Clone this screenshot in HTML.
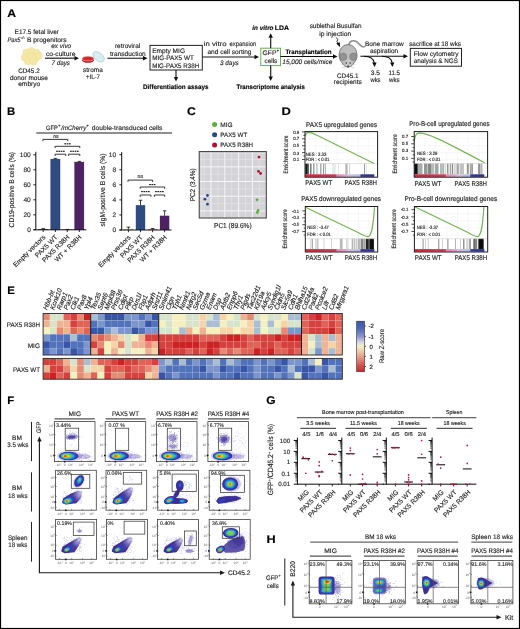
<!DOCTYPE html>
<html><head><meta charset="utf-8"><style>
html,body{margin:0;padding:0;background:#fff;overflow:hidden;}
svg{display:block;will-change:transform;}
text{font-family:"Liberation Sans", sans-serif;text-rendering:geometricPrecision;}
</style></head><body>
<svg width="520" height="629" viewBox="0 0 520 629" fill="#1e1e1e">
<defs>
<filter id="gblur" x="0" y="0" width="100%" height="100%" filterUnits="userSpaceOnUse"><feGaussianBlur stdDeviation="0.28"/></filter>
<filter id="bl45" x="-30%" y="-30%" width="160%" height="160%"><feGaussianBlur stdDeviation="0.45"/></filter>
<filter id="bl30" x="-30%" y="-30%" width="160%" height="160%"><feGaussianBlur stdDeviation="0.3"/></filter>
<filter id="bl70" x="-30%" y="-30%" width="160%" height="160%"><feGaussianBlur stdDeviation="0.7"/></filter>
</defs>
<rect x="0" y="0" width="520" height="629" fill="#fff"/>
<g filter="url(#gblur)">
<text stroke="#000" stroke-width="0.14" x="7.20" y="16.60" font-size="11" font-weight="bold" fill="#000" textLength="8.80" lengthAdjust="spacingAndGlyphs" >A</text>
<text stroke="#1e1e1e" stroke-width="0.14" x="14.60" y="34.30" font-size="6.6" textLength="44.40" lengthAdjust="spacingAndGlyphs" >E17.5 fetal liver</text>
<text stroke="#1e1e1e" stroke-width="0.14" x="7.40" y="41.50" font-size="6.6" font-style="italic" textLength="13.20" lengthAdjust="spacingAndGlyphs" >Pax5</text>
<text stroke="#1e1e1e" stroke-width="0.14" x="20.80" y="38.50" font-size="3.6" textLength="4.20" lengthAdjust="spacingAndGlyphs" >-/-</text>
<text stroke="#1e1e1e" stroke-width="0.14" x="27.00" y="41.50" font-size="6.6" textLength="39.50" lengthAdjust="spacingAndGlyphs" >B progenitors</text>
<circle cx="26.5" cy="52.5" r="3.6" fill="#f6e7a6" stroke="#eddc90" stroke-width="0.5"/>
<circle cx="31.5" cy="51.0" r="3.6" fill="#f6e7a6" stroke="#eddc90" stroke-width="0.5"/>
<circle cx="36.5" cy="52.8" r="3.6" fill="#f6e7a6" stroke="#eddc90" stroke-width="0.5"/>
<circle cx="24.8" cy="57.5" r="3.6" fill="#f6e7a6" stroke="#eddc90" stroke-width="0.5"/>
<circle cx="30.5" cy="56.5" r="3.6" fill="#f6e7a6" stroke="#eddc90" stroke-width="0.5"/>
<circle cx="36.0" cy="57.8" r="3.6" fill="#f6e7a6" stroke="#eddc90" stroke-width="0.5"/>
<circle cx="38.8" cy="55.5" r="3.6" fill="#f6e7a6" stroke="#eddc90" stroke-width="0.5"/>
<circle cx="28.0" cy="61.2" r="3.6" fill="#f6e7a6" stroke="#eddc90" stroke-width="0.5"/>
<circle cx="33.5" cy="61.5" r="3.6" fill="#f6e7a6" stroke="#eddc90" stroke-width="0.5"/>
<text stroke="#1e1e1e" stroke-width="0.14" x="18.20" y="72.50" font-size="6.6" textLength="21.50" lengthAdjust="spacingAndGlyphs" >CD45.2</text>
<text stroke="#1e1e1e" stroke-width="0.14" x="10.00" y="79.90" font-size="6.6" textLength="38.00" lengthAdjust="spacingAndGlyphs" >donor mouse</text>
<text stroke="#1e1e1e" stroke-width="0.14" x="18.20" y="86.10" font-size="6.6" textLength="22.10" lengthAdjust="spacingAndGlyphs" >embryo</text>
<text stroke="#1e1e1e" stroke-width="0.14" x="51.20" y="47.90" font-size="6.6" font-style="italic" textLength="20.00" lengthAdjust="spacingAndGlyphs" >ex vivo</text>
<text stroke="#1e1e1e" stroke-width="0.14" x="46.00" y="55.50" font-size="6.6" textLength="29.40" lengthAdjust="spacingAndGlyphs" >co-culture</text>
<line x1="45.00" y1="58.20" x2="75.00" y2="58.20" stroke="#111" stroke-width="1.1" />
<polygon points="79.00,58.20 74.50,56.00 74.50,60.40" fill="#111"/>
<text stroke="#1e1e1e" stroke-width="0.14" x="51.50" y="65.30" font-size="6.6" font-style="italic" textLength="18.50" lengthAdjust="spacingAndGlyphs" >7 days</text>
<ellipse cx="98.6" cy="56.8" rx="6.6" ry="4.0" transform="rotate(40 98.6 56.8)" fill="#d9edf3" stroke="#9cc3d2" stroke-width="0.6"/>
<ellipse cx="88" cy="59.8" rx="6.1" ry="3.0" fill="#b8161e"/>
<ellipse cx="88" cy="58.6" rx="5.9" ry="2.4" fill="#d42a32" stroke="#f0c4c4" stroke-width="0.6"/>
<text stroke="#1e1e1e" stroke-width="0.14" x="83.00" y="71.70" font-size="6.6" textLength="19.80" lengthAdjust="spacingAndGlyphs" >stroma</text>
<text stroke="#1e1e1e" stroke-width="0.14" x="86.00" y="79.00" font-size="6.6" textLength="14.00" lengthAdjust="spacingAndGlyphs" >+IL-7</text>
<text stroke="#1e1e1e" stroke-width="0.14" x="114.90" y="47.70" font-size="6.6" textLength="25.40" lengthAdjust="spacingAndGlyphs" >retroviral</text>
<text stroke="#1e1e1e" stroke-width="0.14" x="110.00" y="55.50" font-size="6.6" textLength="35.70" lengthAdjust="spacingAndGlyphs" >transduction</text>
<line x1="107.40" y1="58.20" x2="143.50" y2="58.20" stroke="#111" stroke-width="1.1" />
<polygon points="147.50,58.20 143.00,56.00 143.00,60.40" fill="#111"/>
<rect x="150.00" y="45.40" width="52.30" height="24.60" fill="none" stroke="#222" stroke-width="1" />
<text stroke="#1e1e1e" stroke-width="0.14" x="152.20" y="52.50" font-size="6.6" textLength="32.80" lengthAdjust="spacingAndGlyphs" >Empty MIG</text>
<text stroke="#1e1e1e" stroke-width="0.14" x="152.20" y="60.10" font-size="6.6" textLength="41.60" lengthAdjust="spacingAndGlyphs" >MIG-PAX5 WT</text>
<text stroke="#1e1e1e" stroke-width="0.14" x="152.20" y="67.80" font-size="6.6" textLength="47.00" lengthAdjust="spacingAndGlyphs" >MIG-PAX5 R38H</text>
<line x1="176.00" y1="70.00" x2="176.00" y2="77.60" stroke="#111" stroke-width="1.1" />
<polygon points="176.00,81.60 173.80,77.10 178.20,77.10" fill="#111"/>
<text stroke="#000" stroke-width="0.14" x="143.00" y="88.70" font-size="6.4" font-weight="bold" fill="#000" textLength="65.50" lengthAdjust="spacingAndGlyphs" >Differentiation assays</text>
<text stroke="#1e1e1e" stroke-width="0.14" x="203.80" y="46.30" font-size="6.6" textLength="22.70" lengthAdjust="spacingAndGlyphs" >in vitro</text>
<text stroke="#1e1e1e" stroke-width="0.14" x="229.50" y="46.30" font-size="6.6" textLength="26.70" lengthAdjust="spacingAndGlyphs" >expansion</text>
<text stroke="#1e1e1e" stroke-width="0.14" x="207.40" y="54.30" font-size="6.6" textLength="44.10" lengthAdjust="spacingAndGlyphs" >and cell sorting</text>
<line x1="202.30" y1="57.00" x2="255.00" y2="57.00" stroke="#111" stroke-width="1.1" />
<polygon points="259.00,57.00 254.50,54.80 254.50,59.20" fill="#111"/>
<text stroke="#1e1e1e" stroke-width="0.14" x="220.00" y="64.50" font-size="6.6" font-style="italic" textLength="18.80" lengthAdjust="spacingAndGlyphs" >3 days</text>
<rect x="260.80" y="48.20" width="19.70" height="17.40" fill="none" stroke="#6ab04c" stroke-width="1" />
<text stroke="#1e1e1e" stroke-width="0.14" x="262.60" y="55.30" font-size="6.6" textLength="13.90" lengthAdjust="spacingAndGlyphs" >GFP</text>
<text stroke="#1e1e1e" stroke-width="0.14" x="276.70" y="52.00" font-size="3.8" >+</text>
<text stroke="#1e1e1e" stroke-width="0.14" x="264.60" y="62.50" font-size="6.6" textLength="12.60" lengthAdjust="spacingAndGlyphs" >cells</text>
<line x1="270.70" y1="48.20" x2="270.70" y2="37.20" stroke="#111" stroke-width="1.1" />
<polygon points="270.70,33.20 268.50,37.70 272.90,37.70" fill="#111"/>
<line x1="270.70" y1="65.60" x2="270.70" y2="76.90" stroke="#111" stroke-width="1.1" />
<polygon points="270.70,80.90 268.50,76.40 272.90,76.40" fill="#111"/>
<text stroke="#000" stroke-width="0.14" x="252.30" y="30.10" font-size="6.4" font-weight="bold" font-style="italic" fill="#000" textLength="21.20" lengthAdjust="spacingAndGlyphs" >in vitro</text>
<text stroke="#000" stroke-width="0.14" x="274.80" y="30.10" font-size="6.4" font-weight="bold" fill="#000" textLength="14.20" lengthAdjust="spacingAndGlyphs" >LDA</text>
<text stroke="#000" stroke-width="0.14" x="236.50" y="88.70" font-size="6.4" font-weight="bold" fill="#000" textLength="68.50" lengthAdjust="spacingAndGlyphs" >Transcriptome analysis</text>
<text stroke="#000" stroke-width="0.14" x="285.40" y="54.10" font-size="6.6" font-weight="bold" fill="#000" textLength="46.10" lengthAdjust="spacingAndGlyphs" >Transplantation</text>
<line x1="280.50" y1="56.50" x2="333.50" y2="56.50" stroke="#111" stroke-width="1.1" />
<polygon points="337.50,56.50 333.00,54.30 333.00,58.70" fill="#111"/>
<text stroke="#1e1e1e" stroke-width="0.14" x="282.30" y="63.80" font-size="6.6" font-style="italic" textLength="50.00" lengthAdjust="spacingAndGlyphs" >15,000 cells/mice</text>
<text stroke="#1e1e1e" stroke-width="0.14" x="309.70" y="27.90" font-size="6.6" textLength="51.80" lengthAdjust="spacingAndGlyphs" >sublethal Busulfan</text>
<text stroke="#1e1e1e" stroke-width="0.14" x="319.20" y="35.50" font-size="6.6" textLength="32.00" lengthAdjust="spacingAndGlyphs" >ip injection</text>
<path d="M336.3,37.4 L337.9,39.8 L336.8,41.2 L338.2,43.6" fill="none" stroke="#111" stroke-width="0.8"/>
<polygon points="340.2,47.3 336.2,43.6 339.8,42.3" fill="#111"/>
<path d="M348.8,44.8 C349.6,41.2 352.6,40.0 355.6,41.2 C358.6,42.5 360.6,46.6 363.2,46.9 C364.3,47.0 364.9,46.4 365.1,45.9" fill="none" stroke="#6a6a6a" stroke-width="1.4"/>
<path d="M348.8,44.8 C349.6,41.2 352.6,40.0 355.6,41.2 C358.6,42.5 360.6,46.6 363.2,46.9 C364.3,47.0 364.9,46.4 365.1,45.9" fill="none" stroke="#d0d0d0" stroke-width="0.5"/>
<path d="M348.0,44.6 C353.6,44.6 357.0,49.6 357.0,55.2 C357.0,60.2 353.4,63.8 350.8,66.3 Q348.0,68.4 345.2,66.3 C342.6,63.8 339.1,60.2 339.1,55.2 C339.1,49.6 342.4,44.6 348.0,44.6 Z" fill="#bcbcbc" stroke="#555" stroke-width="0.7"/>
<circle cx="343.1" cy="56.8" r="3.7" fill="#929292" stroke="#666" stroke-width="0.4"/>
<circle cx="353.4" cy="56.8" r="3.7" fill="#929292" stroke="#666" stroke-width="0.4"/>
<path d="M345.0,60.5 Q348.2,58.5 351.4,60.5 L350.6,65.8 Q348.2,67.4 345.8,65.8 Z" fill="#c6c6c6"/>
<circle cx="346.3" cy="62.9" r="0.75" fill="#333"/><circle cx="350.1" cy="62.9" r="0.75" fill="#333"/>
<circle cx="348.2" cy="66.4" r="0.9" fill="#333"/>
<path d="M345.2,65.2 L341.2,64.4 M345.4,66.2 L341.8,67.8 M346.0,66.8 L343.6,69.0 M351.2,65.2 L355.2,64.4 M351.0,66.2 L354.6,67.8 M350.4,66.8 L352.8,69.0" stroke="#aaa" stroke-width="0.45"/>
<text stroke="#1e1e1e" stroke-width="0.14" x="337.00" y="77.80" font-size="6.6" textLength="21.50" lengthAdjust="spacingAndGlyphs" >CD45.1</text>
<text stroke="#1e1e1e" stroke-width="0.14" x="333.80" y="84.30" font-size="6.6" textLength="28.00" lengthAdjust="spacingAndGlyphs" >recipients</text>
<text stroke="#1e1e1e" stroke-width="0.14" x="365.00" y="45.90" font-size="6.6" textLength="38.80" lengthAdjust="spacingAndGlyphs" >Bone marrow</text>
<text stroke="#1e1e1e" stroke-width="0.14" x="370.00" y="53.40" font-size="6.6" textLength="28.20" lengthAdjust="spacingAndGlyphs" >aspiration</text>
<line x1="360.30" y1="56.30" x2="404.00" y2="56.30" stroke="#111" stroke-width="1.1" />
<polygon points="408.00,56.30 403.50,54.10 403.50,58.50" fill="#111"/>
<path d="M364,56.3 C370,56.3 373.5,58.5 374.3,63.0" fill="none" stroke="#111" stroke-width="1.1"/>
<polygon points="374.6,67.0 372.2,62.5 376.6,62.6" fill="#111"/>
<path d="M382,56.3 C388,56.3 391.5,58.5 392.2,63.0" fill="none" stroke="#111" stroke-width="1.1"/>
<polygon points="392.4,67.0 390.0,62.5 394.4,62.6" fill="#111"/>
<text stroke="#1e1e1e" stroke-width="0.14" x="370.80" y="74.70" font-size="6.6" textLength="9.20" lengthAdjust="spacingAndGlyphs" >3.5</text>
<text stroke="#1e1e1e" stroke-width="0.14" x="370.50" y="81.70" font-size="6.6" textLength="10.00" lengthAdjust="spacingAndGlyphs" >wks</text>
<text stroke="#1e1e1e" stroke-width="0.14" x="388.50" y="74.70" font-size="6.6" textLength="11.50" lengthAdjust="spacingAndGlyphs" >11.5</text>
<text stroke="#1e1e1e" stroke-width="0.14" x="389.00" y="81.70" font-size="6.6" textLength="10.50" lengthAdjust="spacingAndGlyphs" >wks</text>
<text stroke="#1e1e1e" stroke-width="0.14" x="409.20" y="45.90" font-size="6.6" textLength="51.80" lengthAdjust="spacingAndGlyphs" >sacrifice at 18 wks</text>
<rect x="410.30" y="48.40" width="51.20" height="17.80" fill="none" stroke="#222" stroke-width="1" />
<text stroke="#1e1e1e" stroke-width="0.14" x="413.80" y="55.50" font-size="6.6" textLength="44.70" lengthAdjust="spacingAndGlyphs" >Flow cytometry</text>
<text stroke="#1e1e1e" stroke-width="0.14" x="413.80" y="63.20" font-size="6.6" textLength="44.20" lengthAdjust="spacingAndGlyphs" >analysis &amp; NGS</text>
<text stroke="#000" stroke-width="0.14" x="7.00" y="115.10" font-size="11" font-weight="bold" fill="#000" textLength="8.20" lengthAdjust="spacingAndGlyphs" >B</text>
<text stroke="#1e1e1e" stroke-width="0.14" x="46.00" y="129.80" font-size="6.4" textLength="11.80" lengthAdjust="spacingAndGlyphs" >GFP</text>
<text stroke="#1e1e1e" stroke-width="0.14" x="58.20" y="127.00" font-size="3.8" >+</text>
<text stroke="#1e1e1e" stroke-width="0.14" x="61.20" y="129.80" font-size="6.4" font-style="italic" textLength="25.00" lengthAdjust="spacingAndGlyphs" >/mCherry</text>
<text stroke="#1e1e1e" stroke-width="0.14" x="86.60" y="127.00" font-size="3.8" >+</text>
<text stroke="#1e1e1e" stroke-width="0.14" x="91.80" y="129.80" font-size="6.4" textLength="70.60" lengthAdjust="spacingAndGlyphs" >double-transduced cells</text>
<line x1="36.30" y1="133.00" x2="172.00" y2="133.00" stroke="#6a6a6a" stroke-width="1.4" />
<rect x="38.60" y="229.05" width="9.20" height="0.75" fill="#3a3a3a" />
<line x1="43.20" y1="229.05" x2="43.20" y2="228.60" stroke="#111" stroke-width="0.8" />
<line x1="41.40" y1="228.60" x2="45.00" y2="228.60" stroke="#111" stroke-width="0.8" />
<rect x="50.80" y="159.15" width="9.20" height="70.65" fill="#2d4b82" stroke="#1c2a48" stroke-width="0.4" />
<line x1="55.40" y1="159.15" x2="55.40" y2="158.40" stroke="#111" stroke-width="0.8" />
<line x1="53.60" y1="158.40" x2="57.20" y2="158.40" stroke="#111" stroke-width="0.8" />
<rect x="62.70" y="229.58" width="9.20" height="0.22" fill="#7a1030" />
<line x1="67.30" y1="229.58" x2="67.30" y2="229.43" stroke="#111" stroke-width="0.8" />
<line x1="65.50" y1="229.43" x2="69.10" y2="229.43" stroke="#111" stroke-width="0.8" />
<rect x="74.70" y="162.08" width="9.20" height="67.72" fill="#4e2462" stroke="#35163f" stroke-width="0.4" />
<line x1="79.30" y1="162.08" x2="79.30" y2="161.40" stroke="#111" stroke-width="0.8" />
<line x1="77.50" y1="161.40" x2="81.10" y2="161.40" stroke="#111" stroke-width="0.8" />
<line x1="35.80" y1="151.80" x2="35.80" y2="229.80" stroke="#111" stroke-width="1.0" />
<line x1="33.40" y1="229.80" x2="86.30" y2="229.80" stroke="#111" stroke-width="1.0" />
<line x1="33.40" y1="229.80" x2="35.80" y2="229.80" stroke="#111" stroke-width="0.9" />
<text stroke="#1e1e1e" stroke-width="0.14" x="30.80" y="232.10" font-size="6.6" text-anchor="end" >0</text>
<line x1="33.40" y1="214.80" x2="35.80" y2="214.80" stroke="#111" stroke-width="0.9" />
<text stroke="#1e1e1e" stroke-width="0.14" x="30.80" y="217.10" font-size="6.6" text-anchor="end" >20</text>
<line x1="33.40" y1="199.80" x2="35.80" y2="199.80" stroke="#111" stroke-width="0.9" />
<text stroke="#1e1e1e" stroke-width="0.14" x="30.80" y="202.10" font-size="6.6" text-anchor="end" >40</text>
<line x1="33.40" y1="184.80" x2="35.80" y2="184.80" stroke="#111" stroke-width="0.9" />
<text stroke="#1e1e1e" stroke-width="0.14" x="30.80" y="187.10" font-size="6.6" text-anchor="end" >60</text>
<line x1="33.40" y1="169.80" x2="35.80" y2="169.80" stroke="#111" stroke-width="0.9" />
<text stroke="#1e1e1e" stroke-width="0.14" x="30.80" y="172.10" font-size="6.6" text-anchor="end" >80</text>
<line x1="33.40" y1="154.80" x2="35.80" y2="154.80" stroke="#111" stroke-width="0.9" />
<text stroke="#1e1e1e" stroke-width="0.14" x="30.80" y="157.10" font-size="6.6" text-anchor="end" >100</text>
<line x1="43.20" y1="229.80" x2="43.20" y2="232.00" stroke="#111" stroke-width="0.9" />
<line x1="55.40" y1="229.80" x2="55.40" y2="232.00" stroke="#111" stroke-width="0.9" />
<line x1="67.30" y1="229.80" x2="67.30" y2="232.00" stroke="#111" stroke-width="0.9" />
<line x1="79.30" y1="229.80" x2="79.30" y2="232.00" stroke="#111" stroke-width="0.9" />
<text stroke="#1e1e1e" stroke-width="0.14" font-size="7.2" text-anchor="middle" transform="translate(14.0,189.7) rotate(-90)" textLength="75.4" lengthAdjust="spacingAndGlyphs">CD19-positive B cells (%)</text>
<text stroke="#1e1e1e" stroke-width="0.14" font-size="6.7" text-anchor="end" transform="translate(45.80,237.6) rotate(-45)">Empty vectors</text>
<text stroke="#1e1e1e" stroke-width="0.14" font-size="6.7" text-anchor="end" transform="translate(58.00,237.6) rotate(-45)">PAX5 WT</text>
<text stroke="#1e1e1e" stroke-width="0.14" font-size="6.7" text-anchor="end" transform="translate(69.90,237.6) rotate(-45)">PAX5 R38H</text>
<text stroke="#1e1e1e" stroke-width="0.14" font-size="6.7" text-anchor="end" transform="translate(81.90,237.6) rotate(-45)">WT + R38H</text>
<path d="M42.90,141.20 L42.90,139.40 L67.80,139.40 L67.80,141.20" fill="none" stroke="#222" stroke-width="0.9"/>
<text stroke="#1e1e1e" stroke-width="0.14" x="55.90" y="137.60" font-size="5.2" text-anchor="middle" >ns</text>
<rect x="64.35" y="143.20" width="1.7" height="1.2" fill="#222"/>
<rect x="66.65" y="143.20" width="1.7" height="1.2" fill="#222"/>
<rect x="68.95" y="143.20" width="1.7" height="1.2" fill="#222"/>
<path d="M55.10,148.10 L55.10,146.30 L79.80,146.30 L79.80,148.10" fill="none" stroke="#222" stroke-width="0.9"/>
<rect x="56.10" y="150.70" width="1.7" height="1.2" fill="#222"/>
<rect x="58.40" y="150.70" width="1.7" height="1.2" fill="#222"/>
<rect x="60.70" y="150.70" width="1.7" height="1.2" fill="#222"/>
<rect x="63.00" y="150.70" width="1.7" height="1.2" fill="#222"/>
<rect x="70.10" y="150.70" width="1.7" height="1.2" fill="#222"/>
<rect x="72.40" y="150.70" width="1.7" height="1.2" fill="#222"/>
<rect x="74.70" y="150.70" width="1.7" height="1.2" fill="#222"/>
<rect x="77.00" y="150.70" width="1.7" height="1.2" fill="#222"/>
<path d="M55.10,156.00 L55.10,154.20 L65.80,154.20 L65.80,156.00" fill="none" stroke="#222" stroke-width="0.9"/>
<path d="M68.60,156.00 L68.60,154.20 L79.80,154.20 L79.80,156.00" fill="none" stroke="#222" stroke-width="0.9"/>
<rect x="123.70" y="229.40" width="9.40" height="0.60" fill="#55a035" />
<line x1="128.40" y1="229.40" x2="128.40" y2="227.14" stroke="#111" stroke-width="0.8" />
<line x1="126.60" y1="227.14" x2="130.20" y2="227.14" stroke="#111" stroke-width="0.8" />
<rect x="135.80" y="205.15" width="9.40" height="24.85" fill="#2d4b82" />
<line x1="140.50" y1="205.15" x2="140.50" y2="200.26" stroke="#111" stroke-width="0.8" />
<line x1="138.70" y1="200.26" x2="142.30" y2="200.26" stroke="#111" stroke-width="0.8" />
<rect x="147.90" y="229.40" width="9.40" height="0.60" fill="#b0183a" />
<line x1="152.60" y1="229.40" x2="152.60" y2="228.49" stroke="#111" stroke-width="0.8" />
<line x1="150.80" y1="228.49" x2="154.40" y2="228.49" stroke="#111" stroke-width="0.8" />
<rect x="159.90" y="215.69" width="9.40" height="14.31" fill="#4e2462" />
<line x1="164.60" y1="215.69" x2="164.60" y2="210.80" stroke="#111" stroke-width="0.8" />
<line x1="162.80" y1="210.80" x2="166.40" y2="210.80" stroke="#111" stroke-width="0.8" />
<line x1="121.70" y1="152.10" x2="121.70" y2="230.00" stroke="#111" stroke-width="1.0" />
<line x1="119.40" y1="230.00" x2="171.50" y2="230.00" stroke="#111" stroke-width="1.0" />
<line x1="119.40" y1="230.00" x2="121.70" y2="230.00" stroke="#111" stroke-width="0.9" />
<text stroke="#1e1e1e" stroke-width="0.14" x="116.20" y="232.30" font-size="6.6" text-anchor="end" >0</text>
<line x1="119.40" y1="214.94" x2="121.70" y2="214.94" stroke="#111" stroke-width="0.9" />
<text stroke="#1e1e1e" stroke-width="0.14" x="116.20" y="217.24" font-size="6.6" text-anchor="end" >2</text>
<line x1="119.40" y1="199.88" x2="121.70" y2="199.88" stroke="#111" stroke-width="0.9" />
<text stroke="#1e1e1e" stroke-width="0.14" x="116.20" y="202.18" font-size="6.6" text-anchor="end" >4</text>
<line x1="119.40" y1="184.82" x2="121.70" y2="184.82" stroke="#111" stroke-width="0.9" />
<text stroke="#1e1e1e" stroke-width="0.14" x="116.20" y="187.12" font-size="6.6" text-anchor="end" >6</text>
<line x1="119.40" y1="169.76" x2="121.70" y2="169.76" stroke="#111" stroke-width="0.9" />
<text stroke="#1e1e1e" stroke-width="0.14" x="116.20" y="172.06" font-size="6.6" text-anchor="end" >8</text>
<line x1="119.40" y1="154.70" x2="121.70" y2="154.70" stroke="#111" stroke-width="0.9" />
<text stroke="#1e1e1e" stroke-width="0.14" x="116.20" y="157.00" font-size="6.6" text-anchor="end" >10</text>
<line x1="128.40" y1="230.00" x2="128.40" y2="232.20" stroke="#111" stroke-width="0.9" />
<line x1="140.50" y1="230.00" x2="140.50" y2="232.20" stroke="#111" stroke-width="0.9" />
<line x1="152.60" y1="230.00" x2="152.60" y2="232.20" stroke="#111" stroke-width="0.9" />
<line x1="164.60" y1="230.00" x2="164.60" y2="232.20" stroke="#111" stroke-width="0.9" />
<text stroke="#1e1e1e" stroke-width="0.14" font-size="7.2" text-anchor="middle" transform="translate(105.4,190.0) rotate(-90)" textLength="73" lengthAdjust="spacingAndGlyphs">sIgM-positive B cells (%)</text>
<text stroke="#1e1e1e" stroke-width="0.14" font-size="6.7" text-anchor="end" transform="translate(131.00,237.8) rotate(-45)">Empty vectors</text>
<text stroke="#1e1e1e" stroke-width="0.14" font-size="6.7" text-anchor="end" transform="translate(143.10,237.8) rotate(-45)">PAX5 WT</text>
<text stroke="#1e1e1e" stroke-width="0.14" font-size="6.7" text-anchor="end" transform="translate(155.20,237.8) rotate(-45)">PAX5 R38H</text>
<text stroke="#1e1e1e" stroke-width="0.14" font-size="6.7" text-anchor="end" transform="translate(167.20,237.8) rotate(-45)">WT + R38H</text>
<path d="M128.00,181.90 L128.00,180.10 L152.60,180.10 L152.60,181.90" fill="none" stroke="#222" stroke-width="0.9"/>
<text stroke="#1e1e1e" stroke-width="0.14" x="140.30" y="177.80" font-size="5.2" text-anchor="middle" >ns</text>
<rect x="149.15" y="184.00" width="1.7" height="1.2" fill="#222"/>
<rect x="151.45" y="184.00" width="1.7" height="1.2" fill="#222"/>
<rect x="153.75" y="184.00" width="1.7" height="1.2" fill="#222"/>
<path d="M140.20,188.80 L140.20,187.00 L164.70,187.00 L164.70,188.80" fill="none" stroke="#222" stroke-width="0.9"/>
<rect x="141.10" y="191.00" width="1.7" height="1.2" fill="#222"/>
<rect x="143.40" y="191.00" width="1.7" height="1.2" fill="#222"/>
<rect x="145.70" y="191.00" width="1.7" height="1.2" fill="#222"/>
<rect x="148.00" y="191.00" width="1.7" height="1.2" fill="#222"/>
<rect x="155.10" y="191.00" width="1.7" height="1.2" fill="#222"/>
<rect x="157.40" y="191.00" width="1.7" height="1.2" fill="#222"/>
<rect x="159.70" y="191.00" width="1.7" height="1.2" fill="#222"/>
<rect x="162.00" y="191.00" width="1.7" height="1.2" fill="#222"/>
<path d="M140.20,196.80 L140.20,195.00 L150.90,195.00 L150.90,196.80" fill="none" stroke="#222" stroke-width="0.9"/>
<path d="M154.40,196.80 L154.40,195.00 L164.70,195.00 L164.70,196.80" fill="none" stroke="#222" stroke-width="0.9"/>
<text stroke="#000" stroke-width="0.14" x="187.00" y="115.30" font-size="11" font-weight="bold" fill="#000" textLength="8.80" lengthAdjust="spacingAndGlyphs" >C</text>
<circle cx="214.6" cy="124.5" r="2.5" fill="#5fae3c"/>
<text stroke="#1e1e1e" stroke-width="0.14" x="220.30" y="126.70" font-size="6.3" textLength="12.30" lengthAdjust="spacingAndGlyphs" >MIG</text>
<circle cx="214.6" cy="134.7" r="2.5" fill="#264a8c"/>
<text stroke="#1e1e1e" stroke-width="0.14" x="220.30" y="136.90" font-size="6.3" textLength="26.90" lengthAdjust="spacingAndGlyphs" >PAX5 WT</text>
<circle cx="214.6" cy="145.0" r="2.5" fill="#b21032"/>
<text stroke="#1e1e1e" stroke-width="0.14" x="220.30" y="147.10" font-size="6.3" textLength="32.70" lengthAdjust="spacingAndGlyphs" >PAX5 R38H</text>
<rect x="199.20" y="151.60" width="67.10" height="66.40" fill="#d4d4d8" />
<line x1="204.30" y1="151.60" x2="204.30" y2="218.00" stroke="#e6e6ea" stroke-width="0.6" />
<line x1="211.00" y1="151.60" x2="211.00" y2="218.00" stroke="#f6f6f8" stroke-width="1.0" />
<line x1="217.90" y1="151.60" x2="217.90" y2="218.00" stroke="#e6e6ea" stroke-width="0.6" />
<line x1="224.80" y1="151.60" x2="224.80" y2="218.00" stroke="#f6f6f8" stroke-width="1.0" />
<line x1="231.70" y1="151.60" x2="231.70" y2="218.00" stroke="#e6e6ea" stroke-width="0.6" />
<line x1="238.60" y1="151.60" x2="238.60" y2="218.00" stroke="#f6f6f8" stroke-width="1.0" />
<line x1="245.50" y1="151.60" x2="245.50" y2="218.00" stroke="#e6e6ea" stroke-width="0.6" />
<line x1="252.40" y1="151.60" x2="252.40" y2="218.00" stroke="#f6f6f8" stroke-width="1.0" />
<line x1="259.30" y1="151.60" x2="259.30" y2="218.00" stroke="#e6e6ea" stroke-width="0.6" />
<line x1="199.20" y1="159.50" x2="266.30" y2="159.50" stroke="#e6e6ea" stroke-width="0.6" />
<line x1="199.20" y1="166.80" x2="266.30" y2="166.80" stroke="#f6f6f8" stroke-width="1.0" />
<line x1="199.20" y1="174.20" x2="266.30" y2="174.20" stroke="#e6e6ea" stroke-width="0.6" />
<line x1="199.20" y1="181.50" x2="266.30" y2="181.50" stroke="#f6f6f8" stroke-width="1.0" />
<line x1="199.20" y1="188.90" x2="266.30" y2="188.90" stroke="#e6e6ea" stroke-width="0.6" />
<line x1="199.20" y1="196.20" x2="266.30" y2="196.20" stroke="#f6f6f8" stroke-width="1.0" />
<line x1="199.20" y1="203.60" x2="266.30" y2="203.60" stroke="#e6e6ea" stroke-width="0.6" />
<line x1="199.20" y1="210.90" x2="266.30" y2="210.90" stroke="#f6f6f8" stroke-width="1.0" />
<line x1="201.60" y1="151.60" x2="201.60" y2="218.00" stroke="#e6e6ea" stroke-width="0.6" />
<line x1="199.20" y1="153.50" x2="266.30" y2="153.50" stroke="#e6e6ea" stroke-width="0.6" />
<rect x="199.20" y="151.60" width="67.10" height="66.40" fill="none" stroke="#3a3a3a" stroke-width="1.0" />
<circle cx="259.0" cy="157.1" r="1.4" fill="#b21032"/>
<circle cx="258.5" cy="171.3" r="1.4" fill="#b21032"/>
<circle cx="260.6" cy="173.5" r="1.4" fill="#b21032"/>
<circle cx="207.5" cy="195.5" r="1.4" fill="#264a8c"/>
<circle cx="204.9" cy="199.2" r="1.4" fill="#264a8c"/>
<circle cx="207.5" cy="204.2" r="1.4" fill="#264a8c"/>
<circle cx="257.1" cy="199.8" r="1.4" fill="#5fae3c"/>
<circle cx="258.2" cy="210.4" r="1.4" fill="#5fae3c"/>
<circle cx="257.3" cy="212.5" r="1.4" fill="#5fae3c"/>
<text stroke="#1e1e1e" stroke-width="0.14" x="214.00" y="228.00" font-size="7.2" textLength="37.60" lengthAdjust="spacingAndGlyphs" >PC1 (89.6%)</text>
<text stroke="#1e1e1e" stroke-width="0.14" font-size="7.2" text-anchor="middle" transform="translate(194.6,184.8) rotate(-90)" textLength="32.8" lengthAdjust="spacingAndGlyphs">PC2 (3.4%)</text>
<text stroke="#000" stroke-width="0.14" x="281.60" y="115.30" font-size="11" font-weight="bold" fill="#000" textLength="9.40" lengthAdjust="spacingAndGlyphs" >D</text>
<line x1="315.66" y1="131.60" x2="315.66" y2="163.50" stroke="#eeeeee" stroke-width="0.45" />
<line x1="326.32" y1="131.60" x2="326.32" y2="163.50" stroke="#eeeeee" stroke-width="0.45" />
<line x1="336.98" y1="131.60" x2="336.98" y2="163.50" stroke="#eeeeee" stroke-width="0.45" />
<line x1="347.65" y1="131.60" x2="347.65" y2="163.50" stroke="#eeeeee" stroke-width="0.45" />
<line x1="358.31" y1="131.60" x2="358.31" y2="163.50" stroke="#eeeeee" stroke-width="0.45" />
<line x1="368.97" y1="131.60" x2="368.97" y2="163.50" stroke="#eeeeee" stroke-width="0.45" />
<line x1="305.00" y1="138.69" x2="377.60" y2="138.69" stroke="#eeeeee" stroke-width="0.45" />
<line x1="305.00" y1="145.78" x2="377.60" y2="145.78" stroke="#eeeeee" stroke-width="0.45" />
<line x1="305.00" y1="152.87" x2="377.60" y2="152.87" stroke="#eeeeee" stroke-width="0.45" />
<line x1="305.00" y1="159.96" x2="377.60" y2="159.96" stroke="#eeeeee" stroke-width="0.45" />
<rect x="305.30" y="163.50" width="1.70" height="10.80" fill="rgb(20,20,20)"/>
<rect x="307.00" y="163.50" width="1.80" height="10.80" fill="rgb(70,70,70)"/>
<rect x="310.10" y="163.50" width="1.40" height="10.80" fill="rgb(110,110,110)"/>
<rect x="313.00" y="163.50" width="1.50" height="10.80" fill="rgb(160,160,160)"/>
<rect x="316.00" y="163.50" width="0.80" height="10.80" fill="rgb(190,190,190)"/>
<rect x="317.30" y="163.50" width="0.70" height="10.80" fill="rgb(205,205,205)"/>
<rect x="320.00" y="163.50" width="1.50" height="10.80" fill="rgb(170,170,170)"/>
<rect x="323.00" y="163.50" width="1.20" height="10.80" fill="rgb(155,155,155)"/>
<rect x="325.00" y="163.50" width="1.00" height="10.80" fill="rgb(185,185,185)"/>
<rect x="332.60" y="163.50" width="0.80" height="10.80" fill="rgb(205,205,205)"/>
<rect x="334.50" y="163.50" width="0.80" height="10.80" fill="rgb(205,205,205)"/>
<rect x="338.40" y="163.50" width="0.60" height="10.80" fill="rgb(215,215,215)"/>
<rect x="345.30" y="163.50" width="2.30" height="10.80" fill="rgb(180,180,180)"/>
<rect x="349.20" y="163.50" width="0.80" height="10.80" fill="rgb(200,200,200)"/>
<rect x="364.20" y="163.50" width="0.80" height="10.80" fill="rgb(130,130,130)"/>
<rect x="366.50" y="163.50" width="0.50" height="10.80" fill="rgb(215,215,215)"/>
<defs><linearGradient id="cb305131" x1="0" x2="1" y1="0" y2="0"><stop offset="0" stop-color="#d42838"/><stop offset="0.2" stop-color="#d02a40"/><stop offset="0.23" stop-color="#c83250"/><stop offset="0.44" stop-color="#cc3a58"/><stop offset="0.46" stop-color="#e088b8"/><stop offset="0.6" stop-color="#e4a0c8"/><stop offset="0.62" stop-color="#cac4e8"/><stop offset="0.79" stop-color="#bcb4e0"/><stop offset="0.81" stop-color="#34389a"/><stop offset="1" stop-color="#28308e"/></linearGradient></defs>
<rect x="305.00" y="174.30" width="69.30" height="2.60" fill="url(#cb305131)" />
<line x1="305.00" y1="163.50" x2="377.60" y2="163.50" stroke="#c8c8c8" stroke-width="0.5" />
<path d="M305.3,136.0 C305.9,133.6 306.8,132.5 308.3,132.4 C310.8,132.4 313.5,133.3 317.0,135.2 L374.1,163.5" fill="none" stroke="#72b552" stroke-width="1.15"/>
<rect x="305.00" y="131.60" width="72.60" height="45.60" fill="none" stroke="#1e1e1e" stroke-width="1.0" />
<line x1="302.00" y1="131.90" x2="305.00" y2="131.90" stroke="#222" stroke-width="0.8" />
<line x1="303.40" y1="135.35" x2="305.00" y2="135.35" stroke="#222" stroke-width="0.8" />
<line x1="302.00" y1="138.80" x2="305.00" y2="138.80" stroke="#222" stroke-width="0.8" />
<line x1="303.40" y1="142.25" x2="305.00" y2="142.25" stroke="#222" stroke-width="0.8" />
<line x1="302.00" y1="145.70" x2="305.00" y2="145.70" stroke="#222" stroke-width="0.8" />
<line x1="303.40" y1="149.15" x2="305.00" y2="149.15" stroke="#222" stroke-width="0.8" />
<line x1="302.00" y1="152.60" x2="305.00" y2="152.60" stroke="#222" stroke-width="0.8" />
<line x1="303.40" y1="156.05" x2="305.00" y2="156.05" stroke="#222" stroke-width="0.8" />
<line x1="302.00" y1="159.50" x2="305.00" y2="159.50" stroke="#222" stroke-width="0.8" />
<text stroke="#1e1e1e" stroke-width="0.14" x="293.20" y="133.55" font-size="4.7" textLength="6.10" lengthAdjust="spacingAndGlyphs" >0.9</text>
<text stroke="#1e1e1e" stroke-width="0.14" x="293.20" y="140.45" font-size="4.7" textLength="6.10" lengthAdjust="spacingAndGlyphs" >0.7</text>
<text stroke="#1e1e1e" stroke-width="0.14" x="293.20" y="147.15" font-size="4.7" textLength="6.10" lengthAdjust="spacingAndGlyphs" >0.5</text>
<text stroke="#1e1e1e" stroke-width="0.14" x="293.20" y="154.55" font-size="4.7" textLength="6.10" lengthAdjust="spacingAndGlyphs" >0.3</text>
<text stroke="#1e1e1e" stroke-width="0.14" x="293.20" y="161.45" font-size="4.7" textLength="6.10" lengthAdjust="spacingAndGlyphs" >0.1</text>
<text stroke="#1e1e1e" stroke-width="0.14" x="306.00" y="126.60" font-size="6.8" textLength="71.10" lengthAdjust="spacingAndGlyphs" >PAX5 upregulated genes</text>
<text stroke="#1e1e1e" stroke-width="0.14" x="305.80" y="156.10" font-size="4.8" textLength="20.50" lengthAdjust="spacingAndGlyphs" >NES : 3.33</text>
<text stroke="#1e1e1e" stroke-width="0.14" x="305.80" y="161.20" font-size="4.8" textLength="23.50" lengthAdjust="spacingAndGlyphs" >FDR : &lt; 0.01</text>
<text stroke="#1e1e1e" stroke-width="0.14" x="305.30" y="185.30" font-size="6.8" textLength="26.90" lengthAdjust="spacingAndGlyphs" >PAX5 WT</text>
<text stroke="#1e1e1e" stroke-width="0.14" x="344.60" y="185.30" font-size="6.8" textLength="32.40" lengthAdjust="spacingAndGlyphs" >PAX5 R38H</text>
<text stroke="#1e1e1e" stroke-width="0.14" font-size="6.4" text-anchor="middle" transform="translate(288.30,154.45) rotate(-90)" textLength="38.10" lengthAdjust="spacingAndGlyphs">Enrichment score</text>
<line x1="424.98" y1="131.60" x2="424.98" y2="163.50" stroke="#eeeeee" stroke-width="0.45" />
<line x1="435.77" y1="131.60" x2="435.77" y2="163.50" stroke="#eeeeee" stroke-width="0.45" />
<line x1="446.55" y1="131.60" x2="446.55" y2="163.50" stroke="#eeeeee" stroke-width="0.45" />
<line x1="457.34" y1="131.60" x2="457.34" y2="163.50" stroke="#eeeeee" stroke-width="0.45" />
<line x1="468.12" y1="131.60" x2="468.12" y2="163.50" stroke="#eeeeee" stroke-width="0.45" />
<line x1="478.91" y1="131.60" x2="478.91" y2="163.50" stroke="#eeeeee" stroke-width="0.45" />
<line x1="414.20" y1="138.69" x2="487.60" y2="138.69" stroke="#eeeeee" stroke-width="0.45" />
<line x1="414.20" y1="145.78" x2="487.60" y2="145.78" stroke="#eeeeee" stroke-width="0.45" />
<line x1="414.20" y1="152.87" x2="487.60" y2="152.87" stroke="#eeeeee" stroke-width="0.45" />
<line x1="414.20" y1="159.96" x2="487.60" y2="159.96" stroke="#eeeeee" stroke-width="0.45" />
<rect x="414.30" y="163.50" width="3.50" height="10.80" fill="rgb(15,15,15)"/>
<rect x="417.80" y="163.50" width="4.70" height="10.80" fill="rgb(170,170,170)"/>
<rect x="424.00" y="163.50" width="3.40" height="10.80" fill="rgb(150,150,150)"/>
<rect x="427.80" y="163.50" width="3.80" height="10.80" fill="rgb(135,135,135)"/>
<rect x="432.00" y="163.50" width="2.30" height="10.80" fill="rgb(185,185,185)"/>
<rect x="435.00" y="163.50" width="3.50" height="10.80" fill="rgb(165,165,165)"/>
<rect x="440.00" y="163.50" width="4.30" height="10.80" fill="rgb(185,185,185)"/>
<rect x="445.00" y="163.50" width="1.20" height="10.80" fill="rgb(215,215,215)"/>
<rect x="447.00" y="163.50" width="1.50" height="10.80" fill="rgb(150,150,150)"/>
<rect x="449.70" y="163.50" width="1.30" height="10.80" fill="rgb(165,165,165)"/>
<rect x="451.80" y="163.50" width="1.20" height="10.80" fill="rgb(135,135,135)"/>
<rect x="453.50" y="163.50" width="2.30" height="10.80" fill="rgb(215,215,215)"/>
<rect x="456.50" y="163.50" width="2.30" height="10.80" fill="rgb(165,165,165)"/>
<rect x="459.50" y="163.50" width="4.50" height="10.80" fill="rgb(195,195,195)"/>
<rect x="466.80" y="163.50" width="2.00" height="10.80" fill="rgb(150,150,150)"/>
<rect x="469.80" y="163.50" width="1.20" height="10.80" fill="rgb(165,165,165)"/>
<rect x="471.50" y="163.50" width="1.10" height="10.80" fill="rgb(100,100,100)"/>
<rect x="478.00" y="163.50" width="2.30" height="10.80" fill="rgb(150,150,150)"/>
<rect x="480.30" y="163.50" width="2.30" height="10.80" fill="rgb(185,185,185)"/>
<defs><linearGradient id="cb414131" x1="0" x2="1" y1="0" y2="0"><stop offset="0" stop-color="#d42838"/><stop offset="0.2" stop-color="#d02a40"/><stop offset="0.23" stop-color="#c83250"/><stop offset="0.44" stop-color="#cc3a58"/><stop offset="0.46" stop-color="#e088b8"/><stop offset="0.6" stop-color="#e4a0c8"/><stop offset="0.62" stop-color="#cac4e8"/><stop offset="0.79" stop-color="#bcb4e0"/><stop offset="0.81" stop-color="#34389a"/><stop offset="1" stop-color="#28308e"/></linearGradient></defs>
<rect x="414.20" y="174.30" width="70.10" height="2.60" fill="url(#cb414131)" />
<line x1="414.20" y1="163.50" x2="487.60" y2="163.50" stroke="#c8c8c8" stroke-width="0.5" />
<path d="M414.3,140.5 C415.0,135.0 416.8,132.9 419.4,132.9 C428,133.4 440,139.0 484.6,162.8" fill="none" stroke="#72b552" stroke-width="1.15"/>
<rect x="414.20" y="131.60" width="73.40" height="45.60" fill="none" stroke="#1e1e1e" stroke-width="1.0" />
<line x1="411.20" y1="136.50" x2="414.20" y2="136.50" stroke="#222" stroke-width="0.8" />
<line x1="412.60" y1="140.15" x2="414.20" y2="140.15" stroke="#222" stroke-width="0.8" />
<line x1="411.20" y1="143.80" x2="414.20" y2="143.80" stroke="#222" stroke-width="0.8" />
<line x1="412.60" y1="147.45" x2="414.20" y2="147.45" stroke="#222" stroke-width="0.8" />
<line x1="411.20" y1="151.10" x2="414.20" y2="151.10" stroke="#222" stroke-width="0.8" />
<line x1="412.60" y1="154.75" x2="414.20" y2="154.75" stroke="#222" stroke-width="0.8" />
<line x1="411.20" y1="158.40" x2="414.20" y2="158.40" stroke="#222" stroke-width="0.8" />
<line x1="412.60" y1="162.05" x2="414.20" y2="162.05" stroke="#222" stroke-width="0.8" />
<text stroke="#1e1e1e" stroke-width="0.14" x="402.10" y="138.15" font-size="4.7" textLength="6.20" lengthAdjust="spacingAndGlyphs" >0.7</text>
<text stroke="#1e1e1e" stroke-width="0.14" x="402.10" y="145.45" font-size="4.7" textLength="6.20" lengthAdjust="spacingAndGlyphs" >0.5</text>
<text stroke="#1e1e1e" stroke-width="0.14" x="402.10" y="152.45" font-size="4.7" textLength="6.20" lengthAdjust="spacingAndGlyphs" >0.3</text>
<text stroke="#1e1e1e" stroke-width="0.14" x="402.10" y="159.95" font-size="4.7" textLength="6.20" lengthAdjust="spacingAndGlyphs" >0.1</text>
<text stroke="#1e1e1e" stroke-width="0.14" x="409.20" y="126.30" font-size="6.8" textLength="80.40" lengthAdjust="spacingAndGlyphs" >Pro-B-cell upregulated genes</text>
<text stroke="#1e1e1e" stroke-width="0.14" x="416.90" y="155.20" font-size="4.8" textLength="20.50" lengthAdjust="spacingAndGlyphs" >NES : 3.29</text>
<text stroke="#1e1e1e" stroke-width="0.14" x="416.90" y="161.40" font-size="4.8" textLength="23.50" lengthAdjust="spacingAndGlyphs" >FDR : &lt; 0.01</text>
<text stroke="#1e1e1e" stroke-width="0.14" x="414.50" y="185.60" font-size="6.8" textLength="26.90" lengthAdjust="spacingAndGlyphs" >PAX5 WT</text>
<text stroke="#1e1e1e" stroke-width="0.14" x="454.60" y="185.60" font-size="6.8" textLength="32.40" lengthAdjust="spacingAndGlyphs" >PAX5 R38H</text>
<text stroke="#1e1e1e" stroke-width="0.14" font-size="6.4" text-anchor="middle" transform="translate(397.00,153.90) rotate(-90)" textLength="39.40" lengthAdjust="spacingAndGlyphs">Enrichment score</text>
<line x1="315.93" y1="206.50" x2="315.93" y2="238.70" stroke="#eeeeee" stroke-width="0.45" />
<line x1="326.56" y1="206.50" x2="326.56" y2="238.70" stroke="#eeeeee" stroke-width="0.45" />
<line x1="337.19" y1="206.50" x2="337.19" y2="238.70" stroke="#eeeeee" stroke-width="0.45" />
<line x1="347.82" y1="206.50" x2="347.82" y2="238.70" stroke="#eeeeee" stroke-width="0.45" />
<line x1="358.45" y1="206.50" x2="358.45" y2="238.70" stroke="#eeeeee" stroke-width="0.45" />
<line x1="369.08" y1="206.50" x2="369.08" y2="238.70" stroke="#eeeeee" stroke-width="0.45" />
<line x1="305.30" y1="213.66" x2="377.70" y2="213.66" stroke="#eeeeee" stroke-width="0.45" />
<line x1="305.30" y1="220.81" x2="377.70" y2="220.81" stroke="#eeeeee" stroke-width="0.45" />
<line x1="305.30" y1="227.97" x2="377.70" y2="227.97" stroke="#eeeeee" stroke-width="0.45" />
<line x1="305.30" y1="235.12" x2="377.70" y2="235.12" stroke="#eeeeee" stroke-width="0.45" />
<rect x="310.00" y="238.70" width="0.70" height="10.40" fill="rgb(205,205,205)"/>
<rect x="311.80" y="238.70" width="0.80" height="10.40" fill="rgb(120,120,120)"/>
<rect x="315.30" y="238.70" width="1.20" height="10.40" fill="rgb(200,200,200)"/>
<rect x="317.20" y="238.70" width="1.20" height="10.40" fill="rgb(185,185,185)"/>
<rect x="323.40" y="238.70" width="1.10" height="10.40" fill="rgb(215,215,215)"/>
<rect x="331.00" y="238.70" width="0.80" height="10.40" fill="rgb(200,200,200)"/>
<rect x="339.90" y="238.70" width="2.70" height="10.40" fill="rgb(185,185,185)"/>
<rect x="346.00" y="238.70" width="1.20" height="10.40" fill="rgb(215,215,215)"/>
<rect x="347.60" y="238.70" width="0.80" height="10.40" fill="rgb(200,200,200)"/>
<rect x="351.80" y="238.70" width="0.80" height="10.40" fill="rgb(130,130,130)"/>
<rect x="353.80" y="238.70" width="0.70" height="10.40" fill="rgb(130,130,130)"/>
<rect x="355.50" y="238.70" width="1.50" height="10.40" fill="rgb(205,205,205)"/>
<rect x="357.60" y="238.70" width="2.70" height="10.40" fill="rgb(185,185,185)"/>
<rect x="360.70" y="238.70" width="2.70" height="10.40" fill="rgb(135,135,135)"/>
<rect x="363.40" y="238.70" width="2.40" height="10.40" fill="rgb(165,165,165)"/>
<rect x="366.00" y="238.70" width="2.80" height="10.40" fill="rgb(35,35,35)"/>
<rect x="368.80" y="238.70" width="0.70" height="10.40" fill="rgb(70,70,70)"/>
<rect x="369.50" y="238.70" width="4.40" height="10.40" fill="rgb(15,15,15)"/>
<defs><linearGradient id="cb305206" x1="0" x2="1" y1="0" y2="0"><stop offset="0" stop-color="#d42838"/><stop offset="0.2" stop-color="#d02a40"/><stop offset="0.23" stop-color="#c83250"/><stop offset="0.44" stop-color="#cc3a58"/><stop offset="0.46" stop-color="#e088b8"/><stop offset="0.6" stop-color="#e4a0c8"/><stop offset="0.62" stop-color="#cac4e8"/><stop offset="0.79" stop-color="#bcb4e0"/><stop offset="0.81" stop-color="#34389a"/><stop offset="1" stop-color="#28308e"/></linearGradient></defs>
<rect x="305.30" y="249.10" width="69.10" height="2.60" fill="url(#cb305206)" />
<line x1="305.30" y1="238.70" x2="377.70" y2="238.70" stroke="#c8c8c8" stroke-width="0.5" />
<path d="M305.5,207.3 L358.0,232.6 C362.5,235.2 366.0,237.0 368.3,236.6 C371.3,235.6 373.0,229 374.5,207.2" fill="none" stroke="#72b552" stroke-width="1.15"/>
<rect x="305.30" y="206.50" width="72.40" height="45.50" fill="none" stroke="#1e1e1e" stroke-width="1.0" />
<line x1="302.30" y1="210.90" x2="305.30" y2="210.90" stroke="#222" stroke-width="0.8" />
<line x1="303.70" y1="214.35" x2="305.30" y2="214.35" stroke="#222" stroke-width="0.8" />
<line x1="302.30" y1="217.80" x2="305.30" y2="217.80" stroke="#222" stroke-width="0.8" />
<line x1="303.70" y1="221.25" x2="305.30" y2="221.25" stroke="#222" stroke-width="0.8" />
<line x1="302.30" y1="224.70" x2="305.30" y2="224.70" stroke="#222" stroke-width="0.8" />
<line x1="303.70" y1="228.15" x2="305.30" y2="228.15" stroke="#222" stroke-width="0.8" />
<line x1="302.30" y1="231.60" x2="305.30" y2="231.60" stroke="#222" stroke-width="0.8" />
<line x1="303.70" y1="235.05" x2="305.30" y2="235.05" stroke="#222" stroke-width="0.8" />
<text stroke="#1e1e1e" stroke-width="0.14" x="292.10" y="212.55" font-size="4.7" textLength="6.90" lengthAdjust="spacingAndGlyphs" >-0.1</text>
<text stroke="#1e1e1e" stroke-width="0.14" x="292.10" y="219.45" font-size="4.7" textLength="6.90" lengthAdjust="spacingAndGlyphs" >-0.3</text>
<text stroke="#1e1e1e" stroke-width="0.14" x="292.10" y="226.15" font-size="4.7" textLength="6.90" lengthAdjust="spacingAndGlyphs" >-0.5</text>
<text stroke="#1e1e1e" stroke-width="0.14" x="292.10" y="232.85" font-size="4.7" textLength="6.90" lengthAdjust="spacingAndGlyphs" >-0.7</text>
<text stroke="#1e1e1e" stroke-width="0.14" x="301.20" y="201.30" font-size="6.8" textLength="79.80" lengthAdjust="spacingAndGlyphs" >PAX5 downregulated genes</text>
<text stroke="#1e1e1e" stroke-width="0.14" x="307.30" y="228.50" font-size="4.8" textLength="21.50" lengthAdjust="spacingAndGlyphs" >NES : -3.47</text>
<text stroke="#1e1e1e" stroke-width="0.14" x="307.30" y="235.60" font-size="4.8" textLength="23.50" lengthAdjust="spacingAndGlyphs" >FDR : &lt; 0.01</text>
<text stroke="#1e1e1e" stroke-width="0.14" x="305.60" y="260.30" font-size="6.8" textLength="26.90" lengthAdjust="spacingAndGlyphs" >PAX5 WT</text>
<text stroke="#1e1e1e" stroke-width="0.14" x="344.70" y="260.30" font-size="6.8" textLength="32.40" lengthAdjust="spacingAndGlyphs" >PAX5 R38H</text>
<text stroke="#1e1e1e" stroke-width="0.14" font-size="6.4" text-anchor="middle" transform="translate(286.80,228.90) rotate(-90)" textLength="39.40" lengthAdjust="spacingAndGlyphs">Enrichment score</text>
<line x1="425.17" y1="206.50" x2="425.17" y2="238.70" stroke="#eeeeee" stroke-width="0.45" />
<line x1="435.94" y1="206.50" x2="435.94" y2="238.70" stroke="#eeeeee" stroke-width="0.45" />
<line x1="446.71" y1="206.50" x2="446.71" y2="238.70" stroke="#eeeeee" stroke-width="0.45" />
<line x1="457.48" y1="206.50" x2="457.48" y2="238.70" stroke="#eeeeee" stroke-width="0.45" />
<line x1="468.25" y1="206.50" x2="468.25" y2="238.70" stroke="#eeeeee" stroke-width="0.45" />
<line x1="479.02" y1="206.50" x2="479.02" y2="238.70" stroke="#eeeeee" stroke-width="0.45" />
<line x1="414.40" y1="213.66" x2="487.70" y2="213.66" stroke="#eeeeee" stroke-width="0.45" />
<line x1="414.40" y1="220.81" x2="487.70" y2="220.81" stroke="#eeeeee" stroke-width="0.45" />
<line x1="414.40" y1="227.97" x2="487.70" y2="227.97" stroke="#eeeeee" stroke-width="0.45" />
<line x1="414.40" y1="235.12" x2="487.70" y2="235.12" stroke="#eeeeee" stroke-width="0.45" />
<rect x="422.40" y="238.70" width="1.50" height="10.40" fill="rgb(185,185,185)"/>
<rect x="425.00" y="238.70" width="0.80" height="10.40" fill="rgb(200,200,200)"/>
<rect x="427.80" y="238.70" width="0.70" height="10.40" fill="rgb(185,185,185)"/>
<rect x="438.20" y="238.70" width="1.10" height="10.40" fill="rgb(150,150,150)"/>
<rect x="442.00" y="238.70" width="0.80" height="10.40" fill="rgb(200,200,200)"/>
<rect x="447.40" y="238.70" width="0.80" height="10.40" fill="rgb(135,135,135)"/>
<rect x="448.20" y="238.70" width="0.80" height="10.40" fill="rgb(200,200,200)"/>
<rect x="455.30" y="238.70" width="0.70" height="10.40" fill="rgb(150,150,150)"/>
<rect x="460.30" y="238.70" width="0.70" height="10.40" fill="rgb(185,185,185)"/>
<rect x="463.00" y="238.70" width="1.50" height="10.40" fill="rgb(150,150,150)"/>
<rect x="466.50" y="238.70" width="1.10" height="10.40" fill="rgb(185,185,185)"/>
<rect x="468.80" y="238.70" width="2.20" height="10.40" fill="rgb(165,165,165)"/>
<rect x="473.40" y="238.70" width="1.50" height="10.40" fill="rgb(85,85,85)"/>
<rect x="474.90" y="238.70" width="2.30" height="10.40" fill="rgb(135,135,135)"/>
<rect x="478.40" y="238.70" width="5.20" height="10.40" fill="rgb(10,10,10)"/>
<defs><linearGradient id="cb414206" x1="0" x2="1" y1="0" y2="0"><stop offset="0" stop-color="#d42838"/><stop offset="0.2" stop-color="#d02a40"/><stop offset="0.23" stop-color="#c83250"/><stop offset="0.44" stop-color="#cc3a58"/><stop offset="0.46" stop-color="#e088b8"/><stop offset="0.6" stop-color="#e4a0c8"/><stop offset="0.62" stop-color="#cac4e8"/><stop offset="0.79" stop-color="#bcb4e0"/><stop offset="0.81" stop-color="#34389a"/><stop offset="1" stop-color="#28308e"/></linearGradient></defs>
<rect x="414.40" y="249.10" width="70.00" height="2.60" fill="url(#cb414206)" />
<line x1="414.40" y1="238.70" x2="487.70" y2="238.70" stroke="#c8c8c8" stroke-width="0.5" />
<path d="M414.7,206.8 L468.0,232.6 C472.3,235.2 475.5,237.0 477.8,236.6 C480.8,235.6 482.5,229 483.9,207.0" fill="none" stroke="#72b552" stroke-width="1.15"/>
<rect x="414.40" y="206.50" width="73.30" height="45.50" fill="none" stroke="#1e1e1e" stroke-width="1.0" />
<line x1="411.40" y1="209.60" x2="414.40" y2="209.60" stroke="#222" stroke-width="0.8" />
<line x1="412.80" y1="213.25" x2="414.40" y2="213.25" stroke="#222" stroke-width="0.8" />
<line x1="411.40" y1="216.90" x2="414.40" y2="216.90" stroke="#222" stroke-width="0.8" />
<line x1="412.80" y1="220.55" x2="414.40" y2="220.55" stroke="#222" stroke-width="0.8" />
<line x1="411.40" y1="224.20" x2="414.40" y2="224.20" stroke="#222" stroke-width="0.8" />
<line x1="412.80" y1="227.85" x2="414.40" y2="227.85" stroke="#222" stroke-width="0.8" />
<line x1="411.40" y1="231.50" x2="414.40" y2="231.50" stroke="#222" stroke-width="0.8" />
<line x1="412.80" y1="235.15" x2="414.40" y2="235.15" stroke="#222" stroke-width="0.8" />
<text stroke="#1e1e1e" stroke-width="0.14" x="400.90" y="211.25" font-size="4.7" textLength="7.40" lengthAdjust="spacingAndGlyphs" >-0.1</text>
<text stroke="#1e1e1e" stroke-width="0.14" x="400.90" y="218.55" font-size="4.7" textLength="7.40" lengthAdjust="spacingAndGlyphs" >-0.3</text>
<text stroke="#1e1e1e" stroke-width="0.14" x="400.90" y="225.65" font-size="4.7" textLength="7.40" lengthAdjust="spacingAndGlyphs" >-0.5</text>
<text stroke="#1e1e1e" stroke-width="0.14" x="400.90" y="232.55" font-size="4.7" textLength="7.40" lengthAdjust="spacingAndGlyphs" >-0.7</text>
<text stroke="#1e1e1e" stroke-width="0.14" x="404.40" y="201.30" font-size="6.8" textLength="92.80" lengthAdjust="spacingAndGlyphs" >Pro-B-cell downregulated genes</text>
<text stroke="#1e1e1e" stroke-width="0.14" x="416.70" y="228.50" font-size="4.8" textLength="21.50" lengthAdjust="spacingAndGlyphs" >NES : -3.37</text>
<text stroke="#1e1e1e" stroke-width="0.14" x="416.70" y="235.80" font-size="4.8" textLength="23.50" lengthAdjust="spacingAndGlyphs" >FDR : &lt; 0.01</text>
<text stroke="#1e1e1e" stroke-width="0.14" x="414.70" y="259.90" font-size="6.8" textLength="26.90" lengthAdjust="spacingAndGlyphs" >PAX5 WT</text>
<text stroke="#1e1e1e" stroke-width="0.14" x="454.70" y="259.90" font-size="6.8" textLength="32.40" lengthAdjust="spacingAndGlyphs" >PAX5 R38H</text>
<text stroke="#1e1e1e" stroke-width="0.14" font-size="6.4" text-anchor="middle" transform="translate(396.00,228.90) rotate(-90)" textLength="39.40" lengthAdjust="spacingAndGlyphs">Enrichment score</text>
<text stroke="#000" stroke-width="0.14" x="7.20" y="294.40" font-size="11" font-weight="bold" fill="#000" textLength="7.60" lengthAdjust="spacingAndGlyphs" >E</text>
<rect x="43.10" y="313.50" width="6.85" height="6.95" fill="#e78a74" stroke="#ffffff" stroke-opacity="0.18" stroke-width="0.4"/>
<rect x="49.90" y="313.50" width="6.85" height="6.95" fill="#d7e3ca" stroke="#ffffff" stroke-opacity="0.18" stroke-width="0.4"/>
<rect x="56.70" y="313.50" width="6.85" height="6.95" fill="#d7e3ca" stroke="#ffffff" stroke-opacity="0.18" stroke-width="0.4"/>
<rect x="63.50" y="313.50" width="6.85" height="6.95" fill="#df6357" stroke="#ffffff" stroke-opacity="0.18" stroke-width="0.4"/>
<rect x="70.30" y="313.50" width="6.85" height="6.95" fill="#d6403e" stroke="#ffffff" stroke-opacity="0.18" stroke-width="0.4"/>
<rect x="77.10" y="313.50" width="6.85" height="6.95" fill="#e78a74" stroke="#ffffff" stroke-opacity="0.18" stroke-width="0.4"/>
<rect x="83.90" y="313.50" width="6.85" height="6.95" fill="#cd2024" stroke="#ffffff" stroke-opacity="0.18" stroke-width="0.4"/>
<rect x="90.70" y="313.50" width="6.85" height="6.95" fill="#a9bed2" stroke="#ffffff" stroke-opacity="0.18" stroke-width="0.4"/>
<rect x="97.50" y="313.50" width="6.85" height="6.95" fill="#7b96cc" stroke="#ffffff" stroke-opacity="0.18" stroke-width="0.4"/>
<rect x="104.30" y="313.50" width="6.85" height="6.95" fill="#3854a8" stroke="#ffffff" stroke-opacity="0.18" stroke-width="0.4"/>
<rect x="111.10" y="313.50" width="6.85" height="6.95" fill="#3854a8" stroke="#ffffff" stroke-opacity="0.18" stroke-width="0.4"/>
<rect x="117.90" y="313.50" width="6.85" height="6.95" fill="#3854a8" stroke="#ffffff" stroke-opacity="0.18" stroke-width="0.4"/>
<rect x="124.70" y="313.50" width="6.85" height="6.95" fill="#7b96cc" stroke="#ffffff" stroke-opacity="0.18" stroke-width="0.4"/>
<rect x="131.50" y="313.50" width="6.85" height="6.95" fill="#7b96cc" stroke="#ffffff" stroke-opacity="0.18" stroke-width="0.4"/>
<rect x="138.30" y="313.50" width="6.85" height="6.95" fill="#5372bc" stroke="#ffffff" stroke-opacity="0.18" stroke-width="0.4"/>
<rect x="145.10" y="313.50" width="6.85" height="6.95" fill="#7b96cc" stroke="#ffffff" stroke-opacity="0.18" stroke-width="0.4"/>
<rect x="151.90" y="313.50" width="6.85" height="6.95" fill="#3854a8" stroke="#ffffff" stroke-opacity="0.18" stroke-width="0.4"/>
<rect x="158.70" y="313.50" width="6.85" height="6.95" fill="#d7e3ca" stroke="#ffffff" stroke-opacity="0.18" stroke-width="0.4"/>
<rect x="165.50" y="313.50" width="6.85" height="6.95" fill="#d7e3ca" stroke="#ffffff" stroke-opacity="0.18" stroke-width="0.4"/>
<rect x="172.30" y="313.50" width="6.85" height="6.95" fill="#f6efbe" stroke="#ffffff" stroke-opacity="0.18" stroke-width="0.4"/>
<rect x="179.10" y="313.50" width="6.85" height="6.95" fill="#f6efbe" stroke="#ffffff" stroke-opacity="0.18" stroke-width="0.4"/>
<rect x="185.90" y="313.50" width="6.85" height="6.95" fill="#d7e3ca" stroke="#ffffff" stroke-opacity="0.18" stroke-width="0.4"/>
<rect x="192.70" y="313.50" width="6.85" height="6.95" fill="#d7e3ca" stroke="#ffffff" stroke-opacity="0.18" stroke-width="0.4"/>
<rect x="199.50" y="313.50" width="6.85" height="6.95" fill="#f5d4a8" stroke="#ffffff" stroke-opacity="0.18" stroke-width="0.4"/>
<rect x="206.30" y="313.50" width="6.85" height="6.95" fill="#d7e3ca" stroke="#ffffff" stroke-opacity="0.18" stroke-width="0.4"/>
<rect x="213.10" y="313.50" width="6.85" height="6.95" fill="#a9bed2" stroke="#ffffff" stroke-opacity="0.18" stroke-width="0.4"/>
<rect x="219.90" y="313.50" width="6.85" height="6.95" fill="#f5d4a8" stroke="#ffffff" stroke-opacity="0.18" stroke-width="0.4"/>
<rect x="226.70" y="313.50" width="6.85" height="6.95" fill="#f6efbe" stroke="#ffffff" stroke-opacity="0.18" stroke-width="0.4"/>
<rect x="233.50" y="313.50" width="6.85" height="6.95" fill="#d7e3ca" stroke="#ffffff" stroke-opacity="0.18" stroke-width="0.4"/>
<rect x="240.30" y="313.50" width="6.85" height="6.95" fill="#efb394" stroke="#ffffff" stroke-opacity="0.18" stroke-width="0.4"/>
<rect x="247.10" y="313.50" width="6.85" height="6.95" fill="#e78a74" stroke="#ffffff" stroke-opacity="0.18" stroke-width="0.4"/>
<rect x="253.90" y="313.50" width="6.85" height="6.95" fill="#d7e3ca" stroke="#ffffff" stroke-opacity="0.18" stroke-width="0.4"/>
<rect x="260.70" y="313.50" width="6.85" height="6.95" fill="#f6efbe" stroke="#ffffff" stroke-opacity="0.18" stroke-width="0.4"/>
<rect x="267.50" y="313.50" width="6.85" height="6.95" fill="#d7e3ca" stroke="#ffffff" stroke-opacity="0.18" stroke-width="0.4"/>
<rect x="274.30" y="313.50" width="6.85" height="6.95" fill="#d7e3ca" stroke="#ffffff" stroke-opacity="0.18" stroke-width="0.4"/>
<rect x="281.10" y="313.50" width="6.85" height="6.95" fill="#f6efbe" stroke="#ffffff" stroke-opacity="0.18" stroke-width="0.4"/>
<rect x="287.90" y="313.50" width="6.85" height="6.95" fill="#a9bed2" stroke="#ffffff" stroke-opacity="0.18" stroke-width="0.4"/>
<rect x="294.70" y="313.50" width="6.85" height="6.95" fill="#a9bed2" stroke="#ffffff" stroke-opacity="0.18" stroke-width="0.4"/>
<rect x="301.50" y="313.50" width="6.85" height="6.95" fill="#df6357" stroke="#ffffff" stroke-opacity="0.18" stroke-width="0.4"/>
<rect x="308.30" y="313.50" width="6.85" height="6.95" fill="#d6403e" stroke="#ffffff" stroke-opacity="0.18" stroke-width="0.4"/>
<rect x="315.10" y="313.50" width="6.85" height="6.95" fill="#cd2024" stroke="#ffffff" stroke-opacity="0.18" stroke-width="0.4"/>
<rect x="321.90" y="313.50" width="6.85" height="6.95" fill="#df6357" stroke="#ffffff" stroke-opacity="0.18" stroke-width="0.4"/>
<rect x="328.70" y="313.50" width="6.85" height="6.95" fill="#d6403e" stroke="#ffffff" stroke-opacity="0.18" stroke-width="0.4"/>
<rect x="335.50" y="313.50" width="6.85" height="6.95" fill="#df6357" stroke="#ffffff" stroke-opacity="0.18" stroke-width="0.4"/>
<rect x="43.10" y="320.42" width="6.85" height="6.95" fill="#efb394" stroke="#ffffff" stroke-opacity="0.18" stroke-width="0.4"/>
<rect x="49.90" y="320.42" width="6.85" height="6.95" fill="#d7e3ca" stroke="#ffffff" stroke-opacity="0.18" stroke-width="0.4"/>
<rect x="56.70" y="320.42" width="6.85" height="6.95" fill="#efb394" stroke="#ffffff" stroke-opacity="0.18" stroke-width="0.4"/>
<rect x="63.50" y="320.42" width="6.85" height="6.95" fill="#efb394" stroke="#ffffff" stroke-opacity="0.18" stroke-width="0.4"/>
<rect x="70.30" y="320.42" width="6.85" height="6.95" fill="#d6403e" stroke="#ffffff" stroke-opacity="0.18" stroke-width="0.4"/>
<rect x="77.10" y="320.42" width="6.85" height="6.95" fill="#df6357" stroke="#ffffff" stroke-opacity="0.18" stroke-width="0.4"/>
<rect x="83.90" y="320.42" width="6.85" height="6.95" fill="#df6357" stroke="#ffffff" stroke-opacity="0.18" stroke-width="0.4"/>
<rect x="90.70" y="320.42" width="6.85" height="6.95" fill="#5372bc" stroke="#ffffff" stroke-opacity="0.18" stroke-width="0.4"/>
<rect x="97.50" y="320.42" width="6.85" height="6.95" fill="#7b96cc" stroke="#ffffff" stroke-opacity="0.18" stroke-width="0.4"/>
<rect x="104.30" y="320.42" width="6.85" height="6.95" fill="#5372bc" stroke="#ffffff" stroke-opacity="0.18" stroke-width="0.4"/>
<rect x="111.10" y="320.42" width="6.85" height="6.95" fill="#5372bc" stroke="#ffffff" stroke-opacity="0.18" stroke-width="0.4"/>
<rect x="117.90" y="320.42" width="6.85" height="6.95" fill="#5372bc" stroke="#ffffff" stroke-opacity="0.18" stroke-width="0.4"/>
<rect x="124.70" y="320.42" width="6.85" height="6.95" fill="#5372bc" stroke="#ffffff" stroke-opacity="0.18" stroke-width="0.4"/>
<rect x="131.50" y="320.42" width="6.85" height="6.95" fill="#7b96cc" stroke="#ffffff" stroke-opacity="0.18" stroke-width="0.4"/>
<rect x="138.30" y="320.42" width="6.85" height="6.95" fill="#7b96cc" stroke="#ffffff" stroke-opacity="0.18" stroke-width="0.4"/>
<rect x="145.10" y="320.42" width="6.85" height="6.95" fill="#3854a8" stroke="#ffffff" stroke-opacity="0.18" stroke-width="0.4"/>
<rect x="151.90" y="320.42" width="6.85" height="6.95" fill="#5372bc" stroke="#ffffff" stroke-opacity="0.18" stroke-width="0.4"/>
<rect x="158.70" y="320.42" width="6.85" height="6.95" fill="#f6efbe" stroke="#ffffff" stroke-opacity="0.18" stroke-width="0.4"/>
<rect x="165.50" y="320.42" width="6.85" height="6.95" fill="#d7e3ca" stroke="#ffffff" stroke-opacity="0.18" stroke-width="0.4"/>
<rect x="172.30" y="320.42" width="6.85" height="6.95" fill="#f6efbe" stroke="#ffffff" stroke-opacity="0.18" stroke-width="0.4"/>
<rect x="179.10" y="320.42" width="6.85" height="6.95" fill="#f6efbe" stroke="#ffffff" stroke-opacity="0.18" stroke-width="0.4"/>
<rect x="185.90" y="320.42" width="6.85" height="6.95" fill="#d7e3ca" stroke="#ffffff" stroke-opacity="0.18" stroke-width="0.4"/>
<rect x="192.70" y="320.42" width="6.85" height="6.95" fill="#d7e3ca" stroke="#ffffff" stroke-opacity="0.18" stroke-width="0.4"/>
<rect x="199.50" y="320.42" width="6.85" height="6.95" fill="#f5d4a8" stroke="#ffffff" stroke-opacity="0.18" stroke-width="0.4"/>
<rect x="206.30" y="320.42" width="6.85" height="6.95" fill="#a9bed2" stroke="#ffffff" stroke-opacity="0.18" stroke-width="0.4"/>
<rect x="213.10" y="320.42" width="6.85" height="6.95" fill="#a9bed2" stroke="#ffffff" stroke-opacity="0.18" stroke-width="0.4"/>
<rect x="219.90" y="320.42" width="6.85" height="6.95" fill="#f6efbe" stroke="#ffffff" stroke-opacity="0.18" stroke-width="0.4"/>
<rect x="226.70" y="320.42" width="6.85" height="6.95" fill="#d7e3ca" stroke="#ffffff" stroke-opacity="0.18" stroke-width="0.4"/>
<rect x="233.50" y="320.42" width="6.85" height="6.95" fill="#d7e3ca" stroke="#ffffff" stroke-opacity="0.18" stroke-width="0.4"/>
<rect x="240.30" y="320.42" width="6.85" height="6.95" fill="#f6efbe" stroke="#ffffff" stroke-opacity="0.18" stroke-width="0.4"/>
<rect x="247.10" y="320.42" width="6.85" height="6.95" fill="#f5d4a8" stroke="#ffffff" stroke-opacity="0.18" stroke-width="0.4"/>
<rect x="253.90" y="320.42" width="6.85" height="6.95" fill="#a9bed2" stroke="#ffffff" stroke-opacity="0.18" stroke-width="0.4"/>
<rect x="260.70" y="320.42" width="6.85" height="6.95" fill="#f6efbe" stroke="#ffffff" stroke-opacity="0.18" stroke-width="0.4"/>
<rect x="267.50" y="320.42" width="6.85" height="6.95" fill="#a9bed2" stroke="#ffffff" stroke-opacity="0.18" stroke-width="0.4"/>
<rect x="274.30" y="320.42" width="6.85" height="6.95" fill="#f6efbe" stroke="#ffffff" stroke-opacity="0.18" stroke-width="0.4"/>
<rect x="281.10" y="320.42" width="6.85" height="6.95" fill="#f5d4a8" stroke="#ffffff" stroke-opacity="0.18" stroke-width="0.4"/>
<rect x="287.90" y="320.42" width="6.85" height="6.95" fill="#d7e3ca" stroke="#ffffff" stroke-opacity="0.18" stroke-width="0.4"/>
<rect x="294.70" y="320.42" width="6.85" height="6.95" fill="#d7e3ca" stroke="#ffffff" stroke-opacity="0.18" stroke-width="0.4"/>
<rect x="301.50" y="320.42" width="6.85" height="6.95" fill="#df6357" stroke="#ffffff" stroke-opacity="0.18" stroke-width="0.4"/>
<rect x="308.30" y="320.42" width="6.85" height="6.95" fill="#d6403e" stroke="#ffffff" stroke-opacity="0.18" stroke-width="0.4"/>
<rect x="315.10" y="320.42" width="6.85" height="6.95" fill="#d6403e" stroke="#ffffff" stroke-opacity="0.18" stroke-width="0.4"/>
<rect x="321.90" y="320.42" width="6.85" height="6.95" fill="#df6357" stroke="#ffffff" stroke-opacity="0.18" stroke-width="0.4"/>
<rect x="328.70" y="320.42" width="6.85" height="6.95" fill="#d6403e" stroke="#ffffff" stroke-opacity="0.18" stroke-width="0.4"/>
<rect x="335.50" y="320.42" width="6.85" height="6.95" fill="#df6357" stroke="#ffffff" stroke-opacity="0.18" stroke-width="0.4"/>
<rect x="43.10" y="327.34" width="6.85" height="6.95" fill="#f6efbe" stroke="#ffffff" stroke-opacity="0.18" stroke-width="0.4"/>
<rect x="49.90" y="327.34" width="6.85" height="6.95" fill="#d7e3ca" stroke="#ffffff" stroke-opacity="0.18" stroke-width="0.4"/>
<rect x="56.70" y="327.34" width="6.85" height="6.95" fill="#e78a74" stroke="#ffffff" stroke-opacity="0.18" stroke-width="0.4"/>
<rect x="63.50" y="327.34" width="6.85" height="6.95" fill="#efb394" stroke="#ffffff" stroke-opacity="0.18" stroke-width="0.4"/>
<rect x="70.30" y="327.34" width="6.85" height="6.95" fill="#df6357" stroke="#ffffff" stroke-opacity="0.18" stroke-width="0.4"/>
<rect x="77.10" y="327.34" width="6.85" height="6.95" fill="#e78a74" stroke="#ffffff" stroke-opacity="0.18" stroke-width="0.4"/>
<rect x="83.90" y="327.34" width="6.85" height="6.95" fill="#df6357" stroke="#ffffff" stroke-opacity="0.18" stroke-width="0.4"/>
<rect x="90.70" y="327.34" width="6.85" height="6.95" fill="#3854a8" stroke="#ffffff" stroke-opacity="0.18" stroke-width="0.4"/>
<rect x="97.50" y="327.34" width="6.85" height="6.95" fill="#3854a8" stroke="#ffffff" stroke-opacity="0.18" stroke-width="0.4"/>
<rect x="104.30" y="327.34" width="6.85" height="6.95" fill="#7b96cc" stroke="#ffffff" stroke-opacity="0.18" stroke-width="0.4"/>
<rect x="111.10" y="327.34" width="6.85" height="6.95" fill="#a9bed2" stroke="#ffffff" stroke-opacity="0.18" stroke-width="0.4"/>
<rect x="117.90" y="327.34" width="6.85" height="6.95" fill="#7b96cc" stroke="#ffffff" stroke-opacity="0.18" stroke-width="0.4"/>
<rect x="124.70" y="327.34" width="6.85" height="6.95" fill="#7b96cc" stroke="#ffffff" stroke-opacity="0.18" stroke-width="0.4"/>
<rect x="131.50" y="327.34" width="6.85" height="6.95" fill="#3854a8" stroke="#ffffff" stroke-opacity="0.18" stroke-width="0.4"/>
<rect x="138.30" y="327.34" width="6.85" height="6.95" fill="#5372bc" stroke="#ffffff" stroke-opacity="0.18" stroke-width="0.4"/>
<rect x="145.10" y="327.34" width="6.85" height="6.95" fill="#7b96cc" stroke="#ffffff" stroke-opacity="0.18" stroke-width="0.4"/>
<rect x="151.90" y="327.34" width="6.85" height="6.95" fill="#7b96cc" stroke="#ffffff" stroke-opacity="0.18" stroke-width="0.4"/>
<rect x="158.70" y="327.34" width="6.85" height="6.95" fill="#d7e3ca" stroke="#ffffff" stroke-opacity="0.18" stroke-width="0.4"/>
<rect x="165.50" y="327.34" width="6.85" height="6.95" fill="#d7e3ca" stroke="#ffffff" stroke-opacity="0.18" stroke-width="0.4"/>
<rect x="172.30" y="327.34" width="6.85" height="6.95" fill="#f6efbe" stroke="#ffffff" stroke-opacity="0.18" stroke-width="0.4"/>
<rect x="179.10" y="327.34" width="6.85" height="6.95" fill="#a9bed2" stroke="#ffffff" stroke-opacity="0.18" stroke-width="0.4"/>
<rect x="185.90" y="327.34" width="6.85" height="6.95" fill="#efb394" stroke="#ffffff" stroke-opacity="0.18" stroke-width="0.4"/>
<rect x="192.70" y="327.34" width="6.85" height="6.95" fill="#f6efbe" stroke="#ffffff" stroke-opacity="0.18" stroke-width="0.4"/>
<rect x="199.50" y="327.34" width="6.85" height="6.95" fill="#efb394" stroke="#ffffff" stroke-opacity="0.18" stroke-width="0.4"/>
<rect x="206.30" y="327.34" width="6.85" height="6.95" fill="#f6efbe" stroke="#ffffff" stroke-opacity="0.18" stroke-width="0.4"/>
<rect x="213.10" y="327.34" width="6.85" height="6.95" fill="#f6efbe" stroke="#ffffff" stroke-opacity="0.18" stroke-width="0.4"/>
<rect x="219.90" y="327.34" width="6.85" height="6.95" fill="#f5d4a8" stroke="#ffffff" stroke-opacity="0.18" stroke-width="0.4"/>
<rect x="226.70" y="327.34" width="6.85" height="6.95" fill="#f5d4a8" stroke="#ffffff" stroke-opacity="0.18" stroke-width="0.4"/>
<rect x="233.50" y="327.34" width="6.85" height="6.95" fill="#f6efbe" stroke="#ffffff" stroke-opacity="0.18" stroke-width="0.4"/>
<rect x="240.30" y="327.34" width="6.85" height="6.95" fill="#f5d4a8" stroke="#ffffff" stroke-opacity="0.18" stroke-width="0.4"/>
<rect x="247.10" y="327.34" width="6.85" height="6.95" fill="#f5d4a8" stroke="#ffffff" stroke-opacity="0.18" stroke-width="0.4"/>
<rect x="253.90" y="327.34" width="6.85" height="6.95" fill="#a9bed2" stroke="#ffffff" stroke-opacity="0.18" stroke-width="0.4"/>
<rect x="260.70" y="327.34" width="6.85" height="6.95" fill="#f6efbe" stroke="#ffffff" stroke-opacity="0.18" stroke-width="0.4"/>
<rect x="267.50" y="327.34" width="6.85" height="6.95" fill="#d7e3ca" stroke="#ffffff" stroke-opacity="0.18" stroke-width="0.4"/>
<rect x="274.30" y="327.34" width="6.85" height="6.95" fill="#d7e3ca" stroke="#ffffff" stroke-opacity="0.18" stroke-width="0.4"/>
<rect x="281.10" y="327.34" width="6.85" height="6.95" fill="#e78a74" stroke="#ffffff" stroke-opacity="0.18" stroke-width="0.4"/>
<rect x="287.90" y="327.34" width="6.85" height="6.95" fill="#7b96cc" stroke="#ffffff" stroke-opacity="0.18" stroke-width="0.4"/>
<rect x="294.70" y="327.34" width="6.85" height="6.95" fill="#7b96cc" stroke="#ffffff" stroke-opacity="0.18" stroke-width="0.4"/>
<rect x="301.50" y="327.34" width="6.85" height="6.95" fill="#df6357" stroke="#ffffff" stroke-opacity="0.18" stroke-width="0.4"/>
<rect x="308.30" y="327.34" width="6.85" height="6.95" fill="#d6403e" stroke="#ffffff" stroke-opacity="0.18" stroke-width="0.4"/>
<rect x="315.10" y="327.34" width="6.85" height="6.95" fill="#d6403e" stroke="#ffffff" stroke-opacity="0.18" stroke-width="0.4"/>
<rect x="321.90" y="327.34" width="6.85" height="6.95" fill="#d6403e" stroke="#ffffff" stroke-opacity="0.18" stroke-width="0.4"/>
<rect x="328.70" y="327.34" width="6.85" height="6.95" fill="#cd2024" stroke="#ffffff" stroke-opacity="0.18" stroke-width="0.4"/>
<rect x="335.50" y="327.34" width="6.85" height="6.95" fill="#df6357" stroke="#ffffff" stroke-opacity="0.18" stroke-width="0.4"/>
<rect x="43.10" y="334.26" width="6.85" height="6.95" fill="#7b96cc" stroke="#ffffff" stroke-opacity="0.18" stroke-width="0.4"/>
<rect x="49.90" y="334.26" width="6.85" height="6.95" fill="#5372bc" stroke="#ffffff" stroke-opacity="0.18" stroke-width="0.4"/>
<rect x="56.70" y="334.26" width="6.85" height="6.95" fill="#5372bc" stroke="#ffffff" stroke-opacity="0.18" stroke-width="0.4"/>
<rect x="63.50" y="334.26" width="6.85" height="6.95" fill="#5372bc" stroke="#ffffff" stroke-opacity="0.18" stroke-width="0.4"/>
<rect x="70.30" y="334.26" width="6.85" height="6.95" fill="#a9bed2" stroke="#ffffff" stroke-opacity="0.18" stroke-width="0.4"/>
<rect x="77.10" y="334.26" width="6.85" height="6.95" fill="#5372bc" stroke="#ffffff" stroke-opacity="0.18" stroke-width="0.4"/>
<rect x="83.90" y="334.26" width="6.85" height="6.95" fill="#5372bc" stroke="#ffffff" stroke-opacity="0.18" stroke-width="0.4"/>
<rect x="90.70" y="334.26" width="6.85" height="6.95" fill="#e78a74" stroke="#ffffff" stroke-opacity="0.18" stroke-width="0.4"/>
<rect x="97.50" y="334.26" width="6.85" height="6.95" fill="#df6357" stroke="#ffffff" stroke-opacity="0.18" stroke-width="0.4"/>
<rect x="104.30" y="334.26" width="6.85" height="6.95" fill="#e78a74" stroke="#ffffff" stroke-opacity="0.18" stroke-width="0.4"/>
<rect x="111.10" y="334.26" width="6.85" height="6.95" fill="#efb394" stroke="#ffffff" stroke-opacity="0.18" stroke-width="0.4"/>
<rect x="117.90" y="334.26" width="6.85" height="6.95" fill="#f5d4a8" stroke="#ffffff" stroke-opacity="0.18" stroke-width="0.4"/>
<rect x="124.70" y="334.26" width="6.85" height="6.95" fill="#d7e3ca" stroke="#ffffff" stroke-opacity="0.18" stroke-width="0.4"/>
<rect x="131.50" y="334.26" width="6.85" height="6.95" fill="#f6efbe" stroke="#ffffff" stroke-opacity="0.18" stroke-width="0.4"/>
<rect x="138.30" y="334.26" width="6.85" height="6.95" fill="#efb394" stroke="#ffffff" stroke-opacity="0.18" stroke-width="0.4"/>
<rect x="145.10" y="334.26" width="6.85" height="6.95" fill="#d6403e" stroke="#ffffff" stroke-opacity="0.18" stroke-width="0.4"/>
<rect x="151.90" y="334.26" width="6.85" height="6.95" fill="#d6403e" stroke="#ffffff" stroke-opacity="0.18" stroke-width="0.4"/>
<rect x="158.70" y="334.26" width="6.85" height="6.95" fill="#d6403e" stroke="#ffffff" stroke-opacity="0.18" stroke-width="0.4"/>
<rect x="165.50" y="334.26" width="6.85" height="6.95" fill="#d6403e" stroke="#ffffff" stroke-opacity="0.18" stroke-width="0.4"/>
<rect x="172.30" y="334.26" width="6.85" height="6.95" fill="#d6403e" stroke="#ffffff" stroke-opacity="0.18" stroke-width="0.4"/>
<rect x="179.10" y="334.26" width="6.85" height="6.95" fill="#d6403e" stroke="#ffffff" stroke-opacity="0.18" stroke-width="0.4"/>
<rect x="185.90" y="334.26" width="6.85" height="6.95" fill="#d6403e" stroke="#ffffff" stroke-opacity="0.18" stroke-width="0.4"/>
<rect x="192.70" y="334.26" width="6.85" height="6.95" fill="#d6403e" stroke="#ffffff" stroke-opacity="0.18" stroke-width="0.4"/>
<rect x="199.50" y="334.26" width="6.85" height="6.95" fill="#df6357" stroke="#ffffff" stroke-opacity="0.18" stroke-width="0.4"/>
<rect x="206.30" y="334.26" width="6.85" height="6.95" fill="#df6357" stroke="#ffffff" stroke-opacity="0.18" stroke-width="0.4"/>
<rect x="213.10" y="334.26" width="6.85" height="6.95" fill="#df6357" stroke="#ffffff" stroke-opacity="0.18" stroke-width="0.4"/>
<rect x="219.90" y="334.26" width="6.85" height="6.95" fill="#d6403e" stroke="#ffffff" stroke-opacity="0.18" stroke-width="0.4"/>
<rect x="226.70" y="334.26" width="6.85" height="6.95" fill="#cd2024" stroke="#ffffff" stroke-opacity="0.18" stroke-width="0.4"/>
<rect x="233.50" y="334.26" width="6.85" height="6.95" fill="#cd2024" stroke="#ffffff" stroke-opacity="0.18" stroke-width="0.4"/>
<rect x="240.30" y="334.26" width="6.85" height="6.95" fill="#d6403e" stroke="#ffffff" stroke-opacity="0.18" stroke-width="0.4"/>
<rect x="247.10" y="334.26" width="6.85" height="6.95" fill="#df6357" stroke="#ffffff" stroke-opacity="0.18" stroke-width="0.4"/>
<rect x="253.90" y="334.26" width="6.85" height="6.95" fill="#d6403e" stroke="#ffffff" stroke-opacity="0.18" stroke-width="0.4"/>
<rect x="260.70" y="334.26" width="6.85" height="6.95" fill="#d6403e" stroke="#ffffff" stroke-opacity="0.18" stroke-width="0.4"/>
<rect x="267.50" y="334.26" width="6.85" height="6.95" fill="#d6403e" stroke="#ffffff" stroke-opacity="0.18" stroke-width="0.4"/>
<rect x="274.30" y="334.26" width="6.85" height="6.95" fill="#cd2024" stroke="#ffffff" stroke-opacity="0.18" stroke-width="0.4"/>
<rect x="281.10" y="334.26" width="6.85" height="6.95" fill="#d6403e" stroke="#ffffff" stroke-opacity="0.18" stroke-width="0.4"/>
<rect x="287.90" y="334.26" width="6.85" height="6.95" fill="#cd2024" stroke="#ffffff" stroke-opacity="0.18" stroke-width="0.4"/>
<rect x="294.70" y="334.26" width="6.85" height="6.95" fill="#cd2024" stroke="#ffffff" stroke-opacity="0.18" stroke-width="0.4"/>
<rect x="301.50" y="334.26" width="6.85" height="6.95" fill="#efb394" stroke="#ffffff" stroke-opacity="0.18" stroke-width="0.4"/>
<rect x="308.30" y="334.26" width="6.85" height="6.95" fill="#d7e3ca" stroke="#ffffff" stroke-opacity="0.18" stroke-width="0.4"/>
<rect x="315.10" y="334.26" width="6.85" height="6.95" fill="#a9bed2" stroke="#ffffff" stroke-opacity="0.18" stroke-width="0.4"/>
<rect x="321.90" y="334.26" width="6.85" height="6.95" fill="#efb394" stroke="#ffffff" stroke-opacity="0.18" stroke-width="0.4"/>
<rect x="328.70" y="334.26" width="6.85" height="6.95" fill="#a9bed2" stroke="#ffffff" stroke-opacity="0.18" stroke-width="0.4"/>
<rect x="335.50" y="334.26" width="6.85" height="6.95" fill="#efb394" stroke="#ffffff" stroke-opacity="0.18" stroke-width="0.4"/>
<rect x="43.10" y="341.18" width="6.85" height="6.95" fill="#3854a8" stroke="#ffffff" stroke-opacity="0.18" stroke-width="0.4"/>
<rect x="49.90" y="341.18" width="6.85" height="6.95" fill="#5372bc" stroke="#ffffff" stroke-opacity="0.18" stroke-width="0.4"/>
<rect x="56.70" y="341.18" width="6.85" height="6.95" fill="#5372bc" stroke="#ffffff" stroke-opacity="0.18" stroke-width="0.4"/>
<rect x="63.50" y="341.18" width="6.85" height="6.95" fill="#3854a8" stroke="#ffffff" stroke-opacity="0.18" stroke-width="0.4"/>
<rect x="70.30" y="341.18" width="6.85" height="6.95" fill="#5372bc" stroke="#ffffff" stroke-opacity="0.18" stroke-width="0.4"/>
<rect x="77.10" y="341.18" width="6.85" height="6.95" fill="#5372bc" stroke="#ffffff" stroke-opacity="0.18" stroke-width="0.4"/>
<rect x="83.90" y="341.18" width="6.85" height="6.95" fill="#7b96cc" stroke="#ffffff" stroke-opacity="0.18" stroke-width="0.4"/>
<rect x="90.70" y="341.18" width="6.85" height="6.95" fill="#d6403e" stroke="#ffffff" stroke-opacity="0.18" stroke-width="0.4"/>
<rect x="97.50" y="341.18" width="6.85" height="6.95" fill="#e78a74" stroke="#ffffff" stroke-opacity="0.18" stroke-width="0.4"/>
<rect x="104.30" y="341.18" width="6.85" height="6.95" fill="#f6efbe" stroke="#ffffff" stroke-opacity="0.18" stroke-width="0.4"/>
<rect x="111.10" y="341.18" width="6.85" height="6.95" fill="#f5d4a8" stroke="#ffffff" stroke-opacity="0.18" stroke-width="0.4"/>
<rect x="117.90" y="341.18" width="6.85" height="6.95" fill="#e78a74" stroke="#ffffff" stroke-opacity="0.18" stroke-width="0.4"/>
<rect x="124.70" y="341.18" width="6.85" height="6.95" fill="#d7e3ca" stroke="#ffffff" stroke-opacity="0.18" stroke-width="0.4"/>
<rect x="131.50" y="341.18" width="6.85" height="6.95" fill="#efb394" stroke="#ffffff" stroke-opacity="0.18" stroke-width="0.4"/>
<rect x="138.30" y="341.18" width="6.85" height="6.95" fill="#efb394" stroke="#ffffff" stroke-opacity="0.18" stroke-width="0.4"/>
<rect x="145.10" y="341.18" width="6.85" height="6.95" fill="#e78a74" stroke="#ffffff" stroke-opacity="0.18" stroke-width="0.4"/>
<rect x="151.90" y="341.18" width="6.85" height="6.95" fill="#efb394" stroke="#ffffff" stroke-opacity="0.18" stroke-width="0.4"/>
<rect x="158.70" y="341.18" width="6.85" height="6.95" fill="#d6403e" stroke="#ffffff" stroke-opacity="0.18" stroke-width="0.4"/>
<rect x="165.50" y="341.18" width="6.85" height="6.95" fill="#d6403e" stroke="#ffffff" stroke-opacity="0.18" stroke-width="0.4"/>
<rect x="172.30" y="341.18" width="6.85" height="6.95" fill="#cd2024" stroke="#ffffff" stroke-opacity="0.18" stroke-width="0.4"/>
<rect x="179.10" y="341.18" width="6.85" height="6.95" fill="#cd2024" stroke="#ffffff" stroke-opacity="0.18" stroke-width="0.4"/>
<rect x="185.90" y="341.18" width="6.85" height="6.95" fill="#cd2024" stroke="#ffffff" stroke-opacity="0.18" stroke-width="0.4"/>
<rect x="192.70" y="341.18" width="6.85" height="6.95" fill="#cd2024" stroke="#ffffff" stroke-opacity="0.18" stroke-width="0.4"/>
<rect x="199.50" y="341.18" width="6.85" height="6.95" fill="#d6403e" stroke="#ffffff" stroke-opacity="0.18" stroke-width="0.4"/>
<rect x="206.30" y="341.18" width="6.85" height="6.95" fill="#cd2024" stroke="#ffffff" stroke-opacity="0.18" stroke-width="0.4"/>
<rect x="213.10" y="341.18" width="6.85" height="6.95" fill="#cd2024" stroke="#ffffff" stroke-opacity="0.18" stroke-width="0.4"/>
<rect x="219.90" y="341.18" width="6.85" height="6.95" fill="#d6403e" stroke="#ffffff" stroke-opacity="0.18" stroke-width="0.4"/>
<rect x="226.70" y="341.18" width="6.85" height="6.95" fill="#d6403e" stroke="#ffffff" stroke-opacity="0.18" stroke-width="0.4"/>
<rect x="233.50" y="341.18" width="6.85" height="6.95" fill="#d6403e" stroke="#ffffff" stroke-opacity="0.18" stroke-width="0.4"/>
<rect x="240.30" y="341.18" width="6.85" height="6.95" fill="#d6403e" stroke="#ffffff" stroke-opacity="0.18" stroke-width="0.4"/>
<rect x="247.10" y="341.18" width="6.85" height="6.95" fill="#df6357" stroke="#ffffff" stroke-opacity="0.18" stroke-width="0.4"/>
<rect x="253.90" y="341.18" width="6.85" height="6.95" fill="#df6357" stroke="#ffffff" stroke-opacity="0.18" stroke-width="0.4"/>
<rect x="260.70" y="341.18" width="6.85" height="6.95" fill="#d6403e" stroke="#ffffff" stroke-opacity="0.18" stroke-width="0.4"/>
<rect x="267.50" y="341.18" width="6.85" height="6.95" fill="#d6403e" stroke="#ffffff" stroke-opacity="0.18" stroke-width="0.4"/>
<rect x="274.30" y="341.18" width="6.85" height="6.95" fill="#df6357" stroke="#ffffff" stroke-opacity="0.18" stroke-width="0.4"/>
<rect x="281.10" y="341.18" width="6.85" height="6.95" fill="#d6403e" stroke="#ffffff" stroke-opacity="0.18" stroke-width="0.4"/>
<rect x="287.90" y="341.18" width="6.85" height="6.95" fill="#d6403e" stroke="#ffffff" stroke-opacity="0.18" stroke-width="0.4"/>
<rect x="294.70" y="341.18" width="6.85" height="6.95" fill="#d6403e" stroke="#ffffff" stroke-opacity="0.18" stroke-width="0.4"/>
<rect x="301.50" y="341.18" width="6.85" height="6.95" fill="#efb394" stroke="#ffffff" stroke-opacity="0.18" stroke-width="0.4"/>
<rect x="308.30" y="341.18" width="6.85" height="6.95" fill="#f6efbe" stroke="#ffffff" stroke-opacity="0.18" stroke-width="0.4"/>
<rect x="315.10" y="341.18" width="6.85" height="6.95" fill="#a9bed2" stroke="#ffffff" stroke-opacity="0.18" stroke-width="0.4"/>
<rect x="321.90" y="341.18" width="6.85" height="6.95" fill="#efb394" stroke="#ffffff" stroke-opacity="0.18" stroke-width="0.4"/>
<rect x="328.70" y="341.18" width="6.85" height="6.95" fill="#f5d4a8" stroke="#ffffff" stroke-opacity="0.18" stroke-width="0.4"/>
<rect x="335.50" y="341.18" width="6.85" height="6.95" fill="#efb394" stroke="#ffffff" stroke-opacity="0.18" stroke-width="0.4"/>
<rect x="43.10" y="348.10" width="6.85" height="6.95" fill="#5372bc" stroke="#ffffff" stroke-opacity="0.18" stroke-width="0.4"/>
<rect x="49.90" y="348.10" width="6.85" height="6.95" fill="#7b96cc" stroke="#ffffff" stroke-opacity="0.18" stroke-width="0.4"/>
<rect x="56.70" y="348.10" width="6.85" height="6.95" fill="#5372bc" stroke="#ffffff" stroke-opacity="0.18" stroke-width="0.4"/>
<rect x="63.50" y="348.10" width="6.85" height="6.95" fill="#7b96cc" stroke="#ffffff" stroke-opacity="0.18" stroke-width="0.4"/>
<rect x="70.30" y="348.10" width="6.85" height="6.95" fill="#3854a8" stroke="#ffffff" stroke-opacity="0.18" stroke-width="0.4"/>
<rect x="77.10" y="348.10" width="6.85" height="6.95" fill="#5372bc" stroke="#ffffff" stroke-opacity="0.18" stroke-width="0.4"/>
<rect x="83.90" y="348.10" width="6.85" height="6.95" fill="#7b96cc" stroke="#ffffff" stroke-opacity="0.18" stroke-width="0.4"/>
<rect x="90.70" y="348.10" width="6.85" height="6.95" fill="#efb394" stroke="#ffffff" stroke-opacity="0.18" stroke-width="0.4"/>
<rect x="97.50" y="348.10" width="6.85" height="6.95" fill="#d6403e" stroke="#ffffff" stroke-opacity="0.18" stroke-width="0.4"/>
<rect x="104.30" y="348.10" width="6.85" height="6.95" fill="#f6efbe" stroke="#ffffff" stroke-opacity="0.18" stroke-width="0.4"/>
<rect x="111.10" y="348.10" width="6.85" height="6.95" fill="#efb394" stroke="#ffffff" stroke-opacity="0.18" stroke-width="0.4"/>
<rect x="117.90" y="348.10" width="6.85" height="6.95" fill="#f6efbe" stroke="#ffffff" stroke-opacity="0.18" stroke-width="0.4"/>
<rect x="124.70" y="348.10" width="6.85" height="6.95" fill="#d7e3ca" stroke="#ffffff" stroke-opacity="0.18" stroke-width="0.4"/>
<rect x="131.50" y="348.10" width="6.85" height="6.95" fill="#f6efbe" stroke="#ffffff" stroke-opacity="0.18" stroke-width="0.4"/>
<rect x="138.30" y="348.10" width="6.85" height="6.95" fill="#f6efbe" stroke="#ffffff" stroke-opacity="0.18" stroke-width="0.4"/>
<rect x="145.10" y="348.10" width="6.85" height="6.95" fill="#efb394" stroke="#ffffff" stroke-opacity="0.18" stroke-width="0.4"/>
<rect x="151.90" y="348.10" width="6.85" height="6.95" fill="#f5d4a8" stroke="#ffffff" stroke-opacity="0.18" stroke-width="0.4"/>
<rect x="158.70" y="348.10" width="6.85" height="6.95" fill="#cd2024" stroke="#ffffff" stroke-opacity="0.18" stroke-width="0.4"/>
<rect x="165.50" y="348.10" width="6.85" height="6.95" fill="#d6403e" stroke="#ffffff" stroke-opacity="0.18" stroke-width="0.4"/>
<rect x="172.30" y="348.10" width="6.85" height="6.95" fill="#d6403e" stroke="#ffffff" stroke-opacity="0.18" stroke-width="0.4"/>
<rect x="179.10" y="348.10" width="6.85" height="6.95" fill="#d6403e" stroke="#ffffff" stroke-opacity="0.18" stroke-width="0.4"/>
<rect x="185.90" y="348.10" width="6.85" height="6.95" fill="#df6357" stroke="#ffffff" stroke-opacity="0.18" stroke-width="0.4"/>
<rect x="192.70" y="348.10" width="6.85" height="6.95" fill="#d6403e" stroke="#ffffff" stroke-opacity="0.18" stroke-width="0.4"/>
<rect x="199.50" y="348.10" width="6.85" height="6.95" fill="#df6357" stroke="#ffffff" stroke-opacity="0.18" stroke-width="0.4"/>
<rect x="206.30" y="348.10" width="6.85" height="6.95" fill="#cd2024" stroke="#ffffff" stroke-opacity="0.18" stroke-width="0.4"/>
<rect x="213.10" y="348.10" width="6.85" height="6.95" fill="#d6403e" stroke="#ffffff" stroke-opacity="0.18" stroke-width="0.4"/>
<rect x="219.90" y="348.10" width="6.85" height="6.95" fill="#e78a74" stroke="#ffffff" stroke-opacity="0.18" stroke-width="0.4"/>
<rect x="226.70" y="348.10" width="6.85" height="6.95" fill="#df6357" stroke="#ffffff" stroke-opacity="0.18" stroke-width="0.4"/>
<rect x="233.50" y="348.10" width="6.85" height="6.95" fill="#e78a74" stroke="#ffffff" stroke-opacity="0.18" stroke-width="0.4"/>
<rect x="240.30" y="348.10" width="6.85" height="6.95" fill="#df6357" stroke="#ffffff" stroke-opacity="0.18" stroke-width="0.4"/>
<rect x="247.10" y="348.10" width="6.85" height="6.95" fill="#df6357" stroke="#ffffff" stroke-opacity="0.18" stroke-width="0.4"/>
<rect x="253.90" y="348.10" width="6.85" height="6.95" fill="#cd2024" stroke="#ffffff" stroke-opacity="0.18" stroke-width="0.4"/>
<rect x="260.70" y="348.10" width="6.85" height="6.95" fill="#d6403e" stroke="#ffffff" stroke-opacity="0.18" stroke-width="0.4"/>
<rect x="267.50" y="348.10" width="6.85" height="6.95" fill="#cd2024" stroke="#ffffff" stroke-opacity="0.18" stroke-width="0.4"/>
<rect x="274.30" y="348.10" width="6.85" height="6.95" fill="#df6357" stroke="#ffffff" stroke-opacity="0.18" stroke-width="0.4"/>
<rect x="281.10" y="348.10" width="6.85" height="6.95" fill="#df6357" stroke="#ffffff" stroke-opacity="0.18" stroke-width="0.4"/>
<rect x="287.90" y="348.10" width="6.85" height="6.95" fill="#d6403e" stroke="#ffffff" stroke-opacity="0.18" stroke-width="0.4"/>
<rect x="294.70" y="348.10" width="6.85" height="6.95" fill="#df6357" stroke="#ffffff" stroke-opacity="0.18" stroke-width="0.4"/>
<rect x="301.50" y="348.10" width="6.85" height="6.95" fill="#efb394" stroke="#ffffff" stroke-opacity="0.18" stroke-width="0.4"/>
<rect x="308.30" y="348.10" width="6.85" height="6.95" fill="#d7e3ca" stroke="#ffffff" stroke-opacity="0.18" stroke-width="0.4"/>
<rect x="315.10" y="348.10" width="6.85" height="6.95" fill="#7b96cc" stroke="#ffffff" stroke-opacity="0.18" stroke-width="0.4"/>
<rect x="321.90" y="348.10" width="6.85" height="6.95" fill="#efb394" stroke="#ffffff" stroke-opacity="0.18" stroke-width="0.4"/>
<rect x="328.70" y="348.10" width="6.85" height="6.95" fill="#a9bed2" stroke="#ffffff" stroke-opacity="0.18" stroke-width="0.4"/>
<rect x="335.50" y="348.10" width="6.85" height="6.95" fill="#efb394" stroke="#ffffff" stroke-opacity="0.18" stroke-width="0.4"/>
<rect x="43.10" y="358.40" width="6.85" height="6.95" fill="#d6403e" stroke="#ffffff" stroke-opacity="0.18" stroke-width="0.4"/>
<rect x="49.90" y="358.40" width="6.85" height="6.95" fill="#d6403e" stroke="#ffffff" stroke-opacity="0.18" stroke-width="0.4"/>
<rect x="56.70" y="358.40" width="6.85" height="6.95" fill="#df6357" stroke="#ffffff" stroke-opacity="0.18" stroke-width="0.4"/>
<rect x="63.50" y="358.40" width="6.85" height="6.95" fill="#efb394" stroke="#ffffff" stroke-opacity="0.18" stroke-width="0.4"/>
<rect x="70.30" y="358.40" width="6.85" height="6.95" fill="#d7e3ca" stroke="#ffffff" stroke-opacity="0.18" stroke-width="0.4"/>
<rect x="77.10" y="358.40" width="6.85" height="6.95" fill="#e78a74" stroke="#ffffff" stroke-opacity="0.18" stroke-width="0.4"/>
<rect x="83.90" y="358.40" width="6.85" height="6.95" fill="#a9bed2" stroke="#ffffff" stroke-opacity="0.18" stroke-width="0.4"/>
<rect x="90.70" y="358.40" width="6.85" height="6.95" fill="#efb394" stroke="#ffffff" stroke-opacity="0.18" stroke-width="0.4"/>
<rect x="97.50" y="358.40" width="6.85" height="6.95" fill="#df6357" stroke="#ffffff" stroke-opacity="0.18" stroke-width="0.4"/>
<rect x="104.30" y="358.40" width="6.85" height="6.95" fill="#df6357" stroke="#ffffff" stroke-opacity="0.18" stroke-width="0.4"/>
<rect x="111.10" y="358.40" width="6.85" height="6.95" fill="#d6403e" stroke="#ffffff" stroke-opacity="0.18" stroke-width="0.4"/>
<rect x="117.90" y="358.40" width="6.85" height="6.95" fill="#cd2024" stroke="#ffffff" stroke-opacity="0.18" stroke-width="0.4"/>
<rect x="124.70" y="358.40" width="6.85" height="6.95" fill="#d6403e" stroke="#ffffff" stroke-opacity="0.18" stroke-width="0.4"/>
<rect x="131.50" y="358.40" width="6.85" height="6.95" fill="#d6403e" stroke="#ffffff" stroke-opacity="0.18" stroke-width="0.4"/>
<rect x="138.30" y="358.40" width="6.85" height="6.95" fill="#df6357" stroke="#ffffff" stroke-opacity="0.18" stroke-width="0.4"/>
<rect x="145.10" y="358.40" width="6.85" height="6.95" fill="#df6357" stroke="#ffffff" stroke-opacity="0.18" stroke-width="0.4"/>
<rect x="151.90" y="358.40" width="6.85" height="6.95" fill="#d6403e" stroke="#ffffff" stroke-opacity="0.18" stroke-width="0.4"/>
<rect x="158.70" y="358.40" width="6.85" height="6.95" fill="#7b96cc" stroke="#ffffff" stroke-opacity="0.18" stroke-width="0.4"/>
<rect x="165.50" y="358.40" width="6.85" height="6.95" fill="#a9bed2" stroke="#ffffff" stroke-opacity="0.18" stroke-width="0.4"/>
<rect x="172.30" y="358.40" width="6.85" height="6.95" fill="#5372bc" stroke="#ffffff" stroke-opacity="0.18" stroke-width="0.4"/>
<rect x="179.10" y="358.40" width="6.85" height="6.95" fill="#a9bed2" stroke="#ffffff" stroke-opacity="0.18" stroke-width="0.4"/>
<rect x="185.90" y="358.40" width="6.85" height="6.95" fill="#5372bc" stroke="#ffffff" stroke-opacity="0.18" stroke-width="0.4"/>
<rect x="192.70" y="358.40" width="6.85" height="6.95" fill="#7b96cc" stroke="#ffffff" stroke-opacity="0.18" stroke-width="0.4"/>
<rect x="199.50" y="358.40" width="6.85" height="6.95" fill="#5372bc" stroke="#ffffff" stroke-opacity="0.18" stroke-width="0.4"/>
<rect x="206.30" y="358.40" width="6.85" height="6.95" fill="#7b96cc" stroke="#ffffff" stroke-opacity="0.18" stroke-width="0.4"/>
<rect x="213.10" y="358.40" width="6.85" height="6.95" fill="#a9bed2" stroke="#ffffff" stroke-opacity="0.18" stroke-width="0.4"/>
<rect x="219.90" y="358.40" width="6.85" height="6.95" fill="#5372bc" stroke="#ffffff" stroke-opacity="0.18" stroke-width="0.4"/>
<rect x="226.70" y="358.40" width="6.85" height="6.95" fill="#a9bed2" stroke="#ffffff" stroke-opacity="0.18" stroke-width="0.4"/>
<rect x="233.50" y="358.40" width="6.85" height="6.95" fill="#7b96cc" stroke="#ffffff" stroke-opacity="0.18" stroke-width="0.4"/>
<rect x="240.30" y="358.40" width="6.85" height="6.95" fill="#5372bc" stroke="#ffffff" stroke-opacity="0.18" stroke-width="0.4"/>
<rect x="247.10" y="358.40" width="6.85" height="6.95" fill="#5372bc" stroke="#ffffff" stroke-opacity="0.18" stroke-width="0.4"/>
<rect x="253.90" y="358.40" width="6.85" height="6.95" fill="#7b96cc" stroke="#ffffff" stroke-opacity="0.18" stroke-width="0.4"/>
<rect x="260.70" y="358.40" width="6.85" height="6.95" fill="#5372bc" stroke="#ffffff" stroke-opacity="0.18" stroke-width="0.4"/>
<rect x="267.50" y="358.40" width="6.85" height="6.95" fill="#7b96cc" stroke="#ffffff" stroke-opacity="0.18" stroke-width="0.4"/>
<rect x="274.30" y="358.40" width="6.85" height="6.95" fill="#5372bc" stroke="#ffffff" stroke-opacity="0.18" stroke-width="0.4"/>
<rect x="281.10" y="358.40" width="6.85" height="6.95" fill="#3854a8" stroke="#ffffff" stroke-opacity="0.18" stroke-width="0.4"/>
<rect x="287.90" y="358.40" width="6.85" height="6.95" fill="#7b96cc" stroke="#ffffff" stroke-opacity="0.18" stroke-width="0.4"/>
<rect x="294.70" y="358.40" width="6.85" height="6.95" fill="#7b96cc" stroke="#ffffff" stroke-opacity="0.18" stroke-width="0.4"/>
<rect x="301.50" y="358.40" width="6.85" height="6.95" fill="#5372bc" stroke="#ffffff" stroke-opacity="0.18" stroke-width="0.4"/>
<rect x="308.30" y="358.40" width="6.85" height="6.95" fill="#a9bed2" stroke="#ffffff" stroke-opacity="0.18" stroke-width="0.4"/>
<rect x="315.10" y="358.40" width="6.85" height="6.95" fill="#f6efbe" stroke="#ffffff" stroke-opacity="0.18" stroke-width="0.4"/>
<rect x="321.90" y="358.40" width="6.85" height="6.95" fill="#3854a8" stroke="#ffffff" stroke-opacity="0.18" stroke-width="0.4"/>
<rect x="328.70" y="358.40" width="6.85" height="6.95" fill="#5372bc" stroke="#ffffff" stroke-opacity="0.18" stroke-width="0.4"/>
<rect x="335.50" y="358.40" width="6.85" height="6.95" fill="#5372bc" stroke="#ffffff" stroke-opacity="0.18" stroke-width="0.4"/>
<rect x="43.10" y="365.33" width="6.85" height="6.95" fill="#efb394" stroke="#ffffff" stroke-opacity="0.18" stroke-width="0.4"/>
<rect x="49.90" y="365.33" width="6.85" height="6.95" fill="#d6403e" stroke="#ffffff" stroke-opacity="0.18" stroke-width="0.4"/>
<rect x="56.70" y="365.33" width="6.85" height="6.95" fill="#d6403e" stroke="#ffffff" stroke-opacity="0.18" stroke-width="0.4"/>
<rect x="63.50" y="365.33" width="6.85" height="6.95" fill="#e78a74" stroke="#ffffff" stroke-opacity="0.18" stroke-width="0.4"/>
<rect x="70.30" y="365.33" width="6.85" height="6.95" fill="#f5d4a8" stroke="#ffffff" stroke-opacity="0.18" stroke-width="0.4"/>
<rect x="77.10" y="365.33" width="6.85" height="6.95" fill="#e78a74" stroke="#ffffff" stroke-opacity="0.18" stroke-width="0.4"/>
<rect x="83.90" y="365.33" width="6.85" height="6.95" fill="#d7e3ca" stroke="#ffffff" stroke-opacity="0.18" stroke-width="0.4"/>
<rect x="90.70" y="365.33" width="6.85" height="6.95" fill="#f5d4a8" stroke="#ffffff" stroke-opacity="0.18" stroke-width="0.4"/>
<rect x="97.50" y="365.33" width="6.85" height="6.95" fill="#f5d4a8" stroke="#ffffff" stroke-opacity="0.18" stroke-width="0.4"/>
<rect x="104.30" y="365.33" width="6.85" height="6.95" fill="#d6403e" stroke="#ffffff" stroke-opacity="0.18" stroke-width="0.4"/>
<rect x="111.10" y="365.33" width="6.85" height="6.95" fill="#df6357" stroke="#ffffff" stroke-opacity="0.18" stroke-width="0.4"/>
<rect x="117.90" y="365.33" width="6.85" height="6.95" fill="#df6357" stroke="#ffffff" stroke-opacity="0.18" stroke-width="0.4"/>
<rect x="124.70" y="365.33" width="6.85" height="6.95" fill="#d6403e" stroke="#ffffff" stroke-opacity="0.18" stroke-width="0.4"/>
<rect x="131.50" y="365.33" width="6.85" height="6.95" fill="#df6357" stroke="#ffffff" stroke-opacity="0.18" stroke-width="0.4"/>
<rect x="138.30" y="365.33" width="6.85" height="6.95" fill="#df6357" stroke="#ffffff" stroke-opacity="0.18" stroke-width="0.4"/>
<rect x="145.10" y="365.33" width="6.85" height="6.95" fill="#e78a74" stroke="#ffffff" stroke-opacity="0.18" stroke-width="0.4"/>
<rect x="151.90" y="365.33" width="6.85" height="6.95" fill="#efb394" stroke="#ffffff" stroke-opacity="0.18" stroke-width="0.4"/>
<rect x="158.70" y="365.33" width="6.85" height="6.95" fill="#7b96cc" stroke="#ffffff" stroke-opacity="0.18" stroke-width="0.4"/>
<rect x="165.50" y="365.33" width="6.85" height="6.95" fill="#5372bc" stroke="#ffffff" stroke-opacity="0.18" stroke-width="0.4"/>
<rect x="172.30" y="365.33" width="6.85" height="6.95" fill="#5372bc" stroke="#ffffff" stroke-opacity="0.18" stroke-width="0.4"/>
<rect x="179.10" y="365.33" width="6.85" height="6.95" fill="#5372bc" stroke="#ffffff" stroke-opacity="0.18" stroke-width="0.4"/>
<rect x="185.90" y="365.33" width="6.85" height="6.95" fill="#5372bc" stroke="#ffffff" stroke-opacity="0.18" stroke-width="0.4"/>
<rect x="192.70" y="365.33" width="6.85" height="6.95" fill="#5372bc" stroke="#ffffff" stroke-opacity="0.18" stroke-width="0.4"/>
<rect x="199.50" y="365.33" width="6.85" height="6.95" fill="#3854a8" stroke="#ffffff" stroke-opacity="0.18" stroke-width="0.4"/>
<rect x="206.30" y="365.33" width="6.85" height="6.95" fill="#7b96cc" stroke="#ffffff" stroke-opacity="0.18" stroke-width="0.4"/>
<rect x="213.10" y="365.33" width="6.85" height="6.95" fill="#7b96cc" stroke="#ffffff" stroke-opacity="0.18" stroke-width="0.4"/>
<rect x="219.90" y="365.33" width="6.85" height="6.95" fill="#3854a8" stroke="#ffffff" stroke-opacity="0.18" stroke-width="0.4"/>
<rect x="226.70" y="365.33" width="6.85" height="6.95" fill="#5372bc" stroke="#ffffff" stroke-opacity="0.18" stroke-width="0.4"/>
<rect x="233.50" y="365.33" width="6.85" height="6.95" fill="#5372bc" stroke="#ffffff" stroke-opacity="0.18" stroke-width="0.4"/>
<rect x="240.30" y="365.33" width="6.85" height="6.95" fill="#3854a8" stroke="#ffffff" stroke-opacity="0.18" stroke-width="0.4"/>
<rect x="247.10" y="365.33" width="6.85" height="6.95" fill="#5372bc" stroke="#ffffff" stroke-opacity="0.18" stroke-width="0.4"/>
<rect x="253.90" y="365.33" width="6.85" height="6.95" fill="#7b96cc" stroke="#ffffff" stroke-opacity="0.18" stroke-width="0.4"/>
<rect x="260.70" y="365.33" width="6.85" height="6.95" fill="#5372bc" stroke="#ffffff" stroke-opacity="0.18" stroke-width="0.4"/>
<rect x="267.50" y="365.33" width="6.85" height="6.95" fill="#5372bc" stroke="#ffffff" stroke-opacity="0.18" stroke-width="0.4"/>
<rect x="274.30" y="365.33" width="6.85" height="6.95" fill="#3854a8" stroke="#ffffff" stroke-opacity="0.18" stroke-width="0.4"/>
<rect x="281.10" y="365.33" width="6.85" height="6.95" fill="#5372bc" stroke="#ffffff" stroke-opacity="0.18" stroke-width="0.4"/>
<rect x="287.90" y="365.33" width="6.85" height="6.95" fill="#a9bed2" stroke="#ffffff" stroke-opacity="0.18" stroke-width="0.4"/>
<rect x="294.70" y="365.33" width="6.85" height="6.95" fill="#5372bc" stroke="#ffffff" stroke-opacity="0.18" stroke-width="0.4"/>
<rect x="301.50" y="365.33" width="6.85" height="6.95" fill="#3854a8" stroke="#ffffff" stroke-opacity="0.18" stroke-width="0.4"/>
<rect x="308.30" y="365.33" width="6.85" height="6.95" fill="#3854a8" stroke="#ffffff" stroke-opacity="0.18" stroke-width="0.4"/>
<rect x="315.10" y="365.33" width="6.85" height="6.95" fill="#7b96cc" stroke="#ffffff" stroke-opacity="0.18" stroke-width="0.4"/>
<rect x="321.90" y="365.33" width="6.85" height="6.95" fill="#5372bc" stroke="#ffffff" stroke-opacity="0.18" stroke-width="0.4"/>
<rect x="328.70" y="365.33" width="6.85" height="6.95" fill="#a9bed2" stroke="#ffffff" stroke-opacity="0.18" stroke-width="0.4"/>
<rect x="335.50" y="365.33" width="6.85" height="6.95" fill="#5372bc" stroke="#ffffff" stroke-opacity="0.18" stroke-width="0.4"/>
<rect x="43.10" y="372.26" width="6.85" height="6.95" fill="#d6403e" stroke="#ffffff" stroke-opacity="0.18" stroke-width="0.4"/>
<rect x="49.90" y="372.26" width="6.85" height="6.95" fill="#cd2024" stroke="#ffffff" stroke-opacity="0.18" stroke-width="0.4"/>
<rect x="56.70" y="372.26" width="6.85" height="6.95" fill="#df6357" stroke="#ffffff" stroke-opacity="0.18" stroke-width="0.4"/>
<rect x="63.50" y="372.26" width="6.85" height="6.95" fill="#d6403e" stroke="#ffffff" stroke-opacity="0.18" stroke-width="0.4"/>
<rect x="70.30" y="372.26" width="6.85" height="6.95" fill="#f6efbe" stroke="#ffffff" stroke-opacity="0.18" stroke-width="0.4"/>
<rect x="77.10" y="372.26" width="6.85" height="6.95" fill="#e78a74" stroke="#ffffff" stroke-opacity="0.18" stroke-width="0.4"/>
<rect x="83.90" y="372.26" width="6.85" height="6.95" fill="#efb394" stroke="#ffffff" stroke-opacity="0.18" stroke-width="0.4"/>
<rect x="90.70" y="372.26" width="6.85" height="6.95" fill="#df6357" stroke="#ffffff" stroke-opacity="0.18" stroke-width="0.4"/>
<rect x="97.50" y="372.26" width="6.85" height="6.95" fill="#f6efbe" stroke="#ffffff" stroke-opacity="0.18" stroke-width="0.4"/>
<rect x="104.30" y="372.26" width="6.85" height="6.95" fill="#d6403e" stroke="#ffffff" stroke-opacity="0.18" stroke-width="0.4"/>
<rect x="111.10" y="372.26" width="6.85" height="6.95" fill="#e78a74" stroke="#ffffff" stroke-opacity="0.18" stroke-width="0.4"/>
<rect x="117.90" y="372.26" width="6.85" height="6.95" fill="#e78a74" stroke="#ffffff" stroke-opacity="0.18" stroke-width="0.4"/>
<rect x="124.70" y="372.26" width="6.85" height="6.95" fill="#d6403e" stroke="#ffffff" stroke-opacity="0.18" stroke-width="0.4"/>
<rect x="131.50" y="372.26" width="6.85" height="6.95" fill="#d6403e" stroke="#ffffff" stroke-opacity="0.18" stroke-width="0.4"/>
<rect x="138.30" y="372.26" width="6.85" height="6.95" fill="#d6403e" stroke="#ffffff" stroke-opacity="0.18" stroke-width="0.4"/>
<rect x="145.10" y="372.26" width="6.85" height="6.95" fill="#f5d4a8" stroke="#ffffff" stroke-opacity="0.18" stroke-width="0.4"/>
<rect x="151.90" y="372.26" width="6.85" height="6.95" fill="#efb394" stroke="#ffffff" stroke-opacity="0.18" stroke-width="0.4"/>
<rect x="158.70" y="372.26" width="6.85" height="6.95" fill="#3854a8" stroke="#ffffff" stroke-opacity="0.18" stroke-width="0.4"/>
<rect x="165.50" y="372.26" width="6.85" height="6.95" fill="#5372bc" stroke="#ffffff" stroke-opacity="0.18" stroke-width="0.4"/>
<rect x="172.30" y="372.26" width="6.85" height="6.95" fill="#7b96cc" stroke="#ffffff" stroke-opacity="0.18" stroke-width="0.4"/>
<rect x="179.10" y="372.26" width="6.85" height="6.95" fill="#5372bc" stroke="#ffffff" stroke-opacity="0.18" stroke-width="0.4"/>
<rect x="185.90" y="372.26" width="6.85" height="6.95" fill="#5372bc" stroke="#ffffff" stroke-opacity="0.18" stroke-width="0.4"/>
<rect x="192.70" y="372.26" width="6.85" height="6.95" fill="#5372bc" stroke="#ffffff" stroke-opacity="0.18" stroke-width="0.4"/>
<rect x="199.50" y="372.26" width="6.85" height="6.95" fill="#5372bc" stroke="#ffffff" stroke-opacity="0.18" stroke-width="0.4"/>
<rect x="206.30" y="372.26" width="6.85" height="6.95" fill="#5372bc" stroke="#ffffff" stroke-opacity="0.18" stroke-width="0.4"/>
<rect x="213.10" y="372.26" width="6.85" height="6.95" fill="#7b96cc" stroke="#ffffff" stroke-opacity="0.18" stroke-width="0.4"/>
<rect x="219.90" y="372.26" width="6.85" height="6.95" fill="#5372bc" stroke="#ffffff" stroke-opacity="0.18" stroke-width="0.4"/>
<rect x="226.70" y="372.26" width="6.85" height="6.95" fill="#5372bc" stroke="#ffffff" stroke-opacity="0.18" stroke-width="0.4"/>
<rect x="233.50" y="372.26" width="6.85" height="6.95" fill="#3854a8" stroke="#ffffff" stroke-opacity="0.18" stroke-width="0.4"/>
<rect x="240.30" y="372.26" width="6.85" height="6.95" fill="#5372bc" stroke="#ffffff" stroke-opacity="0.18" stroke-width="0.4"/>
<rect x="247.10" y="372.26" width="6.85" height="6.95" fill="#5372bc" stroke="#ffffff" stroke-opacity="0.18" stroke-width="0.4"/>
<rect x="253.90" y="372.26" width="6.85" height="6.95" fill="#7b96cc" stroke="#ffffff" stroke-opacity="0.18" stroke-width="0.4"/>
<rect x="260.70" y="372.26" width="6.85" height="6.95" fill="#5372bc" stroke="#ffffff" stroke-opacity="0.18" stroke-width="0.4"/>
<rect x="267.50" y="372.26" width="6.85" height="6.95" fill="#5372bc" stroke="#ffffff" stroke-opacity="0.18" stroke-width="0.4"/>
<rect x="274.30" y="372.26" width="6.85" height="6.95" fill="#7b96cc" stroke="#ffffff" stroke-opacity="0.18" stroke-width="0.4"/>
<rect x="281.10" y="372.26" width="6.85" height="6.95" fill="#5372bc" stroke="#ffffff" stroke-opacity="0.18" stroke-width="0.4"/>
<rect x="287.90" y="372.26" width="6.85" height="6.95" fill="#7b96cc" stroke="#ffffff" stroke-opacity="0.18" stroke-width="0.4"/>
<rect x="294.70" y="372.26" width="6.85" height="6.95" fill="#d7e3ca" stroke="#ffffff" stroke-opacity="0.18" stroke-width="0.4"/>
<rect x="301.50" y="372.26" width="6.85" height="6.95" fill="#3854a8" stroke="#ffffff" stroke-opacity="0.18" stroke-width="0.4"/>
<rect x="308.30" y="372.26" width="6.85" height="6.95" fill="#5372bc" stroke="#ffffff" stroke-opacity="0.18" stroke-width="0.4"/>
<rect x="315.10" y="372.26" width="6.85" height="6.95" fill="#5372bc" stroke="#ffffff" stroke-opacity="0.18" stroke-width="0.4"/>
<rect x="321.90" y="372.26" width="6.85" height="6.95" fill="#3854a8" stroke="#ffffff" stroke-opacity="0.18" stroke-width="0.4"/>
<rect x="328.70" y="372.26" width="6.85" height="6.95" fill="#5372bc" stroke="#ffffff" stroke-opacity="0.18" stroke-width="0.4"/>
<rect x="335.50" y="372.26" width="6.85" height="6.95" fill="#5372bc" stroke="#ffffff" stroke-opacity="0.18" stroke-width="0.4"/>
<rect x="43.10" y="313.50" width="299.20" height="41.50" fill="none" stroke="#2a2a2a" stroke-width="0.9" />
<rect x="43.10" y="358.40" width="299.20" height="20.80" fill="none" stroke="#2a2a2a" stroke-width="0.9" />
<line x1="90.70" y1="313.50" x2="90.70" y2="355.00" stroke="#1a1a1a" stroke-width="1.0" />
<line x1="158.70" y1="313.50" x2="158.70" y2="355.00" stroke="#1a1a1a" stroke-width="1.0" />
<line x1="301.50" y1="313.50" x2="301.50" y2="355.00" stroke="#1a1a1a" stroke-width="1.0" />
<text stroke="#1e1e1e" stroke-width="0.14" x="6.70" y="326.90" font-size="6.6" textLength="33.30" lengthAdjust="spacingAndGlyphs" >PAX5 R38H</text>
<text stroke="#1e1e1e" stroke-width="0.14" x="27.70" y="348.30" font-size="6.6" textLength="12.30" lengthAdjust="spacingAndGlyphs" >MIG</text>
<text stroke="#1e1e1e" stroke-width="0.14" x="13.00" y="371.80" font-size="6.6" textLength="27.00" lengthAdjust="spacingAndGlyphs" >PAX5 WT</text>
<text stroke="#1e1e1e" stroke-width="0.14" font-size="6.7" font-style="italic" transform="translate(47.10,310.20) rotate(-68)">Hbb-bt</text>
<text stroke="#1e1e1e" stroke-width="0.14" font-size="6.7" font-style="italic" transform="translate(53.90,310.20) rotate(-68)">Kcnk10</text>
<text stroke="#1e1e1e" stroke-width="0.14" font-size="6.7" font-style="italic" transform="translate(60.70,310.20) rotate(-68)">Rarp1</text>
<text stroke="#1e1e1e" stroke-width="0.14" font-size="6.7" font-style="italic" transform="translate(67.50,310.20) rotate(-68)">Pax2</text>
<text stroke="#1e1e1e" stroke-width="0.14" font-size="6.7" font-style="italic" transform="translate(74.30,310.20) rotate(-68)">Clk1</text>
<text stroke="#1e1e1e" stroke-width="0.14" font-size="6.7" font-style="italic" transform="translate(81.10,310.20) rotate(-68)">Pax8</text>
<text stroke="#1e1e1e" stroke-width="0.14" font-size="6.7" font-style="italic" transform="translate(87.90,310.20) rotate(-68)">Ypl4</text>
<text stroke="#1e1e1e" stroke-width="0.14" font-size="6.7" font-style="italic" transform="translate(94.70,310.20) rotate(-68)">Tex35</text>
<text stroke="#1e1e1e" stroke-width="0.14" font-size="6.7" font-style="italic" transform="translate(101.50,310.20) rotate(-68)">Sept6</text>
<text stroke="#1e1e1e" stroke-width="0.14" font-size="6.7" font-style="italic" transform="translate(108.30,310.20) rotate(-68)">Mrpl38</text>
<text stroke="#1e1e1e" stroke-width="0.14" font-size="6.7" font-style="italic" transform="translate(115.10,310.20) rotate(-68)">Prss36</text>
<text stroke="#1e1e1e" stroke-width="0.14" font-size="6.7" font-style="italic" transform="translate(121.90,310.20) rotate(-68)">Cdipt</text>
<text stroke="#1e1e1e" stroke-width="0.14" font-size="6.7" font-style="italic" transform="translate(128.70,310.20) rotate(-68)">Plkp</text>
<text stroke="#1e1e1e" stroke-width="0.14" font-size="6.7" font-style="italic" transform="translate(135.50,310.20) rotate(-68)">Dus1l</text>
<text stroke="#1e1e1e" stroke-width="0.14" font-size="6.7" font-style="italic" transform="translate(142.30,310.20) rotate(-68)">Fbp1</text>
<text stroke="#1e1e1e" stroke-width="0.14" font-size="6.7" font-style="italic" transform="translate(149.10,310.20) rotate(-68)">Adprh</text>
<text stroke="#1e1e1e" stroke-width="0.14" font-size="6.7" font-style="italic" transform="translate(155.90,310.20) rotate(-68)">Srsf11</text>
<text stroke="#1e1e1e" stroke-width="0.14" font-size="6.7" font-style="italic" transform="translate(162.70,310.20) rotate(-68)">Smim41</text>
<text stroke="#1e1e1e" stroke-width="0.14" font-size="6.7" font-style="italic" transform="translate(169.50,310.20) rotate(-68)">Clgn</text>
<text stroke="#1e1e1e" stroke-width="0.14" font-size="6.7" font-style="italic" transform="translate(176.30,310.20) rotate(-68)">Tph1</text>
<text stroke="#1e1e1e" stroke-width="0.14" font-size="6.7" font-style="italic" transform="translate(183.10,310.20) rotate(-68)">Nmrk1</text>
<text stroke="#1e1e1e" stroke-width="0.14" font-size="6.7" font-style="italic" transform="translate(189.90,310.20) rotate(-68)">Ndrg2</text>
<text stroke="#1e1e1e" stroke-width="0.14" font-size="6.7" font-style="italic" transform="translate(196.70,310.20) rotate(-68)">Sec5d</text>
<text stroke="#1e1e1e" stroke-width="0.14" font-size="6.7" font-style="italic" transform="translate(203.50,310.20) rotate(-68)">Gzma</text>
<text stroke="#1e1e1e" stroke-width="0.14" font-size="6.7" font-style="italic" transform="translate(210.30,310.20) rotate(-68)">Enam</text>
<text stroke="#1e1e1e" stroke-width="0.14" font-size="6.7" font-style="italic" transform="translate(217.10,310.20) rotate(-68)">Dsp</text>
<text stroke="#1e1e1e" stroke-width="0.14" font-size="6.7" font-style="italic" transform="translate(223.90,310.20) rotate(-68)">Abtb2</text>
<text stroke="#1e1e1e" stroke-width="0.14" font-size="6.7" font-style="italic" transform="translate(230.70,310.20) rotate(-68)">Enpp6</text>
<text stroke="#1e1e1e" stroke-width="0.14" font-size="6.7" font-style="italic" transform="translate(237.50,310.20) rotate(-68)">Thy1</text>
<text stroke="#1e1e1e" stroke-width="0.14" font-size="6.7" font-style="italic" transform="translate(244.30,310.20) rotate(-68)">Pigds</text>
<text stroke="#1e1e1e" stroke-width="0.14" font-size="6.7" font-style="italic" transform="translate(251.10,310.20) rotate(-68)">Tac22d1</text>
<text stroke="#1e1e1e" stroke-width="0.14" font-size="6.7" font-style="italic" transform="translate(257.90,310.20) rotate(-68)">Kif19a</text>
<text stroke="#1e1e1e" stroke-width="0.14" font-size="6.7" font-style="italic" transform="translate(264.70,310.20) rotate(-68)">Adcy5</text>
<text stroke="#1e1e1e" stroke-width="0.14" font-size="6.7" font-style="italic" transform="translate(271.50,310.20) rotate(-68)">Syndig1l</text>
<text stroke="#1e1e1e" stroke-width="0.14" font-size="6.7" font-style="italic" transform="translate(278.30,310.20) rotate(-68)">Cldn5</text>
<text stroke="#1e1e1e" stroke-width="0.14" font-size="6.7" font-style="italic" transform="translate(285.10,310.20) rotate(-68)">Slc5a9</text>
<text stroke="#1e1e1e" stroke-width="0.14" font-size="6.7" font-style="italic" transform="translate(291.90,310.20) rotate(-68)">Cdh1</text>
<text stroke="#1e1e1e" stroke-width="0.14" font-size="6.7" font-style="italic" transform="translate(298.70,310.20) rotate(-68)">Bhlha15</text>
<text stroke="#1e1e1e" stroke-width="0.14" font-size="6.7" font-style="italic" transform="translate(305.50,310.20) rotate(-68)">Cd244a</text>
<text stroke="#1e1e1e" stroke-width="0.14" font-size="6.7" font-style="italic" transform="translate(312.30,310.20) rotate(-68)">Padi2</text>
<text stroke="#1e1e1e" stroke-width="0.14" font-size="6.7" font-style="italic" transform="translate(319.10,310.20) rotate(-68)">Pcolce2</text>
<text stroke="#1e1e1e" stroke-width="0.14" font-size="6.7" font-style="italic" transform="translate(325.90,310.20) rotate(-68)">Lifr</text>
<text stroke="#1e1e1e" stroke-width="0.14" font-size="6.7" font-style="italic" transform="translate(332.70,310.20) rotate(-68)">Cd82</text>
<text stroke="#1e1e1e" stroke-width="0.14" font-size="6.7" font-style="italic" transform="translate(339.50,310.20) rotate(-68)">Mrgpra1</text>
<defs><linearGradient id="zleg" x1="0" y1="0" x2="0" y2="1"><stop offset="0" stop-color="#3a56ae"/><stop offset="0.15" stop-color="#4e66b6"/><stop offset="0.3" stop-color="#8c94cc"/><stop offset="0.42" stop-color="#d6d8e6"/><stop offset="0.5" stop-color="#f2f0c4"/><stop offset="0.6" stop-color="#efc9a8"/><stop offset="0.75" stop-color="#e08c80"/><stop offset="0.88" stop-color="#d6504c"/><stop offset="1" stop-color="#cc2a2c"/></linearGradient></defs>
<rect x="356.70" y="321.20" width="7.80" height="50.50" fill="url(#zleg)" stroke="#2a2a2a" stroke-width="0.6" />
<line x1="364.50" y1="326.10" x2="366.00" y2="326.10" stroke="#222" stroke-width="0.7" />
<text stroke="#1e1e1e" stroke-width="0.14" x="368.60" y="328.30" font-size="6.0" >-2</text>
<line x1="364.50" y1="336.30" x2="366.00" y2="336.30" stroke="#222" stroke-width="0.7" />
<text stroke="#1e1e1e" stroke-width="0.14" x="368.60" y="338.50" font-size="6.0" >-1</text>
<line x1="364.50" y1="346.30" x2="366.00" y2="346.30" stroke="#222" stroke-width="0.7" />
<text stroke="#1e1e1e" stroke-width="0.14" x="369.60" y="348.50" font-size="6.0" >0</text>
<line x1="364.50" y1="356.40" x2="366.00" y2="356.40" stroke="#222" stroke-width="0.7" />
<text stroke="#1e1e1e" stroke-width="0.14" x="369.60" y="358.60" font-size="6.0" >1</text>
<line x1="364.50" y1="366.50" x2="366.00" y2="366.50" stroke="#222" stroke-width="0.7" />
<text stroke="#1e1e1e" stroke-width="0.14" x="369.60" y="368.70" font-size="6.0" >2</text>
<text stroke="#1e1e1e" stroke-width="0.14" font-size="6.6" text-anchor="middle" transform="translate(383.8,346.0) rotate(-90)" textLength="34" lengthAdjust="spacingAndGlyphs">Raw Z-score</text>
<text stroke="#000" stroke-width="0.14" x="7.30" y="404.30" font-size="11" font-weight="bold" fill="#000" textLength="7.00" lengthAdjust="spacingAndGlyphs" >F</text>
<text stroke="#1e1e1e" stroke-width="0.14" x="12.10" y="439.50" font-size="6.6" textLength="9.80" lengthAdjust="spacingAndGlyphs" >BM</text>
<text stroke="#1e1e1e" stroke-width="0.14" x="7.20" y="447.30" font-size="6.6" textLength="21.10" lengthAdjust="spacingAndGlyphs" >3.5 wks</text>
<text stroke="#1e1e1e" stroke-width="0.14" x="12.10" y="490.00" font-size="6.6" textLength="9.80" lengthAdjust="spacingAndGlyphs" >BM</text>
<text stroke="#1e1e1e" stroke-width="0.14" x="8.00" y="497.50" font-size="6.6" textLength="19.70" lengthAdjust="spacingAndGlyphs" >18 wks</text>
<text stroke="#1e1e1e" stroke-width="0.14" x="7.90" y="539.70" font-size="6.6" textLength="19.50" lengthAdjust="spacingAndGlyphs" >Spleen</text>
<text stroke="#1e1e1e" stroke-width="0.14" x="8.30" y="547.30" font-size="6.6" textLength="19.10" lengthAdjust="spacingAndGlyphs" >18 wks</text>
<line x1="31.50" y1="421.90" x2="31.50" y2="461.10" stroke="#222" stroke-width="1.0" />
<line x1="31.50" y1="472.40" x2="31.50" y2="511.50" stroke="#222" stroke-width="1.0" />
<line x1="31.50" y1="521.90" x2="31.50" y2="561.70" stroke="#222" stroke-width="1.0" />
<path d="M39.4,440.5 L39.4,572.8 L221.0,572.8" fill="none" stroke="#1a1a1a" stroke-width="1.1"/>
<polygon points="39.4,436.6 37.2,441.6 41.6,441.6" fill="#1a1a1a"/>
<polygon points="225.0,572.8 220.0,570.6 220.0,575.0" fill="#1a1a1a"/>
<text stroke="#1e1e1e" stroke-width="0.14" font-size="6.6" text-anchor="middle" transform="translate(40.8,427.3) rotate(-90)" textLength="11.2" lengthAdjust="spacingAndGlyphs">GFP</text>
<text stroke="#1e1e1e" stroke-width="0.14" x="227.90" y="575.30" font-size="6.6" textLength="22.60" lengthAdjust="spacingAndGlyphs" >CD45.2</text>
<text stroke="#1e1e1e" stroke-width="0.14" x="68.60" y="415.80" font-size="6.6" textLength="12.40" lengthAdjust="spacingAndGlyphs" >MIG</text>
<line x1="54.50" y1="418.80" x2="94.80" y2="418.80" stroke="#555" stroke-width="1.3" />
<text stroke="#1e1e1e" stroke-width="0.14" x="112.10" y="415.80" font-size="6.6" textLength="27.00" lengthAdjust="spacingAndGlyphs" >PAX5 WT</text>
<line x1="105.60" y1="418.80" x2="145.70" y2="418.80" stroke="#555" stroke-width="1.3" />
<text stroke="#1e1e1e" stroke-width="0.14" x="156.30" y="415.80" font-size="6.6" textLength="41.70" lengthAdjust="spacingAndGlyphs" >PAX5 R38H #2</text>
<line x1="156.50" y1="418.80" x2="197.80" y2="418.80" stroke="#555" stroke-width="1.3" />
<text stroke="#1e1e1e" stroke-width="0.14" x="207.70" y="415.80" font-size="6.6" textLength="41.50" lengthAdjust="spacingAndGlyphs" >PAX5 R38H #4</text>
<line x1="207.90" y1="418.80" x2="249.20" y2="418.80" stroke="#555" stroke-width="1.3" />
<rect x="54.50" y="421.60" width="40.50" height="40.00" fill="none" stroke="#404040" stroke-width="0.8" />
<rect x="63.90" y="461.20" width="1.60" height="1.30" fill="#111" />
<rect x="53.30" y="454.70" width="1.30" height="1.60" fill="#111" />
<text x="49.09" y="426.50" font-size="3.3" fill="#6a6a6a">10</text>
<text x="52.76" y="425.20" font-size="2.05" fill="#6a6a6a">5</text>
<line x1="54.50" y1="425.30" x2="55.50" y2="425.30" stroke="#333" stroke-width="0.6" />
<text x="49.09" y="436.00" font-size="3.3" fill="#6a6a6a">10</text>
<text x="52.76" y="434.70" font-size="2.05" fill="#6a6a6a">4</text>
<line x1="54.50" y1="434.80" x2="55.50" y2="434.80" stroke="#333" stroke-width="0.6" />
<text x="49.09" y="445.90" font-size="3.3" fill="#6a6a6a">10</text>
<text x="52.76" y="444.60" font-size="2.05" fill="#6a6a6a">3</text>
<line x1="54.50" y1="444.70" x2="55.50" y2="444.70" stroke="#333" stroke-width="0.6" />
<text x="51.50" y="456.70" font-size="3.3" text-anchor="middle" fill="#6a6a6a">0</text>
<line x1="54.50" y1="455.50" x2="55.50" y2="455.50" stroke="#333" stroke-width="0.6" />
<text x="55.54" y="466.00" font-size="3.3" fill="#6a6a6a">-10</text>
<text x="60.31" y="464.70" font-size="2.05" fill="#6a6a6a">3</text>
<line x1="58.50" y1="460.60" x2="58.50" y2="461.60" stroke="#333" stroke-width="0.6" />
<text x="64.70" y="466.00" font-size="3.3" text-anchor="middle" fill="#6a6a6a">0</text>
<line x1="64.70" y1="460.60" x2="64.70" y2="461.60" stroke="#333" stroke-width="0.6" />
<text x="68.09" y="466.00" font-size="3.3" fill="#6a6a6a">10</text>
<text x="71.76" y="464.70" font-size="2.05" fill="#6a6a6a">3</text>
<line x1="70.50" y1="460.60" x2="70.50" y2="461.60" stroke="#333" stroke-width="0.6" />
<text x="78.89" y="466.00" font-size="3.3" fill="#6a6a6a">10</text>
<text x="82.56" y="464.70" font-size="2.05" fill="#6a6a6a">4</text>
<line x1="81.30" y1="460.60" x2="81.30" y2="461.60" stroke="#333" stroke-width="0.6" />
<text x="88.09" y="466.00" font-size="3.3" fill="#6a6a6a">10</text>
<text x="91.76" y="464.70" font-size="2.05" fill="#6a6a6a">5</text>
<line x1="90.50" y1="460.60" x2="90.50" y2="461.60" stroke="#333" stroke-width="0.6" />
<rect x="105.20" y="421.60" width="40.50" height="40.00" fill="none" stroke="#404040" stroke-width="0.8" />
<rect x="114.60" y="461.20" width="1.60" height="1.30" fill="#111" />
<rect x="104.00" y="454.70" width="1.30" height="1.60" fill="#111" />
<text x="99.79" y="426.50" font-size="3.3" fill="#6a6a6a">10</text>
<text x="103.46" y="425.20" font-size="2.05" fill="#6a6a6a">5</text>
<line x1="105.20" y1="425.30" x2="106.20" y2="425.30" stroke="#333" stroke-width="0.6" />
<text x="99.79" y="436.00" font-size="3.3" fill="#6a6a6a">10</text>
<text x="103.46" y="434.70" font-size="2.05" fill="#6a6a6a">4</text>
<line x1="105.20" y1="434.80" x2="106.20" y2="434.80" stroke="#333" stroke-width="0.6" />
<text x="99.79" y="445.90" font-size="3.3" fill="#6a6a6a">10</text>
<text x="103.46" y="444.60" font-size="2.05" fill="#6a6a6a">3</text>
<line x1="105.20" y1="444.70" x2="106.20" y2="444.70" stroke="#333" stroke-width="0.6" />
<text x="102.20" y="456.70" font-size="3.3" text-anchor="middle" fill="#6a6a6a">0</text>
<line x1="105.20" y1="455.50" x2="106.20" y2="455.50" stroke="#333" stroke-width="0.6" />
<text x="106.24" y="466.00" font-size="3.3" fill="#6a6a6a">-10</text>
<text x="111.01" y="464.70" font-size="2.05" fill="#6a6a6a">3</text>
<line x1="109.20" y1="460.60" x2="109.20" y2="461.60" stroke="#333" stroke-width="0.6" />
<text x="115.40" y="466.00" font-size="3.3" text-anchor="middle" fill="#6a6a6a">0</text>
<line x1="115.40" y1="460.60" x2="115.40" y2="461.60" stroke="#333" stroke-width="0.6" />
<text x="118.79" y="466.00" font-size="3.3" fill="#6a6a6a">10</text>
<text x="122.46" y="464.70" font-size="2.05" fill="#6a6a6a">3</text>
<line x1="121.20" y1="460.60" x2="121.20" y2="461.60" stroke="#333" stroke-width="0.6" />
<text x="129.59" y="466.00" font-size="3.3" fill="#6a6a6a">10</text>
<text x="133.26" y="464.70" font-size="2.05" fill="#6a6a6a">4</text>
<line x1="132.00" y1="460.60" x2="132.00" y2="461.60" stroke="#333" stroke-width="0.6" />
<text x="138.79" y="466.00" font-size="3.3" fill="#6a6a6a">10</text>
<text x="142.46" y="464.70" font-size="2.05" fill="#6a6a6a">5</text>
<line x1="141.20" y1="460.60" x2="141.20" y2="461.60" stroke="#333" stroke-width="0.6" />
<rect x="156.50" y="421.60" width="40.50" height="40.00" fill="none" stroke="#404040" stroke-width="0.8" />
<rect x="165.90" y="461.20" width="1.60" height="1.30" fill="#111" />
<rect x="155.30" y="454.70" width="1.30" height="1.60" fill="#111" />
<text x="151.09" y="426.50" font-size="3.3" fill="#6a6a6a">10</text>
<text x="154.76" y="425.20" font-size="2.05" fill="#6a6a6a">5</text>
<line x1="156.50" y1="425.30" x2="157.50" y2="425.30" stroke="#333" stroke-width="0.6" />
<text x="151.09" y="436.00" font-size="3.3" fill="#6a6a6a">10</text>
<text x="154.76" y="434.70" font-size="2.05" fill="#6a6a6a">4</text>
<line x1="156.50" y1="434.80" x2="157.50" y2="434.80" stroke="#333" stroke-width="0.6" />
<text x="151.09" y="445.90" font-size="3.3" fill="#6a6a6a">10</text>
<text x="154.76" y="444.60" font-size="2.05" fill="#6a6a6a">3</text>
<line x1="156.50" y1="444.70" x2="157.50" y2="444.70" stroke="#333" stroke-width="0.6" />
<text x="153.50" y="456.70" font-size="3.3" text-anchor="middle" fill="#6a6a6a">0</text>
<line x1="156.50" y1="455.50" x2="157.50" y2="455.50" stroke="#333" stroke-width="0.6" />
<text x="157.54" y="466.00" font-size="3.3" fill="#6a6a6a">-10</text>
<text x="162.31" y="464.70" font-size="2.05" fill="#6a6a6a">3</text>
<line x1="160.50" y1="460.60" x2="160.50" y2="461.60" stroke="#333" stroke-width="0.6" />
<text x="166.70" y="466.00" font-size="3.3" text-anchor="middle" fill="#6a6a6a">0</text>
<line x1="166.70" y1="460.60" x2="166.70" y2="461.60" stroke="#333" stroke-width="0.6" />
<text x="170.09" y="466.00" font-size="3.3" fill="#6a6a6a">10</text>
<text x="173.76" y="464.70" font-size="2.05" fill="#6a6a6a">3</text>
<line x1="172.50" y1="460.60" x2="172.50" y2="461.60" stroke="#333" stroke-width="0.6" />
<text x="180.89" y="466.00" font-size="3.3" fill="#6a6a6a">10</text>
<text x="184.56" y="464.70" font-size="2.05" fill="#6a6a6a">4</text>
<line x1="183.30" y1="460.60" x2="183.30" y2="461.60" stroke="#333" stroke-width="0.6" />
<text x="190.09" y="466.00" font-size="3.3" fill="#6a6a6a">10</text>
<text x="193.76" y="464.70" font-size="2.05" fill="#6a6a6a">5</text>
<line x1="192.50" y1="460.60" x2="192.50" y2="461.60" stroke="#333" stroke-width="0.6" />
<rect x="207.90" y="421.60" width="40.50" height="40.00" fill="none" stroke="#404040" stroke-width="0.8" />
<rect x="217.30" y="461.20" width="1.60" height="1.30" fill="#111" />
<rect x="206.70" y="454.70" width="1.30" height="1.60" fill="#111" />
<text x="202.49" y="426.50" font-size="3.3" fill="#6a6a6a">10</text>
<text x="206.16" y="425.20" font-size="2.05" fill="#6a6a6a">5</text>
<line x1="207.90" y1="425.30" x2="208.90" y2="425.30" stroke="#333" stroke-width="0.6" />
<text x="202.49" y="436.00" font-size="3.3" fill="#6a6a6a">10</text>
<text x="206.16" y="434.70" font-size="2.05" fill="#6a6a6a">4</text>
<line x1="207.90" y1="434.80" x2="208.90" y2="434.80" stroke="#333" stroke-width="0.6" />
<text x="202.49" y="445.90" font-size="3.3" fill="#6a6a6a">10</text>
<text x="206.16" y="444.60" font-size="2.05" fill="#6a6a6a">3</text>
<line x1="207.90" y1="444.70" x2="208.90" y2="444.70" stroke="#333" stroke-width="0.6" />
<text x="204.90" y="456.70" font-size="3.3" text-anchor="middle" fill="#6a6a6a">0</text>
<line x1="207.90" y1="455.50" x2="208.90" y2="455.50" stroke="#333" stroke-width="0.6" />
<text x="208.94" y="466.00" font-size="3.3" fill="#6a6a6a">-10</text>
<text x="213.71" y="464.70" font-size="2.05" fill="#6a6a6a">3</text>
<line x1="211.90" y1="460.60" x2="211.90" y2="461.60" stroke="#333" stroke-width="0.6" />
<text x="218.10" y="466.00" font-size="3.3" text-anchor="middle" fill="#6a6a6a">0</text>
<line x1="218.10" y1="460.60" x2="218.10" y2="461.60" stroke="#333" stroke-width="0.6" />
<text x="221.49" y="466.00" font-size="3.3" fill="#6a6a6a">10</text>
<text x="225.16" y="464.70" font-size="2.05" fill="#6a6a6a">3</text>
<line x1="223.90" y1="460.60" x2="223.90" y2="461.60" stroke="#333" stroke-width="0.6" />
<text x="232.29" y="466.00" font-size="3.3" fill="#6a6a6a">10</text>
<text x="235.96" y="464.70" font-size="2.05" fill="#6a6a6a">4</text>
<line x1="234.70" y1="460.60" x2="234.70" y2="461.60" stroke="#333" stroke-width="0.6" />
<text x="241.49" y="466.00" font-size="3.3" fill="#6a6a6a">10</text>
<text x="245.16" y="464.70" font-size="2.05" fill="#6a6a6a">5</text>
<line x1="243.90" y1="460.60" x2="243.90" y2="461.60" stroke="#333" stroke-width="0.6" />
<rect x="55.60" y="470.30" width="40.70" height="39.90" fill="none" stroke="#404040" stroke-width="0.8" />
<rect x="65.00" y="509.80" width="1.60" height="1.30" fill="#111" />
<rect x="54.40" y="501.30" width="1.30" height="1.60" fill="#111" />
<text x="50.19" y="478.80" font-size="3.3" fill="#6a6a6a">10</text>
<text x="53.86" y="477.50" font-size="2.05" fill="#6a6a6a">5</text>
<line x1="55.60" y1="477.60" x2="56.60" y2="477.60" stroke="#333" stroke-width="0.6" />
<text x="50.19" y="487.70" font-size="3.3" fill="#6a6a6a">10</text>
<text x="53.86" y="486.40" font-size="2.05" fill="#6a6a6a">4</text>
<line x1="55.60" y1="486.50" x2="56.60" y2="486.50" stroke="#333" stroke-width="0.6" />
<text x="50.19" y="497.60" font-size="3.3" fill="#6a6a6a">10</text>
<text x="53.86" y="496.30" font-size="2.05" fill="#6a6a6a">3</text>
<line x1="55.60" y1="496.40" x2="56.60" y2="496.40" stroke="#333" stroke-width="0.6" />
<text x="52.60" y="503.30" font-size="3.3" text-anchor="middle" fill="#6a6a6a">0</text>
<line x1="55.60" y1="502.10" x2="56.60" y2="502.10" stroke="#333" stroke-width="0.6" />
<text x="49.64" y="508.50" font-size="3.3" fill="#6a6a6a">-10</text>
<text x="54.41" y="507.20" font-size="2.05" fill="#6a6a6a">3</text>
<line x1="55.60" y1="507.30" x2="56.60" y2="507.30" stroke="#333" stroke-width="0.6" />
<text x="56.64" y="515.20" font-size="3.3" fill="#6a6a6a">-10</text>
<text x="61.41" y="513.90" font-size="2.05" fill="#6a6a6a">3</text>
<line x1="59.60" y1="509.20" x2="59.60" y2="510.20" stroke="#333" stroke-width="0.6" />
<text x="65.80" y="515.20" font-size="3.3" text-anchor="middle" fill="#6a6a6a">0</text>
<line x1="65.80" y1="509.20" x2="65.80" y2="510.20" stroke="#333" stroke-width="0.6" />
<text x="69.19" y="515.20" font-size="3.3" fill="#6a6a6a">10</text>
<text x="72.86" y="513.90" font-size="2.05" fill="#6a6a6a">3</text>
<line x1="71.60" y1="509.20" x2="71.60" y2="510.20" stroke="#333" stroke-width="0.6" />
<text x="79.99" y="515.20" font-size="3.3" fill="#6a6a6a">10</text>
<text x="83.66" y="513.90" font-size="2.05" fill="#6a6a6a">4</text>
<line x1="82.40" y1="509.20" x2="82.40" y2="510.20" stroke="#333" stroke-width="0.6" />
<text x="89.19" y="515.20" font-size="3.3" fill="#6a6a6a">10</text>
<text x="92.86" y="513.90" font-size="2.05" fill="#6a6a6a">5</text>
<line x1="91.60" y1="509.20" x2="91.60" y2="510.20" stroke="#333" stroke-width="0.6" />
<rect x="106.00" y="470.30" width="40.70" height="39.90" fill="none" stroke="#404040" stroke-width="0.8" />
<rect x="115.40" y="509.80" width="1.60" height="1.30" fill="#111" />
<rect x="104.80" y="501.30" width="1.30" height="1.60" fill="#111" />
<text x="100.59" y="478.80" font-size="3.3" fill="#6a6a6a">10</text>
<text x="104.26" y="477.50" font-size="2.05" fill="#6a6a6a">5</text>
<line x1="106.00" y1="477.60" x2="107.00" y2="477.60" stroke="#333" stroke-width="0.6" />
<text x="100.59" y="487.70" font-size="3.3" fill="#6a6a6a">10</text>
<text x="104.26" y="486.40" font-size="2.05" fill="#6a6a6a">4</text>
<line x1="106.00" y1="486.50" x2="107.00" y2="486.50" stroke="#333" stroke-width="0.6" />
<text x="100.59" y="497.60" font-size="3.3" fill="#6a6a6a">10</text>
<text x="104.26" y="496.30" font-size="2.05" fill="#6a6a6a">3</text>
<line x1="106.00" y1="496.40" x2="107.00" y2="496.40" stroke="#333" stroke-width="0.6" />
<text x="103.00" y="503.30" font-size="3.3" text-anchor="middle" fill="#6a6a6a">0</text>
<line x1="106.00" y1="502.10" x2="107.00" y2="502.10" stroke="#333" stroke-width="0.6" />
<text x="100.04" y="508.50" font-size="3.3" fill="#6a6a6a">-10</text>
<text x="104.81" y="507.20" font-size="2.05" fill="#6a6a6a">3</text>
<line x1="106.00" y1="507.30" x2="107.00" y2="507.30" stroke="#333" stroke-width="0.6" />
<text x="107.04" y="515.20" font-size="3.3" fill="#6a6a6a">-10</text>
<text x="111.81" y="513.90" font-size="2.05" fill="#6a6a6a">3</text>
<line x1="110.00" y1="509.20" x2="110.00" y2="510.20" stroke="#333" stroke-width="0.6" />
<text x="116.20" y="515.20" font-size="3.3" text-anchor="middle" fill="#6a6a6a">0</text>
<line x1="116.20" y1="509.20" x2="116.20" y2="510.20" stroke="#333" stroke-width="0.6" />
<text x="119.59" y="515.20" font-size="3.3" fill="#6a6a6a">10</text>
<text x="123.26" y="513.90" font-size="2.05" fill="#6a6a6a">3</text>
<line x1="122.00" y1="509.20" x2="122.00" y2="510.20" stroke="#333" stroke-width="0.6" />
<text x="130.39" y="515.20" font-size="3.3" fill="#6a6a6a">10</text>
<text x="134.06" y="513.90" font-size="2.05" fill="#6a6a6a">4</text>
<line x1="132.80" y1="509.20" x2="132.80" y2="510.20" stroke="#333" stroke-width="0.6" />
<text x="139.59" y="515.20" font-size="3.3" fill="#6a6a6a">10</text>
<text x="143.26" y="513.90" font-size="2.05" fill="#6a6a6a">5</text>
<line x1="142.00" y1="509.20" x2="142.00" y2="510.20" stroke="#333" stroke-width="0.6" />
<rect x="157.70" y="470.30" width="40.70" height="39.90" fill="none" stroke="#404040" stroke-width="0.8" />
<rect x="167.10" y="509.80" width="1.60" height="1.30" fill="#111" />
<rect x="156.50" y="501.30" width="1.30" height="1.60" fill="#111" />
<text x="152.29" y="478.80" font-size="3.3" fill="#6a6a6a">10</text>
<text x="155.96" y="477.50" font-size="2.05" fill="#6a6a6a">5</text>
<line x1="157.70" y1="477.60" x2="158.70" y2="477.60" stroke="#333" stroke-width="0.6" />
<text x="152.29" y="487.70" font-size="3.3" fill="#6a6a6a">10</text>
<text x="155.96" y="486.40" font-size="2.05" fill="#6a6a6a">4</text>
<line x1="157.70" y1="486.50" x2="158.70" y2="486.50" stroke="#333" stroke-width="0.6" />
<text x="152.29" y="497.60" font-size="3.3" fill="#6a6a6a">10</text>
<text x="155.96" y="496.30" font-size="2.05" fill="#6a6a6a">3</text>
<line x1="157.70" y1="496.40" x2="158.70" y2="496.40" stroke="#333" stroke-width="0.6" />
<text x="154.70" y="503.30" font-size="3.3" text-anchor="middle" fill="#6a6a6a">0</text>
<line x1="157.70" y1="502.10" x2="158.70" y2="502.10" stroke="#333" stroke-width="0.6" />
<text x="151.74" y="508.50" font-size="3.3" fill="#6a6a6a">-10</text>
<text x="156.51" y="507.20" font-size="2.05" fill="#6a6a6a">3</text>
<line x1="157.70" y1="507.30" x2="158.70" y2="507.30" stroke="#333" stroke-width="0.6" />
<text x="158.74" y="515.20" font-size="3.3" fill="#6a6a6a">-10</text>
<text x="163.51" y="513.90" font-size="2.05" fill="#6a6a6a">3</text>
<line x1="161.70" y1="509.20" x2="161.70" y2="510.20" stroke="#333" stroke-width="0.6" />
<text x="167.90" y="515.20" font-size="3.3" text-anchor="middle" fill="#6a6a6a">0</text>
<line x1="167.90" y1="509.20" x2="167.90" y2="510.20" stroke="#333" stroke-width="0.6" />
<text x="171.29" y="515.20" font-size="3.3" fill="#6a6a6a">10</text>
<text x="174.96" y="513.90" font-size="2.05" fill="#6a6a6a">3</text>
<line x1="173.70" y1="509.20" x2="173.70" y2="510.20" stroke="#333" stroke-width="0.6" />
<text x="182.09" y="515.20" font-size="3.3" fill="#6a6a6a">10</text>
<text x="185.76" y="513.90" font-size="2.05" fill="#6a6a6a">4</text>
<line x1="184.50" y1="509.20" x2="184.50" y2="510.20" stroke="#333" stroke-width="0.6" />
<text x="191.29" y="515.20" font-size="3.3" fill="#6a6a6a">10</text>
<text x="194.96" y="513.90" font-size="2.05" fill="#6a6a6a">5</text>
<line x1="193.70" y1="509.20" x2="193.70" y2="510.20" stroke="#333" stroke-width="0.6" />
<rect x="209.20" y="470.30" width="40.70" height="39.90" fill="none" stroke="#404040" stroke-width="0.8" />
<rect x="218.60" y="509.80" width="1.60" height="1.30" fill="#111" />
<rect x="208.00" y="501.30" width="1.30" height="1.60" fill="#111" />
<text x="203.79" y="478.80" font-size="3.3" fill="#6a6a6a">10</text>
<text x="207.46" y="477.50" font-size="2.05" fill="#6a6a6a">5</text>
<line x1="209.20" y1="477.60" x2="210.20" y2="477.60" stroke="#333" stroke-width="0.6" />
<text x="203.79" y="487.70" font-size="3.3" fill="#6a6a6a">10</text>
<text x="207.46" y="486.40" font-size="2.05" fill="#6a6a6a">4</text>
<line x1="209.20" y1="486.50" x2="210.20" y2="486.50" stroke="#333" stroke-width="0.6" />
<text x="203.79" y="497.60" font-size="3.3" fill="#6a6a6a">10</text>
<text x="207.46" y="496.30" font-size="2.05" fill="#6a6a6a">3</text>
<line x1="209.20" y1="496.40" x2="210.20" y2="496.40" stroke="#333" stroke-width="0.6" />
<text x="206.20" y="503.30" font-size="3.3" text-anchor="middle" fill="#6a6a6a">0</text>
<line x1="209.20" y1="502.10" x2="210.20" y2="502.10" stroke="#333" stroke-width="0.6" />
<text x="203.24" y="508.50" font-size="3.3" fill="#6a6a6a">-10</text>
<text x="208.01" y="507.20" font-size="2.05" fill="#6a6a6a">3</text>
<line x1="209.20" y1="507.30" x2="210.20" y2="507.30" stroke="#333" stroke-width="0.6" />
<text x="210.24" y="515.20" font-size="3.3" fill="#6a6a6a">-10</text>
<text x="215.01" y="513.90" font-size="2.05" fill="#6a6a6a">3</text>
<line x1="213.20" y1="509.20" x2="213.20" y2="510.20" stroke="#333" stroke-width="0.6" />
<text x="219.40" y="515.20" font-size="3.3" text-anchor="middle" fill="#6a6a6a">0</text>
<line x1="219.40" y1="509.20" x2="219.40" y2="510.20" stroke="#333" stroke-width="0.6" />
<text x="222.79" y="515.20" font-size="3.3" fill="#6a6a6a">10</text>
<text x="226.46" y="513.90" font-size="2.05" fill="#6a6a6a">3</text>
<line x1="225.20" y1="509.20" x2="225.20" y2="510.20" stroke="#333" stroke-width="0.6" />
<text x="233.59" y="515.20" font-size="3.3" fill="#6a6a6a">10</text>
<text x="237.26" y="513.90" font-size="2.05" fill="#6a6a6a">4</text>
<line x1="236.00" y1="509.20" x2="236.00" y2="510.20" stroke="#333" stroke-width="0.6" />
<text x="242.79" y="515.20" font-size="3.3" fill="#6a6a6a">10</text>
<text x="246.46" y="513.90" font-size="2.05" fill="#6a6a6a">5</text>
<line x1="245.20" y1="509.20" x2="245.20" y2="510.20" stroke="#333" stroke-width="0.6" />
<rect x="55.60" y="519.50" width="41.00" height="39.80" fill="none" stroke="#404040" stroke-width="0.8" />
<rect x="65.00" y="558.90" width="1.60" height="1.30" fill="#111" />
<rect x="54.40" y="550.10" width="1.30" height="1.60" fill="#111" />
<text x="50.19" y="527.70" font-size="3.3" fill="#6a6a6a">10</text>
<text x="53.86" y="526.40" font-size="2.05" fill="#6a6a6a">5</text>
<line x1="55.60" y1="526.50" x2="56.60" y2="526.50" stroke="#333" stroke-width="0.6" />
<text x="50.19" y="536.70" font-size="3.3" fill="#6a6a6a">10</text>
<text x="53.86" y="535.40" font-size="2.05" fill="#6a6a6a">4</text>
<line x1="55.60" y1="535.50" x2="56.60" y2="535.50" stroke="#333" stroke-width="0.6" />
<text x="50.19" y="546.40" font-size="3.3" fill="#6a6a6a">10</text>
<text x="53.86" y="545.10" font-size="2.05" fill="#6a6a6a">3</text>
<line x1="55.60" y1="545.20" x2="56.60" y2="545.20" stroke="#333" stroke-width="0.6" />
<text x="52.60" y="552.10" font-size="3.3" text-anchor="middle" fill="#6a6a6a">0</text>
<line x1="55.60" y1="550.90" x2="56.60" y2="550.90" stroke="#333" stroke-width="0.6" />
<text x="49.64" y="557.30" font-size="3.3" fill="#6a6a6a">-10</text>
<text x="54.41" y="556.00" font-size="2.05" fill="#6a6a6a">3</text>
<line x1="55.60" y1="556.10" x2="56.60" y2="556.10" stroke="#333" stroke-width="0.6" />
<text x="56.64" y="564.00" font-size="3.3" fill="#6a6a6a">-10</text>
<text x="61.41" y="562.70" font-size="2.05" fill="#6a6a6a">3</text>
<line x1="59.60" y1="558.30" x2="59.60" y2="559.30" stroke="#333" stroke-width="0.6" />
<text x="65.80" y="564.00" font-size="3.3" text-anchor="middle" fill="#6a6a6a">0</text>
<line x1="65.80" y1="558.30" x2="65.80" y2="559.30" stroke="#333" stroke-width="0.6" />
<text x="69.19" y="564.00" font-size="3.3" fill="#6a6a6a">10</text>
<text x="72.86" y="562.70" font-size="2.05" fill="#6a6a6a">3</text>
<line x1="71.60" y1="558.30" x2="71.60" y2="559.30" stroke="#333" stroke-width="0.6" />
<text x="79.99" y="564.00" font-size="3.3" fill="#6a6a6a">10</text>
<text x="83.66" y="562.70" font-size="2.05" fill="#6a6a6a">4</text>
<line x1="82.40" y1="558.30" x2="82.40" y2="559.30" stroke="#333" stroke-width="0.6" />
<text x="89.19" y="564.00" font-size="3.3" fill="#6a6a6a">10</text>
<text x="92.86" y="562.70" font-size="2.05" fill="#6a6a6a">5</text>
<line x1="91.60" y1="558.30" x2="91.60" y2="559.30" stroke="#333" stroke-width="0.6" />
<rect x="106.50" y="519.50" width="41.00" height="39.80" fill="none" stroke="#404040" stroke-width="0.8" />
<rect x="115.90" y="558.90" width="1.60" height="1.30" fill="#111" />
<rect x="105.30" y="550.10" width="1.30" height="1.60" fill="#111" />
<text x="101.09" y="527.70" font-size="3.3" fill="#6a6a6a">10</text>
<text x="104.76" y="526.40" font-size="2.05" fill="#6a6a6a">5</text>
<line x1="106.50" y1="526.50" x2="107.50" y2="526.50" stroke="#333" stroke-width="0.6" />
<text x="101.09" y="536.70" font-size="3.3" fill="#6a6a6a">10</text>
<text x="104.76" y="535.40" font-size="2.05" fill="#6a6a6a">4</text>
<line x1="106.50" y1="535.50" x2="107.50" y2="535.50" stroke="#333" stroke-width="0.6" />
<text x="101.09" y="546.40" font-size="3.3" fill="#6a6a6a">10</text>
<text x="104.76" y="545.10" font-size="2.05" fill="#6a6a6a">3</text>
<line x1="106.50" y1="545.20" x2="107.50" y2="545.20" stroke="#333" stroke-width="0.6" />
<text x="103.50" y="552.10" font-size="3.3" text-anchor="middle" fill="#6a6a6a">0</text>
<line x1="106.50" y1="550.90" x2="107.50" y2="550.90" stroke="#333" stroke-width="0.6" />
<text x="100.54" y="557.30" font-size="3.3" fill="#6a6a6a">-10</text>
<text x="105.31" y="556.00" font-size="2.05" fill="#6a6a6a">3</text>
<line x1="106.50" y1="556.10" x2="107.50" y2="556.10" stroke="#333" stroke-width="0.6" />
<text x="107.54" y="564.00" font-size="3.3" fill="#6a6a6a">-10</text>
<text x="112.31" y="562.70" font-size="2.05" fill="#6a6a6a">3</text>
<line x1="110.50" y1="558.30" x2="110.50" y2="559.30" stroke="#333" stroke-width="0.6" />
<text x="116.70" y="564.00" font-size="3.3" text-anchor="middle" fill="#6a6a6a">0</text>
<line x1="116.70" y1="558.30" x2="116.70" y2="559.30" stroke="#333" stroke-width="0.6" />
<text x="120.09" y="564.00" font-size="3.3" fill="#6a6a6a">10</text>
<text x="123.76" y="562.70" font-size="2.05" fill="#6a6a6a">3</text>
<line x1="122.50" y1="558.30" x2="122.50" y2="559.30" stroke="#333" stroke-width="0.6" />
<text x="130.89" y="564.00" font-size="3.3" fill="#6a6a6a">10</text>
<text x="134.56" y="562.70" font-size="2.05" fill="#6a6a6a">4</text>
<line x1="133.30" y1="558.30" x2="133.30" y2="559.30" stroke="#333" stroke-width="0.6" />
<text x="140.09" y="564.00" font-size="3.3" fill="#6a6a6a">10</text>
<text x="143.76" y="562.70" font-size="2.05" fill="#6a6a6a">5</text>
<line x1="142.50" y1="558.30" x2="142.50" y2="559.30" stroke="#333" stroke-width="0.6" />
<rect x="157.50" y="519.50" width="41.00" height="39.80" fill="none" stroke="#404040" stroke-width="0.8" />
<rect x="166.90" y="558.90" width="1.60" height="1.30" fill="#111" />
<rect x="156.30" y="550.10" width="1.30" height="1.60" fill="#111" />
<text x="152.09" y="527.70" font-size="3.3" fill="#6a6a6a">10</text>
<text x="155.76" y="526.40" font-size="2.05" fill="#6a6a6a">5</text>
<line x1="157.50" y1="526.50" x2="158.50" y2="526.50" stroke="#333" stroke-width="0.6" />
<text x="152.09" y="536.70" font-size="3.3" fill="#6a6a6a">10</text>
<text x="155.76" y="535.40" font-size="2.05" fill="#6a6a6a">4</text>
<line x1="157.50" y1="535.50" x2="158.50" y2="535.50" stroke="#333" stroke-width="0.6" />
<text x="152.09" y="546.40" font-size="3.3" fill="#6a6a6a">10</text>
<text x="155.76" y="545.10" font-size="2.05" fill="#6a6a6a">3</text>
<line x1="157.50" y1="545.20" x2="158.50" y2="545.20" stroke="#333" stroke-width="0.6" />
<text x="154.50" y="552.10" font-size="3.3" text-anchor="middle" fill="#6a6a6a">0</text>
<line x1="157.50" y1="550.90" x2="158.50" y2="550.90" stroke="#333" stroke-width="0.6" />
<text x="151.54" y="557.30" font-size="3.3" fill="#6a6a6a">-10</text>
<text x="156.31" y="556.00" font-size="2.05" fill="#6a6a6a">3</text>
<line x1="157.50" y1="556.10" x2="158.50" y2="556.10" stroke="#333" stroke-width="0.6" />
<text x="158.54" y="564.00" font-size="3.3" fill="#6a6a6a">-10</text>
<text x="163.31" y="562.70" font-size="2.05" fill="#6a6a6a">3</text>
<line x1="161.50" y1="558.30" x2="161.50" y2="559.30" stroke="#333" stroke-width="0.6" />
<text x="167.70" y="564.00" font-size="3.3" text-anchor="middle" fill="#6a6a6a">0</text>
<line x1="167.70" y1="558.30" x2="167.70" y2="559.30" stroke="#333" stroke-width="0.6" />
<text x="171.09" y="564.00" font-size="3.3" fill="#6a6a6a">10</text>
<text x="174.76" y="562.70" font-size="2.05" fill="#6a6a6a">3</text>
<line x1="173.50" y1="558.30" x2="173.50" y2="559.30" stroke="#333" stroke-width="0.6" />
<text x="181.89" y="564.00" font-size="3.3" fill="#6a6a6a">10</text>
<text x="185.56" y="562.70" font-size="2.05" fill="#6a6a6a">4</text>
<line x1="184.30" y1="558.30" x2="184.30" y2="559.30" stroke="#333" stroke-width="0.6" />
<text x="191.09" y="564.00" font-size="3.3" fill="#6a6a6a">10</text>
<text x="194.76" y="562.70" font-size="2.05" fill="#6a6a6a">5</text>
<line x1="193.50" y1="558.30" x2="193.50" y2="559.30" stroke="#333" stroke-width="0.6" />
<rect x="209.20" y="519.50" width="41.00" height="39.80" fill="none" stroke="#404040" stroke-width="0.8" />
<rect x="218.60" y="558.90" width="1.60" height="1.30" fill="#111" />
<rect x="208.00" y="550.10" width="1.30" height="1.60" fill="#111" />
<text x="203.79" y="527.70" font-size="3.3" fill="#6a6a6a">10</text>
<text x="207.46" y="526.40" font-size="2.05" fill="#6a6a6a">5</text>
<line x1="209.20" y1="526.50" x2="210.20" y2="526.50" stroke="#333" stroke-width="0.6" />
<text x="203.79" y="536.70" font-size="3.3" fill="#6a6a6a">10</text>
<text x="207.46" y="535.40" font-size="2.05" fill="#6a6a6a">4</text>
<line x1="209.20" y1="535.50" x2="210.20" y2="535.50" stroke="#333" stroke-width="0.6" />
<text x="203.79" y="546.40" font-size="3.3" fill="#6a6a6a">10</text>
<text x="207.46" y="545.10" font-size="2.05" fill="#6a6a6a">3</text>
<line x1="209.20" y1="545.20" x2="210.20" y2="545.20" stroke="#333" stroke-width="0.6" />
<text x="206.20" y="552.10" font-size="3.3" text-anchor="middle" fill="#6a6a6a">0</text>
<line x1="209.20" y1="550.90" x2="210.20" y2="550.90" stroke="#333" stroke-width="0.6" />
<text x="203.24" y="557.30" font-size="3.3" fill="#6a6a6a">-10</text>
<text x="208.01" y="556.00" font-size="2.05" fill="#6a6a6a">3</text>
<line x1="209.20" y1="556.10" x2="210.20" y2="556.10" stroke="#333" stroke-width="0.6" />
<text x="210.24" y="564.00" font-size="3.3" fill="#6a6a6a">-10</text>
<text x="215.01" y="562.70" font-size="2.05" fill="#6a6a6a">3</text>
<line x1="213.20" y1="558.30" x2="213.20" y2="559.30" stroke="#333" stroke-width="0.6" />
<text x="219.40" y="564.00" font-size="3.3" text-anchor="middle" fill="#6a6a6a">0</text>
<line x1="219.40" y1="558.30" x2="219.40" y2="559.30" stroke="#333" stroke-width="0.6" />
<text x="222.79" y="564.00" font-size="3.3" fill="#6a6a6a">10</text>
<text x="226.46" y="562.70" font-size="2.05" fill="#6a6a6a">3</text>
<line x1="225.20" y1="558.30" x2="225.20" y2="559.30" stroke="#333" stroke-width="0.6" />
<text x="233.59" y="564.00" font-size="3.3" fill="#6a6a6a">10</text>
<text x="237.26" y="562.70" font-size="2.05" fill="#6a6a6a">4</text>
<line x1="236.00" y1="558.30" x2="236.00" y2="559.30" stroke="#333" stroke-width="0.6" />
<text x="242.79" y="564.00" font-size="3.3" fill="#6a6a6a">10</text>
<text x="246.46" y="562.70" font-size="2.05" fill="#6a6a6a">5</text>
<line x1="245.20" y1="558.30" x2="245.20" y2="559.30" stroke="#333" stroke-width="0.6" />
<g fill="#5448b0" opacity="0.45"><circle cx="87.76" cy="458.42" r="0.33"/><circle cx="85.42" cy="453.09" r="0.33"/><circle cx="83.80" cy="454.17" r="0.33"/><circle cx="86.31" cy="453.92" r="0.33"/><circle cx="89.23" cy="457.67" r="0.33"/><circle cx="95.50" cy="458.02" r="0.33"/><circle cx="88.67" cy="455.85" r="0.33"/><circle cx="81.28" cy="460.00" r="0.33"/><circle cx="85.30" cy="457.82" r="0.33"/><circle cx="86.14" cy="458.38" r="0.33"/><circle cx="75.39" cy="452.47" r="0.33"/><circle cx="87.45" cy="461.84" r="0.33"/><circle cx="74.29" cy="454.89" r="0.33"/><circle cx="85.63" cy="455.32" r="0.33"/><circle cx="82.87" cy="455.59" r="0.33"/><circle cx="89.41" cy="456.58" r="0.33"/><circle cx="85.35" cy="453.69" r="0.33"/><circle cx="87.78" cy="460.45" r="0.33"/><circle cx="87.55" cy="455.67" r="0.33"/><circle cx="77.65" cy="457.50" r="0.33"/><circle cx="86.53" cy="455.84" r="0.33"/><circle cx="72.00" cy="454.58" r="0.33"/><circle cx="78.25" cy="454.29" r="0.33"/><circle cx="85.33" cy="453.92" r="0.33"/><circle cx="82.74" cy="459.35" r="0.33"/><circle cx="79.89" cy="456.14" r="0.33"/><circle cx="87.29" cy="454.84" r="0.33"/><circle cx="75.98" cy="456.88" r="0.33"/><circle cx="88.50" cy="452.24" r="0.33"/><circle cx="82.19" cy="455.13" r="0.33"/><circle cx="90.69" cy="452.55" r="0.33"/><circle cx="82.52" cy="452.84" r="0.33"/><circle cx="78.59" cy="456.28" r="0.33"/><circle cx="81.95" cy="455.88" r="0.33"/><circle cx="79.94" cy="452.59" r="0.33"/><circle cx="88.68" cy="459.67" r="0.33"/><circle cx="83.71" cy="455.42" r="0.33"/><circle cx="90.79" cy="457.43" r="0.33"/><circle cx="85.23" cy="458.36" r="0.33"/><circle cx="79.15" cy="454.30" r="0.33"/><circle cx="84.35" cy="453.65" r="0.33"/><circle cx="84.00" cy="456.80" r="0.33"/><circle cx="86.87" cy="457.45" r="0.33"/><circle cx="76.52" cy="455.94" r="0.33"/><circle cx="85.66" cy="458.62" r="0.33"/><circle cx="89.06" cy="455.63" r="0.33"/><circle cx="82.81" cy="453.53" r="0.33"/><circle cx="81.34" cy="454.39" r="0.33"/><circle cx="76.94" cy="455.54" r="0.33"/><circle cx="89.14" cy="459.84" r="0.33"/><circle cx="85.48" cy="456.01" r="0.33"/><circle cx="85.61" cy="458.08" r="0.33"/><circle cx="86.68" cy="457.17" r="0.33"/><circle cx="82.78" cy="455.63" r="0.33"/><circle cx="95.43" cy="458.66" r="0.33"/><circle cx="79.31" cy="458.08" r="0.33"/><circle cx="79.87" cy="456.83" r="0.33"/><circle cx="81.25" cy="456.91" r="0.33"/><circle cx="81.06" cy="455.70" r="0.33"/><circle cx="86.49" cy="457.69" r="0.33"/><circle cx="74.55" cy="459.15" r="0.33"/><circle cx="72.92" cy="452.93" r="0.33"/><circle cx="81.25" cy="457.50" r="0.33"/><circle cx="83.60" cy="455.11" r="0.33"/><circle cx="89.38" cy="456.47" r="0.33"/><circle cx="83.87" cy="458.23" r="0.33"/><circle cx="80.46" cy="461.37" r="0.33"/><circle cx="90.79" cy="456.36" r="0.33"/><circle cx="84.48" cy="456.81" r="0.33"/><circle cx="88.09" cy="457.39" r="0.33"/><circle cx="80.02" cy="454.09" r="0.33"/><circle cx="90.01" cy="453.25" r="0.33"/><circle cx="79.90" cy="459.13" r="0.33"/><circle cx="76.82" cy="457.72" r="0.33"/><circle cx="89.90" cy="462.02" r="0.33"/><circle cx="91.26" cy="456.94" r="0.33"/><circle cx="79.01" cy="459.66" r="0.33"/><circle cx="90.92" cy="460.14" r="0.33"/><circle cx="92.55" cy="456.57" r="0.33"/><circle cx="82.69" cy="453.99" r="0.33"/><circle cx="86.64" cy="458.42" r="0.33"/><circle cx="81.14" cy="457.00" r="0.33"/><circle cx="89.50" cy="460.09" r="0.33"/><circle cx="80.62" cy="455.96" r="0.33"/><circle cx="79.41" cy="454.29" r="0.33"/><circle cx="88.75" cy="458.70" r="0.33"/><circle cx="82.31" cy="455.96" r="0.33"/><circle cx="81.27" cy="460.67" r="0.33"/><circle cx="81.28" cy="455.76" r="0.33"/><circle cx="80.06" cy="458.01" r="0.33"/></g>
<ellipse cx="83.40" cy="456.50" rx="7.00" ry="2.60" transform="rotate(0 83.40 456.50)" fill="#5a4cb0" opacity="0.3" filter="url(#bl70)"/>
<ellipse cx="69.40" cy="456.00" rx="12.50" ry="5.50" transform="rotate(0 69.40 456.00)" fill="#5a4cb0" opacity="0.25" filter="url(#bl70)"/>
<g filter="url(#bl45)" opacity="1.0"><ellipse cx="68.80" cy="456.00" rx="9.80" ry="4.30" transform="rotate(0 68.80 456.00)" fill="#3b2d95"/><ellipse cx="68.35" cy="456.01" rx="8.82" ry="3.87" transform="rotate(0 68.35 456.01)" fill="#2f42bc"/><ellipse cx="67.90" cy="456.02" rx="7.74" ry="3.40" transform="rotate(0 67.90 456.02)" fill="#2a6ed4"/><ellipse cx="67.45" cy="456.04" rx="6.66" ry="2.92" transform="rotate(0 67.45 456.04)" fill="#28a8d8"/><ellipse cx="67.00" cy="456.05" rx="5.59" ry="2.45" transform="rotate(0 67.00 456.05)" fill="#3cc49c"/><ellipse cx="66.55" cy="456.06" rx="4.51" ry="1.98" transform="rotate(0 66.55 456.06)" fill="#88cc3a"/><ellipse cx="66.10" cy="456.07" rx="3.33" ry="1.46" transform="rotate(0 66.10 456.07)" fill="#e6d322"/><ellipse cx="65.65" cy="456.09" rx="2.25" ry="0.99" transform="rotate(0 65.65 456.09)" fill="#f08a1c"/><ellipse cx="65.20" cy="456.10" rx="1.27" ry="0.56" transform="rotate(0 65.20 456.10)" fill="#e0281c"/></g>
<g fill="#5448b0" opacity="0.45"><circle cx="131.93" cy="455.79" r="0.33"/><circle cx="145.88" cy="455.42" r="0.33"/><circle cx="127.58" cy="457.17" r="0.33"/><circle cx="135.58" cy="458.02" r="0.33"/><circle cx="132.96" cy="459.78" r="0.33"/><circle cx="137.92" cy="462.19" r="0.33"/><circle cx="137.76" cy="457.12" r="0.33"/><circle cx="142.07" cy="458.50" r="0.33"/><circle cx="131.02" cy="458.35" r="0.33"/><circle cx="131.53" cy="459.28" r="0.33"/><circle cx="131.99" cy="457.35" r="0.33"/><circle cx="130.94" cy="457.30" r="0.33"/><circle cx="141.94" cy="459.13" r="0.33"/><circle cx="131.66" cy="453.56" r="0.33"/><circle cx="138.50" cy="455.02" r="0.33"/><circle cx="130.99" cy="458.09" r="0.33"/><circle cx="128.66" cy="458.35" r="0.33"/><circle cx="140.38" cy="456.60" r="0.33"/><circle cx="130.31" cy="456.06" r="0.33"/><circle cx="142.53" cy="456.97" r="0.33"/><circle cx="141.23" cy="456.67" r="0.33"/><circle cx="135.56" cy="456.98" r="0.33"/><circle cx="135.58" cy="457.24" r="0.33"/><circle cx="139.24" cy="459.21" r="0.33"/><circle cx="134.15" cy="454.43" r="0.33"/><circle cx="131.53" cy="454.46" r="0.33"/><circle cx="124.59" cy="456.54" r="0.33"/><circle cx="131.01" cy="460.62" r="0.33"/><circle cx="132.06" cy="453.39" r="0.33"/><circle cx="136.89" cy="456.53" r="0.33"/><circle cx="139.31" cy="456.90" r="0.33"/><circle cx="144.43" cy="455.01" r="0.33"/><circle cx="136.13" cy="455.56" r="0.33"/><circle cx="132.43" cy="452.85" r="0.33"/><circle cx="138.02" cy="452.87" r="0.33"/><circle cx="136.80" cy="457.57" r="0.33"/><circle cx="136.96" cy="453.03" r="0.33"/><circle cx="139.04" cy="455.00" r="0.33"/><circle cx="136.91" cy="455.73" r="0.33"/><circle cx="144.81" cy="455.28" r="0.33"/><circle cx="133.82" cy="457.20" r="0.33"/><circle cx="127.51" cy="455.49" r="0.33"/><circle cx="133.79" cy="457.11" r="0.33"/><circle cx="133.13" cy="460.54" r="0.33"/><circle cx="144.71" cy="459.29" r="0.33"/><circle cx="134.80" cy="457.99" r="0.33"/><circle cx="145.52" cy="460.51" r="0.33"/><circle cx="138.36" cy="455.38" r="0.33"/><circle cx="140.80" cy="458.31" r="0.33"/><circle cx="135.39" cy="456.28" r="0.33"/><circle cx="128.19" cy="453.28" r="0.33"/><circle cx="128.53" cy="457.23" r="0.33"/><circle cx="136.03" cy="454.97" r="0.33"/><circle cx="133.73" cy="459.70" r="0.33"/><circle cx="128.94" cy="455.62" r="0.33"/><circle cx="128.86" cy="460.96" r="0.33"/><circle cx="133.01" cy="459.72" r="0.33"/><circle cx="138.78" cy="455.13" r="0.33"/><circle cx="138.12" cy="457.02" r="0.33"/><circle cx="137.39" cy="457.00" r="0.33"/><circle cx="138.13" cy="457.88" r="0.33"/><circle cx="131.07" cy="458.25" r="0.33"/><circle cx="130.98" cy="453.65" r="0.33"/><circle cx="132.97" cy="454.57" r="0.33"/><circle cx="131.51" cy="454.13" r="0.33"/><circle cx="139.17" cy="458.49" r="0.33"/><circle cx="131.67" cy="459.50" r="0.33"/><circle cx="134.45" cy="454.87" r="0.33"/><circle cx="129.74" cy="457.46" r="0.33"/><circle cx="134.38" cy="457.11" r="0.33"/><circle cx="149.75" cy="458.62" r="0.33"/><circle cx="134.46" cy="454.14" r="0.33"/><circle cx="132.82" cy="454.99" r="0.33"/><circle cx="131.78" cy="451.27" r="0.33"/><circle cx="135.61" cy="454.06" r="0.33"/><circle cx="146.04" cy="455.99" r="0.33"/><circle cx="139.61" cy="457.31" r="0.33"/><circle cx="130.98" cy="457.02" r="0.33"/><circle cx="132.73" cy="455.68" r="0.33"/><circle cx="134.62" cy="452.16" r="0.33"/><circle cx="141.91" cy="457.77" r="0.33"/><circle cx="134.09" cy="459.62" r="0.33"/><circle cx="129.85" cy="450.88" r="0.33"/><circle cx="136.15" cy="454.59" r="0.33"/><circle cx="134.45" cy="455.27" r="0.33"/><circle cx="133.62" cy="454.27" r="0.33"/><circle cx="134.45" cy="458.12" r="0.33"/><circle cx="136.65" cy="460.34" r="0.33"/><circle cx="137.79" cy="457.41" r="0.33"/><circle cx="135.84" cy="457.71" r="0.33"/></g>
<ellipse cx="133.80" cy="456.50" rx="7.00" ry="2.60" transform="rotate(0 133.80 456.50)" fill="#5a4cb0" opacity="0.3" filter="url(#bl70)"/>
<ellipse cx="119.80" cy="456.00" rx="12.50" ry="5.50" transform="rotate(0 119.80 456.00)" fill="#5a4cb0" opacity="0.25" filter="url(#bl70)"/>
<g filter="url(#bl45)" opacity="1.0"><ellipse cx="119.20" cy="455.90" rx="9.80" ry="4.30" transform="rotate(0 119.20 455.90)" fill="#3b2d95"/><ellipse cx="118.75" cy="455.91" rx="8.82" ry="3.87" transform="rotate(0 118.75 455.91)" fill="#2f42bc"/><ellipse cx="118.30" cy="455.92" rx="7.74" ry="3.40" transform="rotate(0 118.30 455.92)" fill="#2a6ed4"/><ellipse cx="117.85" cy="455.94" rx="6.66" ry="2.92" transform="rotate(0 117.85 455.94)" fill="#28a8d8"/><ellipse cx="117.40" cy="455.95" rx="5.59" ry="2.45" transform="rotate(0 117.40 455.95)" fill="#3cc49c"/><ellipse cx="116.95" cy="455.96" rx="4.51" ry="1.98" transform="rotate(0 116.95 455.96)" fill="#88cc3a"/><ellipse cx="116.50" cy="455.97" rx="3.33" ry="1.46" transform="rotate(0 116.50 455.97)" fill="#e6d322"/><ellipse cx="116.05" cy="455.99" rx="2.25" ry="0.99" transform="rotate(0 116.05 455.99)" fill="#f08a1c"/><ellipse cx="115.60" cy="456.00" rx="1.27" ry="0.56" transform="rotate(0 115.60 456.00)" fill="#e0281c"/></g>
<g fill="#5448b0" opacity="0.45"><circle cx="190.63" cy="458.94" r="0.33"/><circle cx="190.32" cy="459.54" r="0.33"/><circle cx="182.66" cy="455.14" r="0.33"/><circle cx="181.72" cy="454.59" r="0.33"/><circle cx="192.42" cy="457.23" r="0.33"/><circle cx="182.08" cy="454.68" r="0.33"/><circle cx="192.42" cy="454.04" r="0.33"/><circle cx="183.93" cy="457.60" r="0.33"/><circle cx="192.82" cy="459.39" r="0.33"/><circle cx="183.97" cy="453.70" r="0.33"/><circle cx="180.99" cy="457.43" r="0.33"/><circle cx="187.58" cy="459.16" r="0.33"/><circle cx="190.76" cy="458.93" r="0.33"/><circle cx="181.41" cy="454.11" r="0.33"/><circle cx="186.55" cy="457.47" r="0.33"/><circle cx="182.70" cy="459.41" r="0.33"/><circle cx="178.22" cy="456.27" r="0.33"/><circle cx="181.92" cy="457.43" r="0.33"/><circle cx="189.03" cy="455.77" r="0.33"/><circle cx="188.26" cy="459.33" r="0.33"/><circle cx="182.89" cy="454.78" r="0.33"/><circle cx="181.47" cy="455.65" r="0.33"/><circle cx="181.38" cy="452.48" r="0.33"/><circle cx="189.74" cy="453.70" r="0.33"/><circle cx="174.57" cy="457.50" r="0.33"/><circle cx="179.87" cy="457.51" r="0.33"/><circle cx="191.64" cy="454.05" r="0.33"/><circle cx="180.13" cy="458.80" r="0.33"/><circle cx="177.53" cy="453.62" r="0.33"/><circle cx="182.08" cy="454.60" r="0.33"/><circle cx="192.54" cy="456.06" r="0.33"/><circle cx="177.04" cy="459.59" r="0.33"/><circle cx="189.38" cy="456.03" r="0.33"/><circle cx="195.37" cy="458.41" r="0.33"/><circle cx="190.15" cy="455.04" r="0.33"/><circle cx="186.27" cy="459.84" r="0.33"/><circle cx="189.72" cy="455.94" r="0.33"/><circle cx="179.52" cy="457.54" r="0.33"/><circle cx="187.44" cy="458.74" r="0.33"/><circle cx="190.06" cy="458.47" r="0.33"/><circle cx="186.76" cy="457.40" r="0.33"/><circle cx="184.31" cy="457.31" r="0.33"/><circle cx="188.60" cy="457.35" r="0.33"/><circle cx="182.70" cy="457.45" r="0.33"/><circle cx="185.80" cy="454.25" r="0.33"/><circle cx="186.64" cy="457.92" r="0.33"/><circle cx="184.09" cy="459.97" r="0.33"/><circle cx="188.18" cy="458.85" r="0.33"/><circle cx="189.78" cy="452.62" r="0.33"/><circle cx="177.15" cy="457.49" r="0.33"/><circle cx="184.26" cy="455.27" r="0.33"/><circle cx="189.05" cy="457.24" r="0.33"/><circle cx="187.74" cy="454.38" r="0.33"/><circle cx="193.34" cy="451.59" r="0.33"/><circle cx="191.42" cy="455.30" r="0.33"/><circle cx="190.52" cy="456.58" r="0.33"/><circle cx="187.90" cy="459.62" r="0.33"/><circle cx="183.14" cy="451.76" r="0.33"/><circle cx="182.98" cy="451.15" r="0.33"/><circle cx="182.83" cy="454.60" r="0.33"/><circle cx="188.58" cy="454.99" r="0.33"/><circle cx="187.94" cy="453.01" r="0.33"/><circle cx="187.68" cy="455.92" r="0.33"/><circle cx="191.11" cy="461.48" r="0.33"/><circle cx="189.94" cy="458.38" r="0.33"/><circle cx="181.90" cy="454.99" r="0.33"/><circle cx="195.55" cy="452.73" r="0.33"/><circle cx="185.04" cy="457.49" r="0.33"/><circle cx="191.22" cy="455.26" r="0.33"/><circle cx="186.52" cy="457.70" r="0.33"/><circle cx="193.10" cy="456.67" r="0.33"/><circle cx="185.27" cy="459.25" r="0.33"/><circle cx="191.62" cy="455.34" r="0.33"/><circle cx="188.28" cy="456.26" r="0.33"/><circle cx="186.92" cy="452.82" r="0.33"/><circle cx="187.71" cy="456.36" r="0.33"/><circle cx="180.13" cy="456.38" r="0.33"/><circle cx="181.90" cy="455.06" r="0.33"/><circle cx="184.95" cy="461.20" r="0.33"/><circle cx="192.10" cy="454.13" r="0.33"/><circle cx="192.64" cy="455.79" r="0.33"/><circle cx="193.26" cy="458.12" r="0.33"/><circle cx="193.09" cy="458.75" r="0.33"/><circle cx="184.48" cy="455.30" r="0.33"/><circle cx="187.58" cy="457.17" r="0.33"/><circle cx="192.63" cy="461.95" r="0.33"/><circle cx="187.93" cy="461.02" r="0.33"/><circle cx="189.52" cy="458.00" r="0.33"/><circle cx="181.86" cy="456.86" r="0.33"/><circle cx="190.11" cy="456.14" r="0.33"/></g>
<ellipse cx="185.50" cy="456.50" rx="7.00" ry="2.60" transform="rotate(0 185.50 456.50)" fill="#5a4cb0" opacity="0.3" filter="url(#bl70)"/>
<ellipse cx="171.50" cy="456.00" rx="12.50" ry="5.50" transform="rotate(0 171.50 456.00)" fill="#5a4cb0" opacity="0.25" filter="url(#bl70)"/>
<g filter="url(#bl45)" opacity="1.0"><ellipse cx="170.90" cy="455.90" rx="9.80" ry="4.30" transform="rotate(0 170.90 455.90)" fill="#3b2d95"/><ellipse cx="170.45" cy="455.91" rx="8.82" ry="3.87" transform="rotate(0 170.45 455.91)" fill="#2f42bc"/><ellipse cx="170.00" cy="455.92" rx="7.74" ry="3.40" transform="rotate(0 170.00 455.92)" fill="#2a6ed4"/><ellipse cx="169.55" cy="455.94" rx="6.66" ry="2.92" transform="rotate(0 169.55 455.94)" fill="#28a8d8"/><ellipse cx="169.10" cy="455.95" rx="5.59" ry="2.45" transform="rotate(0 169.10 455.95)" fill="#3cc49c"/><ellipse cx="168.65" cy="455.96" rx="4.51" ry="1.98" transform="rotate(0 168.65 455.96)" fill="#88cc3a"/><ellipse cx="168.20" cy="455.97" rx="3.33" ry="1.46" transform="rotate(0 168.20 455.97)" fill="#e6d322"/><ellipse cx="167.75" cy="455.99" rx="2.25" ry="0.99" transform="rotate(0 167.75 455.99)" fill="#f08a1c"/><ellipse cx="167.30" cy="456.00" rx="1.27" ry="0.56" transform="rotate(0 167.30 456.00)" fill="#e0281c"/></g>
<g fill="#5448b0" opacity="0.45"><circle cx="243.67" cy="456.18" r="0.33"/><circle cx="236.62" cy="452.98" r="0.33"/><circle cx="238.64" cy="457.37" r="0.33"/><circle cx="236.16" cy="455.83" r="0.33"/><circle cx="230.45" cy="459.61" r="0.33"/><circle cx="239.95" cy="455.70" r="0.33"/><circle cx="241.28" cy="457.27" r="0.33"/><circle cx="238.73" cy="456.07" r="0.33"/><circle cx="238.57" cy="457.54" r="0.33"/><circle cx="242.43" cy="458.43" r="0.33"/><circle cx="240.28" cy="458.56" r="0.33"/><circle cx="237.36" cy="452.99" r="0.33"/><circle cx="230.64" cy="458.47" r="0.33"/><circle cx="229.79" cy="454.69" r="0.33"/><circle cx="238.23" cy="458.61" r="0.33"/><circle cx="227.63" cy="453.93" r="0.33"/><circle cx="234.02" cy="454.81" r="0.33"/><circle cx="238.18" cy="458.29" r="0.33"/><circle cx="241.33" cy="462.80" r="0.33"/><circle cx="246.22" cy="453.45" r="0.33"/><circle cx="230.48" cy="455.88" r="0.33"/><circle cx="236.55" cy="458.91" r="0.33"/><circle cx="241.39" cy="458.32" r="0.33"/><circle cx="238.16" cy="457.51" r="0.33"/><circle cx="240.17" cy="456.02" r="0.33"/><circle cx="241.19" cy="453.35" r="0.33"/><circle cx="243.06" cy="457.86" r="0.33"/><circle cx="252.91" cy="456.33" r="0.33"/><circle cx="230.28" cy="455.04" r="0.33"/><circle cx="237.13" cy="454.73" r="0.33"/><circle cx="231.79" cy="455.58" r="0.33"/><circle cx="230.93" cy="459.01" r="0.33"/><circle cx="230.39" cy="457.76" r="0.33"/><circle cx="243.18" cy="457.44" r="0.33"/><circle cx="245.13" cy="457.37" r="0.33"/><circle cx="242.56" cy="454.52" r="0.33"/><circle cx="231.80" cy="455.27" r="0.33"/><circle cx="238.85" cy="458.66" r="0.33"/><circle cx="231.85" cy="455.00" r="0.33"/><circle cx="234.05" cy="458.21" r="0.33"/><circle cx="235.11" cy="458.94" r="0.33"/><circle cx="236.20" cy="454.75" r="0.33"/><circle cx="234.34" cy="452.57" r="0.33"/><circle cx="224.55" cy="455.10" r="0.33"/><circle cx="234.10" cy="461.10" r="0.33"/><circle cx="240.17" cy="458.40" r="0.33"/><circle cx="238.72" cy="455.98" r="0.33"/><circle cx="230.58" cy="453.56" r="0.33"/><circle cx="245.31" cy="455.35" r="0.33"/><circle cx="235.66" cy="458.13" r="0.33"/><circle cx="236.94" cy="455.90" r="0.33"/><circle cx="248.37" cy="457.30" r="0.33"/><circle cx="236.12" cy="455.56" r="0.33"/><circle cx="234.48" cy="457.29" r="0.33"/><circle cx="241.00" cy="455.18" r="0.33"/><circle cx="236.88" cy="452.92" r="0.33"/><circle cx="236.60" cy="458.02" r="0.33"/><circle cx="233.19" cy="456.21" r="0.33"/><circle cx="234.50" cy="455.41" r="0.33"/><circle cx="239.64" cy="454.29" r="0.33"/><circle cx="243.86" cy="459.37" r="0.33"/><circle cx="244.17" cy="454.46" r="0.33"/><circle cx="228.50" cy="455.22" r="0.33"/><circle cx="238.82" cy="456.38" r="0.33"/><circle cx="237.22" cy="456.53" r="0.33"/><circle cx="236.34" cy="457.92" r="0.33"/><circle cx="230.90" cy="457.30" r="0.33"/><circle cx="240.69" cy="455.19" r="0.33"/><circle cx="256.80" cy="457.10" r="0.33"/><circle cx="239.47" cy="453.77" r="0.33"/><circle cx="239.45" cy="456.97" r="0.33"/><circle cx="243.82" cy="455.41" r="0.33"/><circle cx="243.78" cy="453.53" r="0.33"/><circle cx="238.26" cy="452.52" r="0.33"/><circle cx="238.12" cy="458.15" r="0.33"/><circle cx="230.39" cy="458.02" r="0.33"/><circle cx="240.51" cy="452.94" r="0.33"/><circle cx="233.21" cy="455.30" r="0.33"/><circle cx="240.74" cy="459.56" r="0.33"/><circle cx="234.78" cy="454.33" r="0.33"/><circle cx="236.18" cy="450.44" r="0.33"/><circle cx="240.43" cy="456.14" r="0.33"/><circle cx="236.59" cy="459.45" r="0.33"/><circle cx="236.69" cy="454.83" r="0.33"/><circle cx="243.24" cy="455.47" r="0.33"/><circle cx="238.36" cy="455.78" r="0.33"/><circle cx="238.01" cy="456.96" r="0.33"/><circle cx="239.75" cy="453.92" r="0.33"/><circle cx="244.73" cy="455.62" r="0.33"/><circle cx="236.07" cy="458.34" r="0.33"/></g>
<ellipse cx="237.20" cy="456.50" rx="7.00" ry="2.60" transform="rotate(0 237.20 456.50)" fill="#5a4cb0" opacity="0.3" filter="url(#bl70)"/>
<ellipse cx="223.20" cy="456.00" rx="12.50" ry="5.50" transform="rotate(0 223.20 456.00)" fill="#5a4cb0" opacity="0.25" filter="url(#bl70)"/>
<g filter="url(#bl45)" opacity="1.0"><ellipse cx="222.60" cy="455.90" rx="9.80" ry="4.30" transform="rotate(0 222.60 455.90)" fill="#3b2d95"/><ellipse cx="222.15" cy="455.91" rx="8.82" ry="3.87" transform="rotate(0 222.15 455.91)" fill="#2f42bc"/><ellipse cx="221.70" cy="455.92" rx="7.74" ry="3.40" transform="rotate(0 221.70 455.92)" fill="#2a6ed4"/><ellipse cx="221.25" cy="455.94" rx="6.66" ry="2.92" transform="rotate(0 221.25 455.94)" fill="#28a8d8"/><ellipse cx="220.80" cy="455.95" rx="5.59" ry="2.45" transform="rotate(0 220.80 455.95)" fill="#3cc49c"/><ellipse cx="220.35" cy="455.96" rx="4.51" ry="1.98" transform="rotate(0 220.35 455.96)" fill="#88cc3a"/><ellipse cx="219.90" cy="455.97" rx="3.33" ry="1.46" transform="rotate(0 219.90 455.97)" fill="#e6d322"/><ellipse cx="219.45" cy="455.99" rx="2.25" ry="0.99" transform="rotate(0 219.45 455.99)" fill="#f08a1c"/><ellipse cx="219.00" cy="456.00" rx="1.27" ry="0.56" transform="rotate(0 219.00 456.00)" fill="#e0281c"/></g>
<g fill="#3a2e96" opacity="0.55"><circle cx="68.13" cy="437.43" r="0.38"/><circle cx="74.78" cy="436.18" r="0.38"/><circle cx="67.81" cy="436.81" r="0.38"/><circle cx="73.23" cy="438.44" r="0.38"/><circle cx="68.15" cy="435.09" r="0.38"/><circle cx="73.92" cy="437.56" r="0.38"/><circle cx="76.40" cy="438.28" r="0.38"/><circle cx="71.49" cy="436.52" r="0.38"/><circle cx="79.51" cy="436.50" r="0.38"/><circle cx="69.45" cy="435.31" r="0.38"/><circle cx="72.09" cy="437.10" r="0.38"/><circle cx="70.77" cy="436.81" r="0.38"/><circle cx="72.62" cy="437.87" r="0.38"/><circle cx="75.09" cy="437.19" r="0.38"/><circle cx="66.43" cy="437.88" r="0.38"/><circle cx="67.54" cy="436.66" r="0.38"/><circle cx="67.38" cy="436.90" r="0.38"/><circle cx="69.46" cy="437.20" r="0.38"/><circle cx="81.70" cy="436.83" r="0.38"/><circle cx="74.33" cy="435.05" r="0.38"/><circle cx="70.94" cy="437.83" r="0.38"/><circle cx="71.52" cy="437.42" r="0.38"/><circle cx="72.11" cy="435.49" r="0.38"/><circle cx="73.49" cy="435.76" r="0.38"/><circle cx="77.42" cy="436.19" r="0.38"/><circle cx="73.86" cy="436.90" r="0.38"/><circle cx="74.66" cy="436.06" r="0.38"/><circle cx="74.80" cy="436.73" r="0.38"/><circle cx="75.59" cy="437.77" r="0.38"/><circle cx="72.22" cy="435.81" r="0.38"/><circle cx="74.10" cy="437.56" r="0.38"/><circle cx="76.73" cy="436.37" r="0.38"/><circle cx="73.46" cy="437.61" r="0.38"/><circle cx="72.65" cy="437.19" r="0.38"/><circle cx="72.35" cy="436.06" r="0.38"/><circle cx="68.76" cy="436.34" r="0.38"/><circle cx="73.57" cy="439.02" r="0.38"/><circle cx="74.73" cy="438.37" r="0.38"/><circle cx="74.13" cy="437.88" r="0.38"/><circle cx="72.35" cy="437.98" r="0.38"/><circle cx="77.12" cy="436.44" r="0.38"/><circle cx="69.72" cy="439.64" r="0.38"/><circle cx="72.53" cy="438.26" r="0.38"/><circle cx="74.42" cy="435.31" r="0.38"/><circle cx="79.10" cy="439.39" r="0.38"/><circle cx="72.33" cy="437.95" r="0.38"/><circle cx="72.18" cy="435.66" r="0.38"/><circle cx="71.46" cy="437.42" r="0.38"/><circle cx="75.15" cy="437.89" r="0.38"/><circle cx="71.98" cy="438.80" r="0.38"/><circle cx="69.52" cy="438.01" r="0.38"/><circle cx="75.14" cy="436.49" r="0.38"/><circle cx="66.43" cy="435.63" r="0.38"/><circle cx="72.51" cy="437.64" r="0.38"/><circle cx="76.44" cy="435.49" r="0.38"/><circle cx="71.81" cy="437.81" r="0.38"/><circle cx="71.33" cy="433.58" r="0.38"/><circle cx="74.22" cy="440.14" r="0.38"/><circle cx="74.81" cy="435.62" r="0.38"/><circle cx="70.56" cy="437.21" r="0.38"/><circle cx="79.27" cy="437.76" r="0.38"/><circle cx="72.14" cy="439.08" r="0.38"/><circle cx="71.55" cy="439.51" r="0.38"/><circle cx="69.74" cy="436.24" r="0.38"/><circle cx="73.96" cy="438.89" r="0.38"/><circle cx="73.76" cy="437.32" r="0.38"/><circle cx="66.34" cy="435.90" r="0.38"/><circle cx="69.97" cy="436.15" r="0.38"/><circle cx="73.56" cy="436.43" r="0.38"/><circle cx="74.16" cy="437.02" r="0.38"/><circle cx="70.80" cy="437.07" r="0.38"/><circle cx="73.09" cy="438.10" r="0.38"/><circle cx="70.37" cy="436.57" r="0.38"/><circle cx="67.71" cy="439.15" r="0.38"/><circle cx="76.16" cy="436.65" r="0.38"/><circle cx="70.36" cy="435.17" r="0.38"/><circle cx="72.31" cy="437.19" r="0.38"/><circle cx="78.35" cy="437.24" r="0.38"/><circle cx="69.47" cy="433.48" r="0.38"/><circle cx="76.03" cy="437.17" r="0.38"/><circle cx="66.97" cy="437.15" r="0.38"/><circle cx="66.97" cy="441.77" r="0.38"/><circle cx="75.16" cy="437.70" r="0.38"/><circle cx="71.27" cy="433.90" r="0.38"/><circle cx="71.42" cy="434.72" r="0.38"/><circle cx="73.59" cy="433.91" r="0.38"/><circle cx="69.08" cy="438.61" r="0.38"/><circle cx="76.73" cy="435.25" r="0.38"/><circle cx="67.20" cy="438.13" r="0.38"/><circle cx="74.36" cy="435.52" r="0.38"/><circle cx="69.72" cy="435.93" r="0.38"/><circle cx="68.23" cy="435.95" r="0.38"/><circle cx="75.55" cy="437.87" r="0.38"/><circle cx="77.97" cy="436.78" r="0.38"/><circle cx="71.39" cy="435.52" r="0.38"/><circle cx="71.43" cy="435.06" r="0.38"/><circle cx="66.47" cy="437.88" r="0.38"/><circle cx="76.12" cy="438.07" r="0.38"/><circle cx="75.80" cy="437.25" r="0.38"/><circle cx="69.65" cy="437.02" r="0.38"/><circle cx="70.68" cy="435.34" r="0.38"/><circle cx="66.72" cy="434.82" r="0.38"/><circle cx="71.78" cy="437.11" r="0.38"/><circle cx="70.38" cy="438.90" r="0.38"/><circle cx="72.34" cy="437.72" r="0.38"/><circle cx="75.46" cy="435.75" r="0.38"/><circle cx="65.89" cy="437.95" r="0.38"/><circle cx="69.73" cy="438.74" r="0.38"/><circle cx="72.81" cy="438.31" r="0.38"/><circle cx="74.09" cy="433.99" r="0.38"/><circle cx="73.96" cy="435.96" r="0.38"/><circle cx="69.53" cy="436.29" r="0.38"/><circle cx="74.10" cy="438.14" r="0.38"/><circle cx="74.83" cy="434.58" r="0.38"/><circle cx="70.03" cy="433.57" r="0.38"/><circle cx="71.49" cy="437.74" r="0.38"/><circle cx="69.51" cy="437.24" r="0.38"/><circle cx="72.49" cy="438.31" r="0.38"/><circle cx="69.34" cy="435.74" r="0.38"/><circle cx="69.51" cy="439.35" r="0.38"/><circle cx="75.07" cy="436.73" r="0.38"/><circle cx="72.48" cy="437.06" r="0.38"/><circle cx="72.41" cy="436.61" r="0.38"/><circle cx="70.80" cy="435.14" r="0.38"/><circle cx="69.87" cy="439.21" r="0.38"/><circle cx="73.41" cy="436.99" r="0.38"/><circle cx="71.16" cy="436.99" r="0.38"/><circle cx="72.86" cy="436.00" r="0.38"/><circle cx="72.39" cy="437.24" r="0.38"/><circle cx="69.55" cy="435.80" r="0.38"/><circle cx="68.80" cy="435.41" r="0.38"/><circle cx="74.47" cy="433.60" r="0.38"/><circle cx="71.00" cy="436.04" r="0.38"/><circle cx="69.94" cy="437.04" r="0.38"/><circle cx="75.18" cy="437.01" r="0.38"/><circle cx="71.38" cy="436.04" r="0.38"/><circle cx="71.41" cy="438.18" r="0.38"/><circle cx="70.62" cy="435.29" r="0.38"/><circle cx="68.01" cy="435.35" r="0.38"/><circle cx="67.63" cy="438.44" r="0.38"/><circle cx="72.87" cy="436.57" r="0.38"/><circle cx="76.18" cy="435.98" r="0.38"/><circle cx="74.06" cy="438.02" r="0.38"/><circle cx="67.16" cy="434.72" r="0.38"/><circle cx="69.02" cy="438.17" r="0.38"/><circle cx="75.69" cy="435.18" r="0.38"/><circle cx="74.95" cy="436.36" r="0.38"/><circle cx="70.62" cy="436.13" r="0.38"/><circle cx="70.83" cy="434.35" r="0.38"/><circle cx="68.80" cy="435.17" r="0.38"/></g>
<g fill="#5448b0" opacity="0.4"><circle cx="72.97" cy="432.78" r="0.35"/><circle cx="75.28" cy="433.18" r="0.35"/><circle cx="68.67" cy="435.66" r="0.35"/><circle cx="72.95" cy="435.15" r="0.35"/><circle cx="70.09" cy="434.68" r="0.35"/><circle cx="70.51" cy="432.18" r="0.35"/><circle cx="70.20" cy="435.08" r="0.35"/><circle cx="72.87" cy="437.12" r="0.35"/><circle cx="74.28" cy="432.93" r="0.35"/><circle cx="72.87" cy="432.37" r="0.35"/><circle cx="72.14" cy="432.53" r="0.35"/><circle cx="69.21" cy="433.14" r="0.35"/><circle cx="75.50" cy="431.55" r="0.35"/><circle cx="73.07" cy="434.57" r="0.35"/><circle cx="69.98" cy="434.35" r="0.35"/><circle cx="72.56" cy="438.90" r="0.35"/><circle cx="72.52" cy="433.86" r="0.35"/><circle cx="76.17" cy="434.39" r="0.35"/><circle cx="77.95" cy="432.65" r="0.35"/><circle cx="70.27" cy="430.93" r="0.35"/><circle cx="68.54" cy="434.25" r="0.35"/><circle cx="72.89" cy="433.25" r="0.35"/><circle cx="70.03" cy="431.09" r="0.35"/><circle cx="74.87" cy="436.85" r="0.35"/><circle cx="75.86" cy="438.58" r="0.35"/><circle cx="72.29" cy="431.80" r="0.35"/><circle cx="65.00" cy="431.28" r="0.35"/><circle cx="70.64" cy="435.00" r="0.35"/><circle cx="69.60" cy="429.99" r="0.35"/><circle cx="74.84" cy="436.82" r="0.35"/><circle cx="68.50" cy="435.96" r="0.35"/><circle cx="64.72" cy="434.70" r="0.35"/><circle cx="65.05" cy="431.60" r="0.35"/><circle cx="73.53" cy="433.76" r="0.35"/><circle cx="76.68" cy="432.72" r="0.35"/><circle cx="74.44" cy="436.06" r="0.35"/><circle cx="71.87" cy="434.62" r="0.35"/><circle cx="74.67" cy="434.67" r="0.35"/><circle cx="72.82" cy="433.45" r="0.35"/><circle cx="66.77" cy="431.91" r="0.35"/></g>
<ellipse cx="71.80" cy="437.00" rx="6.20" ry="2.60" transform="rotate(-6 71.80 437.00)" fill="#5a4cb0" opacity="0.4" filter="url(#bl70)"/>
<g filter="url(#bl45)" opacity="0.75"><ellipse cx="71.40" cy="437.20" rx="3.60" ry="1.40" transform="rotate(-8 71.40 437.20)" fill="#3b2d95"/></g>
<g fill="#5448b0" opacity="0.35"><circle cx="67.66" cy="446.70" r="0.33"/><circle cx="71.17" cy="444.56" r="0.33"/><circle cx="74.90" cy="446.20" r="0.33"/><circle cx="71.18" cy="451.41" r="0.33"/><circle cx="70.52" cy="442.21" r="0.33"/><circle cx="67.88" cy="444.42" r="0.33"/><circle cx="73.98" cy="448.56" r="0.33"/><circle cx="75.42" cy="451.56" r="0.33"/><circle cx="77.17" cy="448.00" r="0.33"/><circle cx="76.08" cy="448.07" r="0.33"/><circle cx="70.41" cy="448.61" r="0.33"/><circle cx="72.32" cy="445.51" r="0.33"/><circle cx="78.18" cy="448.48" r="0.33"/><circle cx="70.69" cy="445.93" r="0.33"/><circle cx="79.24" cy="445.41" r="0.33"/><circle cx="74.39" cy="448.04" r="0.33"/><circle cx="73.72" cy="447.95" r="0.33"/><circle cx="70.70" cy="444.76" r="0.33"/><circle cx="71.68" cy="445.08" r="0.33"/><circle cx="74.62" cy="450.86" r="0.33"/><circle cx="69.47" cy="447.83" r="0.33"/><circle cx="69.19" cy="444.06" r="0.33"/><circle cx="71.44" cy="446.50" r="0.33"/><circle cx="70.84" cy="438.23" r="0.33"/><circle cx="76.38" cy="445.34" r="0.33"/></g>
<g fill="#3a2e96" opacity="0.6"><circle cx="172.48" cy="442.35" r="0.38"/><circle cx="170.66" cy="432.46" r="0.38"/><circle cx="173.44" cy="439.80" r="0.38"/><circle cx="173.82" cy="439.51" r="0.38"/><circle cx="172.56" cy="436.22" r="0.38"/><circle cx="170.93" cy="437.39" r="0.38"/><circle cx="171.93" cy="440.86" r="0.38"/><circle cx="174.56" cy="434.30" r="0.38"/><circle cx="174.78" cy="438.02" r="0.38"/><circle cx="175.88" cy="442.64" r="0.38"/><circle cx="174.43" cy="432.74" r="0.38"/><circle cx="174.68" cy="433.40" r="0.38"/><circle cx="177.09" cy="436.13" r="0.38"/><circle cx="172.49" cy="443.64" r="0.38"/><circle cx="168.35" cy="438.22" r="0.38"/><circle cx="170.17" cy="436.55" r="0.38"/><circle cx="170.89" cy="440.20" r="0.38"/><circle cx="172.19" cy="439.18" r="0.38"/><circle cx="174.67" cy="432.94" r="0.38"/><circle cx="176.67" cy="437.39" r="0.38"/><circle cx="168.63" cy="436.13" r="0.38"/><circle cx="175.29" cy="441.18" r="0.38"/><circle cx="171.18" cy="438.45" r="0.38"/><circle cx="173.63" cy="441.29" r="0.38"/><circle cx="172.64" cy="441.13" r="0.38"/><circle cx="170.64" cy="435.95" r="0.38"/><circle cx="174.76" cy="440.35" r="0.38"/><circle cx="172.87" cy="439.99" r="0.38"/><circle cx="173.55" cy="440.49" r="0.38"/><circle cx="176.08" cy="439.73" r="0.38"/><circle cx="175.18" cy="436.94" r="0.38"/><circle cx="171.53" cy="430.96" r="0.38"/><circle cx="174.08" cy="438.24" r="0.38"/><circle cx="174.41" cy="432.43" r="0.38"/><circle cx="171.72" cy="436.44" r="0.38"/><circle cx="168.22" cy="440.92" r="0.38"/><circle cx="176.24" cy="434.25" r="0.38"/><circle cx="174.18" cy="443.43" r="0.38"/><circle cx="169.79" cy="441.17" r="0.38"/><circle cx="177.22" cy="443.86" r="0.38"/><circle cx="169.39" cy="434.89" r="0.38"/><circle cx="173.56" cy="441.84" r="0.38"/><circle cx="169.66" cy="435.85" r="0.38"/><circle cx="170.04" cy="441.54" r="0.38"/><circle cx="171.52" cy="439.91" r="0.38"/><circle cx="174.72" cy="441.71" r="0.38"/><circle cx="174.12" cy="439.19" r="0.38"/><circle cx="176.09" cy="439.61" r="0.38"/><circle cx="169.65" cy="436.50" r="0.38"/><circle cx="175.42" cy="438.58" r="0.38"/><circle cx="172.07" cy="438.90" r="0.38"/><circle cx="181.83" cy="438.00" r="0.38"/><circle cx="174.29" cy="439.56" r="0.38"/><circle cx="172.28" cy="441.82" r="0.38"/><circle cx="175.29" cy="439.38" r="0.38"/><circle cx="169.40" cy="442.03" r="0.38"/><circle cx="175.05" cy="437.90" r="0.38"/><circle cx="165.82" cy="437.97" r="0.38"/><circle cx="169.77" cy="437.44" r="0.38"/><circle cx="171.64" cy="435.60" r="0.38"/><circle cx="175.71" cy="438.50" r="0.38"/><circle cx="176.30" cy="435.18" r="0.38"/><circle cx="172.49" cy="442.35" r="0.38"/><circle cx="173.87" cy="435.92" r="0.38"/><circle cx="170.63" cy="436.32" r="0.38"/><circle cx="172.78" cy="440.27" r="0.38"/><circle cx="173.39" cy="440.47" r="0.38"/><circle cx="175.24" cy="438.52" r="0.38"/><circle cx="176.45" cy="440.42" r="0.38"/><circle cx="172.51" cy="437.64" r="0.38"/><circle cx="172.95" cy="435.87" r="0.38"/><circle cx="169.42" cy="438.26" r="0.38"/><circle cx="171.63" cy="439.95" r="0.38"/><circle cx="171.40" cy="438.45" r="0.38"/><circle cx="173.53" cy="436.69" r="0.38"/><circle cx="173.51" cy="435.92" r="0.38"/><circle cx="171.85" cy="440.61" r="0.38"/><circle cx="174.03" cy="438.13" r="0.38"/><circle cx="170.90" cy="440.28" r="0.38"/><circle cx="178.32" cy="431.43" r="0.38"/><circle cx="175.80" cy="438.80" r="0.38"/><circle cx="175.93" cy="441.73" r="0.38"/><circle cx="170.28" cy="443.49" r="0.38"/><circle cx="171.41" cy="437.36" r="0.38"/><circle cx="174.66" cy="437.87" r="0.38"/><circle cx="173.70" cy="436.54" r="0.38"/><circle cx="170.22" cy="438.18" r="0.38"/><circle cx="170.07" cy="442.26" r="0.38"/><circle cx="173.63" cy="442.45" r="0.38"/><circle cx="169.65" cy="431.72" r="0.38"/><circle cx="166.90" cy="436.96" r="0.38"/><circle cx="169.54" cy="439.23" r="0.38"/><circle cx="169.09" cy="433.85" r="0.38"/><circle cx="173.73" cy="436.91" r="0.38"/><circle cx="174.79" cy="440.61" r="0.38"/><circle cx="173.93" cy="434.38" r="0.38"/><circle cx="170.67" cy="445.10" r="0.38"/><circle cx="172.37" cy="439.02" r="0.38"/><circle cx="173.31" cy="438.04" r="0.38"/><circle cx="172.52" cy="436.39" r="0.38"/><circle cx="171.60" cy="431.92" r="0.38"/><circle cx="177.43" cy="437.79" r="0.38"/><circle cx="169.47" cy="439.72" r="0.38"/><circle cx="174.76" cy="433.68" r="0.38"/><circle cx="171.59" cy="442.72" r="0.38"/><circle cx="174.43" cy="439.44" r="0.38"/><circle cx="175.63" cy="437.72" r="0.38"/><circle cx="172.19" cy="443.03" r="0.38"/><circle cx="172.49" cy="437.88" r="0.38"/><circle cx="174.68" cy="438.22" r="0.38"/><circle cx="169.69" cy="443.94" r="0.38"/><circle cx="172.79" cy="443.64" r="0.38"/><circle cx="174.33" cy="435.32" r="0.38"/><circle cx="177.10" cy="437.58" r="0.38"/><circle cx="170.69" cy="438.03" r="0.38"/><circle cx="167.26" cy="439.37" r="0.38"/><circle cx="171.04" cy="437.35" r="0.38"/><circle cx="170.60" cy="440.20" r="0.38"/><circle cx="173.93" cy="441.45" r="0.38"/><circle cx="177.41" cy="438.99" r="0.38"/><circle cx="173.22" cy="439.06" r="0.38"/><circle cx="170.81" cy="436.44" r="0.38"/><circle cx="174.99" cy="435.48" r="0.38"/><circle cx="167.81" cy="437.04" r="0.38"/><circle cx="173.66" cy="442.64" r="0.38"/><circle cx="171.07" cy="435.24" r="0.38"/><circle cx="173.23" cy="437.64" r="0.38"/><circle cx="173.64" cy="436.53" r="0.38"/><circle cx="173.50" cy="436.33" r="0.38"/><circle cx="175.59" cy="438.97" r="0.38"/><circle cx="174.49" cy="436.76" r="0.38"/><circle cx="169.15" cy="438.15" r="0.38"/><circle cx="172.83" cy="441.49" r="0.38"/><circle cx="175.54" cy="438.00" r="0.38"/><circle cx="172.85" cy="435.07" r="0.38"/><circle cx="172.86" cy="438.75" r="0.38"/><circle cx="171.86" cy="434.78" r="0.38"/><circle cx="176.36" cy="435.27" r="0.38"/><circle cx="177.35" cy="441.72" r="0.38"/><circle cx="177.06" cy="435.50" r="0.38"/><circle cx="174.62" cy="433.84" r="0.38"/><circle cx="172.00" cy="433.42" r="0.38"/><circle cx="171.01" cy="436.55" r="0.38"/><circle cx="175.50" cy="441.39" r="0.38"/><circle cx="171.97" cy="437.22" r="0.38"/><circle cx="170.45" cy="434.60" r="0.38"/><circle cx="168.22" cy="437.42" r="0.38"/><circle cx="174.52" cy="435.74" r="0.38"/><circle cx="173.91" cy="434.56" r="0.38"/><circle cx="170.28" cy="436.45" r="0.38"/><circle cx="175.27" cy="436.47" r="0.38"/><circle cx="174.96" cy="437.00" r="0.38"/><circle cx="170.01" cy="431.95" r="0.38"/><circle cx="171.68" cy="435.14" r="0.38"/><circle cx="175.32" cy="439.41" r="0.38"/><circle cx="168.61" cy="440.62" r="0.38"/><circle cx="174.33" cy="429.23" r="0.38"/><circle cx="170.17" cy="438.80" r="0.38"/><circle cx="168.72" cy="435.84" r="0.38"/><circle cx="174.29" cy="438.81" r="0.38"/><circle cx="174.10" cy="439.91" r="0.38"/><circle cx="170.59" cy="445.30" r="0.38"/><circle cx="174.29" cy="444.54" r="0.38"/><circle cx="172.21" cy="439.75" r="0.38"/><circle cx="173.81" cy="437.59" r="0.38"/><circle cx="173.74" cy="438.83" r="0.38"/><circle cx="175.05" cy="439.01" r="0.38"/><circle cx="173.06" cy="439.52" r="0.38"/><circle cx="176.71" cy="438.26" r="0.38"/><circle cx="174.50" cy="438.46" r="0.38"/></g>
<g fill="#3a2e96" opacity="0.6"><circle cx="176.31" cy="447.95" r="0.38"/><circle cx="169.06" cy="443.00" r="0.38"/><circle cx="172.62" cy="447.60" r="0.38"/><circle cx="172.49" cy="443.82" r="0.38"/><circle cx="171.51" cy="448.74" r="0.38"/><circle cx="169.03" cy="448.08" r="0.38"/><circle cx="174.36" cy="447.12" r="0.38"/><circle cx="175.05" cy="445.37" r="0.38"/><circle cx="172.57" cy="449.36" r="0.38"/><circle cx="171.82" cy="445.59" r="0.38"/><circle cx="168.98" cy="445.50" r="0.38"/><circle cx="174.97" cy="448.42" r="0.38"/><circle cx="174.72" cy="447.38" r="0.38"/><circle cx="174.54" cy="446.87" r="0.38"/><circle cx="175.72" cy="446.06" r="0.38"/><circle cx="175.90" cy="446.19" r="0.38"/><circle cx="168.46" cy="444.14" r="0.38"/><circle cx="172.37" cy="445.54" r="0.38"/><circle cx="169.54" cy="445.02" r="0.38"/><circle cx="173.42" cy="446.99" r="0.38"/><circle cx="175.27" cy="444.85" r="0.38"/><circle cx="173.96" cy="448.05" r="0.38"/><circle cx="173.89" cy="449.28" r="0.38"/><circle cx="171.60" cy="446.30" r="0.38"/><circle cx="173.40" cy="445.63" r="0.38"/><circle cx="172.77" cy="446.70" r="0.38"/><circle cx="172.82" cy="445.47" r="0.38"/><circle cx="171.68" cy="446.18" r="0.38"/><circle cx="168.67" cy="446.62" r="0.38"/><circle cx="169.89" cy="445.89" r="0.38"/><circle cx="169.91" cy="446.47" r="0.38"/><circle cx="171.87" cy="445.87" r="0.38"/><circle cx="170.87" cy="446.50" r="0.38"/><circle cx="177.29" cy="443.29" r="0.38"/><circle cx="174.32" cy="446.68" r="0.38"/><circle cx="171.85" cy="444.18" r="0.38"/><circle cx="177.24" cy="446.62" r="0.38"/><circle cx="175.66" cy="445.68" r="0.38"/><circle cx="170.81" cy="448.11" r="0.38"/><circle cx="174.93" cy="445.80" r="0.38"/><circle cx="172.32" cy="447.34" r="0.38"/><circle cx="170.72" cy="444.92" r="0.38"/><circle cx="172.79" cy="447.98" r="0.38"/><circle cx="175.27" cy="446.62" r="0.38"/><circle cx="176.60" cy="446.06" r="0.38"/><circle cx="171.56" cy="450.20" r="0.38"/><circle cx="171.56" cy="447.31" r="0.38"/><circle cx="174.44" cy="446.51" r="0.38"/><circle cx="173.54" cy="447.47" r="0.38"/><circle cx="174.43" cy="445.35" r="0.38"/><circle cx="172.93" cy="448.61" r="0.38"/><circle cx="174.92" cy="445.60" r="0.38"/><circle cx="173.10" cy="444.67" r="0.38"/><circle cx="169.41" cy="445.44" r="0.38"/><circle cx="177.31" cy="445.29" r="0.38"/><circle cx="167.53" cy="446.13" r="0.38"/><circle cx="171.06" cy="447.55" r="0.38"/><circle cx="176.31" cy="445.77" r="0.38"/><circle cx="173.26" cy="444.84" r="0.38"/><circle cx="176.22" cy="445.11" r="0.38"/><circle cx="173.01" cy="450.26" r="0.38"/><circle cx="170.40" cy="446.60" r="0.38"/><circle cx="172.80" cy="447.09" r="0.38"/><circle cx="174.21" cy="448.79" r="0.38"/><circle cx="174.27" cy="447.32" r="0.38"/><circle cx="169.58" cy="446.99" r="0.38"/><circle cx="169.31" cy="448.33" r="0.38"/><circle cx="172.79" cy="447.93" r="0.38"/><circle cx="171.59" cy="446.71" r="0.38"/><circle cx="173.17" cy="447.24" r="0.38"/><circle cx="172.66" cy="445.35" r="0.38"/><circle cx="171.92" cy="445.25" r="0.38"/><circle cx="170.43" cy="444.32" r="0.38"/><circle cx="168.96" cy="449.45" r="0.38"/><circle cx="170.92" cy="444.49" r="0.38"/><circle cx="175.64" cy="446.80" r="0.38"/><circle cx="172.58" cy="448.21" r="0.38"/><circle cx="178.01" cy="444.92" r="0.38"/><circle cx="176.81" cy="447.27" r="0.38"/><circle cx="176.11" cy="445.45" r="0.38"/><circle cx="177.51" cy="448.25" r="0.38"/><circle cx="165.87" cy="448.43" r="0.38"/><circle cx="176.61" cy="444.03" r="0.38"/><circle cx="173.86" cy="446.03" r="0.38"/><circle cx="173.55" cy="444.90" r="0.38"/><circle cx="174.71" cy="447.55" r="0.38"/><circle cx="172.67" cy="446.21" r="0.38"/><circle cx="168.24" cy="447.23" r="0.38"/><circle cx="169.47" cy="446.36" r="0.38"/><circle cx="170.76" cy="450.64" r="0.38"/></g>
<ellipse cx="172.50" cy="437.80" rx="4.00" ry="3.80" transform="rotate(0 172.50 437.80)" fill="#5a4cb0" opacity="0.3" filter="url(#bl70)"/>
<ellipse cx="172.80" cy="446.50" rx="3.60" ry="2.00" transform="rotate(0 172.80 446.50)" fill="#5a4cb0" opacity="0.25" filter="url(#bl70)"/>
<g fill="#5448b0" opacity="0.3"><circle cx="186.75" cy="445.83" r="0.33"/><circle cx="185.74" cy="443.08" r="0.33"/><circle cx="186.92" cy="445.92" r="0.33"/><circle cx="191.50" cy="440.81" r="0.33"/><circle cx="198.95" cy="429.80" r="0.33"/><circle cx="186.29" cy="450.53" r="0.33"/><circle cx="184.95" cy="442.08" r="0.33"/><circle cx="185.70" cy="449.59" r="0.33"/><circle cx="192.39" cy="438.06" r="0.33"/><circle cx="187.05" cy="442.60" r="0.33"/><circle cx="191.33" cy="443.28" r="0.33"/><circle cx="186.64" cy="451.48" r="0.33"/><circle cx="184.22" cy="446.98" r="0.33"/><circle cx="181.66" cy="444.13" r="0.33"/><circle cx="175.55" cy="441.11" r="0.33"/><circle cx="182.89" cy="441.96" r="0.33"/><circle cx="196.69" cy="433.65" r="0.33"/><circle cx="173.98" cy="446.74" r="0.33"/><circle cx="188.73" cy="446.32" r="0.33"/><circle cx="191.54" cy="456.41" r="0.33"/><circle cx="183.09" cy="438.58" r="0.33"/><circle cx="184.67" cy="451.69" r="0.33"/><circle cx="187.74" cy="444.51" r="0.33"/><circle cx="187.16" cy="447.04" r="0.33"/><circle cx="176.60" cy="447.87" r="0.33"/><circle cx="181.23" cy="444.28" r="0.33"/><circle cx="182.86" cy="445.96" r="0.33"/><circle cx="190.43" cy="444.50" r="0.33"/><circle cx="186.40" cy="450.30" r="0.33"/><circle cx="187.99" cy="442.10" r="0.33"/><circle cx="189.74" cy="443.45" r="0.33"/><circle cx="184.17" cy="446.70" r="0.33"/><circle cx="193.45" cy="441.10" r="0.33"/><circle cx="183.56" cy="446.40" r="0.33"/><circle cx="181.15" cy="446.23" r="0.33"/><circle cx="192.15" cy="436.32" r="0.33"/><circle cx="185.77" cy="441.89" r="0.33"/><circle cx="196.24" cy="448.72" r="0.33"/><circle cx="188.76" cy="445.00" r="0.33"/><circle cx="180.27" cy="446.00" r="0.33"/></g>
<g fill="#3a2e96" opacity="0.6"><circle cx="221.79" cy="441.37" r="0.4"/><circle cx="221.17" cy="440.51" r="0.4"/><circle cx="220.30" cy="441.15" r="0.4"/><circle cx="223.76" cy="442.79" r="0.4"/><circle cx="226.54" cy="439.24" r="0.4"/><circle cx="223.15" cy="440.34" r="0.4"/><circle cx="223.89" cy="436.86" r="0.4"/><circle cx="225.83" cy="432.79" r="0.4"/><circle cx="223.86" cy="444.60" r="0.4"/><circle cx="225.58" cy="435.49" r="0.4"/><circle cx="227.27" cy="439.59" r="0.4"/><circle cx="222.24" cy="437.54" r="0.4"/><circle cx="224.41" cy="441.31" r="0.4"/><circle cx="223.73" cy="443.67" r="0.4"/><circle cx="222.19" cy="441.33" r="0.4"/><circle cx="219.45" cy="434.15" r="0.4"/><circle cx="223.76" cy="439.85" r="0.4"/><circle cx="229.60" cy="438.30" r="0.4"/><circle cx="224.92" cy="436.04" r="0.4"/><circle cx="224.17" cy="440.60" r="0.4"/><circle cx="222.89" cy="441.82" r="0.4"/><circle cx="228.26" cy="440.72" r="0.4"/><circle cx="223.93" cy="438.68" r="0.4"/><circle cx="225.91" cy="436.57" r="0.4"/><circle cx="226.97" cy="437.66" r="0.4"/><circle cx="224.94" cy="436.36" r="0.4"/><circle cx="221.32" cy="437.11" r="0.4"/><circle cx="225.66" cy="439.31" r="0.4"/><circle cx="224.34" cy="441.74" r="0.4"/><circle cx="221.46" cy="441.47" r="0.4"/><circle cx="222.37" cy="436.89" r="0.4"/><circle cx="222.48" cy="441.92" r="0.4"/><circle cx="229.01" cy="437.77" r="0.4"/><circle cx="220.90" cy="435.13" r="0.4"/><circle cx="224.19" cy="440.29" r="0.4"/><circle cx="225.27" cy="439.83" r="0.4"/><circle cx="228.20" cy="439.31" r="0.4"/><circle cx="225.29" cy="438.48" r="0.4"/><circle cx="221.24" cy="433.40" r="0.4"/><circle cx="224.17" cy="437.61" r="0.4"/><circle cx="222.51" cy="437.57" r="0.4"/><circle cx="224.20" cy="439.45" r="0.4"/><circle cx="217.36" cy="438.17" r="0.4"/><circle cx="225.34" cy="439.99" r="0.4"/><circle cx="223.36" cy="439.57" r="0.4"/><circle cx="219.26" cy="440.03" r="0.4"/><circle cx="223.18" cy="439.28" r="0.4"/><circle cx="225.96" cy="439.43" r="0.4"/><circle cx="220.60" cy="433.97" r="0.4"/><circle cx="222.60" cy="439.08" r="0.4"/><circle cx="224.66" cy="441.73" r="0.4"/><circle cx="225.16" cy="439.91" r="0.4"/><circle cx="218.74" cy="441.11" r="0.4"/><circle cx="224.49" cy="444.47" r="0.4"/><circle cx="226.27" cy="437.16" r="0.4"/><circle cx="224.30" cy="440.74" r="0.4"/><circle cx="221.22" cy="434.88" r="0.4"/><circle cx="225.31" cy="437.73" r="0.4"/><circle cx="223.43" cy="439.34" r="0.4"/><circle cx="223.16" cy="441.15" r="0.4"/><circle cx="224.85" cy="439.83" r="0.4"/><circle cx="226.56" cy="439.01" r="0.4"/><circle cx="220.29" cy="439.12" r="0.4"/><circle cx="220.06" cy="439.70" r="0.4"/><circle cx="220.52" cy="439.05" r="0.4"/><circle cx="227.73" cy="440.86" r="0.4"/><circle cx="221.65" cy="435.46" r="0.4"/><circle cx="222.71" cy="441.77" r="0.4"/><circle cx="225.68" cy="435.16" r="0.4"/><circle cx="226.56" cy="439.86" r="0.4"/><circle cx="226.24" cy="442.71" r="0.4"/><circle cx="221.56" cy="440.59" r="0.4"/><circle cx="224.56" cy="441.92" r="0.4"/><circle cx="223.16" cy="435.50" r="0.4"/><circle cx="224.53" cy="441.67" r="0.4"/><circle cx="223.27" cy="438.49" r="0.4"/><circle cx="224.53" cy="438.78" r="0.4"/><circle cx="222.80" cy="438.06" r="0.4"/><circle cx="228.43" cy="438.02" r="0.4"/><circle cx="224.61" cy="442.13" r="0.4"/><circle cx="227.32" cy="434.89" r="0.4"/><circle cx="221.77" cy="435.93" r="0.4"/><circle cx="223.68" cy="433.33" r="0.4"/><circle cx="219.87" cy="438.79" r="0.4"/><circle cx="225.07" cy="436.13" r="0.4"/><circle cx="224.77" cy="442.46" r="0.4"/><circle cx="221.23" cy="442.44" r="0.4"/><circle cx="223.92" cy="433.44" r="0.4"/><circle cx="224.50" cy="439.45" r="0.4"/><circle cx="228.41" cy="437.34" r="0.4"/><circle cx="229.50" cy="439.02" r="0.4"/><circle cx="225.67" cy="438.66" r="0.4"/><circle cx="225.62" cy="442.40" r="0.4"/><circle cx="224.07" cy="437.80" r="0.4"/><circle cx="226.05" cy="438.50" r="0.4"/><circle cx="224.92" cy="441.77" r="0.4"/><circle cx="224.54" cy="440.13" r="0.4"/><circle cx="224.68" cy="439.42" r="0.4"/><circle cx="226.65" cy="442.28" r="0.4"/><circle cx="224.97" cy="434.70" r="0.4"/><circle cx="219.64" cy="441.25" r="0.4"/><circle cx="228.50" cy="442.54" r="0.4"/><circle cx="222.70" cy="439.81" r="0.4"/><circle cx="222.54" cy="440.24" r="0.4"/><circle cx="223.87" cy="436.58" r="0.4"/><circle cx="225.95" cy="439.28" r="0.4"/><circle cx="230.47" cy="442.19" r="0.4"/><circle cx="219.55" cy="441.51" r="0.4"/><circle cx="221.43" cy="437.61" r="0.4"/><circle cx="223.57" cy="435.82" r="0.4"/><circle cx="233.25" cy="441.35" r="0.4"/><circle cx="221.46" cy="442.17" r="0.4"/><circle cx="217.34" cy="442.42" r="0.4"/><circle cx="224.51" cy="439.87" r="0.4"/><circle cx="226.93" cy="439.79" r="0.4"/><circle cx="225.89" cy="436.79" r="0.4"/><circle cx="225.51" cy="438.50" r="0.4"/><circle cx="225.78" cy="438.77" r="0.4"/><circle cx="225.47" cy="437.96" r="0.4"/><circle cx="220.40" cy="437.32" r="0.4"/><circle cx="227.04" cy="438.62" r="0.4"/><circle cx="224.53" cy="438.39" r="0.4"/><circle cx="226.92" cy="437.24" r="0.4"/><circle cx="216.31" cy="437.51" r="0.4"/><circle cx="222.38" cy="442.40" r="0.4"/><circle cx="221.82" cy="437.96" r="0.4"/><circle cx="225.92" cy="441.29" r="0.4"/><circle cx="223.15" cy="442.59" r="0.4"/><circle cx="222.96" cy="439.69" r="0.4"/><circle cx="221.48" cy="433.62" r="0.4"/><circle cx="222.13" cy="437.63" r="0.4"/><circle cx="221.53" cy="445.28" r="0.4"/><circle cx="219.47" cy="440.53" r="0.4"/><circle cx="228.91" cy="441.25" r="0.4"/><circle cx="225.83" cy="437.85" r="0.4"/><circle cx="222.48" cy="442.63" r="0.4"/><circle cx="229.04" cy="437.77" r="0.4"/><circle cx="225.47" cy="439.28" r="0.4"/><circle cx="226.33" cy="437.40" r="0.4"/><circle cx="227.14" cy="438.27" r="0.4"/><circle cx="225.07" cy="437.53" r="0.4"/><circle cx="227.32" cy="438.45" r="0.4"/><circle cx="225.99" cy="439.14" r="0.4"/><circle cx="226.72" cy="440.44" r="0.4"/><circle cx="231.70" cy="437.27" r="0.4"/><circle cx="226.76" cy="437.93" r="0.4"/><circle cx="224.60" cy="434.85" r="0.4"/><circle cx="227.88" cy="433.13" r="0.4"/><circle cx="226.54" cy="435.26" r="0.4"/><circle cx="223.25" cy="440.55" r="0.4"/><circle cx="221.84" cy="440.16" r="0.4"/><circle cx="224.03" cy="437.58" r="0.4"/><circle cx="225.42" cy="443.13" r="0.4"/><circle cx="225.22" cy="439.37" r="0.4"/><circle cx="224.60" cy="439.10" r="0.4"/><circle cx="228.01" cy="441.57" r="0.4"/><circle cx="223.83" cy="440.33" r="0.4"/><circle cx="221.18" cy="439.13" r="0.4"/><circle cx="225.11" cy="439.12" r="0.4"/><circle cx="223.92" cy="441.81" r="0.4"/><circle cx="226.31" cy="440.93" r="0.4"/><circle cx="217.15" cy="439.70" r="0.4"/><circle cx="222.02" cy="437.70" r="0.4"/><circle cx="224.33" cy="440.73" r="0.4"/><circle cx="218.35" cy="443.30" r="0.4"/><circle cx="225.67" cy="438.81" r="0.4"/><circle cx="220.87" cy="435.61" r="0.4"/><circle cx="228.51" cy="437.12" r="0.4"/><circle cx="223.12" cy="438.26" r="0.4"/><circle cx="223.37" cy="445.24" r="0.4"/><circle cx="229.28" cy="436.22" r="0.4"/><circle cx="221.28" cy="442.98" r="0.4"/><circle cx="224.71" cy="436.56" r="0.4"/><circle cx="222.30" cy="441.58" r="0.4"/><circle cx="223.43" cy="438.98" r="0.4"/><circle cx="235.23" cy="440.42" r="0.4"/><circle cx="221.43" cy="440.58" r="0.4"/><circle cx="220.89" cy="437.40" r="0.4"/><circle cx="222.81" cy="436.07" r="0.4"/><circle cx="224.89" cy="439.19" r="0.4"/><circle cx="223.77" cy="441.55" r="0.4"/><circle cx="227.50" cy="438.83" r="0.4"/><circle cx="227.88" cy="442.72" r="0.4"/><circle cx="222.76" cy="441.60" r="0.4"/><circle cx="220.78" cy="436.04" r="0.4"/><circle cx="224.12" cy="441.79" r="0.4"/><circle cx="231.00" cy="439.48" r="0.4"/><circle cx="227.95" cy="435.72" r="0.4"/><circle cx="225.18" cy="442.61" r="0.4"/><circle cx="222.44" cy="439.72" r="0.4"/><circle cx="225.40" cy="444.23" r="0.4"/><circle cx="220.85" cy="436.90" r="0.4"/><circle cx="226.62" cy="441.71" r="0.4"/><circle cx="225.58" cy="438.02" r="0.4"/><circle cx="224.66" cy="445.13" r="0.4"/><circle cx="223.50" cy="441.96" r="0.4"/><circle cx="228.25" cy="437.00" r="0.4"/><circle cx="222.96" cy="441.26" r="0.4"/><circle cx="224.02" cy="439.85" r="0.4"/><circle cx="222.33" cy="438.88" r="0.4"/><circle cx="223.75" cy="443.97" r="0.4"/><circle cx="224.89" cy="439.83" r="0.4"/><circle cx="228.02" cy="440.27" r="0.4"/><circle cx="224.07" cy="441.16" r="0.4"/><circle cx="219.17" cy="438.55" r="0.4"/><circle cx="225.03" cy="438.93" r="0.4"/><circle cx="223.70" cy="439.47" r="0.4"/><circle cx="221.32" cy="442.17" r="0.4"/><circle cx="222.33" cy="441.44" r="0.4"/><circle cx="221.10" cy="445.95" r="0.4"/><circle cx="226.31" cy="434.03" r="0.4"/><circle cx="219.19" cy="435.50" r="0.4"/><circle cx="223.18" cy="438.20" r="0.4"/><circle cx="228.97" cy="443.81" r="0.4"/><circle cx="219.36" cy="437.72" r="0.4"/><circle cx="218.07" cy="437.09" r="0.4"/><circle cx="224.55" cy="440.56" r="0.4"/><circle cx="224.97" cy="443.24" r="0.4"/><circle cx="220.98" cy="437.27" r="0.4"/><circle cx="224.90" cy="441.72" r="0.4"/><circle cx="223.68" cy="440.24" r="0.4"/><circle cx="229.16" cy="437.78" r="0.4"/><circle cx="224.77" cy="436.67" r="0.4"/><circle cx="226.87" cy="435.07" r="0.4"/><circle cx="224.77" cy="445.55" r="0.4"/><circle cx="224.36" cy="438.27" r="0.4"/><circle cx="225.01" cy="439.78" r="0.4"/><circle cx="223.16" cy="437.77" r="0.4"/><circle cx="224.47" cy="439.64" r="0.4"/><circle cx="221.63" cy="439.96" r="0.4"/></g>
<ellipse cx="224.20" cy="439.10" rx="5.20" ry="4.30" transform="rotate(0 224.20 439.10)" fill="#5a4cb0" opacity="0.4" filter="url(#bl70)"/>
<g filter="url(#bl45)" opacity="0.6"><ellipse cx="224.00" cy="439.30" rx="3.00" ry="2.50" transform="rotate(0 224.00 439.30)" fill="#3b2d95"/></g>
<g fill="#5448b0" opacity="0.4"><circle cx="229.92" cy="440.00" r="0.33"/><circle cx="241.61" cy="440.37" r="0.33"/><circle cx="238.71" cy="429.58" r="0.33"/><circle cx="236.85" cy="438.72" r="0.33"/><circle cx="242.37" cy="443.33" r="0.33"/><circle cx="237.92" cy="435.90" r="0.33"/><circle cx="234.07" cy="441.93" r="0.33"/><circle cx="244.17" cy="426.15" r="0.33"/><circle cx="224.81" cy="458.68" r="0.33"/><circle cx="245.61" cy="447.58" r="0.33"/><circle cx="239.82" cy="438.77" r="0.33"/><circle cx="236.41" cy="432.16" r="0.33"/><circle cx="240.97" cy="440.47" r="0.33"/><circle cx="228.98" cy="437.89" r="0.33"/><circle cx="235.51" cy="436.73" r="0.33"/><circle cx="247.29" cy="451.33" r="0.33"/><circle cx="223.13" cy="446.34" r="0.33"/><circle cx="243.18" cy="453.37" r="0.33"/><circle cx="241.92" cy="425.43" r="0.33"/><circle cx="242.31" cy="442.86" r="0.33"/><circle cx="245.12" cy="446.26" r="0.33"/><circle cx="231.04" cy="458.04" r="0.33"/><circle cx="232.52" cy="451.77" r="0.33"/><circle cx="240.24" cy="437.63" r="0.33"/><circle cx="227.41" cy="434.98" r="0.33"/><circle cx="233.81" cy="440.73" r="0.33"/><circle cx="237.15" cy="455.98" r="0.33"/><circle cx="240.16" cy="452.19" r="0.33"/><circle cx="232.63" cy="438.53" r="0.33"/><circle cx="242.53" cy="450.52" r="0.33"/><circle cx="241.41" cy="438.49" r="0.33"/><circle cx="233.14" cy="457.24" r="0.33"/><circle cx="234.84" cy="438.98" r="0.33"/><circle cx="245.51" cy="442.82" r="0.33"/><circle cx="235.08" cy="449.33" r="0.33"/><circle cx="237.10" cy="453.22" r="0.33"/><circle cx="237.49" cy="435.17" r="0.33"/><circle cx="249.79" cy="452.69" r="0.33"/><circle cx="238.78" cy="441.12" r="0.33"/><circle cx="231.70" cy="437.22" r="0.33"/><circle cx="232.01" cy="449.43" r="0.33"/><circle cx="243.82" cy="439.33" r="0.33"/><circle cx="235.69" cy="445.32" r="0.33"/><circle cx="237.98" cy="446.57" r="0.33"/><circle cx="240.39" cy="445.53" r="0.33"/><circle cx="241.05" cy="433.69" r="0.33"/><circle cx="241.42" cy="425.07" r="0.33"/><circle cx="238.53" cy="439.64" r="0.33"/><circle cx="239.77" cy="440.42" r="0.33"/><circle cx="239.13" cy="426.84" r="0.33"/><circle cx="235.49" cy="435.20" r="0.33"/><circle cx="239.69" cy="443.53" r="0.33"/><circle cx="235.81" cy="437.50" r="0.33"/><circle cx="234.54" cy="440.73" r="0.33"/><circle cx="239.95" cy="447.73" r="0.33"/><circle cx="237.18" cy="432.87" r="0.33"/><circle cx="233.94" cy="447.76" r="0.33"/><circle cx="232.89" cy="438.79" r="0.33"/><circle cx="226.92" cy="449.08" r="0.33"/><circle cx="238.04" cy="436.23" r="0.33"/><circle cx="236.79" cy="446.71" r="0.33"/><circle cx="237.29" cy="443.45" r="0.33"/><circle cx="237.80" cy="431.64" r="0.33"/><circle cx="229.58" cy="449.90" r="0.33"/><circle cx="235.19" cy="451.26" r="0.33"/><circle cx="243.18" cy="437.65" r="0.33"/><circle cx="234.73" cy="437.01" r="0.33"/><circle cx="245.54" cy="441.84" r="0.33"/><circle cx="236.61" cy="449.08" r="0.33"/><circle cx="233.43" cy="436.74" r="0.33"/><circle cx="235.09" cy="441.24" r="0.33"/><circle cx="231.76" cy="436.28" r="0.33"/><circle cx="238.46" cy="433.30" r="0.33"/><circle cx="232.98" cy="445.18" r="0.33"/><circle cx="233.02" cy="439.95" r="0.33"/><circle cx="241.51" cy="442.48" r="0.33"/><circle cx="246.40" cy="440.85" r="0.33"/><circle cx="230.64" cy="444.72" r="0.33"/><circle cx="238.86" cy="448.12" r="0.33"/><circle cx="231.07" cy="440.63" r="0.33"/><circle cx="243.01" cy="443.56" r="0.33"/><circle cx="243.15" cy="435.87" r="0.33"/><circle cx="240.05" cy="441.84" r="0.33"/><circle cx="245.20" cy="433.72" r="0.33"/><circle cx="243.51" cy="443.62" r="0.33"/><circle cx="238.19" cy="436.34" r="0.33"/><circle cx="232.81" cy="429.42" r="0.33"/><circle cx="239.30" cy="433.86" r="0.33"/><circle cx="243.23" cy="445.57" r="0.33"/><circle cx="240.12" cy="451.21" r="0.33"/></g>
<g fill="#5448b0" opacity="0.25"><circle cx="128.70" cy="454.68" r="0.33"/><circle cx="122.98" cy="450.86" r="0.33"/><circle cx="118.01" cy="448.38" r="0.33"/><circle cx="118.41" cy="448.70" r="0.33"/><circle cx="124.58" cy="451.81" r="0.33"/><circle cx="123.10" cy="443.86" r="0.33"/><circle cx="120.20" cy="440.17" r="0.33"/><circle cx="134.59" cy="439.04" r="0.33"/><circle cx="125.43" cy="451.66" r="0.33"/><circle cx="124.25" cy="441.48" r="0.33"/><circle cx="127.69" cy="455.18" r="0.33"/><circle cx="132.98" cy="441.21" r="0.33"/><circle cx="126.07" cy="452.12" r="0.33"/><circle cx="141.34" cy="448.57" r="0.33"/><circle cx="126.79" cy="455.92" r="0.33"/><circle cx="117.18" cy="446.42" r="0.33"/><circle cx="113.95" cy="446.44" r="0.33"/><circle cx="120.87" cy="445.50" r="0.33"/><circle cx="130.13" cy="451.76" r="0.33"/><circle cx="127.97" cy="446.70" r="0.33"/></g>
<g fill="#4a3ea6" opacity="0.45"><circle cx="75.37" cy="498.87" r="0.36"/><circle cx="73.46" cy="494.04" r="0.36"/><circle cx="78.07" cy="494.27" r="0.36"/><circle cx="80.47" cy="499.07" r="0.36"/><circle cx="82.12" cy="497.24" r="0.36"/><circle cx="70.87" cy="499.03" r="0.36"/><circle cx="79.55" cy="493.33" r="0.36"/><circle cx="75.88" cy="499.98" r="0.36"/><circle cx="80.53" cy="492.60" r="0.36"/><circle cx="72.45" cy="495.91" r="0.36"/><circle cx="75.42" cy="503.74" r="0.36"/><circle cx="65.75" cy="498.31" r="0.36"/><circle cx="68.72" cy="503.97" r="0.36"/><circle cx="64.22" cy="500.46" r="0.36"/><circle cx="77.55" cy="504.92" r="0.36"/><circle cx="79.22" cy="497.81" r="0.36"/><circle cx="64.30" cy="500.17" r="0.36"/><circle cx="67.22" cy="495.01" r="0.36"/><circle cx="80.03" cy="502.45" r="0.36"/><circle cx="73.57" cy="500.45" r="0.36"/><circle cx="78.54" cy="499.29" r="0.36"/><circle cx="73.08" cy="494.39" r="0.36"/><circle cx="62.04" cy="497.06" r="0.36"/><circle cx="71.03" cy="502.97" r="0.36"/><circle cx="64.56" cy="498.28" r="0.36"/><circle cx="72.44" cy="495.18" r="0.36"/><circle cx="69.76" cy="499.99" r="0.36"/><circle cx="78.78" cy="501.18" r="0.36"/><circle cx="66.14" cy="501.65" r="0.36"/><circle cx="70.95" cy="494.47" r="0.36"/><circle cx="80.05" cy="491.55" r="0.36"/><circle cx="67.49" cy="499.75" r="0.36"/><circle cx="80.24" cy="498.42" r="0.36"/><circle cx="64.28" cy="500.34" r="0.36"/><circle cx="74.19" cy="496.56" r="0.36"/><circle cx="63.77" cy="498.11" r="0.36"/><circle cx="70.69" cy="494.79" r="0.36"/><circle cx="62.85" cy="497.22" r="0.36"/><circle cx="73.86" cy="498.99" r="0.36"/><circle cx="66.47" cy="503.64" r="0.36"/><circle cx="81.46" cy="491.88" r="0.36"/><circle cx="72.64" cy="494.29" r="0.36"/><circle cx="64.68" cy="502.59" r="0.36"/><circle cx="76.73" cy="494.07" r="0.36"/><circle cx="66.16" cy="501.00" r="0.36"/><circle cx="79.58" cy="497.51" r="0.36"/><circle cx="71.14" cy="496.84" r="0.36"/><circle cx="81.92" cy="500.16" r="0.36"/><circle cx="77.50" cy="494.13" r="0.36"/><circle cx="71.15" cy="502.84" r="0.36"/><circle cx="73.35" cy="492.57" r="0.36"/><circle cx="80.05" cy="500.86" r="0.36"/><circle cx="64.31" cy="500.83" r="0.36"/><circle cx="77.63" cy="497.99" r="0.36"/><circle cx="67.56" cy="496.86" r="0.36"/><circle cx="63.81" cy="496.97" r="0.36"/><circle cx="62.90" cy="496.02" r="0.36"/><circle cx="79.39" cy="498.73" r="0.36"/><circle cx="64.37" cy="501.87" r="0.36"/><circle cx="74.57" cy="492.10" r="0.36"/><circle cx="77.99" cy="501.97" r="0.36"/><circle cx="74.02" cy="502.44" r="0.36"/><circle cx="77.22" cy="492.25" r="0.36"/><circle cx="76.34" cy="492.54" r="0.36"/><circle cx="82.23" cy="496.48" r="0.36"/><circle cx="64.93" cy="497.31" r="0.36"/><circle cx="64.15" cy="491.96" r="0.36"/><circle cx="67.94" cy="491.84" r="0.36"/><circle cx="63.89" cy="494.73" r="0.36"/><circle cx="74.41" cy="494.65" r="0.36"/><circle cx="74.94" cy="497.28" r="0.36"/><circle cx="77.91" cy="500.31" r="0.36"/><circle cx="72.47" cy="496.84" r="0.36"/><circle cx="76.56" cy="501.43" r="0.36"/><circle cx="71.32" cy="497.81" r="0.36"/><circle cx="78.88" cy="501.15" r="0.36"/><circle cx="81.83" cy="491.82" r="0.36"/><circle cx="75.35" cy="492.19" r="0.36"/><circle cx="65.41" cy="493.67" r="0.36"/><circle cx="68.79" cy="499.79" r="0.36"/><circle cx="77.64" cy="497.74" r="0.36"/><circle cx="75.61" cy="499.02" r="0.36"/><circle cx="74.40" cy="499.83" r="0.36"/><circle cx="71.87" cy="499.32" r="0.36"/><circle cx="70.40" cy="493.15" r="0.36"/><circle cx="65.55" cy="502.02" r="0.36"/><circle cx="65.01" cy="491.58" r="0.36"/><circle cx="71.66" cy="493.43" r="0.36"/><circle cx="73.21" cy="493.44" r="0.36"/><circle cx="72.41" cy="501.28" r="0.36"/><circle cx="67.81" cy="504.06" r="0.36"/><circle cx="79.36" cy="500.57" r="0.36"/><circle cx="81.09" cy="499.73" r="0.36"/><circle cx="74.17" cy="500.55" r="0.36"/><circle cx="64.98" cy="493.54" r="0.36"/><circle cx="64.27" cy="499.73" r="0.36"/><circle cx="70.18" cy="499.03" r="0.36"/><circle cx="66.31" cy="498.17" r="0.36"/><circle cx="71.65" cy="493.70" r="0.36"/><circle cx="74.97" cy="493.06" r="0.36"/><circle cx="68.44" cy="493.53" r="0.36"/><circle cx="69.43" cy="501.95" r="0.36"/><circle cx="76.32" cy="502.83" r="0.36"/><circle cx="70.59" cy="504.37" r="0.36"/><circle cx="66.67" cy="500.09" r="0.36"/><circle cx="81.12" cy="501.38" r="0.36"/><circle cx="80.07" cy="500.01" r="0.36"/><circle cx="70.66" cy="492.76" r="0.36"/><circle cx="64.65" cy="499.92" r="0.36"/><circle cx="75.21" cy="497.31" r="0.36"/><circle cx="77.04" cy="501.59" r="0.36"/><circle cx="76.88" cy="502.52" r="0.36"/><circle cx="74.62" cy="503.20" r="0.36"/><circle cx="66.06" cy="495.65" r="0.36"/><circle cx="74.94" cy="496.52" r="0.36"/><circle cx="78.18" cy="491.88" r="0.36"/><circle cx="71.42" cy="499.82" r="0.36"/><circle cx="67.11" cy="495.72" r="0.36"/><circle cx="79.83" cy="503.13" r="0.36"/><circle cx="76.23" cy="502.06" r="0.36"/><circle cx="72.77" cy="503.73" r="0.36"/><circle cx="76.47" cy="491.91" r="0.36"/><circle cx="65.06" cy="502.94" r="0.36"/><circle cx="72.89" cy="496.71" r="0.36"/><circle cx="79.46" cy="494.80" r="0.36"/><circle cx="68.07" cy="495.34" r="0.36"/><circle cx="64.00" cy="492.72" r="0.36"/><circle cx="77.17" cy="499.71" r="0.36"/><circle cx="72.99" cy="500.18" r="0.36"/><circle cx="69.08" cy="499.42" r="0.36"/><circle cx="76.69" cy="493.35" r="0.36"/><circle cx="66.86" cy="500.98" r="0.36"/><circle cx="79.89" cy="493.24" r="0.36"/><circle cx="81.51" cy="502.06" r="0.36"/><circle cx="75.38" cy="493.35" r="0.36"/><circle cx="68.54" cy="490.78" r="0.36"/><circle cx="77.45" cy="496.20" r="0.36"/><circle cx="69.67" cy="495.52" r="0.36"/><circle cx="66.39" cy="494.92" r="0.36"/><circle cx="65.85" cy="497.14" r="0.36"/><circle cx="79.94" cy="496.11" r="0.36"/><circle cx="79.14" cy="497.09" r="0.36"/><circle cx="73.05" cy="498.19" r="0.36"/><circle cx="66.94" cy="498.02" r="0.36"/><circle cx="68.42" cy="498.82" r="0.36"/><circle cx="76.79" cy="493.42" r="0.36"/><circle cx="69.48" cy="497.80" r="0.36"/><circle cx="79.81" cy="499.55" r="0.36"/><circle cx="63.63" cy="500.41" r="0.36"/><circle cx="78.50" cy="494.23" r="0.36"/><circle cx="69.91" cy="502.74" r="0.36"/><circle cx="74.91" cy="495.47" r="0.36"/><circle cx="76.62" cy="502.25" r="0.36"/><circle cx="69.02" cy="495.66" r="0.36"/><circle cx="79.80" cy="492.68" r="0.36"/><circle cx="72.23" cy="502.01" r="0.36"/><circle cx="80.36" cy="503.37" r="0.36"/><circle cx="66.72" cy="492.83" r="0.36"/><circle cx="77.65" cy="497.90" r="0.36"/><circle cx="69.32" cy="502.93" r="0.36"/><circle cx="71.57" cy="496.70" r="0.36"/><circle cx="65.11" cy="499.80" r="0.36"/><circle cx="68.30" cy="497.91" r="0.36"/><circle cx="74.84" cy="490.79" r="0.36"/><circle cx="75.03" cy="493.34" r="0.36"/><circle cx="73.61" cy="501.01" r="0.36"/><circle cx="76.31" cy="495.72" r="0.36"/><circle cx="75.02" cy="503.37" r="0.36"/><circle cx="70.41" cy="497.42" r="0.36"/><circle cx="72.50" cy="494.04" r="0.36"/></g>
<defs><linearGradient id="wg1" gradientUnits="userSpaceOnUse" x1="67.00" y1="501.10" x2="82.00" y2="492.00"><stop offset="0" stop-color="#3b2d95" stop-opacity="1"/><stop offset="0.45" stop-color="#3b2d95" stop-opacity="0.9"/><stop offset="0.75" stop-color="#4a3ca8" stop-opacity="0.5"/><stop offset="1" stop-color="#6a5cc0" stop-opacity="0.15"/></linearGradient></defs>
<path d="M62.80,502.40 L64.00,498.60 L71.00,494.50 L78.50,491.00 L82.00,492.00 L80.50,497.50 L76.00,502.50 L66.00,503.80 Z" fill="url(#wg1)" stroke="url(#wg1)" stroke-width="1.6" stroke-linejoin="round" filter="url(#bl70)"/>
<path d="M65.24,501.65 L65.74,500.05 L68.68,498.33 L71.83,496.86 L73.30,497.28 L72.67,499.59 L70.78,501.69 L66.58,502.23 Z" fill="#2f42bc" stroke="#2f42bc" stroke-width="1.0" stroke-linejoin="round" opacity="0.75" filter="url(#bl70)"/>
<g filter="url(#bl45)" opacity="1.0"><ellipse cx="67.77" cy="500.87" rx="4.90" ry="3.09" transform="rotate(-15.621896162622877 67.77 500.87)" fill="#2a6ed4"/><ellipse cx="67.64" cy="500.91" rx="3.95" ry="2.49" transform="rotate(-15.621896162622877 67.64 500.91)" fill="#28a8d8"/><ellipse cx="67.51" cy="500.94" rx="3.11" ry="1.96" transform="rotate(-15.621896162622877 67.51 500.94)" fill="#3cc49c"/><ellipse cx="67.38" cy="500.98" rx="2.39" ry="1.51" transform="rotate(-15.621896162622877 67.38 500.98)" fill="#88cc3a"/><ellipse cx="67.26" cy="501.02" rx="1.79" ry="1.13" transform="rotate(-15.621896162622877 67.26 501.02)" fill="#e6d322"/><ellipse cx="67.13" cy="501.06" rx="1.26" ry="0.79" transform="rotate(-15.621896162622877 67.13 501.06)" fill="#f08a1c"/><ellipse cx="67.00" cy="501.10" rx="0.78" ry="0.49" transform="rotate(-15.621896162622877 67.00 501.10)" fill="#e0281c"/></g>
<g fill="#5448b0" opacity="0.5"><circle cx="80.02" cy="478.80" r="0.33"/><circle cx="89.59" cy="468.68" r="0.33"/><circle cx="80.67" cy="481.05" r="0.33"/><circle cx="75.78" cy="481.68" r="0.33"/><circle cx="79.30" cy="478.14" r="0.33"/><circle cx="80.65" cy="477.49" r="0.33"/><circle cx="70.80" cy="485.51" r="0.33"/><circle cx="71.56" cy="480.72" r="0.33"/><circle cx="78.04" cy="480.78" r="0.33"/><circle cx="79.31" cy="475.83" r="0.33"/><circle cx="79.86" cy="482.93" r="0.33"/><circle cx="78.37" cy="476.30" r="0.33"/><circle cx="81.51" cy="473.99" r="0.33"/><circle cx="81.47" cy="475.84" r="0.33"/><circle cx="74.66" cy="480.37" r="0.33"/><circle cx="84.81" cy="485.79" r="0.33"/><circle cx="81.24" cy="486.23" r="0.33"/><circle cx="81.59" cy="475.17" r="0.33"/><circle cx="85.60" cy="479.19" r="0.33"/><circle cx="76.82" cy="481.21" r="0.33"/><circle cx="82.95" cy="477.32" r="0.33"/><circle cx="85.88" cy="473.57" r="0.33"/><circle cx="75.77" cy="485.36" r="0.33"/><circle cx="77.75" cy="486.93" r="0.33"/><circle cx="79.86" cy="477.53" r="0.33"/><circle cx="78.92" cy="486.04" r="0.33"/><circle cx="81.14" cy="484.67" r="0.33"/><circle cx="75.65" cy="484.30" r="0.33"/><circle cx="74.86" cy="481.23" r="0.33"/><circle cx="90.72" cy="473.50" r="0.33"/><circle cx="79.37" cy="484.86" r="0.33"/><circle cx="77.38" cy="490.23" r="0.33"/><circle cx="81.08" cy="476.17" r="0.33"/><circle cx="78.70" cy="482.80" r="0.33"/><circle cx="79.33" cy="478.57" r="0.33"/><circle cx="76.05" cy="483.81" r="0.33"/><circle cx="79.89" cy="484.06" r="0.33"/><circle cx="79.88" cy="481.08" r="0.33"/><circle cx="73.54" cy="486.73" r="0.33"/><circle cx="76.64" cy="481.57" r="0.33"/><circle cx="77.95" cy="480.89" r="0.33"/><circle cx="77.35" cy="488.58" r="0.33"/><circle cx="80.22" cy="476.49" r="0.33"/><circle cx="78.36" cy="476.87" r="0.33"/><circle cx="75.13" cy="485.49" r="0.33"/><circle cx="83.03" cy="474.77" r="0.33"/><circle cx="75.57" cy="487.32" r="0.33"/><circle cx="75.70" cy="481.88" r="0.33"/><circle cx="75.57" cy="476.43" r="0.33"/><circle cx="70.50" cy="485.26" r="0.33"/><circle cx="82.35" cy="476.92" r="0.33"/><circle cx="75.76" cy="482.06" r="0.33"/><circle cx="84.20" cy="480.64" r="0.33"/><circle cx="77.91" cy="484.22" r="0.33"/><circle cx="87.18" cy="472.87" r="0.33"/><circle cx="79.21" cy="482.80" r="0.33"/><circle cx="81.26" cy="481.70" r="0.33"/><circle cx="78.93" cy="478.64" r="0.33"/><circle cx="79.90" cy="482.04" r="0.33"/><circle cx="77.58" cy="483.69" r="0.33"/><circle cx="79.98" cy="486.68" r="0.33"/><circle cx="81.25" cy="473.29" r="0.33"/><circle cx="82.01" cy="477.91" r="0.33"/><circle cx="78.87" cy="480.08" r="0.33"/><circle cx="82.60" cy="481.67" r="0.33"/><circle cx="78.58" cy="487.47" r="0.33"/><circle cx="75.73" cy="479.93" r="0.33"/><circle cx="80.79" cy="482.23" r="0.33"/><circle cx="79.80" cy="481.77" r="0.33"/><circle cx="76.99" cy="481.22" r="0.33"/><circle cx="79.59" cy="475.33" r="0.33"/><circle cx="82.85" cy="477.65" r="0.33"/><circle cx="77.96" cy="481.55" r="0.33"/><circle cx="78.42" cy="481.94" r="0.33"/><circle cx="78.80" cy="480.81" r="0.33"/><circle cx="68.65" cy="484.55" r="0.33"/><circle cx="78.60" cy="478.44" r="0.33"/><circle cx="77.33" cy="482.77" r="0.33"/><circle cx="80.28" cy="487.91" r="0.33"/><circle cx="78.84" cy="480.58" r="0.33"/><circle cx="78.72" cy="486.53" r="0.33"/><circle cx="85.05" cy="480.77" r="0.33"/><circle cx="79.62" cy="475.99" r="0.33"/><circle cx="79.39" cy="488.18" r="0.33"/><circle cx="77.21" cy="483.28" r="0.33"/><circle cx="80.16" cy="482.37" r="0.33"/><circle cx="78.14" cy="476.93" r="0.33"/><circle cx="73.16" cy="480.24" r="0.33"/><circle cx="80.39" cy="478.45" r="0.33"/><circle cx="77.43" cy="489.18" r="0.33"/><circle cx="76.76" cy="479.04" r="0.33"/><circle cx="76.71" cy="481.41" r="0.33"/><circle cx="80.11" cy="480.85" r="0.33"/><circle cx="78.86" cy="483.83" r="0.33"/><circle cx="71.50" cy="490.18" r="0.33"/><circle cx="83.46" cy="480.10" r="0.33"/><circle cx="78.81" cy="475.97" r="0.33"/><circle cx="73.94" cy="486.71" r="0.33"/><circle cx="86.05" cy="472.68" r="0.33"/><circle cx="73.08" cy="480.72" r="0.33"/><circle cx="78.54" cy="479.54" r="0.33"/><circle cx="81.10" cy="479.33" r="0.33"/><circle cx="72.74" cy="489.58" r="0.33"/><circle cx="79.87" cy="476.84" r="0.33"/><circle cx="73.15" cy="483.38" r="0.33"/><circle cx="81.28" cy="489.81" r="0.33"/><circle cx="81.47" cy="474.46" r="0.33"/><circle cx="80.21" cy="473.81" r="0.33"/><circle cx="75.92" cy="481.63" r="0.33"/><circle cx="80.41" cy="482.78" r="0.33"/></g>
<ellipse cx="79.00" cy="481.00" rx="7.00" ry="4.60" transform="rotate(-55 79.00 481.00)" fill="#5a4cb0" opacity="0.4" filter="url(#bl70)"/>
<g filter="url(#bl45)" opacity="1.0"><ellipse cx="79.10" cy="481.00" rx="6.40" ry="4.10" transform="rotate(-58 79.10 481.00)" fill="#3b2d95"/><ellipse cx="79.22" cy="480.72" rx="4.74" ry="3.03" transform="rotate(-58 79.22 480.72)" fill="#2f42bc"/><ellipse cx="79.34" cy="480.44" rx="3.65" ry="2.34" transform="rotate(-58 79.34 480.44)" fill="#2a6ed4"/><ellipse cx="79.46" cy="480.16" rx="2.82" ry="1.80" transform="rotate(-58 79.46 480.16)" fill="#28a8d8"/><ellipse cx="79.58" cy="479.88" rx="2.05" ry="1.31" transform="rotate(-58 79.58 479.88)" fill="#3cc49c"/><ellipse cx="79.70" cy="479.60" rx="1.22" ry="0.78" transform="rotate(-58 79.70 479.60)" fill="#88cc3a"/></g>
<g fill="#4a3ea6" opacity="0.45"><circle cx="130.00" cy="488.29" r="0.36"/><circle cx="117.28" cy="495.83" r="0.36"/><circle cx="125.66" cy="494.24" r="0.36"/><circle cx="127.97" cy="495.94" r="0.36"/><circle cx="126.95" cy="492.87" r="0.36"/><circle cx="121.72" cy="498.61" r="0.36"/><circle cx="117.08" cy="492.17" r="0.36"/><circle cx="112.40" cy="491.17" r="0.36"/><circle cx="119.20" cy="491.22" r="0.36"/><circle cx="129.09" cy="498.38" r="0.36"/><circle cx="126.33" cy="505.27" r="0.36"/><circle cx="112.72" cy="498.21" r="0.36"/><circle cx="123.90" cy="502.69" r="0.36"/><circle cx="116.46" cy="488.88" r="0.36"/><circle cx="116.95" cy="489.08" r="0.36"/><circle cx="119.17" cy="493.74" r="0.36"/><circle cx="128.94" cy="501.14" r="0.36"/><circle cx="125.61" cy="492.37" r="0.36"/><circle cx="125.23" cy="501.86" r="0.36"/><circle cx="130.14" cy="491.43" r="0.36"/><circle cx="116.86" cy="496.84" r="0.36"/><circle cx="121.99" cy="501.87" r="0.36"/><circle cx="116.35" cy="495.02" r="0.36"/><circle cx="125.73" cy="495.87" r="0.36"/><circle cx="115.77" cy="500.90" r="0.36"/><circle cx="124.83" cy="493.09" r="0.36"/><circle cx="118.41" cy="494.71" r="0.36"/><circle cx="118.93" cy="492.40" r="0.36"/><circle cx="122.70" cy="489.42" r="0.36"/><circle cx="130.65" cy="491.12" r="0.36"/><circle cx="113.99" cy="501.59" r="0.36"/><circle cx="113.88" cy="500.45" r="0.36"/><circle cx="132.65" cy="500.57" r="0.36"/><circle cx="114.72" cy="498.70" r="0.36"/><circle cx="125.12" cy="498.84" r="0.36"/><circle cx="116.36" cy="488.48" r="0.36"/><circle cx="126.18" cy="495.36" r="0.36"/><circle cx="127.18" cy="504.52" r="0.36"/><circle cx="116.13" cy="491.83" r="0.36"/><circle cx="126.89" cy="499.71" r="0.36"/><circle cx="120.11" cy="493.27" r="0.36"/><circle cx="118.93" cy="498.64" r="0.36"/><circle cx="131.60" cy="495.51" r="0.36"/><circle cx="132.31" cy="498.43" r="0.36"/><circle cx="121.81" cy="488.64" r="0.36"/><circle cx="127.18" cy="499.00" r="0.36"/><circle cx="124.39" cy="495.75" r="0.36"/><circle cx="115.66" cy="499.25" r="0.36"/><circle cx="122.19" cy="492.98" r="0.36"/><circle cx="123.23" cy="495.59" r="0.36"/><circle cx="129.34" cy="496.45" r="0.36"/><circle cx="128.77" cy="488.07" r="0.36"/><circle cx="115.31" cy="487.29" r="0.36"/><circle cx="120.58" cy="490.55" r="0.36"/><circle cx="117.15" cy="499.10" r="0.36"/><circle cx="117.29" cy="488.03" r="0.36"/><circle cx="128.07" cy="499.32" r="0.36"/><circle cx="115.24" cy="501.54" r="0.36"/><circle cx="122.24" cy="501.85" r="0.36"/><circle cx="130.29" cy="489.21" r="0.36"/><circle cx="123.99" cy="502.71" r="0.36"/><circle cx="121.66" cy="494.97" r="0.36"/><circle cx="119.25" cy="495.86" r="0.36"/><circle cx="115.39" cy="496.31" r="0.36"/><circle cx="128.45" cy="490.08" r="0.36"/><circle cx="116.45" cy="496.75" r="0.36"/><circle cx="129.32" cy="500.55" r="0.36"/><circle cx="122.81" cy="488.02" r="0.36"/><circle cx="129.53" cy="493.59" r="0.36"/><circle cx="120.10" cy="499.50" r="0.36"/><circle cx="133.00" cy="486.54" r="0.36"/><circle cx="125.93" cy="498.24" r="0.36"/><circle cx="131.16" cy="491.02" r="0.36"/><circle cx="124.08" cy="495.96" r="0.36"/><circle cx="124.82" cy="494.55" r="0.36"/><circle cx="118.29" cy="488.91" r="0.36"/><circle cx="126.33" cy="501.80" r="0.36"/><circle cx="133.27" cy="493.93" r="0.36"/><circle cx="129.36" cy="490.48" r="0.36"/><circle cx="132.46" cy="488.27" r="0.36"/><circle cx="124.19" cy="496.82" r="0.36"/><circle cx="129.35" cy="489.59" r="0.36"/><circle cx="131.55" cy="494.17" r="0.36"/><circle cx="127.88" cy="493.55" r="0.36"/><circle cx="130.82" cy="500.83" r="0.36"/><circle cx="128.25" cy="500.13" r="0.36"/><circle cx="124.37" cy="498.34" r="0.36"/><circle cx="130.85" cy="498.47" r="0.36"/><circle cx="114.02" cy="502.76" r="0.36"/><circle cx="122.78" cy="489.61" r="0.36"/><circle cx="118.37" cy="493.82" r="0.36"/><circle cx="116.96" cy="501.79" r="0.36"/><circle cx="117.56" cy="489.48" r="0.36"/><circle cx="123.93" cy="490.88" r="0.36"/><circle cx="113.28" cy="495.23" r="0.36"/><circle cx="130.43" cy="491.37" r="0.36"/><circle cx="115.22" cy="491.87" r="0.36"/><circle cx="123.20" cy="495.50" r="0.36"/><circle cx="112.06" cy="494.37" r="0.36"/><circle cx="121.10" cy="497.30" r="0.36"/><circle cx="127.45" cy="499.57" r="0.36"/><circle cx="128.69" cy="500.42" r="0.36"/><circle cx="119.57" cy="501.05" r="0.36"/><circle cx="129.06" cy="493.30" r="0.36"/><circle cx="115.30" cy="496.88" r="0.36"/><circle cx="124.38" cy="489.33" r="0.36"/><circle cx="131.28" cy="487.44" r="0.36"/><circle cx="127.95" cy="503.30" r="0.36"/><circle cx="130.01" cy="489.11" r="0.36"/><circle cx="117.07" cy="499.46" r="0.36"/><circle cx="115.44" cy="493.90" r="0.36"/><circle cx="128.03" cy="488.97" r="0.36"/><circle cx="122.59" cy="489.09" r="0.36"/><circle cx="121.56" cy="497.82" r="0.36"/><circle cx="129.50" cy="487.31" r="0.36"/><circle cx="118.88" cy="490.57" r="0.36"/><circle cx="118.12" cy="497.74" r="0.36"/><circle cx="126.28" cy="492.68" r="0.36"/><circle cx="118.88" cy="493.01" r="0.36"/><circle cx="126.40" cy="494.02" r="0.36"/><circle cx="125.72" cy="492.74" r="0.36"/><circle cx="117.92" cy="488.79" r="0.36"/><circle cx="114.89" cy="492.20" r="0.36"/><circle cx="128.73" cy="493.14" r="0.36"/><circle cx="120.92" cy="497.39" r="0.36"/><circle cx="120.81" cy="492.38" r="0.36"/><circle cx="113.39" cy="498.70" r="0.36"/><circle cx="128.01" cy="500.43" r="0.36"/><circle cx="112.93" cy="497.39" r="0.36"/><circle cx="119.01" cy="491.32" r="0.36"/><circle cx="128.71" cy="500.36" r="0.36"/><circle cx="129.60" cy="500.11" r="0.36"/><circle cx="117.48" cy="497.00" r="0.36"/><circle cx="126.90" cy="490.60" r="0.36"/><circle cx="133.43" cy="491.24" r="0.36"/><circle cx="116.42" cy="494.21" r="0.36"/><circle cx="125.01" cy="495.74" r="0.36"/><circle cx="125.47" cy="496.28" r="0.36"/><circle cx="114.97" cy="491.20" r="0.36"/><circle cx="122.41" cy="491.86" r="0.36"/><circle cx="123.14" cy="500.01" r="0.36"/><circle cx="127.23" cy="493.19" r="0.36"/><circle cx="114.32" cy="489.71" r="0.36"/><circle cx="130.18" cy="498.61" r="0.36"/><circle cx="117.44" cy="500.95" r="0.36"/><circle cx="118.25" cy="488.40" r="0.36"/><circle cx="118.07" cy="491.04" r="0.36"/><circle cx="131.73" cy="490.24" r="0.36"/><circle cx="118.24" cy="492.07" r="0.36"/><circle cx="129.37" cy="492.88" r="0.36"/><circle cx="131.29" cy="494.48" r="0.36"/><circle cx="129.38" cy="502.38" r="0.36"/><circle cx="115.52" cy="489.71" r="0.36"/><circle cx="127.84" cy="493.82" r="0.36"/><circle cx="119.85" cy="503.01" r="0.36"/><circle cx="113.88" cy="494.72" r="0.36"/><circle cx="114.54" cy="500.72" r="0.36"/><circle cx="124.79" cy="494.66" r="0.36"/><circle cx="126.30" cy="489.36" r="0.36"/><circle cx="133.42" cy="500.31" r="0.36"/><circle cx="119.94" cy="491.54" r="0.36"/><circle cx="128.35" cy="489.29" r="0.36"/><circle cx="133.79" cy="500.60" r="0.36"/><circle cx="126.05" cy="498.38" r="0.36"/><circle cx="129.14" cy="490.14" r="0.36"/><circle cx="121.09" cy="494.90" r="0.36"/><circle cx="113.71" cy="493.45" r="0.36"/><circle cx="118.06" cy="497.19" r="0.36"/><circle cx="117.76" cy="492.26" r="0.36"/><circle cx="116.19" cy="499.40" r="0.36"/></g>
<defs><linearGradient id="wg2" gradientUnits="userSpaceOnUse" x1="117.60" y1="501.00" x2="133.00" y2="488.50"><stop offset="0" stop-color="#3b2d95" stop-opacity="1"/><stop offset="0.45" stop-color="#3b2d95" stop-opacity="0.9"/><stop offset="0.75" stop-color="#4a3ca8" stop-opacity="0.5"/><stop offset="1" stop-color="#6a5cc0" stop-opacity="0.15"/></linearGradient></defs>
<path d="M113.30,502.40 L114.50,498.60 L121.50,493.50 L130.50,487.50 L133.00,488.50 L130.50,495.50 L126.00,502.50 L116.50,503.80 Z" fill="url(#wg2)" stroke="url(#wg2)" stroke-width="1.6" stroke-linejoin="round" filter="url(#bl70)"/>
<path d="M115.79,501.59 L116.30,499.99 L119.24,497.85 L123.02,495.33 L124.07,495.75 L123.02,498.69 L121.13,501.63 L117.14,502.18 Z" fill="#2f42bc" stroke="#2f42bc" stroke-width="1.0" stroke-linejoin="round" opacity="0.75" filter="url(#bl70)"/>
<g filter="url(#bl45)" opacity="1.0"><ellipse cx="118.30" cy="500.72" rx="4.53" ry="2.85" transform="rotate(-19.532917270225525 118.30 500.72)" fill="#2a6ed4"/><ellipse cx="118.18" cy="500.76" rx="3.64" ry="2.30" transform="rotate(-19.532917270225525 118.18 500.76)" fill="#28a8d8"/><ellipse cx="118.07" cy="500.81" rx="2.87" ry="1.81" transform="rotate(-19.532917270225525 118.07 500.81)" fill="#3cc49c"/><ellipse cx="117.95" cy="500.86" rx="2.21" ry="1.39" transform="rotate(-19.532917270225525 117.95 500.86)" fill="#88cc3a"/><ellipse cx="117.83" cy="500.91" rx="1.66" ry="1.04" transform="rotate(-19.532917270225525 117.83 500.91)" fill="#e6d322"/><ellipse cx="117.72" cy="500.95" rx="1.16" ry="0.73" transform="rotate(-19.532917270225525 117.72 500.95)" fill="#f08a1c"/><ellipse cx="117.60" cy="501.00" rx="0.72" ry="0.45" transform="rotate(-19.532917270225525 117.60 501.00)" fill="#e0281c"/></g>
<g fill="#5448b0" opacity="0.5"><circle cx="129.10" cy="475.21" r="0.33"/><circle cx="132.93" cy="482.88" r="0.33"/><circle cx="131.03" cy="480.10" r="0.33"/><circle cx="132.82" cy="479.38" r="0.33"/><circle cx="131.82" cy="479.91" r="0.33"/><circle cx="129.46" cy="475.48" r="0.33"/><circle cx="126.26" cy="479.08" r="0.33"/><circle cx="130.99" cy="477.94" r="0.33"/><circle cx="124.99" cy="477.60" r="0.33"/><circle cx="129.85" cy="476.38" r="0.33"/><circle cx="128.34" cy="481.49" r="0.33"/><circle cx="132.91" cy="479.29" r="0.33"/><circle cx="130.65" cy="477.27" r="0.33"/><circle cx="129.21" cy="479.13" r="0.33"/><circle cx="128.15" cy="477.63" r="0.33"/><circle cx="133.57" cy="475.89" r="0.33"/><circle cx="128.29" cy="480.91" r="0.33"/><circle cx="130.82" cy="478.29" r="0.33"/></g>
<g fill="#5448b0" opacity="0.45"><circle cx="170.18" cy="500.39" r="0.33"/><circle cx="182.31" cy="491.69" r="0.33"/><circle cx="185.91" cy="489.89" r="0.33"/><circle cx="194.31" cy="496.60" r="0.33"/><circle cx="179.82" cy="497.42" r="0.33"/><circle cx="172.90" cy="496.45" r="0.33"/><circle cx="186.49" cy="498.29" r="0.33"/><circle cx="183.55" cy="489.83" r="0.33"/><circle cx="182.32" cy="488.61" r="0.33"/><circle cx="181.72" cy="491.75" r="0.33"/><circle cx="175.74" cy="497.49" r="0.33"/><circle cx="192.81" cy="500.54" r="0.33"/><circle cx="178.21" cy="492.63" r="0.33"/><circle cx="174.61" cy="491.94" r="0.33"/><circle cx="181.32" cy="496.20" r="0.33"/><circle cx="177.78" cy="494.37" r="0.33"/><circle cx="173.34" cy="492.14" r="0.33"/><circle cx="188.54" cy="499.84" r="0.33"/><circle cx="183.57" cy="494.62" r="0.33"/><circle cx="181.74" cy="491.42" r="0.33"/><circle cx="173.17" cy="496.35" r="0.33"/><circle cx="173.56" cy="495.84" r="0.33"/><circle cx="173.11" cy="493.86" r="0.33"/><circle cx="190.33" cy="496.61" r="0.33"/><circle cx="179.62" cy="495.22" r="0.33"/><circle cx="170.77" cy="498.00" r="0.33"/><circle cx="175.42" cy="490.80" r="0.33"/><circle cx="175.81" cy="494.39" r="0.33"/><circle cx="175.89" cy="491.49" r="0.33"/><circle cx="182.91" cy="494.83" r="0.33"/><circle cx="187.61" cy="497.34" r="0.33"/><circle cx="187.44" cy="489.47" r="0.33"/><circle cx="180.65" cy="496.21" r="0.33"/><circle cx="185.53" cy="492.82" r="0.33"/><circle cx="183.88" cy="498.52" r="0.33"/><circle cx="174.50" cy="490.61" r="0.33"/><circle cx="175.13" cy="495.01" r="0.33"/><circle cx="173.37" cy="494.15" r="0.33"/><circle cx="177.26" cy="490.04" r="0.33"/><circle cx="169.25" cy="503.25" r="0.33"/><circle cx="187.73" cy="498.30" r="0.33"/><circle cx="170.58" cy="497.60" r="0.33"/><circle cx="177.99" cy="489.01" r="0.33"/><circle cx="176.66" cy="492.16" r="0.33"/><circle cx="189.89" cy="494.67" r="0.33"/><circle cx="179.84" cy="495.94" r="0.33"/><circle cx="183.02" cy="489.04" r="0.33"/><circle cx="187.11" cy="494.98" r="0.33"/><circle cx="186.21" cy="500.86" r="0.33"/><circle cx="178.13" cy="503.40" r="0.33"/><circle cx="178.16" cy="492.95" r="0.33"/><circle cx="166.86" cy="499.65" r="0.33"/><circle cx="178.94" cy="491.79" r="0.33"/><circle cx="176.76" cy="496.36" r="0.33"/><circle cx="186.71" cy="496.97" r="0.33"/><circle cx="178.58" cy="491.37" r="0.33"/><circle cx="168.70" cy="491.46" r="0.33"/><circle cx="182.87" cy="492.47" r="0.33"/><circle cx="191.80" cy="498.00" r="0.33"/><circle cx="178.33" cy="496.14" r="0.33"/><circle cx="181.42" cy="491.01" r="0.33"/><circle cx="178.17" cy="487.99" r="0.33"/><circle cx="178.23" cy="498.29" r="0.33"/><circle cx="177.33" cy="501.03" r="0.33"/><circle cx="178.98" cy="497.13" r="0.33"/><circle cx="183.02" cy="491.49" r="0.33"/><circle cx="173.34" cy="495.87" r="0.33"/><circle cx="184.93" cy="494.04" r="0.33"/><circle cx="179.32" cy="482.73" r="0.33"/><circle cx="176.28" cy="497.82" r="0.33"/><circle cx="186.50" cy="495.62" r="0.33"/><circle cx="175.49" cy="497.65" r="0.33"/><circle cx="178.43" cy="497.31" r="0.33"/><circle cx="188.89" cy="490.41" r="0.33"/><circle cx="178.54" cy="495.17" r="0.33"/><circle cx="182.56" cy="494.58" r="0.33"/><circle cx="185.41" cy="497.87" r="0.33"/><circle cx="176.86" cy="493.72" r="0.33"/><circle cx="186.45" cy="489.87" r="0.33"/><circle cx="176.79" cy="485.77" r="0.33"/><circle cx="174.94" cy="501.95" r="0.33"/><circle cx="192.98" cy="492.69" r="0.33"/><circle cx="191.22" cy="496.22" r="0.33"/><circle cx="182.84" cy="493.81" r="0.33"/><circle cx="187.32" cy="488.50" r="0.33"/><circle cx="189.22" cy="495.26" r="0.33"/><circle cx="180.59" cy="487.36" r="0.33"/><circle cx="194.83" cy="497.76" r="0.33"/><circle cx="182.26" cy="494.75" r="0.33"/><circle cx="186.50" cy="492.51" r="0.33"/><circle cx="182.61" cy="497.61" r="0.33"/><circle cx="176.62" cy="491.78" r="0.33"/><circle cx="187.74" cy="490.93" r="0.33"/><circle cx="175.67" cy="496.50" r="0.33"/><circle cx="193.08" cy="501.75" r="0.33"/><circle cx="175.04" cy="502.78" r="0.33"/><circle cx="172.78" cy="492.77" r="0.33"/><circle cx="183.19" cy="498.22" r="0.33"/><circle cx="185.33" cy="496.53" r="0.33"/><circle cx="169.65" cy="488.04" r="0.33"/><circle cx="180.69" cy="496.49" r="0.33"/><circle cx="180.75" cy="491.93" r="0.33"/><circle cx="182.33" cy="498.29" r="0.33"/><circle cx="163.06" cy="499.53" r="0.33"/><circle cx="191.14" cy="497.23" r="0.33"/><circle cx="176.82" cy="494.51" r="0.33"/><circle cx="180.97" cy="502.73" r="0.33"/><circle cx="182.79" cy="497.76" r="0.33"/><circle cx="186.72" cy="495.12" r="0.33"/><circle cx="176.98" cy="487.79" r="0.33"/></g>
<g fill="#5448b0" opacity="0.5"><circle cx="188.94" cy="483.96" r="0.33"/><circle cx="188.25" cy="483.02" r="0.33"/><circle cx="187.31" cy="482.68" r="0.33"/><circle cx="184.80" cy="482.84" r="0.33"/><circle cx="191.43" cy="485.11" r="0.33"/><circle cx="189.17" cy="487.45" r="0.33"/><circle cx="189.16" cy="481.86" r="0.33"/><circle cx="187.52" cy="482.92" r="0.33"/><circle cx="185.90" cy="485.10" r="0.33"/><circle cx="186.11" cy="485.08" r="0.33"/><circle cx="189.30" cy="484.09" r="0.33"/><circle cx="185.07" cy="483.09" r="0.33"/><circle cx="182.74" cy="487.27" r="0.33"/><circle cx="184.77" cy="481.70" r="0.33"/><circle cx="188.15" cy="486.33" r="0.33"/><circle cx="191.61" cy="486.51" r="0.33"/><circle cx="186.62" cy="484.41" r="0.33"/><circle cx="184.54" cy="485.66" r="0.33"/><circle cx="184.03" cy="485.39" r="0.33"/><circle cx="189.87" cy="484.56" r="0.33"/><circle cx="184.84" cy="481.68" r="0.33"/><circle cx="188.83" cy="482.72" r="0.33"/><circle cx="183.56" cy="483.96" r="0.33"/><circle cx="185.11" cy="481.46" r="0.33"/><circle cx="185.83" cy="484.25" r="0.33"/><circle cx="185.12" cy="483.18" r="0.33"/><circle cx="186.54" cy="482.41" r="0.33"/><circle cx="183.79" cy="483.18" r="0.33"/><circle cx="186.75" cy="487.28" r="0.33"/><circle cx="189.62" cy="486.55" r="0.33"/><circle cx="188.86" cy="488.17" r="0.33"/><circle cx="188.49" cy="487.08" r="0.33"/><circle cx="182.33" cy="487.79" r="0.33"/><circle cx="186.73" cy="487.88" r="0.33"/><circle cx="184.35" cy="482.88" r="0.33"/><circle cx="190.54" cy="483.66" r="0.33"/><circle cx="189.33" cy="485.26" r="0.33"/><circle cx="189.35" cy="488.65" r="0.33"/><circle cx="190.20" cy="484.27" r="0.33"/><circle cx="185.71" cy="484.15" r="0.33"/></g>
<g filter="url(#bl45)" opacity="1.0"><ellipse cx="176.00" cy="501.00" rx="11.50" ry="2.90" transform="rotate(0 176.00 501.00)" fill="#3b2d95"/></g>
<g filter="url(#bl45)" opacity="1.0"><ellipse cx="176.60" cy="494.00" rx="2.20" ry="4.60" transform="rotate(28 176.60 494.00)" fill="#3b2d95"/></g>
<g filter="url(#bl45)" opacity="1.0"><ellipse cx="179.80" cy="485.60" rx="3.90" ry="5.40" transform="rotate(0 179.80 485.60)" fill="#3b2d95"/></g>
<g filter="url(#bl45)" opacity="1.0"><ellipse cx="180.10" cy="484.90" rx="2.00" ry="2.60" transform="rotate(0 180.10 484.90)" fill="#2f42bc"/><ellipse cx="180.10" cy="484.90" rx="0.90" ry="1.17" transform="rotate(0 180.10 484.90)" fill="#2a6ed4"/></g>
<g filter="url(#bl45)" opacity="1.0"><ellipse cx="169.60" cy="500.10" rx="6.00" ry="3.60" transform="rotate(-25 169.60 500.10)" fill="#3b2d95"/><ellipse cx="169.53" cy="500.18" rx="4.92" ry="2.95" transform="rotate(-25 169.53 500.18)" fill="#2f42bc"/><ellipse cx="169.45" cy="500.25" rx="3.96" ry="2.38" transform="rotate(-25 169.45 500.25)" fill="#2a6ed4"/><ellipse cx="169.38" cy="500.33" rx="3.12" ry="1.87" transform="rotate(-25 169.38 500.33)" fill="#28a8d8"/><ellipse cx="169.30" cy="500.40" rx="2.40" ry="1.44" transform="rotate(-25 169.30 500.40)" fill="#3cc49c"/><ellipse cx="169.22" cy="500.48" rx="1.80" ry="1.08" transform="rotate(-25 169.22 500.48)" fill="#88cc3a"/><ellipse cx="169.15" cy="500.55" rx="1.32" ry="0.79" transform="rotate(-25 169.15 500.55)" fill="#e6d322"/><ellipse cx="169.07" cy="500.62" rx="0.90" ry="0.54" transform="rotate(-25 169.07 500.62)" fill="#f08a1c"/><ellipse cx="169.00" cy="500.70" rx="0.60" ry="0.36" transform="rotate(-25 169.00 500.70)" fill="#e0281c"/></g>
<g filter="url(#bl45)" opacity="1.0"><ellipse cx="182.80" cy="501.00" rx="5.00" ry="2.50" transform="rotate(0 182.80 501.00)" fill="#3b2d95"/><ellipse cx="182.55" cy="501.00" rx="3.75" ry="1.88" transform="rotate(0 182.55 501.00)" fill="#2f42bc"/><ellipse cx="182.30" cy="501.00" rx="2.75" ry="1.38" transform="rotate(0 182.30 501.00)" fill="#2a6ed4"/><ellipse cx="182.05" cy="501.00" rx="1.90" ry="0.95" transform="rotate(0 182.05 501.00)" fill="#28a8d8"/><ellipse cx="181.80" cy="501.00" rx="1.10" ry="0.55" transform="rotate(0 181.80 501.00)" fill="#3cc49c"/></g>
<g fill="#5448b0" opacity="0.5"><circle cx="222.20" cy="497.68" r="0.33"/><circle cx="233.36" cy="498.49" r="0.33"/><circle cx="241.08" cy="499.46" r="0.33"/><circle cx="225.92" cy="501.79" r="0.33"/><circle cx="230.57" cy="497.98" r="0.33"/><circle cx="235.60" cy="497.18" r="0.33"/><circle cx="243.26" cy="499.65" r="0.33"/><circle cx="226.43" cy="499.46" r="0.33"/><circle cx="234.87" cy="495.42" r="0.33"/><circle cx="227.93" cy="496.40" r="0.33"/><circle cx="230.08" cy="499.33" r="0.33"/><circle cx="238.75" cy="497.62" r="0.33"/><circle cx="229.25" cy="502.52" r="0.33"/><circle cx="224.11" cy="502.93" r="0.33"/><circle cx="226.25" cy="497.29" r="0.33"/><circle cx="234.80" cy="499.97" r="0.33"/><circle cx="225.78" cy="503.45" r="0.33"/><circle cx="239.66" cy="496.39" r="0.33"/><circle cx="224.81" cy="499.83" r="0.33"/><circle cx="227.33" cy="498.05" r="0.33"/><circle cx="233.27" cy="498.88" r="0.33"/><circle cx="230.17" cy="499.26" r="0.33"/><circle cx="229.91" cy="497.36" r="0.33"/><circle cx="222.43" cy="499.39" r="0.33"/><circle cx="226.66" cy="502.06" r="0.33"/><circle cx="231.34" cy="497.27" r="0.33"/><circle cx="221.65" cy="503.50" r="0.33"/><circle cx="232.12" cy="500.94" r="0.33"/><circle cx="220.64" cy="500.40" r="0.33"/><circle cx="235.14" cy="501.95" r="0.33"/><circle cx="225.98" cy="499.99" r="0.33"/><circle cx="227.84" cy="500.31" r="0.33"/><circle cx="227.23" cy="500.66" r="0.33"/><circle cx="229.15" cy="502.31" r="0.33"/><circle cx="226.59" cy="498.10" r="0.33"/><circle cx="220.98" cy="501.23" r="0.33"/><circle cx="215.70" cy="498.88" r="0.33"/><circle cx="232.00" cy="502.82" r="0.33"/><circle cx="214.93" cy="499.90" r="0.33"/><circle cx="228.73" cy="499.36" r="0.33"/><circle cx="240.78" cy="499.25" r="0.33"/><circle cx="226.67" cy="502.77" r="0.33"/><circle cx="236.53" cy="500.08" r="0.33"/><circle cx="222.66" cy="501.71" r="0.33"/><circle cx="243.75" cy="497.53" r="0.33"/><circle cx="234.94" cy="495.63" r="0.33"/><circle cx="225.24" cy="498.93" r="0.33"/><circle cx="234.27" cy="502.72" r="0.33"/><circle cx="226.00" cy="501.84" r="0.33"/><circle cx="233.45" cy="497.48" r="0.33"/><circle cx="233.40" cy="498.82" r="0.33"/><circle cx="232.24" cy="497.55" r="0.33"/><circle cx="234.28" cy="500.64" r="0.33"/><circle cx="230.33" cy="498.39" r="0.33"/><circle cx="217.37" cy="498.68" r="0.33"/><circle cx="236.98" cy="498.87" r="0.33"/><circle cx="226.35" cy="502.18" r="0.33"/><circle cx="232.34" cy="496.95" r="0.33"/><circle cx="227.64" cy="501.10" r="0.33"/><circle cx="230.45" cy="498.14" r="0.33"/><circle cx="223.09" cy="493.18" r="0.33"/><circle cx="223.05" cy="495.87" r="0.33"/><circle cx="236.01" cy="500.67" r="0.33"/><circle cx="226.73" cy="499.25" r="0.33"/><circle cx="223.69" cy="501.02" r="0.33"/><circle cx="234.14" cy="500.38" r="0.33"/><circle cx="242.68" cy="500.17" r="0.33"/><circle cx="233.72" cy="501.25" r="0.33"/><circle cx="228.59" cy="499.12" r="0.33"/><circle cx="243.27" cy="495.70" r="0.33"/><circle cx="221.46" cy="499.26" r="0.33"/><circle cx="234.23" cy="496.33" r="0.33"/><circle cx="232.51" cy="504.05" r="0.33"/><circle cx="231.97" cy="501.80" r="0.33"/><circle cx="217.53" cy="500.03" r="0.33"/><circle cx="222.79" cy="502.73" r="0.33"/><circle cx="232.21" cy="502.36" r="0.33"/><circle cx="232.63" cy="500.74" r="0.33"/><circle cx="217.87" cy="500.59" r="0.33"/><circle cx="243.50" cy="494.36" r="0.33"/><circle cx="226.50" cy="500.00" r="0.33"/><circle cx="221.20" cy="498.95" r="0.33"/><circle cx="228.67" cy="498.85" r="0.33"/><circle cx="229.88" cy="498.25" r="0.33"/><circle cx="237.83" cy="492.83" r="0.33"/><circle cx="221.65" cy="499.87" r="0.33"/><circle cx="226.84" cy="498.80" r="0.33"/><circle cx="221.13" cy="496.98" r="0.33"/><circle cx="238.70" cy="496.76" r="0.33"/><circle cx="224.68" cy="494.50" r="0.33"/><circle cx="224.55" cy="501.48" r="0.33"/><circle cx="231.50" cy="499.11" r="0.33"/><circle cx="222.96" cy="503.37" r="0.33"/><circle cx="240.40" cy="496.49" r="0.33"/><circle cx="234.21" cy="502.44" r="0.33"/><circle cx="230.89" cy="501.91" r="0.33"/><circle cx="213.41" cy="497.50" r="0.33"/><circle cx="230.37" cy="501.34" r="0.33"/><circle cx="227.16" cy="501.49" r="0.33"/><circle cx="232.86" cy="500.90" r="0.33"/><circle cx="228.68" cy="501.27" r="0.33"/><circle cx="230.54" cy="498.36" r="0.33"/><circle cx="227.07" cy="499.93" r="0.33"/><circle cx="241.83" cy="499.20" r="0.33"/><circle cx="231.71" cy="494.12" r="0.33"/><circle cx="238.56" cy="500.63" r="0.33"/><circle cx="225.90" cy="503.68" r="0.33"/><circle cx="222.12" cy="499.51" r="0.33"/><circle cx="224.92" cy="498.90" r="0.33"/><circle cx="215.88" cy="500.41" r="0.33"/><circle cx="221.45" cy="497.62" r="0.33"/><circle cx="232.45" cy="498.77" r="0.33"/><circle cx="230.88" cy="493.67" r="0.33"/><circle cx="222.85" cy="499.87" r="0.33"/><circle cx="226.72" cy="499.00" r="0.33"/><circle cx="229.03" cy="495.84" r="0.33"/><circle cx="237.51" cy="498.72" r="0.33"/><circle cx="217.79" cy="501.22" r="0.33"/><circle cx="226.45" cy="500.28" r="0.33"/><circle cx="234.61" cy="498.96" r="0.33"/><circle cx="232.69" cy="499.77" r="0.33"/><circle cx="217.56" cy="498.13" r="0.33"/><circle cx="233.31" cy="501.44" r="0.33"/><circle cx="219.09" cy="501.16" r="0.33"/><circle cx="235.39" cy="498.05" r="0.33"/><circle cx="221.90" cy="499.16" r="0.33"/><circle cx="233.79" cy="500.85" r="0.33"/><circle cx="240.03" cy="497.24" r="0.33"/><circle cx="231.19" cy="501.10" r="0.33"/><circle cx="231.80" cy="501.24" r="0.33"/><circle cx="225.41" cy="500.30" r="0.33"/><circle cx="211.18" cy="504.70" r="0.33"/><circle cx="221.56" cy="502.53" r="0.33"/><circle cx="235.72" cy="498.23" r="0.33"/><circle cx="225.26" cy="502.02" r="0.33"/><circle cx="230.51" cy="500.00" r="0.33"/><circle cx="236.11" cy="501.11" r="0.33"/><circle cx="230.77" cy="495.50" r="0.33"/><circle cx="232.74" cy="500.38" r="0.33"/><circle cx="238.10" cy="496.32" r="0.33"/><circle cx="220.51" cy="503.05" r="0.33"/><circle cx="228.79" cy="500.51" r="0.33"/><circle cx="240.19" cy="495.49" r="0.33"/><circle cx="221.79" cy="500.60" r="0.33"/><circle cx="236.42" cy="497.02" r="0.33"/><circle cx="229.98" cy="499.30" r="0.33"/><circle cx="225.65" cy="498.60" r="0.33"/><circle cx="224.83" cy="495.22" r="0.33"/><circle cx="239.31" cy="498.49" r="0.33"/><circle cx="231.86" cy="496.76" r="0.33"/></g>
<path d="M216.5,501.0 L219.0,497.6 L226.0,496.6 L236.0,496.3 L241.0,498.3 L236.5,500.3 L226.0,502.4 L218.5,503.4 Z" fill="#3b2d95" stroke="#3b2d95" stroke-width="0.8" stroke-linejoin="round" filter="url(#bl45)"/>
<g filter="url(#bl45)" opacity="0.9"><ellipse cx="221.50" cy="500.40" rx="4.00" ry="1.60" transform="rotate(-10 221.50 500.40)" fill="#2f42bc"/></g>
<g fill="#5448b0" opacity="0.45"><circle cx="234.81" cy="485.90" r="0.33"/><circle cx="228.41" cy="482.02" r="0.33"/><circle cx="237.26" cy="488.54" r="0.33"/><circle cx="227.79" cy="485.89" r="0.33"/><circle cx="221.54" cy="490.65" r="0.33"/><circle cx="235.07" cy="486.60" r="0.33"/><circle cx="237.11" cy="484.71" r="0.33"/><circle cx="248.75" cy="492.94" r="0.33"/><circle cx="223.70" cy="499.18" r="0.33"/><circle cx="242.41" cy="492.65" r="0.33"/><circle cx="221.29" cy="483.66" r="0.33"/><circle cx="229.09" cy="480.28" r="0.33"/><circle cx="233.16" cy="492.25" r="0.33"/><circle cx="232.77" cy="484.66" r="0.33"/><circle cx="233.31" cy="476.28" r="0.33"/><circle cx="231.46" cy="490.65" r="0.33"/><circle cx="236.78" cy="481.61" r="0.33"/><circle cx="237.18" cy="488.01" r="0.33"/><circle cx="235.32" cy="488.58" r="0.33"/><circle cx="243.64" cy="485.90" r="0.33"/><circle cx="234.35" cy="479.01" r="0.33"/><circle cx="228.12" cy="486.95" r="0.33"/><circle cx="245.75" cy="480.78" r="0.33"/><circle cx="229.73" cy="481.09" r="0.33"/><circle cx="237.60" cy="492.30" r="0.33"/><circle cx="235.95" cy="491.81" r="0.33"/><circle cx="230.45" cy="484.66" r="0.33"/><circle cx="237.00" cy="495.51" r="0.33"/><circle cx="227.39" cy="491.40" r="0.33"/><circle cx="232.52" cy="478.47" r="0.33"/><circle cx="218.11" cy="484.06" r="0.33"/><circle cx="230.78" cy="477.40" r="0.33"/><circle cx="224.66" cy="482.34" r="0.33"/><circle cx="222.65" cy="487.65" r="0.33"/><circle cx="232.56" cy="495.01" r="0.33"/><circle cx="230.60" cy="487.84" r="0.33"/><circle cx="233.19" cy="483.78" r="0.33"/><circle cx="224.59" cy="487.84" r="0.33"/><circle cx="219.76" cy="487.82" r="0.33"/><circle cx="228.17" cy="478.22" r="0.33"/><circle cx="252.23" cy="484.36" r="0.33"/><circle cx="227.61" cy="487.89" r="0.33"/><circle cx="232.88" cy="487.57" r="0.33"/><circle cx="234.97" cy="485.75" r="0.33"/><circle cx="229.25" cy="479.93" r="0.33"/><circle cx="221.84" cy="483.46" r="0.33"/><circle cx="242.63" cy="488.07" r="0.33"/><circle cx="236.34" cy="493.34" r="0.33"/><circle cx="237.84" cy="480.10" r="0.33"/><circle cx="228.48" cy="489.92" r="0.33"/><circle cx="247.72" cy="475.04" r="0.33"/><circle cx="230.50" cy="478.56" r="0.33"/><circle cx="223.24" cy="488.99" r="0.33"/><circle cx="226.06" cy="492.51" r="0.33"/><circle cx="226.99" cy="490.03" r="0.33"/><circle cx="223.52" cy="483.16" r="0.33"/><circle cx="240.01" cy="474.30" r="0.33"/><circle cx="233.94" cy="476.24" r="0.33"/><circle cx="226.44" cy="487.32" r="0.33"/><circle cx="218.79" cy="486.60" r="0.33"/><circle cx="231.73" cy="481.61" r="0.33"/><circle cx="232.10" cy="485.96" r="0.33"/><circle cx="227.62" cy="493.72" r="0.33"/><circle cx="230.97" cy="483.17" r="0.33"/><circle cx="232.01" cy="476.38" r="0.33"/><circle cx="230.27" cy="484.21" r="0.33"/><circle cx="234.67" cy="484.22" r="0.33"/><circle cx="237.11" cy="480.04" r="0.33"/><circle cx="243.99" cy="487.57" r="0.33"/><circle cx="225.63" cy="484.52" r="0.33"/><circle cx="228.27" cy="486.33" r="0.33"/><circle cx="244.04" cy="486.10" r="0.33"/><circle cx="236.83" cy="480.58" r="0.33"/><circle cx="219.46" cy="478.92" r="0.33"/><circle cx="257.00" cy="487.04" r="0.33"/><circle cx="237.05" cy="487.53" r="0.33"/><circle cx="236.33" cy="485.42" r="0.33"/><circle cx="234.89" cy="487.57" r="0.33"/><circle cx="222.50" cy="486.35" r="0.33"/><circle cx="220.53" cy="484.21" r="0.33"/><circle cx="236.67" cy="482.69" r="0.33"/><circle cx="226.12" cy="489.64" r="0.33"/><circle cx="232.56" cy="485.48" r="0.33"/><circle cx="236.06" cy="478.26" r="0.33"/><circle cx="224.99" cy="489.71" r="0.33"/><circle cx="230.88" cy="489.23" r="0.33"/><circle cx="236.38" cy="488.69" r="0.33"/><circle cx="228.32" cy="490.32" r="0.33"/><circle cx="240.68" cy="477.18" r="0.33"/><circle cx="227.03" cy="477.83" r="0.33"/><circle cx="234.74" cy="481.49" r="0.33"/><circle cx="235.95" cy="483.02" r="0.33"/><circle cx="237.96" cy="479.60" r="0.33"/><circle cx="226.50" cy="469.50" r="0.33"/><circle cx="237.98" cy="485.05" r="0.33"/><circle cx="236.28" cy="487.35" r="0.33"/><circle cx="231.91" cy="492.08" r="0.33"/><circle cx="234.82" cy="480.37" r="0.33"/><circle cx="229.06" cy="485.49" r="0.33"/><circle cx="235.62" cy="485.62" r="0.33"/><circle cx="244.38" cy="488.09" r="0.33"/><circle cx="229.12" cy="492.04" r="0.33"/><circle cx="232.53" cy="479.94" r="0.33"/><circle cx="222.54" cy="486.14" r="0.33"/><circle cx="222.65" cy="486.20" r="0.33"/><circle cx="244.30" cy="489.06" r="0.33"/><circle cx="250.15" cy="483.31" r="0.33"/><circle cx="234.68" cy="476.92" r="0.33"/><circle cx="232.69" cy="486.55" r="0.33"/><circle cx="227.70" cy="485.37" r="0.33"/><circle cx="219.79" cy="475.56" r="0.33"/><circle cx="230.72" cy="491.24" r="0.33"/><circle cx="234.92" cy="498.14" r="0.33"/><circle cx="226.48" cy="477.97" r="0.33"/><circle cx="226.89" cy="483.67" r="0.33"/><circle cx="239.51" cy="481.70" r="0.33"/><circle cx="243.66" cy="481.58" r="0.33"/><circle cx="236.80" cy="480.93" r="0.33"/><circle cx="226.10" cy="478.15" r="0.33"/><circle cx="244.45" cy="488.57" r="0.33"/><circle cx="229.93" cy="489.50" r="0.33"/><circle cx="238.86" cy="484.35" r="0.33"/><circle cx="236.54" cy="486.64" r="0.33"/><circle cx="234.11" cy="480.87" r="0.33"/><circle cx="231.20" cy="479.36" r="0.33"/><circle cx="222.98" cy="476.74" r="0.33"/><circle cx="232.04" cy="487.06" r="0.33"/><circle cx="237.70" cy="482.01" r="0.33"/><circle cx="232.96" cy="479.86" r="0.33"/><circle cx="247.66" cy="481.41" r="0.33"/><circle cx="234.11" cy="494.41" r="0.33"/><circle cx="237.10" cy="493.80" r="0.33"/><circle cx="238.17" cy="485.17" r="0.33"/><circle cx="245.81" cy="484.60" r="0.33"/><circle cx="229.72" cy="490.88" r="0.33"/><circle cx="233.13" cy="479.82" r="0.33"/><circle cx="228.54" cy="476.44" r="0.33"/><circle cx="227.01" cy="481.87" r="0.33"/><circle cx="226.46" cy="489.48" r="0.33"/><circle cx="233.43" cy="481.38" r="0.33"/><circle cx="231.12" cy="481.87" r="0.33"/><circle cx="231.84" cy="485.85" r="0.33"/><circle cx="239.96" cy="488.96" r="0.33"/><circle cx="245.84" cy="481.72" r="0.33"/><circle cx="213.73" cy="480.27" r="0.33"/><circle cx="237.96" cy="484.03" r="0.33"/><circle cx="240.94" cy="484.67" r="0.33"/><circle cx="237.40" cy="481.50" r="0.33"/><circle cx="226.27" cy="482.90" r="0.33"/><circle cx="230.12" cy="486.13" r="0.33"/><circle cx="223.44" cy="477.59" r="0.33"/><circle cx="239.73" cy="475.71" r="0.33"/><circle cx="228.81" cy="477.69" r="0.33"/><circle cx="238.68" cy="477.54" r="0.33"/><circle cx="229.32" cy="477.37" r="0.33"/><circle cx="241.02" cy="480.70" r="0.33"/><circle cx="238.13" cy="478.84" r="0.33"/><circle cx="235.56" cy="490.16" r="0.33"/><circle cx="234.23" cy="482.50" r="0.33"/><circle cx="241.70" cy="482.43" r="0.33"/><circle cx="225.66" cy="485.97" r="0.33"/><circle cx="219.20" cy="480.60" r="0.33"/><circle cx="228.70" cy="483.30" r="0.33"/><circle cx="229.59" cy="485.82" r="0.33"/><circle cx="227.54" cy="474.20" r="0.33"/><circle cx="218.74" cy="494.38" r="0.33"/><circle cx="242.31" cy="477.97" r="0.33"/><circle cx="231.26" cy="481.46" r="0.33"/><circle cx="235.08" cy="485.00" r="0.33"/><circle cx="238.05" cy="490.75" r="0.33"/><circle cx="244.83" cy="472.07" r="0.33"/><circle cx="221.59" cy="483.90" r="0.33"/><circle cx="232.16" cy="489.50" r="0.33"/><circle cx="225.79" cy="471.37" r="0.33"/><circle cx="229.29" cy="475.98" r="0.33"/><circle cx="231.98" cy="480.85" r="0.33"/><circle cx="231.66" cy="487.05" r="0.33"/><circle cx="237.63" cy="483.91" r="0.33"/><circle cx="232.66" cy="484.72" r="0.33"/><circle cx="231.77" cy="488.92" r="0.33"/><circle cx="231.22" cy="488.44" r="0.33"/><circle cx="234.36" cy="485.49" r="0.33"/><circle cx="238.04" cy="488.73" r="0.33"/><circle cx="225.61" cy="475.74" r="0.33"/><circle cx="230.95" cy="483.51" r="0.33"/><circle cx="241.22" cy="484.96" r="0.33"/><circle cx="221.68" cy="495.31" r="0.33"/><circle cx="220.80" cy="475.31" r="0.33"/><circle cx="233.07" cy="486.77" r="0.33"/><circle cx="241.80" cy="498.33" r="0.33"/><circle cx="223.61" cy="481.21" r="0.33"/><circle cx="230.25" cy="481.53" r="0.33"/><circle cx="223.23" cy="485.48" r="0.33"/><circle cx="235.49" cy="485.75" r="0.33"/><circle cx="238.05" cy="486.00" r="0.33"/><circle cx="234.09" cy="484.27" r="0.33"/><circle cx="236.17" cy="474.74" r="0.33"/><circle cx="243.65" cy="489.82" r="0.33"/><circle cx="238.45" cy="487.71" r="0.33"/><circle cx="228.95" cy="486.13" r="0.33"/></g>
<ellipse cx="231.50" cy="484.00" rx="9.50" ry="7.50" transform="rotate(0 231.50 484.00)" fill="#5a4cb0" opacity="0.3" filter="url(#bl70)"/>
<g filter="url(#bl45)" opacity="1.0"><ellipse cx="230.10" cy="484.00" rx="8.00" ry="6.60" transform="rotate(0 230.10 484.00)" fill="#3b2d95"/><ellipse cx="230.10" cy="484.00" rx="6.80" ry="5.61" transform="rotate(0 230.10 484.00)" fill="#2f42bc"/><ellipse cx="230.10" cy="484.00" rx="5.60" ry="4.62" transform="rotate(0 230.10 484.00)" fill="#2a6ed4"/><ellipse cx="230.10" cy="484.00" rx="4.48" ry="3.70" transform="rotate(0 230.10 484.00)" fill="#28a8d8"/><ellipse cx="230.10" cy="484.00" rx="3.52" ry="2.90" transform="rotate(0 230.10 484.00)" fill="#3cc49c"/><ellipse cx="230.10" cy="484.00" rx="2.64" ry="2.18" transform="rotate(0 230.10 484.00)" fill="#88cc3a"/><ellipse cx="230.10" cy="484.00" rx="1.84" ry="1.52" transform="rotate(0 230.10 484.00)" fill="#e6d322"/><ellipse cx="230.10" cy="484.00" rx="1.20" ry="0.99" transform="rotate(0 230.10 484.00)" fill="#f08a1c"/><ellipse cx="230.10" cy="484.00" rx="0.64" ry="0.53" transform="rotate(0 230.10 484.00)" fill="#e0281c"/></g>
<g fill="#4a3ea6" opacity="0.45"><circle cx="62.78" cy="548.05" r="0.36"/><circle cx="84.41" cy="544.29" r="0.36"/><circle cx="63.31" cy="548.82" r="0.36"/><circle cx="74.23" cy="538.78" r="0.36"/><circle cx="71.66" cy="545.98" r="0.36"/><circle cx="68.58" cy="549.41" r="0.36"/><circle cx="66.73" cy="549.94" r="0.36"/><circle cx="63.65" cy="547.02" r="0.36"/><circle cx="64.40" cy="551.17" r="0.36"/><circle cx="66.44" cy="539.92" r="0.36"/><circle cx="72.10" cy="544.49" r="0.36"/><circle cx="75.45" cy="546.73" r="0.36"/><circle cx="77.22" cy="546.25" r="0.36"/><circle cx="80.00" cy="546.81" r="0.36"/><circle cx="62.61" cy="546.79" r="0.36"/><circle cx="64.58" cy="544.22" r="0.36"/><circle cx="68.46" cy="551.38" r="0.36"/><circle cx="80.30" cy="551.28" r="0.36"/><circle cx="69.06" cy="553.24" r="0.36"/><circle cx="73.31" cy="551.99" r="0.36"/><circle cx="70.98" cy="548.65" r="0.36"/><circle cx="64.03" cy="540.04" r="0.36"/><circle cx="71.59" cy="536.63" r="0.36"/><circle cx="75.66" cy="546.53" r="0.36"/><circle cx="76.35" cy="547.29" r="0.36"/><circle cx="75.19" cy="540.54" r="0.36"/><circle cx="70.87" cy="540.12" r="0.36"/><circle cx="67.26" cy="537.86" r="0.36"/><circle cx="64.37" cy="537.53" r="0.36"/><circle cx="64.68" cy="544.53" r="0.36"/><circle cx="72.29" cy="541.20" r="0.36"/><circle cx="76.12" cy="540.04" r="0.36"/><circle cx="67.19" cy="545.57" r="0.36"/><circle cx="60.88" cy="549.79" r="0.36"/><circle cx="63.44" cy="547.15" r="0.36"/><circle cx="62.90" cy="547.64" r="0.36"/><circle cx="79.08" cy="537.72" r="0.36"/><circle cx="70.62" cy="543.04" r="0.36"/><circle cx="80.97" cy="543.87" r="0.36"/><circle cx="65.84" cy="543.85" r="0.36"/><circle cx="73.34" cy="549.41" r="0.36"/><circle cx="65.57" cy="544.14" r="0.36"/><circle cx="63.19" cy="545.74" r="0.36"/><circle cx="79.36" cy="548.08" r="0.36"/><circle cx="68.93" cy="547.40" r="0.36"/><circle cx="75.43" cy="542.38" r="0.36"/><circle cx="78.59" cy="545.85" r="0.36"/><circle cx="66.86" cy="543.49" r="0.36"/><circle cx="59.97" cy="548.59" r="0.36"/><circle cx="72.49" cy="538.24" r="0.36"/><circle cx="61.12" cy="542.72" r="0.36"/><circle cx="63.66" cy="538.22" r="0.36"/><circle cx="66.61" cy="540.19" r="0.36"/><circle cx="66.90" cy="545.37" r="0.36"/><circle cx="64.73" cy="551.54" r="0.36"/><circle cx="79.33" cy="549.57" r="0.36"/><circle cx="70.73" cy="548.65" r="0.36"/><circle cx="76.27" cy="545.46" r="0.36"/><circle cx="77.21" cy="542.54" r="0.36"/><circle cx="79.53" cy="537.01" r="0.36"/><circle cx="65.15" cy="551.95" r="0.36"/><circle cx="63.83" cy="544.65" r="0.36"/><circle cx="71.67" cy="544.91" r="0.36"/><circle cx="76.73" cy="540.96" r="0.36"/><circle cx="70.37" cy="550.37" r="0.36"/><circle cx="81.71" cy="550.40" r="0.36"/><circle cx="77.40" cy="550.38" r="0.36"/><circle cx="80.80" cy="543.83" r="0.36"/><circle cx="63.61" cy="550.98" r="0.36"/><circle cx="79.58" cy="538.65" r="0.36"/><circle cx="79.83" cy="546.94" r="0.36"/><circle cx="66.96" cy="552.25" r="0.36"/><circle cx="76.62" cy="546.52" r="0.36"/><circle cx="64.65" cy="538.56" r="0.36"/><circle cx="81.69" cy="548.20" r="0.36"/><circle cx="75.95" cy="540.09" r="0.36"/><circle cx="70.98" cy="548.68" r="0.36"/><circle cx="80.92" cy="546.58" r="0.36"/><circle cx="70.38" cy="543.16" r="0.36"/><circle cx="65.33" cy="550.56" r="0.36"/><circle cx="76.58" cy="539.20" r="0.36"/><circle cx="72.68" cy="551.75" r="0.36"/><circle cx="71.17" cy="550.19" r="0.36"/><circle cx="73.10" cy="543.68" r="0.36"/><circle cx="79.09" cy="546.21" r="0.36"/><circle cx="67.07" cy="548.88" r="0.36"/><circle cx="67.42" cy="540.92" r="0.36"/><circle cx="79.61" cy="542.10" r="0.36"/><circle cx="73.27" cy="539.79" r="0.36"/><circle cx="67.18" cy="552.00" r="0.36"/><circle cx="63.50" cy="548.07" r="0.36"/><circle cx="75.41" cy="545.42" r="0.36"/><circle cx="64.68" cy="543.08" r="0.36"/><circle cx="64.46" cy="548.70" r="0.36"/><circle cx="76.65" cy="538.32" r="0.36"/><circle cx="70.68" cy="548.59" r="0.36"/><circle cx="74.52" cy="552.94" r="0.36"/><circle cx="81.29" cy="538.96" r="0.36"/><circle cx="78.86" cy="544.83" r="0.36"/><circle cx="76.74" cy="549.57" r="0.36"/><circle cx="81.02" cy="542.98" r="0.36"/><circle cx="74.63" cy="545.62" r="0.36"/><circle cx="80.49" cy="547.03" r="0.36"/><circle cx="71.01" cy="539.86" r="0.36"/><circle cx="69.82" cy="550.13" r="0.36"/><circle cx="76.04" cy="546.93" r="0.36"/><circle cx="70.70" cy="544.97" r="0.36"/><circle cx="68.11" cy="540.54" r="0.36"/><circle cx="82.02" cy="537.74" r="0.36"/><circle cx="80.05" cy="543.79" r="0.36"/><circle cx="66.33" cy="549.62" r="0.36"/><circle cx="72.36" cy="541.14" r="0.36"/><circle cx="78.13" cy="553.50" r="0.36"/><circle cx="68.96" cy="546.61" r="0.36"/><circle cx="65.52" cy="551.35" r="0.36"/><circle cx="71.84" cy="541.57" r="0.36"/><circle cx="69.53" cy="538.77" r="0.36"/><circle cx="80.60" cy="546.53" r="0.36"/><circle cx="78.05" cy="542.79" r="0.36"/><circle cx="75.99" cy="545.46" r="0.36"/><circle cx="79.44" cy="542.18" r="0.36"/><circle cx="79.84" cy="543.27" r="0.36"/><circle cx="72.49" cy="544.97" r="0.36"/><circle cx="67.11" cy="542.60" r="0.36"/><circle cx="78.17" cy="545.61" r="0.36"/><circle cx="71.91" cy="552.17" r="0.36"/><circle cx="74.79" cy="539.96" r="0.36"/><circle cx="79.63" cy="550.87" r="0.36"/><circle cx="76.84" cy="549.65" r="0.36"/><circle cx="68.52" cy="542.28" r="0.36"/><circle cx="66.30" cy="548.44" r="0.36"/><circle cx="68.46" cy="543.09" r="0.36"/><circle cx="66.60" cy="537.17" r="0.36"/><circle cx="64.71" cy="544.51" r="0.36"/><circle cx="73.27" cy="545.71" r="0.36"/><circle cx="71.72" cy="539.90" r="0.36"/><circle cx="73.82" cy="539.64" r="0.36"/><circle cx="81.99" cy="543.48" r="0.36"/><circle cx="80.15" cy="540.49" r="0.36"/><circle cx="80.45" cy="548.25" r="0.36"/><circle cx="76.69" cy="544.43" r="0.36"/><circle cx="73.00" cy="545.31" r="0.36"/><circle cx="79.58" cy="549.48" r="0.36"/><circle cx="69.79" cy="542.45" r="0.36"/><circle cx="65.76" cy="548.83" r="0.36"/><circle cx="77.73" cy="546.39" r="0.36"/><circle cx="80.32" cy="547.87" r="0.36"/><circle cx="80.03" cy="535.67" r="0.36"/><circle cx="62.25" cy="547.37" r="0.36"/><circle cx="77.33" cy="539.87" r="0.36"/><circle cx="72.91" cy="548.66" r="0.36"/><circle cx="66.70" cy="539.76" r="0.36"/><circle cx="68.33" cy="537.49" r="0.36"/><circle cx="69.62" cy="549.48" r="0.36"/><circle cx="71.81" cy="537.77" r="0.36"/><circle cx="65.49" cy="541.71" r="0.36"/><circle cx="80.60" cy="539.27" r="0.36"/><circle cx="76.45" cy="551.87" r="0.36"/><circle cx="73.85" cy="540.57" r="0.36"/><circle cx="77.40" cy="544.34" r="0.36"/><circle cx="68.55" cy="549.88" r="0.36"/><circle cx="64.74" cy="549.04" r="0.36"/><circle cx="69.65" cy="542.80" r="0.36"/><circle cx="76.35" cy="542.56" r="0.36"/><circle cx="64.21" cy="538.17" r="0.36"/><circle cx="68.18" cy="540.48" r="0.36"/><circle cx="70.02" cy="537.88" r="0.36"/><circle cx="73.46" cy="547.64" r="0.36"/><circle cx="82.32" cy="545.94" r="0.36"/><circle cx="66.06" cy="550.78" r="0.36"/></g>
<defs><linearGradient id="wg3" gradientUnits="userSpaceOnUse" x1="66.30" y1="549.80" x2="81.50" y2="539.00"><stop offset="0" stop-color="#3b2d95" stop-opacity="1"/><stop offset="0.45" stop-color="#3b2d95" stop-opacity="0.9"/><stop offset="0.75" stop-color="#4a3ca8" stop-opacity="0.5"/><stop offset="1" stop-color="#6a5cc0" stop-opacity="0.15"/></linearGradient></defs>
<path d="M62.00,551.00 L63.30,547.30 L69.50,543.50 L79.50,537.50 L81.50,539.00 L78.00,545.50 L74.00,551.50 L65.00,552.50 Z" fill="url(#wg3)" stroke="url(#wg3)" stroke-width="1.6" stroke-linejoin="round" filter="url(#bl70)"/>
<path d="M64.49,550.30 L65.04,548.75 L67.64,547.15 L71.84,544.63 L72.68,545.26 L71.21,547.99 L69.53,550.51 L65.75,550.93 Z" fill="#2f42bc" stroke="#2f42bc" stroke-width="1.0" stroke-linejoin="round" opacity="0.75" filter="url(#bl70)"/>
<g filter="url(#bl45)" opacity="1.0"><ellipse cx="67.00" cy="549.55" rx="3.21" ry="2.02" transform="rotate(-17.69739792249347 67.00 549.55)" fill="#2a6ed4"/><ellipse cx="66.86" cy="549.60" rx="2.58" ry="1.63" transform="rotate(-17.69739792249347 66.86 549.60)" fill="#28a8d8"/><ellipse cx="66.72" cy="549.65" rx="2.03" ry="1.28" transform="rotate(-17.69739792249347 66.72 549.65)" fill="#3cc49c"/><ellipse cx="66.58" cy="549.70" rx="1.56" ry="0.99" transform="rotate(-17.69739792249347 66.58 549.70)" fill="#88cc3a"/><ellipse cx="66.44" cy="549.75" rx="1.17" ry="0.74" transform="rotate(-17.69739792249347 66.44 549.75)" fill="#e6d322"/><ellipse cx="66.30" cy="549.80" rx="0.82" ry="0.52" transform="rotate(-17.69739792249347 66.30 549.80)" fill="#f08a1c"/></g>
<g fill="#4a3ea6" opacity="0.45"><circle cx="120.73" cy="547.97" r="0.36"/><circle cx="115.25" cy="548.02" r="0.36"/><circle cx="120.98" cy="552.56" r="0.36"/><circle cx="114.90" cy="543.99" r="0.36"/><circle cx="126.07" cy="544.94" r="0.36"/><circle cx="130.84" cy="552.64" r="0.36"/><circle cx="116.86" cy="548.70" r="0.36"/><circle cx="112.92" cy="543.07" r="0.36"/><circle cx="133.50" cy="552.06" r="0.36"/><circle cx="124.81" cy="545.07" r="0.36"/><circle cx="125.40" cy="548.35" r="0.36"/><circle cx="130.61" cy="540.55" r="0.36"/><circle cx="126.10" cy="540.49" r="0.36"/><circle cx="119.96" cy="547.16" r="0.36"/><circle cx="117.05" cy="541.85" r="0.36"/><circle cx="114.40" cy="545.72" r="0.36"/><circle cx="127.75" cy="552.39" r="0.36"/><circle cx="117.52" cy="539.11" r="0.36"/><circle cx="117.07" cy="539.24" r="0.36"/><circle cx="127.07" cy="544.35" r="0.36"/><circle cx="121.26" cy="548.22" r="0.36"/><circle cx="126.94" cy="550.39" r="0.36"/><circle cx="115.59" cy="544.34" r="0.36"/><circle cx="126.83" cy="547.13" r="0.36"/><circle cx="113.87" cy="546.06" r="0.36"/><circle cx="120.25" cy="542.32" r="0.36"/><circle cx="118.32" cy="549.08" r="0.36"/><circle cx="122.70" cy="544.43" r="0.36"/><circle cx="112.94" cy="545.56" r="0.36"/><circle cx="119.47" cy="550.84" r="0.36"/><circle cx="126.54" cy="539.43" r="0.36"/><circle cx="114.88" cy="546.79" r="0.36"/><circle cx="126.54" cy="544.38" r="0.36"/><circle cx="122.05" cy="541.43" r="0.36"/><circle cx="113.20" cy="550.99" r="0.36"/><circle cx="110.27" cy="541.03" r="0.36"/><circle cx="117.78" cy="538.37" r="0.36"/><circle cx="112.00" cy="549.87" r="0.36"/><circle cx="130.39" cy="548.92" r="0.36"/><circle cx="127.71" cy="536.96" r="0.36"/><circle cx="120.15" cy="549.89" r="0.36"/><circle cx="122.24" cy="541.73" r="0.36"/><circle cx="129.06" cy="543.03" r="0.36"/><circle cx="124.61" cy="550.13" r="0.36"/><circle cx="118.62" cy="552.28" r="0.36"/><circle cx="126.21" cy="542.97" r="0.36"/><circle cx="117.34" cy="549.79" r="0.36"/><circle cx="122.69" cy="539.22" r="0.36"/><circle cx="119.25" cy="547.76" r="0.36"/><circle cx="129.52" cy="545.01" r="0.36"/><circle cx="128.26" cy="550.28" r="0.36"/><circle cx="122.41" cy="548.50" r="0.36"/><circle cx="117.32" cy="537.79" r="0.36"/><circle cx="123.61" cy="549.26" r="0.36"/><circle cx="122.43" cy="538.41" r="0.36"/><circle cx="127.51" cy="542.21" r="0.36"/><circle cx="129.23" cy="537.93" r="0.36"/><circle cx="131.59" cy="550.11" r="0.36"/><circle cx="116.68" cy="536.72" r="0.36"/><circle cx="113.96" cy="543.73" r="0.36"/><circle cx="113.30" cy="543.21" r="0.36"/><circle cx="116.47" cy="550.91" r="0.36"/><circle cx="115.78" cy="549.08" r="0.36"/><circle cx="127.28" cy="551.35" r="0.36"/><circle cx="131.89" cy="547.03" r="0.36"/><circle cx="129.88" cy="547.28" r="0.36"/><circle cx="118.99" cy="539.44" r="0.36"/><circle cx="121.12" cy="548.85" r="0.36"/><circle cx="112.50" cy="545.72" r="0.36"/><circle cx="112.90" cy="545.42" r="0.36"/><circle cx="124.26" cy="549.02" r="0.36"/><circle cx="132.17" cy="541.23" r="0.36"/><circle cx="123.60" cy="540.77" r="0.36"/><circle cx="126.88" cy="541.77" r="0.36"/><circle cx="113.74" cy="551.61" r="0.36"/><circle cx="130.82" cy="542.70" r="0.36"/><circle cx="118.60" cy="551.13" r="0.36"/><circle cx="117.09" cy="537.06" r="0.36"/><circle cx="117.70" cy="547.01" r="0.36"/><circle cx="124.80" cy="540.24" r="0.36"/><circle cx="115.67" cy="542.11" r="0.36"/><circle cx="129.43" cy="552.62" r="0.36"/><circle cx="123.52" cy="551.81" r="0.36"/><circle cx="123.61" cy="548.37" r="0.36"/><circle cx="124.70" cy="541.20" r="0.36"/><circle cx="124.23" cy="549.60" r="0.36"/><circle cx="118.05" cy="540.91" r="0.36"/><circle cx="120.50" cy="543.25" r="0.36"/><circle cx="117.54" cy="544.06" r="0.36"/><circle cx="118.39" cy="551.34" r="0.36"/><circle cx="118.17" cy="549.79" r="0.36"/><circle cx="124.47" cy="544.99" r="0.36"/><circle cx="128.89" cy="549.55" r="0.36"/><circle cx="112.37" cy="542.92" r="0.36"/><circle cx="116.50" cy="552.20" r="0.36"/><circle cx="122.62" cy="540.75" r="0.36"/><circle cx="117.01" cy="553.04" r="0.36"/><circle cx="127.70" cy="537.68" r="0.36"/><circle cx="125.38" cy="543.27" r="0.36"/><circle cx="129.15" cy="548.93" r="0.36"/><circle cx="123.15" cy="552.50" r="0.36"/><circle cx="124.36" cy="540.14" r="0.36"/><circle cx="119.47" cy="540.08" r="0.36"/><circle cx="127.75" cy="543.13" r="0.36"/><circle cx="117.95" cy="541.61" r="0.36"/><circle cx="119.53" cy="547.63" r="0.36"/><circle cx="126.17" cy="541.01" r="0.36"/><circle cx="130.65" cy="538.65" r="0.36"/><circle cx="113.31" cy="538.81" r="0.36"/><circle cx="131.60" cy="550.29" r="0.36"/><circle cx="123.44" cy="537.74" r="0.36"/><circle cx="128.84" cy="554.15" r="0.36"/><circle cx="111.96" cy="545.33" r="0.36"/><circle cx="127.24" cy="548.44" r="0.36"/><circle cx="131.04" cy="545.49" r="0.36"/><circle cx="119.79" cy="545.60" r="0.36"/><circle cx="125.37" cy="538.96" r="0.36"/><circle cx="120.81" cy="552.16" r="0.36"/><circle cx="123.88" cy="541.39" r="0.36"/><circle cx="114.31" cy="538.10" r="0.36"/><circle cx="118.61" cy="539.50" r="0.36"/><circle cx="115.47" cy="542.81" r="0.36"/><circle cx="132.90" cy="541.06" r="0.36"/><circle cx="131.31" cy="541.88" r="0.36"/><circle cx="124.51" cy="547.76" r="0.36"/><circle cx="119.99" cy="545.51" r="0.36"/><circle cx="121.99" cy="550.47" r="0.36"/><circle cx="115.90" cy="547.53" r="0.36"/><circle cx="118.64" cy="546.22" r="0.36"/><circle cx="130.02" cy="544.69" r="0.36"/><circle cx="120.70" cy="553.67" r="0.36"/><circle cx="113.72" cy="547.05" r="0.36"/><circle cx="120.99" cy="538.02" r="0.36"/><circle cx="127.23" cy="548.94" r="0.36"/><circle cx="125.23" cy="552.14" r="0.36"/><circle cx="125.10" cy="547.78" r="0.36"/><circle cx="131.20" cy="538.06" r="0.36"/><circle cx="120.90" cy="546.36" r="0.36"/><circle cx="130.48" cy="538.72" r="0.36"/><circle cx="119.09" cy="553.88" r="0.36"/><circle cx="131.37" cy="542.98" r="0.36"/><circle cx="118.20" cy="541.58" r="0.36"/><circle cx="127.93" cy="543.63" r="0.36"/><circle cx="120.23" cy="549.66" r="0.36"/><circle cx="115.96" cy="544.25" r="0.36"/><circle cx="121.36" cy="543.88" r="0.36"/><circle cx="116.05" cy="540.82" r="0.36"/><circle cx="129.75" cy="543.49" r="0.36"/><circle cx="130.81" cy="541.32" r="0.36"/><circle cx="116.33" cy="541.26" r="0.36"/><circle cx="113.48" cy="549.38" r="0.36"/><circle cx="114.40" cy="535.74" r="0.36"/><circle cx="113.01" cy="551.01" r="0.36"/><circle cx="128.83" cy="545.61" r="0.36"/><circle cx="121.42" cy="544.80" r="0.36"/><circle cx="126.27" cy="542.34" r="0.36"/><circle cx="117.59" cy="547.63" r="0.36"/><circle cx="125.31" cy="544.02" r="0.36"/><circle cx="128.70" cy="538.30" r="0.36"/><circle cx="119.32" cy="550.07" r="0.36"/><circle cx="118.84" cy="540.98" r="0.36"/><circle cx="130.47" cy="545.96" r="0.36"/><circle cx="114.09" cy="540.79" r="0.36"/><circle cx="117.53" cy="550.69" r="0.36"/><circle cx="115.68" cy="541.33" r="0.36"/><circle cx="132.14" cy="547.62" r="0.36"/><circle cx="113.72" cy="538.12" r="0.36"/><circle cx="122.40" cy="553.14" r="0.36"/><circle cx="126.94" cy="545.14" r="0.36"/><circle cx="121.79" cy="540.69" r="0.36"/></g>
<defs><linearGradient id="wg4" gradientUnits="userSpaceOnUse" x1="116.90" y1="549.80" x2="132.50" y2="538.50"><stop offset="0" stop-color="#3b2d95" stop-opacity="1"/><stop offset="0.45" stop-color="#3b2d95" stop-opacity="0.9"/><stop offset="0.75" stop-color="#4a3ca8" stop-opacity="0.5"/><stop offset="1" stop-color="#6a5cc0" stop-opacity="0.15"/></linearGradient></defs>
<path d="M112.60,551.00 L113.90,547.30 L120.00,543.50 L130.50,537.00 L132.50,538.50 L129.00,545.50 L125.00,551.50 L115.50,552.50 Z" fill="url(#wg4)" stroke="url(#wg4)" stroke-width="1.6" stroke-linejoin="round" filter="url(#bl70)"/>
<path d="M115.09,550.30 L115.64,548.75 L118.20,547.15 L122.61,544.42 L123.45,545.05 L121.98,547.99 L120.30,550.51 L116.31,550.93 Z" fill="#2f42bc" stroke="#2f42bc" stroke-width="1.0" stroke-linejoin="round" opacity="0.75" filter="url(#bl70)"/>
<g filter="url(#bl45)" opacity="1.0"><ellipse cx="117.59" cy="549.55" rx="3.21" ry="2.02" transform="rotate(-17.95901521358557 117.59 549.55)" fill="#2a6ed4"/><ellipse cx="117.46" cy="549.60" rx="2.58" ry="1.63" transform="rotate(-17.95901521358557 117.46 549.60)" fill="#28a8d8"/><ellipse cx="117.32" cy="549.65" rx="2.03" ry="1.28" transform="rotate(-17.95901521358557 117.32 549.65)" fill="#3cc49c"/><ellipse cx="117.18" cy="549.70" rx="1.56" ry="0.99" transform="rotate(-17.95901521358557 117.18 549.70)" fill="#88cc3a"/><ellipse cx="117.04" cy="549.75" rx="1.17" ry="0.74" transform="rotate(-17.95901521358557 117.04 549.75)" fill="#e6d322"/><ellipse cx="116.90" cy="549.80" rx="0.82" ry="0.52" transform="rotate(-17.95901521358557 116.90 549.80)" fill="#f08a1c"/></g>
<g fill="#4a3ea6" opacity="0.45"><circle cx="168.37" cy="551.09" r="0.36"/><circle cx="182.01" cy="544.88" r="0.36"/><circle cx="180.04" cy="539.93" r="0.36"/><circle cx="182.57" cy="541.17" r="0.36"/><circle cx="167.55" cy="538.38" r="0.36"/><circle cx="171.00" cy="553.06" r="0.36"/><circle cx="174.45" cy="548.79" r="0.36"/><circle cx="171.45" cy="552.48" r="0.36"/><circle cx="172.93" cy="548.38" r="0.36"/><circle cx="170.04" cy="543.83" r="0.36"/><circle cx="174.70" cy="551.93" r="0.36"/><circle cx="174.27" cy="546.34" r="0.36"/><circle cx="178.72" cy="544.26" r="0.36"/><circle cx="171.36" cy="538.44" r="0.36"/><circle cx="181.11" cy="542.12" r="0.36"/><circle cx="169.98" cy="540.72" r="0.36"/><circle cx="167.25" cy="548.73" r="0.36"/><circle cx="180.27" cy="538.37" r="0.36"/><circle cx="177.89" cy="546.82" r="0.36"/><circle cx="182.27" cy="553.30" r="0.36"/><circle cx="164.38" cy="551.29" r="0.36"/><circle cx="182.78" cy="544.94" r="0.36"/><circle cx="174.95" cy="552.38" r="0.36"/><circle cx="181.91" cy="543.02" r="0.36"/><circle cx="182.57" cy="547.16" r="0.36"/><circle cx="167.26" cy="537.05" r="0.36"/><circle cx="176.76" cy="546.12" r="0.36"/><circle cx="166.32" cy="545.58" r="0.36"/><circle cx="180.21" cy="542.98" r="0.36"/><circle cx="166.67" cy="544.62" r="0.36"/><circle cx="169.81" cy="552.37" r="0.36"/><circle cx="181.12" cy="545.37" r="0.36"/><circle cx="175.76" cy="538.98" r="0.36"/><circle cx="174.05" cy="537.54" r="0.36"/><circle cx="181.16" cy="547.92" r="0.36"/><circle cx="175.41" cy="548.01" r="0.36"/><circle cx="174.28" cy="537.99" r="0.36"/><circle cx="179.35" cy="540.87" r="0.36"/><circle cx="176.62" cy="538.53" r="0.36"/><circle cx="167.92" cy="546.94" r="0.36"/><circle cx="172.38" cy="549.39" r="0.36"/><circle cx="166.25" cy="540.29" r="0.36"/><circle cx="173.95" cy="543.55" r="0.36"/><circle cx="179.19" cy="543.02" r="0.36"/><circle cx="166.43" cy="545.22" r="0.36"/><circle cx="166.96" cy="540.72" r="0.36"/><circle cx="168.17" cy="540.75" r="0.36"/><circle cx="173.37" cy="548.33" r="0.36"/><circle cx="170.87" cy="539.99" r="0.36"/><circle cx="180.38" cy="548.78" r="0.36"/><circle cx="183.68" cy="548.51" r="0.36"/><circle cx="173.30" cy="549.13" r="0.36"/><circle cx="169.67" cy="550.51" r="0.36"/><circle cx="169.25" cy="538.91" r="0.36"/><circle cx="166.17" cy="541.12" r="0.36"/><circle cx="167.29" cy="540.66" r="0.36"/><circle cx="181.97" cy="549.88" r="0.36"/><circle cx="165.89" cy="545.54" r="0.36"/><circle cx="177.74" cy="547.35" r="0.36"/><circle cx="175.74" cy="551.27" r="0.36"/><circle cx="165.66" cy="551.92" r="0.36"/><circle cx="166.18" cy="547.02" r="0.36"/><circle cx="180.19" cy="543.77" r="0.36"/><circle cx="174.19" cy="546.62" r="0.36"/><circle cx="179.26" cy="537.59" r="0.36"/><circle cx="169.61" cy="543.91" r="0.36"/><circle cx="172.68" cy="546.22" r="0.36"/><circle cx="174.27" cy="550.11" r="0.36"/><circle cx="168.79" cy="549.11" r="0.36"/><circle cx="176.40" cy="550.21" r="0.36"/><circle cx="181.25" cy="551.84" r="0.36"/><circle cx="177.60" cy="547.06" r="0.36"/><circle cx="182.88" cy="546.71" r="0.36"/><circle cx="170.77" cy="544.58" r="0.36"/><circle cx="179.31" cy="537.36" r="0.36"/><circle cx="179.48" cy="544.61" r="0.36"/><circle cx="167.69" cy="549.01" r="0.36"/><circle cx="169.48" cy="550.44" r="0.36"/><circle cx="168.26" cy="549.93" r="0.36"/><circle cx="178.37" cy="550.72" r="0.36"/><circle cx="168.32" cy="548.61" r="0.36"/><circle cx="174.85" cy="543.44" r="0.36"/><circle cx="168.11" cy="544.62" r="0.36"/><circle cx="163.71" cy="544.72" r="0.36"/><circle cx="172.41" cy="541.34" r="0.36"/><circle cx="179.14" cy="550.73" r="0.36"/><circle cx="179.49" cy="547.51" r="0.36"/><circle cx="166.94" cy="549.28" r="0.36"/><circle cx="175.58" cy="542.53" r="0.36"/><circle cx="175.63" cy="540.86" r="0.36"/><circle cx="164.53" cy="552.03" r="0.36"/><circle cx="174.46" cy="542.11" r="0.36"/><circle cx="168.42" cy="546.24" r="0.36"/><circle cx="174.94" cy="543.80" r="0.36"/><circle cx="171.02" cy="542.32" r="0.36"/><circle cx="173.34" cy="541.99" r="0.36"/><circle cx="169.10" cy="548.53" r="0.36"/><circle cx="168.27" cy="546.19" r="0.36"/><circle cx="166.86" cy="544.33" r="0.36"/><circle cx="175.69" cy="549.37" r="0.36"/><circle cx="178.62" cy="541.36" r="0.36"/><circle cx="166.95" cy="539.27" r="0.36"/><circle cx="164.57" cy="543.47" r="0.36"/><circle cx="180.95" cy="553.57" r="0.36"/><circle cx="178.64" cy="541.19" r="0.36"/><circle cx="165.61" cy="547.24" r="0.36"/><circle cx="165.65" cy="543.54" r="0.36"/><circle cx="179.68" cy="551.26" r="0.36"/><circle cx="164.38" cy="547.06" r="0.36"/><circle cx="175.83" cy="539.44" r="0.36"/><circle cx="166.63" cy="539.98" r="0.36"/><circle cx="171.34" cy="552.36" r="0.36"/><circle cx="164.89" cy="549.80" r="0.36"/><circle cx="175.23" cy="541.71" r="0.36"/><circle cx="168.28" cy="548.45" r="0.36"/><circle cx="173.24" cy="549.63" r="0.36"/><circle cx="176.72" cy="541.31" r="0.36"/><circle cx="164.68" cy="537.07" r="0.36"/><circle cx="176.91" cy="544.90" r="0.36"/><circle cx="176.03" cy="547.35" r="0.36"/><circle cx="171.14" cy="538.35" r="0.36"/><circle cx="179.63" cy="546.85" r="0.36"/><circle cx="175.81" cy="537.97" r="0.36"/><circle cx="169.27" cy="543.50" r="0.36"/><circle cx="178.16" cy="542.20" r="0.36"/><circle cx="174.96" cy="549.98" r="0.36"/><circle cx="173.09" cy="544.20" r="0.36"/><circle cx="172.14" cy="544.46" r="0.36"/><circle cx="173.39" cy="541.47" r="0.36"/><circle cx="176.50" cy="537.70" r="0.36"/><circle cx="183.63" cy="550.11" r="0.36"/><circle cx="168.97" cy="551.24" r="0.36"/><circle cx="176.19" cy="547.86" r="0.36"/><circle cx="170.87" cy="552.56" r="0.36"/><circle cx="170.42" cy="548.23" r="0.36"/><circle cx="171.02" cy="552.54" r="0.36"/><circle cx="164.47" cy="550.93" r="0.36"/><circle cx="183.38" cy="547.08" r="0.36"/><circle cx="170.67" cy="541.99" r="0.36"/><circle cx="182.10" cy="548.12" r="0.36"/><circle cx="168.46" cy="545.08" r="0.36"/><circle cx="182.57" cy="548.05" r="0.36"/><circle cx="163.75" cy="540.38" r="0.36"/><circle cx="176.90" cy="540.00" r="0.36"/><circle cx="178.29" cy="542.88" r="0.36"/><circle cx="173.69" cy="544.90" r="0.36"/><circle cx="166.17" cy="539.43" r="0.36"/><circle cx="167.86" cy="551.35" r="0.36"/><circle cx="176.01" cy="541.28" r="0.36"/><circle cx="175.70" cy="543.03" r="0.36"/><circle cx="171.66" cy="540.21" r="0.36"/><circle cx="181.82" cy="552.92" r="0.36"/><circle cx="180.20" cy="543.62" r="0.36"/><circle cx="170.23" cy="546.06" r="0.36"/><circle cx="172.19" cy="543.32" r="0.36"/><circle cx="165.48" cy="541.98" r="0.36"/><circle cx="178.27" cy="536.79" r="0.36"/><circle cx="173.78" cy="539.57" r="0.36"/><circle cx="181.65" cy="543.29" r="0.36"/><circle cx="166.63" cy="546.88" r="0.36"/><circle cx="171.64" cy="547.03" r="0.36"/><circle cx="181.41" cy="540.06" r="0.36"/><circle cx="179.69" cy="553.17" r="0.36"/><circle cx="179.68" cy="547.56" r="0.36"/><circle cx="177.14" cy="543.58" r="0.36"/><circle cx="179.96" cy="543.72" r="0.36"/><circle cx="171.40" cy="539.25" r="0.36"/><circle cx="169.99" cy="546.39" r="0.36"/><circle cx="174.27" cy="539.24" r="0.36"/><circle cx="175.34" cy="544.59" r="0.36"/></g>
<defs><linearGradient id="wg5" gradientUnits="userSpaceOnUse" x1="168.60" y1="549.80" x2="183.00" y2="539.50"><stop offset="0" stop-color="#3b2d95" stop-opacity="1"/><stop offset="0.45" stop-color="#3b2d95" stop-opacity="0.9"/><stop offset="0.75" stop-color="#4a3ca8" stop-opacity="0.5"/><stop offset="1" stop-color="#6a5cc0" stop-opacity="0.15"/></linearGradient></defs>
<path d="M164.30,551.00 L165.60,547.30 L171.50,543.50 L181.00,538.00 L183.00,539.50 L180.00,546.00 L176.00,551.50 L167.20,552.50 Z" fill="url(#wg5)" stroke="url(#wg5)" stroke-width="1.6" stroke-linejoin="round" filter="url(#bl70)"/>
<path d="M166.79,550.30 L167.34,548.75 L169.82,547.15 L173.81,544.84 L174.65,545.47 L173.39,548.20 L171.71,550.51 L168.01,550.93 Z" fill="#2f42bc" stroke="#2f42bc" stroke-width="1.0" stroke-linejoin="round" opacity="0.75" filter="url(#bl70)"/>
<g filter="url(#bl45)" opacity="1.0"><ellipse cx="169.30" cy="549.55" rx="3.21" ry="2.02" transform="rotate(-17.787649063839805 169.30 549.55)" fill="#2a6ed4"/><ellipse cx="169.16" cy="549.60" rx="2.58" ry="1.63" transform="rotate(-17.787649063839805 169.16 549.60)" fill="#28a8d8"/><ellipse cx="169.02" cy="549.65" rx="2.03" ry="1.28" transform="rotate(-17.787649063839805 169.02 549.65)" fill="#3cc49c"/><ellipse cx="168.88" cy="549.70" rx="1.56" ry="0.99" transform="rotate(-17.787649063839805 168.88 549.70)" fill="#88cc3a"/><ellipse cx="168.74" cy="549.75" rx="1.17" ry="0.74" transform="rotate(-17.787649063839805 168.74 549.75)" fill="#e6d322"/><ellipse cx="168.60" cy="549.80" rx="0.82" ry="0.52" transform="rotate(-17.787649063839805 168.60 549.80)" fill="#f08a1c"/></g>
<g fill="#5448b0" opacity="0.6"><circle cx="77.06" cy="530.35" r="0.33"/><circle cx="79.55" cy="528.40" r="0.33"/><circle cx="78.67" cy="534.29" r="0.33"/><circle cx="77.18" cy="530.12" r="0.33"/><circle cx="79.71" cy="528.01" r="0.33"/><circle cx="79.37" cy="532.23" r="0.33"/><circle cx="79.17" cy="529.31" r="0.33"/><circle cx="79.60" cy="529.76" r="0.33"/><circle cx="79.83" cy="530.95" r="0.33"/><circle cx="79.33" cy="529.76" r="0.33"/><circle cx="81.97" cy="531.31" r="0.33"/><circle cx="80.71" cy="531.30" r="0.33"/><circle cx="79.18" cy="531.68" r="0.33"/><circle cx="79.92" cy="531.44" r="0.33"/><circle cx="79.98" cy="530.55" r="0.33"/><circle cx="79.94" cy="531.44" r="0.33"/><circle cx="81.29" cy="530.12" r="0.33"/><circle cx="81.49" cy="527.87" r="0.33"/><circle cx="78.00" cy="531.04" r="0.33"/><circle cx="78.64" cy="531.66" r="0.33"/><circle cx="76.15" cy="529.10" r="0.33"/><circle cx="76.91" cy="530.95" r="0.33"/><circle cx="81.91" cy="529.43" r="0.33"/><circle cx="78.64" cy="529.56" r="0.33"/></g>
<ellipse cx="79.60" cy="531.00" rx="2.20" ry="1.60" transform="rotate(0 79.60 531.00)" fill="#5a4cb0" opacity="0.5" filter="url(#bl70)"/>
<g fill="#5448b0" opacity="0.55"><circle cx="185.21" cy="550.31" r="0.33"/><circle cx="194.93" cy="538.54" r="0.33"/><circle cx="193.68" cy="531.65" r="0.33"/><circle cx="192.94" cy="540.67" r="0.33"/><circle cx="188.66" cy="547.05" r="0.33"/><circle cx="187.85" cy="541.75" r="0.33"/><circle cx="188.71" cy="537.90" r="0.33"/><circle cx="195.70" cy="529.75" r="0.33"/><circle cx="186.98" cy="546.02" r="0.33"/><circle cx="192.58" cy="537.58" r="0.33"/><circle cx="191.00" cy="543.96" r="0.33"/><circle cx="192.11" cy="534.78" r="0.33"/><circle cx="189.92" cy="546.52" r="0.33"/><circle cx="186.70" cy="547.65" r="0.33"/><circle cx="190.28" cy="545.39" r="0.33"/><circle cx="184.49" cy="547.28" r="0.33"/><circle cx="190.97" cy="547.47" r="0.33"/><circle cx="188.49" cy="541.68" r="0.33"/><circle cx="189.71" cy="545.04" r="0.33"/><circle cx="198.41" cy="534.47" r="0.33"/><circle cx="193.31" cy="538.38" r="0.33"/><circle cx="189.30" cy="545.20" r="0.33"/><circle cx="190.43" cy="536.83" r="0.33"/><circle cx="191.27" cy="540.05" r="0.33"/><circle cx="189.83" cy="542.95" r="0.33"/><circle cx="190.45" cy="541.45" r="0.33"/><circle cx="189.49" cy="544.23" r="0.33"/><circle cx="193.07" cy="538.51" r="0.33"/><circle cx="190.12" cy="536.86" r="0.33"/><circle cx="190.26" cy="545.20" r="0.33"/><circle cx="190.89" cy="538.16" r="0.33"/><circle cx="190.44" cy="537.40" r="0.33"/><circle cx="190.91" cy="536.05" r="0.33"/><circle cx="190.56" cy="542.07" r="0.33"/><circle cx="192.47" cy="534.92" r="0.33"/><circle cx="192.45" cy="545.70" r="0.33"/><circle cx="189.33" cy="543.41" r="0.33"/><circle cx="191.95" cy="540.45" r="0.33"/><circle cx="187.96" cy="535.67" r="0.33"/><circle cx="188.58" cy="544.70" r="0.33"/><circle cx="191.97" cy="543.81" r="0.33"/><circle cx="188.90" cy="543.87" r="0.33"/><circle cx="187.95" cy="547.85" r="0.33"/><circle cx="191.52" cy="539.96" r="0.33"/><circle cx="189.54" cy="540.41" r="0.33"/><circle cx="193.05" cy="530.52" r="0.33"/><circle cx="191.09" cy="545.19" r="0.33"/><circle cx="188.67" cy="544.31" r="0.33"/><circle cx="189.46" cy="537.71" r="0.33"/><circle cx="190.44" cy="536.61" r="0.33"/><circle cx="188.84" cy="539.66" r="0.33"/><circle cx="189.35" cy="540.88" r="0.33"/><circle cx="189.53" cy="541.50" r="0.33"/><circle cx="190.03" cy="536.54" r="0.33"/><circle cx="186.05" cy="543.68" r="0.33"/><circle cx="190.50" cy="544.75" r="0.33"/><circle cx="189.65" cy="535.58" r="0.33"/><circle cx="191.70" cy="535.97" r="0.33"/><circle cx="193.58" cy="537.69" r="0.33"/><circle cx="191.89" cy="543.25" r="0.33"/><circle cx="186.75" cy="537.83" r="0.33"/><circle cx="191.83" cy="533.46" r="0.33"/><circle cx="190.96" cy="533.54" r="0.33"/><circle cx="188.15" cy="541.14" r="0.33"/><circle cx="190.20" cy="539.74" r="0.33"/><circle cx="188.76" cy="539.21" r="0.33"/><circle cx="187.83" cy="541.92" r="0.33"/><circle cx="190.44" cy="536.21" r="0.33"/><circle cx="189.75" cy="538.26" r="0.33"/><circle cx="193.30" cy="539.71" r="0.33"/></g>
<ellipse cx="190.60" cy="540.00" rx="1.80" ry="5.00" transform="rotate(15 190.60 540.00)" fill="#5a4cb0" opacity="0.45" filter="url(#bl70)"/>
<g fill="#5448b0" opacity="0.55"><circle cx="188.86" cy="550.36" r="0.33"/><circle cx="184.54" cy="548.93" r="0.33"/><circle cx="191.63" cy="549.34" r="0.33"/><circle cx="187.22" cy="549.87" r="0.33"/><circle cx="187.85" cy="550.87" r="0.33"/><circle cx="187.56" cy="549.02" r="0.33"/><circle cx="188.82" cy="552.53" r="0.33"/><circle cx="189.17" cy="549.27" r="0.33"/><circle cx="198.53" cy="549.93" r="0.33"/><circle cx="190.31" cy="550.41" r="0.33"/><circle cx="192.07" cy="551.60" r="0.33"/><circle cx="185.98" cy="552.92" r="0.33"/><circle cx="191.59" cy="549.18" r="0.33"/><circle cx="186.57" cy="549.40" r="0.33"/><circle cx="193.68" cy="551.42" r="0.33"/><circle cx="190.33" cy="552.62" r="0.33"/><circle cx="194.60" cy="551.13" r="0.33"/><circle cx="190.62" cy="550.68" r="0.33"/><circle cx="188.83" cy="550.83" r="0.33"/><circle cx="188.27" cy="551.76" r="0.33"/><circle cx="193.12" cy="549.02" r="0.33"/><circle cx="191.45" cy="550.32" r="0.33"/><circle cx="188.45" cy="548.57" r="0.33"/><circle cx="181.72" cy="550.76" r="0.33"/><circle cx="187.48" cy="550.08" r="0.33"/><circle cx="188.68" cy="549.21" r="0.33"/><circle cx="190.62" cy="553.16" r="0.33"/><circle cx="193.15" cy="551.52" r="0.33"/><circle cx="189.27" cy="550.96" r="0.33"/><circle cx="188.61" cy="550.45" r="0.33"/><circle cx="187.62" cy="549.82" r="0.33"/><circle cx="202.65" cy="552.13" r="0.33"/><circle cx="191.38" cy="551.37" r="0.33"/><circle cx="186.88" cy="550.96" r="0.33"/><circle cx="185.60" cy="550.66" r="0.33"/><circle cx="185.61" cy="550.07" r="0.33"/><circle cx="188.84" cy="552.06" r="0.33"/><circle cx="188.23" cy="549.41" r="0.33"/><circle cx="181.78" cy="550.54" r="0.33"/><circle cx="192.32" cy="551.07" r="0.33"/><circle cx="188.43" cy="550.79" r="0.33"/><circle cx="189.59" cy="549.38" r="0.33"/><circle cx="188.57" cy="551.96" r="0.33"/><circle cx="190.56" cy="550.90" r="0.33"/><circle cx="191.87" cy="548.75" r="0.33"/><circle cx="193.85" cy="549.51" r="0.33"/><circle cx="186.97" cy="552.66" r="0.33"/><circle cx="190.39" cy="550.78" r="0.33"/><circle cx="192.58" cy="549.06" r="0.33"/><circle cx="192.49" cy="554.94" r="0.33"/><circle cx="189.40" cy="551.15" r="0.33"/><circle cx="189.04" cy="552.91" r="0.33"/><circle cx="194.11" cy="551.37" r="0.33"/><circle cx="186.54" cy="551.49" r="0.33"/><circle cx="189.67" cy="548.78" r="0.33"/><circle cx="196.40" cy="550.30" r="0.33"/><circle cx="194.69" cy="548.14" r="0.33"/><circle cx="191.87" cy="549.50" r="0.33"/><circle cx="192.96" cy="551.73" r="0.33"/><circle cx="182.75" cy="548.12" r="0.33"/></g>
<ellipse cx="189.50" cy="551.00" rx="4.00" ry="1.80" transform="rotate(0 189.50 551.00)" fill="#5a4cb0" opacity="0.5" filter="url(#bl70)"/>
<g fill="#3a2e96" opacity="0.5"><circle cx="229.94" cy="542.69" r="0.38"/><circle cx="233.89" cy="542.74" r="0.38"/><circle cx="231.45" cy="541.28" r="0.38"/><circle cx="231.87" cy="543.81" r="0.38"/><circle cx="234.37" cy="547.76" r="0.38"/><circle cx="234.51" cy="551.63" r="0.38"/><circle cx="223.93" cy="552.64" r="0.38"/><circle cx="231.27" cy="544.32" r="0.38"/><circle cx="228.77" cy="543.45" r="0.38"/><circle cx="240.82" cy="545.56" r="0.38"/><circle cx="239.76" cy="541.62" r="0.38"/><circle cx="227.16" cy="546.73" r="0.38"/><circle cx="240.58" cy="538.97" r="0.38"/><circle cx="240.74" cy="541.59" r="0.38"/><circle cx="238.72" cy="550.47" r="0.38"/><circle cx="236.00" cy="542.05" r="0.38"/><circle cx="233.68" cy="540.47" r="0.38"/><circle cx="239.40" cy="546.67" r="0.38"/><circle cx="232.48" cy="547.54" r="0.38"/><circle cx="236.95" cy="548.39" r="0.38"/><circle cx="232.69" cy="542.45" r="0.38"/><circle cx="233.74" cy="547.48" r="0.38"/><circle cx="232.83" cy="541.36" r="0.38"/><circle cx="234.38" cy="543.10" r="0.38"/><circle cx="236.23" cy="538.97" r="0.38"/><circle cx="241.16" cy="536.72" r="0.38"/><circle cx="235.18" cy="542.82" r="0.38"/><circle cx="232.20" cy="539.28" r="0.38"/><circle cx="237.74" cy="538.01" r="0.38"/><circle cx="233.07" cy="554.33" r="0.38"/><circle cx="238.31" cy="541.97" r="0.38"/><circle cx="240.06" cy="545.53" r="0.38"/><circle cx="232.33" cy="542.96" r="0.38"/><circle cx="228.44" cy="544.45" r="0.38"/><circle cx="234.61" cy="541.45" r="0.38"/><circle cx="240.76" cy="545.53" r="0.38"/><circle cx="232.10" cy="538.77" r="0.38"/><circle cx="233.08" cy="541.05" r="0.38"/><circle cx="242.83" cy="541.10" r="0.38"/><circle cx="233.90" cy="543.66" r="0.38"/><circle cx="243.12" cy="543.45" r="0.38"/><circle cx="232.04" cy="542.63" r="0.38"/><circle cx="236.98" cy="548.25" r="0.38"/><circle cx="239.24" cy="542.12" r="0.38"/><circle cx="235.75" cy="545.09" r="0.38"/><circle cx="222.97" cy="549.04" r="0.38"/><circle cx="243.08" cy="543.08" r="0.38"/><circle cx="230.85" cy="543.60" r="0.38"/><circle cx="226.87" cy="541.67" r="0.38"/><circle cx="237.00" cy="548.17" r="0.38"/><circle cx="229.68" cy="543.06" r="0.38"/><circle cx="239.01" cy="546.54" r="0.38"/><circle cx="230.56" cy="539.87" r="0.38"/><circle cx="234.90" cy="547.83" r="0.38"/><circle cx="241.35" cy="547.06" r="0.38"/><circle cx="233.99" cy="540.78" r="0.38"/><circle cx="233.12" cy="543.73" r="0.38"/><circle cx="240.55" cy="547.03" r="0.38"/><circle cx="233.39" cy="548.98" r="0.38"/><circle cx="241.23" cy="542.50" r="0.38"/><circle cx="231.88" cy="546.42" r="0.38"/><circle cx="231.47" cy="543.39" r="0.38"/><circle cx="234.48" cy="546.26" r="0.38"/><circle cx="236.92" cy="537.94" r="0.38"/><circle cx="237.37" cy="539.88" r="0.38"/><circle cx="232.85" cy="537.63" r="0.38"/><circle cx="246.74" cy="540.55" r="0.38"/><circle cx="230.67" cy="546.30" r="0.38"/><circle cx="233.65" cy="547.80" r="0.38"/><circle cx="233.02" cy="539.60" r="0.38"/><circle cx="231.73" cy="548.68" r="0.38"/><circle cx="229.82" cy="540.63" r="0.38"/><circle cx="238.54" cy="548.76" r="0.38"/><circle cx="238.99" cy="540.70" r="0.38"/><circle cx="237.21" cy="534.92" r="0.38"/><circle cx="224.11" cy="553.97" r="0.38"/><circle cx="236.62" cy="546.82" r="0.38"/><circle cx="233.65" cy="546.22" r="0.38"/><circle cx="239.89" cy="543.40" r="0.38"/><circle cx="228.89" cy="548.13" r="0.38"/><circle cx="237.38" cy="537.94" r="0.38"/><circle cx="234.64" cy="544.14" r="0.38"/><circle cx="240.74" cy="540.87" r="0.38"/><circle cx="241.33" cy="558.11" r="0.38"/><circle cx="235.11" cy="541.38" r="0.38"/><circle cx="244.73" cy="540.97" r="0.38"/><circle cx="241.98" cy="538.37" r="0.38"/><circle cx="246.28" cy="542.05" r="0.38"/><circle cx="226.83" cy="538.67" r="0.38"/><circle cx="228.08" cy="541.48" r="0.38"/><circle cx="237.49" cy="539.28" r="0.38"/><circle cx="237.55" cy="545.37" r="0.38"/><circle cx="231.91" cy="552.50" r="0.38"/><circle cx="235.64" cy="539.03" r="0.38"/><circle cx="236.71" cy="545.59" r="0.38"/><circle cx="236.71" cy="552.85" r="0.38"/><circle cx="242.39" cy="542.33" r="0.38"/><circle cx="239.94" cy="539.40" r="0.38"/><circle cx="234.13" cy="543.13" r="0.38"/><circle cx="228.80" cy="549.72" r="0.38"/><circle cx="238.84" cy="545.07" r="0.38"/><circle cx="226.19" cy="549.52" r="0.38"/><circle cx="227.69" cy="544.67" r="0.38"/><circle cx="230.99" cy="545.61" r="0.38"/><circle cx="241.68" cy="537.87" r="0.38"/><circle cx="251.37" cy="539.87" r="0.38"/><circle cx="234.40" cy="542.19" r="0.38"/><circle cx="230.06" cy="532.70" r="0.38"/><circle cx="232.31" cy="550.40" r="0.38"/><circle cx="239.20" cy="544.53" r="0.38"/><circle cx="237.27" cy="545.85" r="0.38"/><circle cx="235.84" cy="547.28" r="0.38"/><circle cx="227.03" cy="544.29" r="0.38"/><circle cx="249.82" cy="534.64" r="0.38"/><circle cx="244.75" cy="539.52" r="0.38"/><circle cx="236.27" cy="548.31" r="0.38"/><circle cx="237.38" cy="541.82" r="0.38"/><circle cx="237.98" cy="540.70" r="0.38"/><circle cx="238.52" cy="540.92" r="0.38"/><circle cx="233.77" cy="544.61" r="0.38"/><circle cx="234.40" cy="535.70" r="0.38"/><circle cx="237.35" cy="551.31" r="0.38"/><circle cx="234.35" cy="536.02" r="0.38"/><circle cx="247.29" cy="544.36" r="0.38"/><circle cx="234.62" cy="546.68" r="0.38"/><circle cx="247.10" cy="541.19" r="0.38"/><circle cx="234.24" cy="546.61" r="0.38"/><circle cx="236.04" cy="541.31" r="0.38"/><circle cx="239.67" cy="547.95" r="0.38"/><circle cx="245.79" cy="546.61" r="0.38"/><circle cx="241.13" cy="542.19" r="0.38"/><circle cx="241.46" cy="541.31" r="0.38"/><circle cx="235.22" cy="542.57" r="0.38"/><circle cx="236.78" cy="534.87" r="0.38"/><circle cx="236.33" cy="538.60" r="0.38"/><circle cx="235.67" cy="540.48" r="0.38"/><circle cx="235.75" cy="538.77" r="0.38"/><circle cx="237.32" cy="542.61" r="0.38"/><circle cx="242.22" cy="538.10" r="0.38"/><circle cx="241.92" cy="546.01" r="0.38"/><circle cx="234.88" cy="544.91" r="0.38"/><circle cx="223.38" cy="548.06" r="0.38"/><circle cx="242.91" cy="541.38" r="0.38"/><circle cx="252.32" cy="535.69" r="0.38"/><circle cx="220.99" cy="542.22" r="0.38"/><circle cx="235.23" cy="553.15" r="0.38"/><circle cx="226.56" cy="550.60" r="0.38"/><circle cx="230.26" cy="541.29" r="0.38"/><circle cx="237.27" cy="540.91" r="0.38"/><circle cx="231.09" cy="549.59" r="0.38"/><circle cx="232.53" cy="537.34" r="0.38"/><circle cx="237.84" cy="548.58" r="0.38"/><circle cx="229.56" cy="534.45" r="0.38"/><circle cx="229.06" cy="547.04" r="0.38"/><circle cx="239.63" cy="542.55" r="0.38"/><circle cx="233.96" cy="539.15" r="0.38"/><circle cx="245.98" cy="541.38" r="0.38"/><circle cx="238.10" cy="544.59" r="0.38"/><circle cx="241.97" cy="536.78" r="0.38"/><circle cx="234.58" cy="545.33" r="0.38"/><circle cx="234.42" cy="548.01" r="0.38"/><circle cx="234.12" cy="551.63" r="0.38"/><circle cx="231.66" cy="540.76" r="0.38"/><circle cx="242.75" cy="539.73" r="0.38"/><circle cx="230.42" cy="537.78" r="0.38"/><circle cx="239.07" cy="553.61" r="0.38"/><circle cx="240.98" cy="543.58" r="0.38"/><circle cx="235.91" cy="548.01" r="0.38"/><circle cx="239.30" cy="547.48" r="0.38"/><circle cx="245.89" cy="528.60" r="0.38"/><circle cx="244.27" cy="537.43" r="0.38"/><circle cx="231.82" cy="553.54" r="0.38"/><circle cx="223.92" cy="541.28" r="0.38"/><circle cx="237.38" cy="542.17" r="0.38"/><circle cx="237.27" cy="545.63" r="0.38"/><circle cx="235.42" cy="541.81" r="0.38"/><circle cx="239.28" cy="544.40" r="0.38"/><circle cx="236.66" cy="540.93" r="0.38"/><circle cx="233.65" cy="547.40" r="0.38"/><circle cx="233.32" cy="537.46" r="0.38"/><circle cx="237.11" cy="536.47" r="0.38"/><circle cx="235.06" cy="539.23" r="0.38"/><circle cx="235.86" cy="542.66" r="0.38"/><circle cx="248.29" cy="537.51" r="0.38"/><circle cx="234.33" cy="542.90" r="0.38"/><circle cx="231.15" cy="541.25" r="0.38"/><circle cx="239.82" cy="543.91" r="0.38"/><circle cx="234.20" cy="539.70" r="0.38"/><circle cx="232.43" cy="542.56" r="0.38"/><circle cx="229.42" cy="535.45" r="0.38"/><circle cx="227.90" cy="552.07" r="0.38"/><circle cx="235.95" cy="538.03" r="0.38"/><circle cx="235.12" cy="539.23" r="0.38"/><circle cx="229.01" cy="546.69" r="0.38"/><circle cx="235.19" cy="540.97" r="0.38"/><circle cx="227.74" cy="540.96" r="0.38"/><circle cx="233.45" cy="548.50" r="0.38"/><circle cx="240.37" cy="549.17" r="0.38"/><circle cx="242.65" cy="541.45" r="0.38"/><circle cx="233.32" cy="547.51" r="0.38"/><circle cx="234.11" cy="544.54" r="0.38"/><circle cx="230.40" cy="541.81" r="0.38"/><circle cx="233.92" cy="541.98" r="0.38"/><circle cx="236.69" cy="534.91" r="0.38"/><circle cx="237.64" cy="536.74" r="0.38"/><circle cx="232.61" cy="549.13" r="0.38"/><circle cx="225.83" cy="543.64" r="0.38"/><circle cx="239.82" cy="538.13" r="0.38"/><circle cx="237.75" cy="548.57" r="0.38"/><circle cx="233.84" cy="543.38" r="0.38"/><circle cx="235.08" cy="540.95" r="0.38"/><circle cx="235.23" cy="549.70" r="0.38"/><circle cx="235.29" cy="546.69" r="0.38"/><circle cx="230.88" cy="549.35" r="0.38"/><circle cx="228.43" cy="543.80" r="0.38"/><circle cx="229.61" cy="547.85" r="0.38"/><circle cx="245.69" cy="551.66" r="0.38"/><circle cx="228.20" cy="548.12" r="0.38"/><circle cx="235.72" cy="546.90" r="0.38"/><circle cx="234.83" cy="542.11" r="0.38"/></g>
<g fill="#5448b0" opacity="0.4"><circle cx="244.14" cy="546.15" r="0.33"/><circle cx="242.34" cy="536.12" r="0.33"/><circle cx="244.47" cy="536.56" r="0.33"/><circle cx="244.97" cy="545.16" r="0.33"/><circle cx="240.42" cy="548.02" r="0.33"/><circle cx="250.19" cy="534.68" r="0.33"/><circle cx="241.90" cy="533.41" r="0.33"/><circle cx="246.12" cy="535.82" r="0.33"/><circle cx="244.42" cy="543.20" r="0.33"/><circle cx="243.45" cy="539.16" r="0.33"/><circle cx="241.16" cy="535.56" r="0.33"/><circle cx="243.17" cy="543.39" r="0.33"/><circle cx="242.84" cy="546.27" r="0.33"/><circle cx="249.02" cy="553.39" r="0.33"/><circle cx="240.03" cy="544.29" r="0.33"/><circle cx="242.19" cy="532.82" r="0.33"/><circle cx="238.25" cy="533.80" r="0.33"/><circle cx="241.64" cy="527.81" r="0.33"/><circle cx="244.00" cy="531.58" r="0.33"/><circle cx="242.62" cy="539.99" r="0.33"/><circle cx="241.44" cy="533.65" r="0.33"/><circle cx="243.09" cy="542.95" r="0.33"/><circle cx="240.29" cy="534.18" r="0.33"/><circle cx="246.63" cy="540.37" r="0.33"/><circle cx="243.75" cy="544.95" r="0.33"/><circle cx="243.50" cy="538.69" r="0.33"/><circle cx="243.02" cy="534.29" r="0.33"/><circle cx="243.66" cy="542.09" r="0.33"/><circle cx="245.26" cy="536.74" r="0.33"/><circle cx="239.60" cy="533.18" r="0.33"/><circle cx="243.05" cy="537.75" r="0.33"/><circle cx="242.50" cy="548.17" r="0.33"/><circle cx="241.43" cy="543.03" r="0.33"/><circle cx="243.93" cy="532.87" r="0.33"/><circle cx="244.16" cy="533.64" r="0.33"/><circle cx="244.25" cy="535.88" r="0.33"/><circle cx="240.52" cy="544.26" r="0.33"/><circle cx="245.45" cy="531.84" r="0.33"/><circle cx="240.95" cy="543.08" r="0.33"/><circle cx="242.81" cy="529.40" r="0.33"/><circle cx="238.42" cy="532.86" r="0.33"/><circle cx="243.69" cy="546.41" r="0.33"/><circle cx="240.74" cy="541.60" r="0.33"/><circle cx="243.76" cy="536.74" r="0.33"/><circle cx="244.52" cy="543.97" r="0.33"/><circle cx="239.80" cy="538.56" r="0.33"/><circle cx="239.60" cy="543.93" r="0.33"/><circle cx="240.02" cy="538.66" r="0.33"/><circle cx="241.50" cy="533.44" r="0.33"/><circle cx="246.80" cy="540.27" r="0.33"/><circle cx="236.87" cy="547.04" r="0.33"/><circle cx="241.66" cy="538.73" r="0.33"/><circle cx="240.94" cy="545.79" r="0.33"/><circle cx="244.28" cy="536.35" r="0.33"/><circle cx="238.78" cy="546.87" r="0.33"/><circle cx="239.46" cy="543.87" r="0.33"/><circle cx="246.53" cy="545.00" r="0.33"/><circle cx="245.60" cy="547.81" r="0.33"/><circle cx="247.00" cy="532.01" r="0.33"/><circle cx="245.13" cy="542.14" r="0.33"/><circle cx="240.44" cy="531.10" r="0.33"/><circle cx="244.14" cy="539.53" r="0.33"/><circle cx="241.42" cy="544.23" r="0.33"/><circle cx="237.00" cy="540.56" r="0.33"/><circle cx="243.58" cy="547.62" r="0.33"/><circle cx="241.87" cy="543.21" r="0.33"/><circle cx="238.96" cy="535.89" r="0.33"/><circle cx="244.27" cy="541.41" r="0.33"/><circle cx="247.97" cy="533.79" r="0.33"/><circle cx="240.37" cy="541.47" r="0.33"/><circle cx="241.94" cy="536.94" r="0.33"/><circle cx="238.42" cy="531.89" r="0.33"/><circle cx="235.41" cy="543.98" r="0.33"/><circle cx="246.35" cy="544.24" r="0.33"/><circle cx="250.14" cy="532.06" r="0.33"/><circle cx="239.92" cy="550.00" r="0.33"/><circle cx="244.37" cy="538.16" r="0.33"/><circle cx="239.54" cy="542.50" r="0.33"/><circle cx="243.45" cy="536.88" r="0.33"/><circle cx="241.61" cy="537.04" r="0.33"/></g>
<ellipse cx="236.00" cy="541.00" rx="9.00" ry="7.00" transform="rotate(-30 236.00 541.00)" fill="#5a4cb0" opacity="0.3" filter="url(#bl70)"/>
<path d="M222.5,547.0 L229.0,541.5 L237.0,537.5 L243.0,536.8 L245.0,542.5 L243.8,550.0 L236.0,552.0 L225.0,552.2 Z" fill="#3b2d95" opacity="0.8" stroke="#3b2d95" stroke-width="1" stroke-linejoin="round" filter="url(#bl70)"/>
<path d="M231.0,540.0 L238.0,537.5 L242.5,537.5 L243.5,542.5 L238.5,546.5 Z" fill="#3b2d95" opacity="0.6" filter="url(#bl70)"/>
<g filter="url(#bl45)" opacity="1.0"><ellipse cx="230.60" cy="532.90" rx="7.80" ry="5.00" transform="rotate(-3 230.60 532.90)" fill="#3b2d95"/><ellipse cx="230.60" cy="532.90" rx="6.55" ry="4.20" transform="rotate(-3 230.60 532.90)" fill="#2f42bc"/><ellipse cx="230.60" cy="532.90" rx="5.54" ry="3.55" transform="rotate(-3 230.60 532.90)" fill="#2a6ed4"/><ellipse cx="230.60" cy="532.90" rx="4.68" ry="3.00" transform="rotate(-3 230.60 532.90)" fill="#28a8d8"/><ellipse cx="230.60" cy="532.90" rx="3.90" ry="2.50" transform="rotate(-3 230.60 532.90)" fill="#3cc49c"/><ellipse cx="230.60" cy="532.90" rx="3.12" ry="2.00" transform="rotate(-3 230.60 532.90)" fill="#88cc3a"/></g>
<g filter="url(#bl45)" opacity="1.0"><ellipse cx="220.40" cy="549.40" rx="4.60" ry="3.40" transform="rotate(-28 220.40 549.40)" fill="#3b2d95"/><ellipse cx="220.33" cy="549.46" rx="3.91" ry="2.89" transform="rotate(-28 220.33 549.46)" fill="#2f42bc"/><ellipse cx="220.25" cy="549.52" rx="3.22" ry="2.38" transform="rotate(-28 220.25 549.52)" fill="#2a6ed4"/><ellipse cx="220.18" cy="549.59" rx="2.53" ry="1.87" transform="rotate(-28 220.18 549.59)" fill="#28a8d8"/><ellipse cx="220.10" cy="549.65" rx="2.07" ry="1.53" transform="rotate(-28 220.10 549.65)" fill="#3cc49c"/><ellipse cx="220.03" cy="549.71" rx="1.66" ry="1.22" transform="rotate(-28 220.03 549.71)" fill="#88cc3a"/><ellipse cx="219.95" cy="549.77" rx="1.29" ry="0.95" transform="rotate(-28 219.95 549.77)" fill="#e6d322"/><ellipse cx="219.88" cy="549.84" rx="0.92" ry="0.68" transform="rotate(-28 219.88 549.84)" fill="#f08a1c"/><ellipse cx="219.80" cy="549.90" rx="0.60" ry="0.44" transform="rotate(-28 219.80 549.90)" fill="#e0281c"/></g>
<rect x="65.20" y="428.20" width="13.50" height="22.10" fill="none" stroke="#3a3a3a" stroke-width="0.75" />
<rect x="115.40" y="428.20" width="13.30" height="22.10" fill="none" stroke="#3a3a3a" stroke-width="0.75" />
<rect x="167.30" y="428.20" width="13.10" height="22.10" fill="none" stroke="#3a3a3a" stroke-width="0.75" />
<rect x="218.40" y="428.20" width="13.30" height="22.10" fill="none" stroke="#3a3a3a" stroke-width="0.75" />
<rect x="71.30" y="474.50" width="18.50" height="13.80" fill="none" stroke="#3a3a3a" stroke-width="0.75" />
<rect x="123.30" y="472.40" width="18.40" height="11.70" fill="none" stroke="#3a3a3a" stroke-width="0.75" />
<rect x="172.10" y="474.10" width="24.20" height="17.30" fill="none" stroke="#3a3a3a" stroke-width="0.75" />
<rect x="220.40" y="475.30" width="24.20" height="17.30" fill="none" stroke="#3a3a3a" stroke-width="0.75" />
<rect x="73.30" y="522.10" width="20.70" height="13.50" fill="none" stroke="#3a3a3a" stroke-width="0.75" />
<rect x="124.10" y="521.20" width="20.70" height="12.90" fill="none" stroke="#3a3a3a" stroke-width="0.75" />
<rect x="184.40" y="531.00" width="11.90" height="14.70" fill="none" stroke="#3a3a3a" stroke-width="0.75" />
<rect x="222.30" y="526.80" width="17.10" height="11.50" fill="none" stroke="#3a3a3a" stroke-width="0.75" />
<text stroke="#2a2a2a" stroke-width="0.14" x="56.00" y="427.00" font-size="5.4" fill="#2a2a2a" textLength="15.00" lengthAdjust="spacingAndGlyphs" >3.44%</text>
<text stroke="#2a2a2a" stroke-width="0.14" x="108.60" y="427.00" font-size="5.4" fill="#2a2a2a" textLength="16.20" lengthAdjust="spacingAndGlyphs" >0.07 %</text>
<text stroke="#2a2a2a" stroke-width="0.14" x="157.90" y="427.00" font-size="5.4" fill="#2a2a2a" textLength="14.10" lengthAdjust="spacingAndGlyphs" >6.76%</text>
<text stroke="#2a2a2a" stroke-width="0.14" x="209.80" y="427.00" font-size="5.4" fill="#2a2a2a" textLength="14.20" lengthAdjust="spacingAndGlyphs" >6.77%</text>
<text stroke="#2a2a2a" stroke-width="0.14" x="57.10" y="474.70" font-size="5.4" fill="#2a2a2a" textLength="14.40" lengthAdjust="spacingAndGlyphs" >26.6%</text>
<text stroke="#2a2a2a" stroke-width="0.14" x="107.10" y="474.70" font-size="5.4" fill="#2a2a2a" textLength="14.90" lengthAdjust="spacingAndGlyphs" >0.06%</text>
<text stroke="#2a2a2a" stroke-width="0.14" x="159.40" y="474.70" font-size="5.4" fill="#2a2a2a" textLength="11.60" lengthAdjust="spacingAndGlyphs" >5.6%</text>
<text stroke="#2a2a2a" stroke-width="0.14" x="211.10" y="474.70" font-size="5.4" fill="#2a2a2a" textLength="14.40" lengthAdjust="spacingAndGlyphs" >94.9%</text>
<text stroke="#2a2a2a" stroke-width="0.14" x="57.10" y="524.50" font-size="5.4" fill="#2a2a2a" textLength="14.90" lengthAdjust="spacingAndGlyphs" >0.19%</text>
<text stroke="#2a2a2a" stroke-width="0.14" x="107.50" y="524.50" font-size="5.4" fill="#2a2a2a" textLength="6.00" lengthAdjust="spacingAndGlyphs" >0%</text>
<text stroke="#2a2a2a" stroke-width="0.14" x="160.00" y="524.50" font-size="5.4" fill="#2a2a2a" textLength="15.00" lengthAdjust="spacingAndGlyphs" >0.40%</text>
<text stroke="#2a2a2a" stroke-width="0.14" x="212.10" y="524.50" font-size="5.4" fill="#2a2a2a" textLength="14.40" lengthAdjust="spacingAndGlyphs" >36.8%</text>
<text stroke="#000" stroke-width="0.14" x="266.30" y="404.20" font-size="11" font-weight="bold" fill="#000" textLength="9.30" lengthAdjust="spacingAndGlyphs" >G</text>
<text stroke="#1e1e1e" stroke-width="0.14" x="322.00" y="414.40" font-size="5.6" textLength="81.90" lengthAdjust="spacingAndGlyphs" >Bone marrow post-transplantation</text>
<line x1="296.90" y1="417.60" x2="430.60" y2="417.60" stroke="#666" stroke-width="1.3" />
<text stroke="#1e1e1e" stroke-width="0.14" x="446.10" y="414.40" font-size="5.6" textLength="16.20" lengthAdjust="spacingAndGlyphs" >Spleen</text>
<line x1="432.10" y1="417.60" x2="476.30" y2="417.60" stroke="#666" stroke-width="1.3" />
<text stroke="#1e1e1e" stroke-width="0.14" x="306.20" y="425.00" font-size="5.6" textLength="23.80" lengthAdjust="spacingAndGlyphs" >3.5 weeks</text>
<line x1="300.30" y1="428.30" x2="336.00" y2="428.30" stroke="#555" stroke-width="1.2" />
<text stroke="#1e1e1e" stroke-width="0.14" x="349.90" y="425.00" font-size="5.6" textLength="27.00" lengthAdjust="spacingAndGlyphs" >11.5 weeks</text>
<line x1="345.40" y1="428.30" x2="381.20" y2="428.30" stroke="#555" stroke-width="1.2" />
<text stroke="#1e1e1e" stroke-width="0.14" x="397.80" y="425.00" font-size="5.6" textLength="21.90" lengthAdjust="spacingAndGlyphs" >18 weeks</text>
<line x1="390.80" y1="428.30" x2="426.90" y2="428.30" stroke="#555" stroke-width="1.2" />
<text stroke="#1e1e1e" stroke-width="0.14" x="443.60" y="425.00" font-size="5.6" textLength="22.20" lengthAdjust="spacingAndGlyphs" >18 weeks</text>
<line x1="436.60" y1="428.30" x2="472.50" y2="428.30" stroke="#555" stroke-width="1.2" />
<text stroke="#1e1e1e" stroke-width="0.14" x="302.30" y="435.80" font-size="5.6" textLength="8.20" lengthAdjust="spacingAndGlyphs" >4/5</text>
<text stroke="#1e1e1e" stroke-width="0.14" x="315.70" y="435.80" font-size="5.6" textLength="8.20" lengthAdjust="spacingAndGlyphs" >1/6</text>
<text stroke="#1e1e1e" stroke-width="0.14" x="328.90" y="435.80" font-size="5.6" textLength="8.20" lengthAdjust="spacingAndGlyphs" >4/4</text>
<text stroke="#1e1e1e" stroke-width="0.14" x="347.20" y="435.80" font-size="5.6" textLength="8.20" lengthAdjust="spacingAndGlyphs" >4/5</text>
<text stroke="#1e1e1e" stroke-width="0.14" x="359.90" y="435.80" font-size="5.6" textLength="8.20" lengthAdjust="spacingAndGlyphs" >0/6</text>
<text stroke="#1e1e1e" stroke-width="0.14" x="373.20" y="435.80" font-size="5.6" textLength="8.20" lengthAdjust="spacingAndGlyphs" >2/4</text>
<text stroke="#1e1e1e" stroke-width="0.14" x="391.40" y="435.80" font-size="5.6" textLength="8.20" lengthAdjust="spacingAndGlyphs" >4/5</text>
<text stroke="#1e1e1e" stroke-width="0.14" x="404.60" y="435.80" font-size="5.6" textLength="8.20" lengthAdjust="spacingAndGlyphs" >0/6</text>
<text stroke="#1e1e1e" stroke-width="0.14" x="417.80" y="435.80" font-size="5.6" textLength="8.20" lengthAdjust="spacingAndGlyphs" >2/4</text>
<text stroke="#1e1e1e" stroke-width="0.14" x="290.20" y="442.60" font-size="6.2" text-anchor="end" >100</text>
<text stroke="#1e1e1e" stroke-width="0.14" x="290.20" y="453.60" font-size="6.2" text-anchor="end" >10</text>
<text stroke="#1e1e1e" stroke-width="0.14" x="290.20" y="464.40" font-size="6.2" text-anchor="end" >1</text>
<text stroke="#1e1e1e" stroke-width="0.14" x="290.20" y="475.50" font-size="6.2" text-anchor="end" >0.1</text>
<text stroke="#1e1e1e" stroke-width="0.14" x="290.20" y="486.30" font-size="6.2" text-anchor="end" >0.01</text>
<line x1="297.40" y1="437.60" x2="297.40" y2="484.20" stroke="#111" stroke-width="1.0" />
<line x1="296.90" y1="484.20" x2="339.00" y2="484.20" stroke="#111" stroke-width="1.0" />
<line x1="293.80" y1="484.20" x2="297.40" y2="484.20" stroke="#111" stroke-width="1.0" />
<line x1="295.40" y1="480.91" x2="297.40" y2="480.91" stroke="#111" stroke-width="0.6" />
<line x1="295.40" y1="478.99" x2="297.40" y2="478.99" stroke="#111" stroke-width="0.6" />
<line x1="295.40" y1="477.62" x2="297.40" y2="477.62" stroke="#111" stroke-width="0.6" />
<line x1="295.40" y1="476.56" x2="297.40" y2="476.56" stroke="#111" stroke-width="0.6" />
<line x1="295.40" y1="475.69" x2="297.40" y2="475.69" stroke="#111" stroke-width="0.6" />
<line x1="295.40" y1="474.96" x2="297.40" y2="474.96" stroke="#111" stroke-width="0.6" />
<line x1="295.40" y1="474.33" x2="297.40" y2="474.33" stroke="#111" stroke-width="0.6" />
<line x1="295.40" y1="473.77" x2="297.40" y2="473.77" stroke="#111" stroke-width="0.6" />
<line x1="293.80" y1="473.27" x2="297.40" y2="473.27" stroke="#111" stroke-width="1.0" />
<line x1="295.40" y1="469.98" x2="297.40" y2="469.98" stroke="#111" stroke-width="0.6" />
<line x1="295.40" y1="468.06" x2="297.40" y2="468.06" stroke="#111" stroke-width="0.6" />
<line x1="295.40" y1="466.69" x2="297.40" y2="466.69" stroke="#111" stroke-width="0.6" />
<line x1="295.40" y1="465.63" x2="297.40" y2="465.63" stroke="#111" stroke-width="0.6" />
<line x1="295.40" y1="464.76" x2="297.40" y2="464.76" stroke="#111" stroke-width="0.6" />
<line x1="295.40" y1="464.03" x2="297.40" y2="464.03" stroke="#111" stroke-width="0.6" />
<line x1="295.40" y1="463.40" x2="297.40" y2="463.40" stroke="#111" stroke-width="0.6" />
<line x1="295.40" y1="462.84" x2="297.40" y2="462.84" stroke="#111" stroke-width="0.6" />
<line x1="293.80" y1="462.34" x2="297.40" y2="462.34" stroke="#111" stroke-width="1.0" />
<line x1="295.40" y1="459.05" x2="297.40" y2="459.05" stroke="#111" stroke-width="0.6" />
<line x1="295.40" y1="457.13" x2="297.40" y2="457.13" stroke="#111" stroke-width="0.6" />
<line x1="295.40" y1="455.76" x2="297.40" y2="455.76" stroke="#111" stroke-width="0.6" />
<line x1="295.40" y1="454.70" x2="297.40" y2="454.70" stroke="#111" stroke-width="0.6" />
<line x1="295.40" y1="453.83" x2="297.40" y2="453.83" stroke="#111" stroke-width="0.6" />
<line x1="295.40" y1="453.10" x2="297.40" y2="453.10" stroke="#111" stroke-width="0.6" />
<line x1="295.40" y1="452.47" x2="297.40" y2="452.47" stroke="#111" stroke-width="0.6" />
<line x1="295.40" y1="451.91" x2="297.40" y2="451.91" stroke="#111" stroke-width="0.6" />
<line x1="293.80" y1="451.41" x2="297.40" y2="451.41" stroke="#111" stroke-width="1.0" />
<line x1="295.40" y1="448.12" x2="297.40" y2="448.12" stroke="#111" stroke-width="0.6" />
<line x1="295.40" y1="446.20" x2="297.40" y2="446.20" stroke="#111" stroke-width="0.6" />
<line x1="295.40" y1="444.83" x2="297.40" y2="444.83" stroke="#111" stroke-width="0.6" />
<line x1="295.40" y1="443.77" x2="297.40" y2="443.77" stroke="#111" stroke-width="0.6" />
<line x1="295.40" y1="442.90" x2="297.40" y2="442.90" stroke="#111" stroke-width="0.6" />
<line x1="295.40" y1="442.17" x2="297.40" y2="442.17" stroke="#111" stroke-width="0.6" />
<line x1="295.40" y1="441.54" x2="297.40" y2="441.54" stroke="#111" stroke-width="0.6" />
<line x1="295.40" y1="440.98" x2="297.40" y2="440.98" stroke="#111" stroke-width="0.6" />
<line x1="293.80" y1="440.48" x2="297.40" y2="440.48" stroke="#111" stroke-width="1.0" />
<line x1="341.80" y1="437.60" x2="341.80" y2="484.20" stroke="#111" stroke-width="1.0" />
<line x1="341.30" y1="484.20" x2="384.00" y2="484.20" stroke="#111" stroke-width="1.0" />
<line x1="338.20" y1="484.20" x2="341.80" y2="484.20" stroke="#111" stroke-width="1.0" />
<line x1="339.80" y1="480.91" x2="341.80" y2="480.91" stroke="#111" stroke-width="0.6" />
<line x1="339.80" y1="478.99" x2="341.80" y2="478.99" stroke="#111" stroke-width="0.6" />
<line x1="339.80" y1="477.62" x2="341.80" y2="477.62" stroke="#111" stroke-width="0.6" />
<line x1="339.80" y1="476.56" x2="341.80" y2="476.56" stroke="#111" stroke-width="0.6" />
<line x1="339.80" y1="475.69" x2="341.80" y2="475.69" stroke="#111" stroke-width="0.6" />
<line x1="339.80" y1="474.96" x2="341.80" y2="474.96" stroke="#111" stroke-width="0.6" />
<line x1="339.80" y1="474.33" x2="341.80" y2="474.33" stroke="#111" stroke-width="0.6" />
<line x1="339.80" y1="473.77" x2="341.80" y2="473.77" stroke="#111" stroke-width="0.6" />
<line x1="338.20" y1="473.27" x2="341.80" y2="473.27" stroke="#111" stroke-width="1.0" />
<line x1="339.80" y1="469.98" x2="341.80" y2="469.98" stroke="#111" stroke-width="0.6" />
<line x1="339.80" y1="468.06" x2="341.80" y2="468.06" stroke="#111" stroke-width="0.6" />
<line x1="339.80" y1="466.69" x2="341.80" y2="466.69" stroke="#111" stroke-width="0.6" />
<line x1="339.80" y1="465.63" x2="341.80" y2="465.63" stroke="#111" stroke-width="0.6" />
<line x1="339.80" y1="464.76" x2="341.80" y2="464.76" stroke="#111" stroke-width="0.6" />
<line x1="339.80" y1="464.03" x2="341.80" y2="464.03" stroke="#111" stroke-width="0.6" />
<line x1="339.80" y1="463.40" x2="341.80" y2="463.40" stroke="#111" stroke-width="0.6" />
<line x1="339.80" y1="462.84" x2="341.80" y2="462.84" stroke="#111" stroke-width="0.6" />
<line x1="338.20" y1="462.34" x2="341.80" y2="462.34" stroke="#111" stroke-width="1.0" />
<line x1="339.80" y1="459.05" x2="341.80" y2="459.05" stroke="#111" stroke-width="0.6" />
<line x1="339.80" y1="457.13" x2="341.80" y2="457.13" stroke="#111" stroke-width="0.6" />
<line x1="339.80" y1="455.76" x2="341.80" y2="455.76" stroke="#111" stroke-width="0.6" />
<line x1="339.80" y1="454.70" x2="341.80" y2="454.70" stroke="#111" stroke-width="0.6" />
<line x1="339.80" y1="453.83" x2="341.80" y2="453.83" stroke="#111" stroke-width="0.6" />
<line x1="339.80" y1="453.10" x2="341.80" y2="453.10" stroke="#111" stroke-width="0.6" />
<line x1="339.80" y1="452.47" x2="341.80" y2="452.47" stroke="#111" stroke-width="0.6" />
<line x1="339.80" y1="451.91" x2="341.80" y2="451.91" stroke="#111" stroke-width="0.6" />
<line x1="338.20" y1="451.41" x2="341.80" y2="451.41" stroke="#111" stroke-width="1.0" />
<line x1="339.80" y1="448.12" x2="341.80" y2="448.12" stroke="#111" stroke-width="0.6" />
<line x1="339.80" y1="446.20" x2="341.80" y2="446.20" stroke="#111" stroke-width="0.6" />
<line x1="339.80" y1="444.83" x2="341.80" y2="444.83" stroke="#111" stroke-width="0.6" />
<line x1="339.80" y1="443.77" x2="341.80" y2="443.77" stroke="#111" stroke-width="0.6" />
<line x1="339.80" y1="442.90" x2="341.80" y2="442.90" stroke="#111" stroke-width="0.6" />
<line x1="339.80" y1="442.17" x2="341.80" y2="442.17" stroke="#111" stroke-width="0.6" />
<line x1="339.80" y1="441.54" x2="341.80" y2="441.54" stroke="#111" stroke-width="0.6" />
<line x1="339.80" y1="440.98" x2="341.80" y2="440.98" stroke="#111" stroke-width="0.6" />
<line x1="338.20" y1="440.48" x2="341.80" y2="440.48" stroke="#111" stroke-width="1.0" />
<line x1="386.30" y1="437.60" x2="386.30" y2="484.20" stroke="#111" stroke-width="1.0" />
<line x1="385.80" y1="484.20" x2="430.00" y2="484.20" stroke="#111" stroke-width="1.0" />
<line x1="382.70" y1="484.20" x2="386.30" y2="484.20" stroke="#111" stroke-width="1.0" />
<line x1="384.30" y1="480.91" x2="386.30" y2="480.91" stroke="#111" stroke-width="0.6" />
<line x1="384.30" y1="478.99" x2="386.30" y2="478.99" stroke="#111" stroke-width="0.6" />
<line x1="384.30" y1="477.62" x2="386.30" y2="477.62" stroke="#111" stroke-width="0.6" />
<line x1="384.30" y1="476.56" x2="386.30" y2="476.56" stroke="#111" stroke-width="0.6" />
<line x1="384.30" y1="475.69" x2="386.30" y2="475.69" stroke="#111" stroke-width="0.6" />
<line x1="384.30" y1="474.96" x2="386.30" y2="474.96" stroke="#111" stroke-width="0.6" />
<line x1="384.30" y1="474.33" x2="386.30" y2="474.33" stroke="#111" stroke-width="0.6" />
<line x1="384.30" y1="473.77" x2="386.30" y2="473.77" stroke="#111" stroke-width="0.6" />
<line x1="382.70" y1="473.27" x2="386.30" y2="473.27" stroke="#111" stroke-width="1.0" />
<line x1="384.30" y1="469.98" x2="386.30" y2="469.98" stroke="#111" stroke-width="0.6" />
<line x1="384.30" y1="468.06" x2="386.30" y2="468.06" stroke="#111" stroke-width="0.6" />
<line x1="384.30" y1="466.69" x2="386.30" y2="466.69" stroke="#111" stroke-width="0.6" />
<line x1="384.30" y1="465.63" x2="386.30" y2="465.63" stroke="#111" stroke-width="0.6" />
<line x1="384.30" y1="464.76" x2="386.30" y2="464.76" stroke="#111" stroke-width="0.6" />
<line x1="384.30" y1="464.03" x2="386.30" y2="464.03" stroke="#111" stroke-width="0.6" />
<line x1="384.30" y1="463.40" x2="386.30" y2="463.40" stroke="#111" stroke-width="0.6" />
<line x1="384.30" y1="462.84" x2="386.30" y2="462.84" stroke="#111" stroke-width="0.6" />
<line x1="382.70" y1="462.34" x2="386.30" y2="462.34" stroke="#111" stroke-width="1.0" />
<line x1="384.30" y1="459.05" x2="386.30" y2="459.05" stroke="#111" stroke-width="0.6" />
<line x1="384.30" y1="457.13" x2="386.30" y2="457.13" stroke="#111" stroke-width="0.6" />
<line x1="384.30" y1="455.76" x2="386.30" y2="455.76" stroke="#111" stroke-width="0.6" />
<line x1="384.30" y1="454.70" x2="386.30" y2="454.70" stroke="#111" stroke-width="0.6" />
<line x1="384.30" y1="453.83" x2="386.30" y2="453.83" stroke="#111" stroke-width="0.6" />
<line x1="384.30" y1="453.10" x2="386.30" y2="453.10" stroke="#111" stroke-width="0.6" />
<line x1="384.30" y1="452.47" x2="386.30" y2="452.47" stroke="#111" stroke-width="0.6" />
<line x1="384.30" y1="451.91" x2="386.30" y2="451.91" stroke="#111" stroke-width="0.6" />
<line x1="382.70" y1="451.41" x2="386.30" y2="451.41" stroke="#111" stroke-width="1.0" />
<line x1="384.30" y1="448.12" x2="386.30" y2="448.12" stroke="#111" stroke-width="0.6" />
<line x1="384.30" y1="446.20" x2="386.30" y2="446.20" stroke="#111" stroke-width="0.6" />
<line x1="384.30" y1="444.83" x2="386.30" y2="444.83" stroke="#111" stroke-width="0.6" />
<line x1="384.30" y1="443.77" x2="386.30" y2="443.77" stroke="#111" stroke-width="0.6" />
<line x1="384.30" y1="442.90" x2="386.30" y2="442.90" stroke="#111" stroke-width="0.6" />
<line x1="384.30" y1="442.17" x2="386.30" y2="442.17" stroke="#111" stroke-width="0.6" />
<line x1="384.30" y1="441.54" x2="386.30" y2="441.54" stroke="#111" stroke-width="0.6" />
<line x1="384.30" y1="440.98" x2="386.30" y2="440.98" stroke="#111" stroke-width="0.6" />
<line x1="382.70" y1="440.48" x2="386.30" y2="440.48" stroke="#111" stroke-width="1.0" />
<line x1="432.10" y1="437.60" x2="432.10" y2="484.20" stroke="#111" stroke-width="1.0" />
<line x1="431.60" y1="484.20" x2="476.30" y2="484.20" stroke="#111" stroke-width="1.0" />
<line x1="428.50" y1="484.20" x2="432.10" y2="484.20" stroke="#111" stroke-width="1.0" />
<line x1="430.10" y1="480.91" x2="432.10" y2="480.91" stroke="#111" stroke-width="0.6" />
<line x1="430.10" y1="478.99" x2="432.10" y2="478.99" stroke="#111" stroke-width="0.6" />
<line x1="430.10" y1="477.62" x2="432.10" y2="477.62" stroke="#111" stroke-width="0.6" />
<line x1="430.10" y1="476.56" x2="432.10" y2="476.56" stroke="#111" stroke-width="0.6" />
<line x1="430.10" y1="475.69" x2="432.10" y2="475.69" stroke="#111" stroke-width="0.6" />
<line x1="430.10" y1="474.96" x2="432.10" y2="474.96" stroke="#111" stroke-width="0.6" />
<line x1="430.10" y1="474.33" x2="432.10" y2="474.33" stroke="#111" stroke-width="0.6" />
<line x1="430.10" y1="473.77" x2="432.10" y2="473.77" stroke="#111" stroke-width="0.6" />
<line x1="428.50" y1="473.27" x2="432.10" y2="473.27" stroke="#111" stroke-width="1.0" />
<line x1="430.10" y1="469.98" x2="432.10" y2="469.98" stroke="#111" stroke-width="0.6" />
<line x1="430.10" y1="468.06" x2="432.10" y2="468.06" stroke="#111" stroke-width="0.6" />
<line x1="430.10" y1="466.69" x2="432.10" y2="466.69" stroke="#111" stroke-width="0.6" />
<line x1="430.10" y1="465.63" x2="432.10" y2="465.63" stroke="#111" stroke-width="0.6" />
<line x1="430.10" y1="464.76" x2="432.10" y2="464.76" stroke="#111" stroke-width="0.6" />
<line x1="430.10" y1="464.03" x2="432.10" y2="464.03" stroke="#111" stroke-width="0.6" />
<line x1="430.10" y1="463.40" x2="432.10" y2="463.40" stroke="#111" stroke-width="0.6" />
<line x1="430.10" y1="462.84" x2="432.10" y2="462.84" stroke="#111" stroke-width="0.6" />
<line x1="428.50" y1="462.34" x2="432.10" y2="462.34" stroke="#111" stroke-width="1.0" />
<line x1="430.10" y1="459.05" x2="432.10" y2="459.05" stroke="#111" stroke-width="0.6" />
<line x1="430.10" y1="457.13" x2="432.10" y2="457.13" stroke="#111" stroke-width="0.6" />
<line x1="430.10" y1="455.76" x2="432.10" y2="455.76" stroke="#111" stroke-width="0.6" />
<line x1="430.10" y1="454.70" x2="432.10" y2="454.70" stroke="#111" stroke-width="0.6" />
<line x1="430.10" y1="453.83" x2="432.10" y2="453.83" stroke="#111" stroke-width="0.6" />
<line x1="430.10" y1="453.10" x2="432.10" y2="453.10" stroke="#111" stroke-width="0.6" />
<line x1="430.10" y1="452.47" x2="432.10" y2="452.47" stroke="#111" stroke-width="0.6" />
<line x1="430.10" y1="451.91" x2="432.10" y2="451.91" stroke="#111" stroke-width="0.6" />
<line x1="428.50" y1="451.41" x2="432.10" y2="451.41" stroke="#111" stroke-width="1.0" />
<line x1="430.10" y1="448.12" x2="432.10" y2="448.12" stroke="#111" stroke-width="0.6" />
<line x1="430.10" y1="446.20" x2="432.10" y2="446.20" stroke="#111" stroke-width="0.6" />
<line x1="430.10" y1="444.83" x2="432.10" y2="444.83" stroke="#111" stroke-width="0.6" />
<line x1="430.10" y1="443.77" x2="432.10" y2="443.77" stroke="#111" stroke-width="0.6" />
<line x1="430.10" y1="442.90" x2="432.10" y2="442.90" stroke="#111" stroke-width="0.6" />
<line x1="430.10" y1="442.17" x2="432.10" y2="442.17" stroke="#111" stroke-width="0.6" />
<line x1="430.10" y1="441.54" x2="432.10" y2="441.54" stroke="#111" stroke-width="0.6" />
<line x1="430.10" y1="440.98" x2="432.10" y2="440.98" stroke="#111" stroke-width="0.6" />
<line x1="428.50" y1="440.48" x2="432.10" y2="440.48" stroke="#111" stroke-width="1.0" />
<line x1="305.80" y1="484.20" x2="305.80" y2="486.40" stroke="#111" stroke-width="0.9" />
<line x1="301.40" y1="458.60" x2="310.20" y2="458.60" stroke="#1a1a1a" stroke-width="1.1" />
<circle cx="305.80" cy="458.39" r="0.85" fill="#b8143a"/>
<circle cx="303.20" cy="457.13" r="0.85" fill="#b8143a"/>
<circle cx="308.40" cy="459.82" r="0.85" fill="#b8143a"/>
<circle cx="305.80" cy="473.27" r="0.85" fill="#b8143a"/>
<line x1="319.20" y1="484.20" x2="319.20" y2="486.40" stroke="#111" stroke-width="0.9" />
<line x1="314.80" y1="472.02" x2="323.60" y2="472.02" stroke="#1a1a1a" stroke-width="1.1" />
<circle cx="319.20" cy="461.89" r="0.85" fill="#b8143a"/>
<circle cx="319.20" cy="465.63" r="0.85" fill="#b8143a"/>
<circle cx="321.80" cy="471.35" r="0.85" fill="#b8143a"/>
<circle cx="317.90" cy="472.40" r="0.85" fill="#b8143a"/>
<circle cx="319.20" cy="476.56" r="0.85" fill="#b8143a"/>
<circle cx="319.20" cy="475.69" r="0.85" fill="#b8143a"/>
<line x1="332.30" y1="484.20" x2="332.30" y2="486.40" stroke="#111" stroke-width="0.9" />
<line x1="327.90" y1="454.42" x2="336.70" y2="454.42" stroke="#1a1a1a" stroke-width="1.1" />
<circle cx="332.30" cy="454.25" r="0.85" fill="#b8143a"/>
<circle cx="329.70" cy="453.68" r="0.85" fill="#b8143a"/>
<circle cx="334.90" cy="454.70" r="0.85" fill="#b8143a"/>
<circle cx="332.30" cy="460.74" r="0.85" fill="#b8143a"/>
<line x1="350.30" y1="484.20" x2="350.30" y2="486.40" stroke="#111" stroke-width="0.9" />
<line x1="345.90" y1="453.68" x2="354.70" y2="453.68" stroke="#1a1a1a" stroke-width="1.1" />
<circle cx="350.30" cy="448.12" r="0.85" fill="#b8143a"/>
<circle cx="350.30" cy="450.54" r="0.85" fill="#b8143a"/>
<circle cx="352.90" cy="453.83" r="0.85" fill="#b8143a"/>
<circle cx="349.00" cy="453.83" r="0.85" fill="#b8143a"/>
<circle cx="350.30" cy="474.96" r="0.85" fill="#b8143a"/>
<line x1="362.60" y1="484.20" x2="362.60" y2="486.40" stroke="#111" stroke-width="0.9" />
<line x1="358.20" y1="484.20" x2="367.00" y2="484.20" stroke="#1a1a1a" stroke-width="1.1" />
<circle cx="362.60" cy="474.33" r="0.85" fill="#b8143a"/>
<circle cx="362.60" cy="478.99" r="0.85" fill="#b8143a"/>
<circle cx="365.20" cy="483.33" r="0.85" fill="#b8143a"/>
<circle cx="361.30" cy="484.00" r="0.85" fill="#b8143a"/>
<circle cx="363.90" cy="484.00" r="0.85" fill="#b8143a"/>
<circle cx="362.60" cy="484.00" r="0.85" fill="#b8143a"/>
<line x1="377.20" y1="484.20" x2="377.20" y2="486.40" stroke="#111" stroke-width="0.9" />
<line x1="372.80" y1="456.82" x2="381.60" y2="456.82" stroke="#1a1a1a" stroke-width="1.1" />
<circle cx="377.20" cy="449.49" r="0.85" fill="#b8143a"/>
<circle cx="377.20" cy="453.83" r="0.85" fill="#b8143a"/>
<circle cx="377.20" cy="482.28" r="0.85" fill="#b8143a"/>
<circle cx="377.20" cy="484.00" r="0.85" fill="#b8143a"/>
<line x1="395.40" y1="484.20" x2="395.40" y2="486.40" stroke="#111" stroke-width="0.9" />
<line x1="391.00" y1="447.67" x2="399.80" y2="447.67" stroke="#1a1a1a" stroke-width="1.1" />
<circle cx="395.40" cy="447.67" r="0.85" fill="#b8143a"/>
<circle cx="392.80" cy="447.67" r="0.85" fill="#b8143a"/>
<circle cx="398.00" cy="447.67" r="0.85" fill="#b8143a"/>
<circle cx="394.10" cy="447.67" r="0.85" fill="#b8143a"/>
<circle cx="395.40" cy="484.00" r="0.85" fill="#b8143a"/>
<line x1="408.60" y1="484.20" x2="408.60" y2="486.40" stroke="#111" stroke-width="0.9" />
<line x1="404.20" y1="481.97" x2="413.00" y2="481.97" stroke="#1a1a1a" stroke-width="1.1" />
<circle cx="408.60" cy="474.96" r="0.85" fill="#b8143a"/>
<circle cx="408.60" cy="477.62" r="0.85" fill="#b8143a"/>
<circle cx="408.60" cy="479.85" r="0.85" fill="#b8143a"/>
<circle cx="407.30" cy="482.28" r="0.85" fill="#b8143a"/>
<circle cx="409.90" cy="482.28" r="0.85" fill="#b8143a"/>
<circle cx="408.60" cy="484.00" r="0.85" fill="#b8143a"/>
<line x1="421.70" y1="484.20" x2="421.70" y2="486.40" stroke="#111" stroke-width="0.9" />
<line x1="417.30" y1="457.80" x2="426.10" y2="457.80" stroke="#1a1a1a" stroke-width="1.1" />
<circle cx="421.70" cy="440.48" r="0.85" fill="#b8143a"/>
<circle cx="421.70" cy="454.25" r="0.85" fill="#b8143a"/>
<circle cx="421.70" cy="480.91" r="0.85" fill="#b8143a"/>
<circle cx="421.70" cy="484.00" r="0.85" fill="#b8143a"/>
<line x1="440.70" y1="484.20" x2="440.70" y2="486.40" stroke="#111" stroke-width="0.9" />
<line x1="436.30" y1="464.76" x2="445.10" y2="464.76" stroke="#1a1a1a" stroke-width="1.1" />
<circle cx="440.70" cy="457.13" r="0.85" fill="#b8143a"/>
<circle cx="438.10" cy="464.03" r="0.85" fill="#b8143a"/>
<circle cx="440.70" cy="468.06" r="0.85" fill="#b8143a"/>
<circle cx="440.70" cy="484.00" r="0.85" fill="#b8143a"/>
<line x1="453.60" y1="484.20" x2="453.60" y2="486.40" stroke="#111" stroke-width="0.9" />
<circle cx="453.60" cy="484.00" r="0.85" fill="#b8143a"/>
<circle cx="451.00" cy="484.00" r="0.85" fill="#b8143a"/>
<circle cx="456.20" cy="484.00" r="0.85" fill="#b8143a"/>
<circle cx="452.30" cy="484.00" r="0.85" fill="#b8143a"/>
<circle cx="454.90" cy="484.00" r="0.85" fill="#b8143a"/>
<line x1="467.20" y1="484.20" x2="467.20" y2="486.40" stroke="#111" stroke-width="0.9" />
<line x1="462.80" y1="468.92" x2="471.60" y2="468.92" stroke="#1a1a1a" stroke-width="1.1" />
<circle cx="467.20" cy="445.46" r="0.85" fill="#b8143a"/>
<circle cx="467.20" cy="463.40" r="0.85" fill="#b8143a"/>
<circle cx="469.80" cy="484.00" r="0.85" fill="#b8143a"/>
<circle cx="465.90" cy="484.00" r="0.85" fill="#b8143a"/>
<text stroke="#1e1e1e" stroke-width="0.14" font-size="6.7" text-anchor="end" transform="translate(309.40,492.6) rotate(-45)">MIG</text>
<text stroke="#1e1e1e" stroke-width="0.14" font-size="6.7" text-anchor="end" transform="translate(322.80,492.6) rotate(-45)">PAX5 WT</text>
<text stroke="#1e1e1e" stroke-width="0.14" font-size="6.7" text-anchor="end" transform="translate(335.90,492.6) rotate(-45)">PAX5 R38H</text>
<text stroke="#1e1e1e" stroke-width="0.14" font-size="6.7" text-anchor="end" transform="translate(353.90,492.6) rotate(-45)">MIG</text>
<text stroke="#1e1e1e" stroke-width="0.14" font-size="6.7" text-anchor="end" transform="translate(366.20,492.6) rotate(-45)">PAX5 WT</text>
<text stroke="#1e1e1e" stroke-width="0.14" font-size="6.7" text-anchor="end" transform="translate(380.80,492.6) rotate(-45)">PAX5 R38H</text>
<text stroke="#1e1e1e" stroke-width="0.14" font-size="6.7" text-anchor="end" transform="translate(399.00,492.6) rotate(-45)">MIG</text>
<text stroke="#1e1e1e" stroke-width="0.14" font-size="6.7" text-anchor="end" transform="translate(412.20,492.6) rotate(-45)">PAX5 WT</text>
<text stroke="#1e1e1e" stroke-width="0.14" font-size="6.7" text-anchor="end" transform="translate(425.30,492.6) rotate(-45)">PAX5 R38H</text>
<text stroke="#1e1e1e" stroke-width="0.14" font-size="6.7" text-anchor="end" transform="translate(444.30,492.6) rotate(-45)">MIG</text>
<text stroke="#1e1e1e" stroke-width="0.14" font-size="6.7" text-anchor="end" transform="translate(457.20,492.6) rotate(-45)">PAX5 WT</text>
<text stroke="#1e1e1e" stroke-width="0.14" font-size="6.7" text-anchor="end" transform="translate(470.80,492.6) rotate(-45)">PAX5 R38H</text>
<text stroke="#1e1e1e" stroke-width="0.14" font-size="7.6" text-anchor="middle" transform="translate(272.9,459.6) rotate(-90)" textLength="71.5" lengthAdjust="spacingAndGlyphs">GFP<tspan font-size="4.2" dy="-2.4">+</tspan><tspan dy="2.4">/CD45.2</tspan><tspan font-size="4.2" dy="-2.4">+</tspan><tspan dy="2.4"> cells (%)</tspan></text>
<text stroke="#000" stroke-width="0.14" x="266.60" y="543.10" font-size="11" font-weight="bold" fill="#000" textLength="9.20" lengthAdjust="spacingAndGlyphs" >H</text>
<text stroke="#1e1e1e" stroke-width="0.14" x="365.00" y="538.70" font-size="6.6" textLength="31.00" lengthAdjust="spacingAndGlyphs" >BM 18 wks</text>
<line x1="310.20" y1="542.10" x2="458.20" y2="542.10" stroke="#666" stroke-width="1.4" />
<text stroke="#1e1e1e" stroke-width="0.14" x="471.30" y="538.90" font-size="6.6" textLength="41.60" lengthAdjust="spacingAndGlyphs" >Spleen 18 wks</text>
<line x1="471.30" y1="542.10" x2="512.30" y2="542.10" stroke="#666" stroke-width="1.4" />
<text stroke="#1e1e1e" stroke-width="0.14" x="324.20" y="552.90" font-size="6.6" textLength="12.70" lengthAdjust="spacingAndGlyphs" >MIG</text>
<line x1="309.80" y1="556.10" x2="351.10" y2="556.10" stroke="#555" stroke-width="1.4" />
<rect x="309.20" y="560.50" width="42.70" height="43.30" fill="none" stroke="#404040" stroke-width="0.8" />
<rect x="318.90" y="603.40" width="1.60" height="1.30" fill="#111" />
<rect x="308.00" y="591.50" width="1.30" height="1.60" fill="#111" />
<text x="303.79" y="564.90" font-size="3.3" fill="#6a6a6a">10</text>
<text x="307.46" y="563.60" font-size="2.05" fill="#6a6a6a">5</text>
<line x1="309.20" y1="563.70" x2="310.20" y2="563.70" stroke="#333" stroke-width="0.6" />
<text x="303.79" y="575.70" font-size="3.3" fill="#6a6a6a">10</text>
<text x="307.46" y="574.40" font-size="2.05" fill="#6a6a6a">4</text>
<line x1="309.20" y1="574.50" x2="310.20" y2="574.50" stroke="#333" stroke-width="0.6" />
<text x="303.79" y="587.20" font-size="3.3" fill="#6a6a6a">10</text>
<text x="307.46" y="585.90" font-size="2.05" fill="#6a6a6a">3</text>
<line x1="309.20" y1="586.00" x2="310.20" y2="586.00" stroke="#333" stroke-width="0.6" />
<text x="306.20" y="593.50" font-size="3.3" text-anchor="middle" fill="#6a6a6a">0</text>
<line x1="309.20" y1="592.30" x2="310.20" y2="592.30" stroke="#333" stroke-width="0.6" />
<text x="303.24" y="598.60" font-size="3.3" fill="#6a6a6a">-10</text>
<text x="308.01" y="597.30" font-size="2.05" fill="#6a6a6a">3</text>
<line x1="309.20" y1="597.40" x2="310.20" y2="597.40" stroke="#333" stroke-width="0.6" />
<text x="319.70" y="607.60" font-size="3.3" text-anchor="middle" fill="#6a6a6a">0</text>
<line x1="319.70" y1="602.80" x2="319.70" y2="603.80" stroke="#333" stroke-width="0.6" />
<text x="333.99" y="607.60" font-size="3.3" fill="#6a6a6a">10</text>
<text x="337.66" y="606.30" font-size="2.05" fill="#6a6a6a">3</text>
<line x1="336.40" y1="602.80" x2="336.40" y2="603.80" stroke="#333" stroke-width="0.6" />
<text x="343.99" y="607.60" font-size="3.3" fill="#6a6a6a">10</text>
<text x="347.66" y="606.30" font-size="2.05" fill="#6a6a6a">4</text>
<line x1="346.40" y1="602.80" x2="346.40" y2="603.80" stroke="#333" stroke-width="0.6" />
<text stroke="#1e1e1e" stroke-width="0.14" x="363.40" y="552.90" font-size="6.6" textLength="41.60" lengthAdjust="spacingAndGlyphs" >PAX5 R38H #2</text>
<line x1="364.00" y1="556.10" x2="404.50" y2="556.10" stroke="#555" stroke-width="1.4" />
<rect x="363.40" y="560.50" width="41.90" height="43.30" fill="none" stroke="#404040" stroke-width="0.8" />
<rect x="373.10" y="603.40" width="1.60" height="1.30" fill="#111" />
<rect x="362.20" y="591.50" width="1.30" height="1.60" fill="#111" />
<text x="357.99" y="564.90" font-size="3.3" fill="#6a6a6a">10</text>
<text x="361.66" y="563.60" font-size="2.05" fill="#6a6a6a">5</text>
<line x1="363.40" y1="563.70" x2="364.40" y2="563.70" stroke="#333" stroke-width="0.6" />
<text x="357.99" y="575.70" font-size="3.3" fill="#6a6a6a">10</text>
<text x="361.66" y="574.40" font-size="2.05" fill="#6a6a6a">4</text>
<line x1="363.40" y1="574.50" x2="364.40" y2="574.50" stroke="#333" stroke-width="0.6" />
<text x="357.99" y="587.20" font-size="3.3" fill="#6a6a6a">10</text>
<text x="361.66" y="585.90" font-size="2.05" fill="#6a6a6a">3</text>
<line x1="363.40" y1="586.00" x2="364.40" y2="586.00" stroke="#333" stroke-width="0.6" />
<text x="360.40" y="593.50" font-size="3.3" text-anchor="middle" fill="#6a6a6a">0</text>
<line x1="363.40" y1="592.30" x2="364.40" y2="592.30" stroke="#333" stroke-width="0.6" />
<text x="357.44" y="598.60" font-size="3.3" fill="#6a6a6a">-10</text>
<text x="362.21" y="597.30" font-size="2.05" fill="#6a6a6a">3</text>
<line x1="363.40" y1="597.40" x2="364.40" y2="597.40" stroke="#333" stroke-width="0.6" />
<text x="373.90" y="607.60" font-size="3.3" text-anchor="middle" fill="#6a6a6a">0</text>
<line x1="373.90" y1="602.80" x2="373.90" y2="603.80" stroke="#333" stroke-width="0.6" />
<text x="388.19" y="607.60" font-size="3.3" fill="#6a6a6a">10</text>
<text x="391.86" y="606.30" font-size="2.05" fill="#6a6a6a">3</text>
<line x1="390.60" y1="602.80" x2="390.60" y2="603.80" stroke="#333" stroke-width="0.6" />
<text x="398.19" y="607.60" font-size="3.3" fill="#6a6a6a">10</text>
<text x="401.86" y="606.30" font-size="2.05" fill="#6a6a6a">4</text>
<line x1="400.60" y1="602.80" x2="400.60" y2="603.80" stroke="#333" stroke-width="0.6" />
<text stroke="#1e1e1e" stroke-width="0.14" x="417.10" y="552.90" font-size="6.6" textLength="41.30" lengthAdjust="spacingAndGlyphs" >PAX5 R38H #4</text>
<line x1="417.70" y1="556.10" x2="457.60" y2="556.10" stroke="#555" stroke-width="1.4" />
<rect x="417.10" y="560.50" width="41.30" height="43.30" fill="none" stroke="#404040" stroke-width="0.8" />
<rect x="426.80" y="603.40" width="1.60" height="1.30" fill="#111" />
<rect x="415.90" y="591.50" width="1.30" height="1.60" fill="#111" />
<text x="411.69" y="564.90" font-size="3.3" fill="#6a6a6a">10</text>
<text x="415.36" y="563.60" font-size="2.05" fill="#6a6a6a">5</text>
<line x1="417.10" y1="563.70" x2="418.10" y2="563.70" stroke="#333" stroke-width="0.6" />
<text x="411.69" y="575.70" font-size="3.3" fill="#6a6a6a">10</text>
<text x="415.36" y="574.40" font-size="2.05" fill="#6a6a6a">4</text>
<line x1="417.10" y1="574.50" x2="418.10" y2="574.50" stroke="#333" stroke-width="0.6" />
<text x="411.69" y="587.20" font-size="3.3" fill="#6a6a6a">10</text>
<text x="415.36" y="585.90" font-size="2.05" fill="#6a6a6a">3</text>
<line x1="417.10" y1="586.00" x2="418.10" y2="586.00" stroke="#333" stroke-width="0.6" />
<text x="414.10" y="593.50" font-size="3.3" text-anchor="middle" fill="#6a6a6a">0</text>
<line x1="417.10" y1="592.30" x2="418.10" y2="592.30" stroke="#333" stroke-width="0.6" />
<text x="411.14" y="598.60" font-size="3.3" fill="#6a6a6a">-10</text>
<text x="415.91" y="597.30" font-size="2.05" fill="#6a6a6a">3</text>
<line x1="417.10" y1="597.40" x2="418.10" y2="597.40" stroke="#333" stroke-width="0.6" />
<text x="427.60" y="607.60" font-size="3.3" text-anchor="middle" fill="#6a6a6a">0</text>
<line x1="427.60" y1="602.80" x2="427.60" y2="603.80" stroke="#333" stroke-width="0.6" />
<text x="441.89" y="607.60" font-size="3.3" fill="#6a6a6a">10</text>
<text x="445.56" y="606.30" font-size="2.05" fill="#6a6a6a">3</text>
<line x1="444.30" y1="602.80" x2="444.30" y2="603.80" stroke="#333" stroke-width="0.6" />
<text x="451.89" y="607.60" font-size="3.3" fill="#6a6a6a">10</text>
<text x="455.56" y="606.30" font-size="2.05" fill="#6a6a6a">4</text>
<line x1="454.30" y1="602.80" x2="454.30" y2="603.80" stroke="#333" stroke-width="0.6" />
<text stroke="#1e1e1e" stroke-width="0.14" x="471.30" y="552.90" font-size="6.6" textLength="41.60" lengthAdjust="spacingAndGlyphs" >PAX5 R38H #4</text>
<line x1="471.50" y1="556.10" x2="512.10" y2="556.10" stroke="#555" stroke-width="1.4" />
<rect x="470.90" y="560.50" width="42.00" height="43.30" fill="none" stroke="#404040" stroke-width="0.8" />
<rect x="480.60" y="603.40" width="1.60" height="1.30" fill="#111" />
<rect x="469.70" y="591.50" width="1.30" height="1.60" fill="#111" />
<text x="465.49" y="564.90" font-size="3.3" fill="#6a6a6a">10</text>
<text x="469.16" y="563.60" font-size="2.05" fill="#6a6a6a">5</text>
<line x1="470.90" y1="563.70" x2="471.90" y2="563.70" stroke="#333" stroke-width="0.6" />
<text x="465.49" y="575.70" font-size="3.3" fill="#6a6a6a">10</text>
<text x="469.16" y="574.40" font-size="2.05" fill="#6a6a6a">4</text>
<line x1="470.90" y1="574.50" x2="471.90" y2="574.50" stroke="#333" stroke-width="0.6" />
<text x="465.49" y="587.20" font-size="3.3" fill="#6a6a6a">10</text>
<text x="469.16" y="585.90" font-size="2.05" fill="#6a6a6a">3</text>
<line x1="470.90" y1="586.00" x2="471.90" y2="586.00" stroke="#333" stroke-width="0.6" />
<text x="467.90" y="593.50" font-size="3.3" text-anchor="middle" fill="#6a6a6a">0</text>
<line x1="470.90" y1="592.30" x2="471.90" y2="592.30" stroke="#333" stroke-width="0.6" />
<text x="464.94" y="598.60" font-size="3.3" fill="#6a6a6a">-10</text>
<text x="469.71" y="597.30" font-size="2.05" fill="#6a6a6a">3</text>
<line x1="470.90" y1="597.40" x2="471.90" y2="597.40" stroke="#333" stroke-width="0.6" />
<text x="481.40" y="607.60" font-size="3.3" text-anchor="middle" fill="#6a6a6a">0</text>
<line x1="481.40" y1="602.80" x2="481.40" y2="603.80" stroke="#333" stroke-width="0.6" />
<text x="495.69" y="607.60" font-size="3.3" fill="#6a6a6a">10</text>
<text x="499.36" y="606.30" font-size="2.05" fill="#6a6a6a">3</text>
<line x1="498.10" y1="602.80" x2="498.10" y2="603.80" stroke="#333" stroke-width="0.6" />
<text x="505.69" y="607.60" font-size="3.3" fill="#6a6a6a">10</text>
<text x="509.36" y="606.30" font-size="2.05" fill="#6a6a6a">4</text>
<line x1="508.10" y1="602.80" x2="508.10" y2="603.80" stroke="#333" stroke-width="0.6" />
<g fill="#3a2e96" opacity="0.55"><circle cx="333.43" cy="587.72" r="0.38"/><circle cx="337.90" cy="583.41" r="0.38"/><circle cx="335.14" cy="594.43" r="0.38"/><circle cx="334.37" cy="587.91" r="0.38"/><circle cx="334.92" cy="590.00" r="0.38"/><circle cx="338.96" cy="593.64" r="0.38"/><circle cx="340.36" cy="582.77" r="0.38"/><circle cx="335.32" cy="584.10" r="0.38"/><circle cx="335.57" cy="588.63" r="0.38"/><circle cx="336.69" cy="583.34" r="0.38"/><circle cx="334.96" cy="601.07" r="0.38"/><circle cx="332.82" cy="599.20" r="0.38"/><circle cx="333.50" cy="581.79" r="0.38"/><circle cx="335.78" cy="585.24" r="0.38"/><circle cx="336.50" cy="583.74" r="0.38"/><circle cx="335.76" cy="588.95" r="0.38"/><circle cx="339.50" cy="589.22" r="0.38"/><circle cx="339.75" cy="587.94" r="0.38"/><circle cx="342.94" cy="572.93" r="0.38"/><circle cx="335.82" cy="588.61" r="0.38"/><circle cx="336.42" cy="588.99" r="0.38"/><circle cx="337.79" cy="594.32" r="0.38"/><circle cx="336.48" cy="586.65" r="0.38"/><circle cx="334.07" cy="587.91" r="0.38"/><circle cx="335.79" cy="589.11" r="0.38"/><circle cx="335.98" cy="588.94" r="0.38"/><circle cx="335.42" cy="580.84" r="0.38"/><circle cx="335.02" cy="583.80" r="0.38"/><circle cx="339.59" cy="586.21" r="0.38"/><circle cx="337.77" cy="592.13" r="0.38"/><circle cx="338.40" cy="585.97" r="0.38"/><circle cx="337.57" cy="575.75" r="0.38"/><circle cx="338.87" cy="583.01" r="0.38"/><circle cx="331.60" cy="590.62" r="0.38"/><circle cx="335.75" cy="578.71" r="0.38"/><circle cx="338.67" cy="593.66" r="0.38"/><circle cx="336.85" cy="583.82" r="0.38"/><circle cx="338.42" cy="596.75" r="0.38"/><circle cx="334.38" cy="585.37" r="0.38"/><circle cx="334.85" cy="587.84" r="0.38"/><circle cx="337.02" cy="589.87" r="0.38"/><circle cx="335.71" cy="589.13" r="0.38"/><circle cx="342.58" cy="579.96" r="0.38"/><circle cx="335.98" cy="586.32" r="0.38"/><circle cx="335.67" cy="585.81" r="0.38"/><circle cx="335.99" cy="589.39" r="0.38"/><circle cx="335.89" cy="587.53" r="0.38"/><circle cx="336.62" cy="591.08" r="0.38"/><circle cx="330.68" cy="589.94" r="0.38"/><circle cx="332.70" cy="583.35" r="0.38"/><circle cx="336.47" cy="581.42" r="0.38"/><circle cx="337.88" cy="588.22" r="0.38"/><circle cx="339.24" cy="592.01" r="0.38"/><circle cx="333.55" cy="597.27" r="0.38"/><circle cx="337.46" cy="590.02" r="0.38"/><circle cx="334.58" cy="582.21" r="0.38"/><circle cx="339.43" cy="589.00" r="0.38"/><circle cx="332.11" cy="590.69" r="0.38"/><circle cx="338.03" cy="577.50" r="0.38"/><circle cx="330.56" cy="584.87" r="0.38"/><circle cx="334.73" cy="588.27" r="0.38"/><circle cx="340.37" cy="594.77" r="0.38"/><circle cx="334.73" cy="581.89" r="0.38"/><circle cx="340.92" cy="586.53" r="0.38"/><circle cx="335.41" cy="594.66" r="0.38"/><circle cx="338.57" cy="586.09" r="0.38"/><circle cx="339.72" cy="585.70" r="0.38"/><circle cx="339.52" cy="591.39" r="0.38"/><circle cx="337.63" cy="581.80" r="0.38"/><circle cx="336.42" cy="595.98" r="0.38"/><circle cx="340.35" cy="591.95" r="0.38"/><circle cx="334.51" cy="592.76" r="0.38"/><circle cx="334.73" cy="587.33" r="0.38"/><circle cx="338.43" cy="596.41" r="0.38"/><circle cx="334.80" cy="588.59" r="0.38"/><circle cx="333.00" cy="582.82" r="0.38"/><circle cx="339.63" cy="590.43" r="0.38"/><circle cx="339.76" cy="594.49" r="0.38"/><circle cx="342.08" cy="590.16" r="0.38"/><circle cx="333.86" cy="585.29" r="0.38"/><circle cx="334.80" cy="586.57" r="0.38"/><circle cx="335.37" cy="588.40" r="0.38"/><circle cx="334.66" cy="592.78" r="0.38"/><circle cx="335.10" cy="584.65" r="0.38"/><circle cx="333.34" cy="581.66" r="0.38"/><circle cx="337.04" cy="587.10" r="0.38"/><circle cx="335.29" cy="587.49" r="0.38"/><circle cx="338.56" cy="581.51" r="0.38"/><circle cx="333.42" cy="589.97" r="0.38"/><circle cx="335.10" cy="587.27" r="0.38"/><circle cx="337.82" cy="586.62" r="0.38"/><circle cx="339.28" cy="588.42" r="0.38"/><circle cx="338.70" cy="591.27" r="0.38"/><circle cx="334.92" cy="584.19" r="0.38"/><circle cx="339.45" cy="586.66" r="0.38"/><circle cx="344.29" cy="582.32" r="0.38"/><circle cx="332.16" cy="584.80" r="0.38"/><circle cx="342.79" cy="592.84" r="0.38"/><circle cx="334.63" cy="589.13" r="0.38"/><circle cx="339.50" cy="585.10" r="0.38"/><circle cx="337.56" cy="588.12" r="0.38"/><circle cx="337.53" cy="584.50" r="0.38"/><circle cx="336.22" cy="585.89" r="0.38"/><circle cx="339.92" cy="575.38" r="0.38"/><circle cx="333.63" cy="594.07" r="0.38"/><circle cx="338.64" cy="585.32" r="0.38"/><circle cx="327.25" cy="590.39" r="0.38"/><circle cx="340.44" cy="585.60" r="0.38"/><circle cx="336.45" cy="587.19" r="0.38"/><circle cx="340.28" cy="576.91" r="0.38"/><circle cx="335.13" cy="586.07" r="0.38"/><circle cx="339.79" cy="592.56" r="0.38"/><circle cx="335.71" cy="581.16" r="0.38"/><circle cx="337.40" cy="586.37" r="0.38"/><circle cx="338.30" cy="587.59" r="0.38"/><circle cx="336.67" cy="588.98" r="0.38"/><circle cx="337.10" cy="590.90" r="0.38"/><circle cx="338.32" cy="581.85" r="0.38"/><circle cx="338.03" cy="593.15" r="0.38"/><circle cx="341.67" cy="599.78" r="0.38"/><circle cx="338.74" cy="589.49" r="0.38"/><circle cx="331.67" cy="582.85" r="0.38"/><circle cx="336.15" cy="585.25" r="0.38"/><circle cx="333.44" cy="582.32" r="0.38"/><circle cx="340.64" cy="584.58" r="0.38"/><circle cx="337.00" cy="596.88" r="0.38"/><circle cx="335.14" cy="577.49" r="0.38"/><circle cx="338.61" cy="596.58" r="0.38"/><circle cx="335.03" cy="587.94" r="0.38"/><circle cx="336.97" cy="589.79" r="0.38"/><circle cx="338.24" cy="585.83" r="0.38"/><circle cx="335.57" cy="584.67" r="0.38"/><circle cx="337.00" cy="592.16" r="0.38"/><circle cx="337.59" cy="585.98" r="0.38"/><circle cx="335.08" cy="590.33" r="0.38"/><circle cx="333.10" cy="588.13" r="0.38"/><circle cx="339.64" cy="582.18" r="0.38"/><circle cx="340.48" cy="579.24" r="0.38"/><circle cx="337.25" cy="586.46" r="0.38"/><circle cx="340.14" cy="589.88" r="0.38"/><circle cx="337.87" cy="591.98" r="0.38"/><circle cx="333.61" cy="586.36" r="0.38"/><circle cx="337.50" cy="578.94" r="0.38"/><circle cx="337.73" cy="593.89" r="0.38"/><circle cx="334.01" cy="588.43" r="0.38"/><circle cx="336.33" cy="579.67" r="0.38"/><circle cx="336.27" cy="582.76" r="0.38"/><circle cx="340.21" cy="590.83" r="0.38"/><circle cx="336.94" cy="591.81" r="0.38"/><circle cx="337.90" cy="588.67" r="0.38"/><circle cx="330.31" cy="591.89" r="0.38"/><circle cx="335.39" cy="584.98" r="0.38"/><circle cx="338.76" cy="586.50" r="0.38"/><circle cx="336.51" cy="585.78" r="0.38"/><circle cx="342.93" cy="584.55" r="0.38"/><circle cx="338.42" cy="583.32" r="0.38"/><circle cx="333.87" cy="589.23" r="0.38"/><circle cx="340.27" cy="584.42" r="0.38"/><circle cx="337.08" cy="598.39" r="0.38"/><circle cx="333.01" cy="591.32" r="0.38"/><circle cx="341.51" cy="584.46" r="0.38"/><circle cx="340.67" cy="594.01" r="0.38"/><circle cx="327.84" cy="592.65" r="0.38"/><circle cx="335.75" cy="589.69" r="0.38"/><circle cx="344.09" cy="599.04" r="0.38"/><circle cx="336.58" cy="587.85" r="0.38"/><circle cx="329.92" cy="587.39" r="0.38"/><circle cx="338.55" cy="598.62" r="0.38"/><circle cx="338.89" cy="587.43" r="0.38"/><circle cx="337.41" cy="590.20" r="0.38"/></g>
<ellipse cx="336.50" cy="587.50" rx="4.20" ry="6.50" transform="rotate(0 336.50 587.50)" fill="#5a4cb0" opacity="0.3" filter="url(#bl70)"/>
<g filter="url(#bl45)"><rect x="318.6" y="576.6" width="16.0" height="18.0" rx="3.2" fill="#3b2d95"/><rect x="319.8" y="577.8" width="13.4" height="15.8" rx="2.8" fill="#2f42bc"/><path d="M321.0,579.2 Q327.0,577.8 332.0,579.2 Q330.8,586.0 331.8,592.0 Q327.0,593.0 321.4,592.0 Q322.4,586.0 321.0,579.2 Z" fill="#28a8d8"/><path d="M322.4,580.0 Q327.0,579.0 330.8,580.0 Q329.6,586.0 330.4,591.2 Q327.0,592.0 322.8,591.2 Q323.8,586.0 322.4,580.0 Z" fill="#3cc49c"/><path d="M324.0,581.0 Q327.0,580.2 329.8,581.0 Q328.6,586.0 329.2,590.4 Q327.0,591.0 324.4,590.4 Q325.2,586.0 324.0,581.0 Z" fill="#88cc3a"/><ellipse cx="327.2" cy="581.9" rx="3.6" ry="2.0" fill="#e6d322"/><ellipse cx="327.3" cy="581.7" rx="2.4" ry="1.3" fill="#f08a1c"/><ellipse cx="327.3" cy="581.6" rx="1.5" ry="0.85" fill="#e0281c"/></g>
<g fill="#3a2e96" opacity="0.55"><circle cx="388.22" cy="586.06" r="0.38"/><circle cx="388.90" cy="586.53" r="0.38"/><circle cx="377.67" cy="588.64" r="0.38"/><circle cx="383.06" cy="590.28" r="0.38"/><circle cx="391.38" cy="594.58" r="0.38"/><circle cx="388.44" cy="586.80" r="0.38"/><circle cx="389.24" cy="589.76" r="0.38"/><circle cx="379.14" cy="586.29" r="0.38"/><circle cx="383.06" cy="590.90" r="0.38"/><circle cx="387.48" cy="589.05" r="0.38"/><circle cx="390.42" cy="589.09" r="0.38"/><circle cx="380.88" cy="585.14" r="0.38"/><circle cx="389.15" cy="585.82" r="0.38"/><circle cx="383.55" cy="590.26" r="0.38"/><circle cx="389.23" cy="586.00" r="0.38"/><circle cx="384.94" cy="590.57" r="0.38"/><circle cx="384.80" cy="584.37" r="0.38"/><circle cx="389.02" cy="592.02" r="0.38"/><circle cx="381.31" cy="584.91" r="0.38"/><circle cx="389.02" cy="587.23" r="0.38"/><circle cx="389.06" cy="588.99" r="0.38"/><circle cx="395.96" cy="581.13" r="0.38"/><circle cx="388.19" cy="584.24" r="0.38"/><circle cx="378.19" cy="584.01" r="0.38"/><circle cx="383.77" cy="589.94" r="0.38"/><circle cx="385.18" cy="583.87" r="0.38"/><circle cx="382.26" cy="587.54" r="0.38"/><circle cx="388.15" cy="583.21" r="0.38"/><circle cx="386.59" cy="587.36" r="0.38"/><circle cx="384.76" cy="585.64" r="0.38"/><circle cx="384.62" cy="584.83" r="0.38"/><circle cx="382.40" cy="586.38" r="0.38"/><circle cx="384.80" cy="585.46" r="0.38"/><circle cx="381.08" cy="589.77" r="0.38"/><circle cx="385.26" cy="597.77" r="0.38"/><circle cx="396.48" cy="586.50" r="0.38"/><circle cx="394.66" cy="583.52" r="0.38"/><circle cx="379.12" cy="584.13" r="0.38"/><circle cx="384.77" cy="587.72" r="0.38"/><circle cx="394.01" cy="583.45" r="0.38"/><circle cx="385.81" cy="590.39" r="0.38"/><circle cx="386.62" cy="592.50" r="0.38"/><circle cx="389.58" cy="592.60" r="0.38"/><circle cx="389.95" cy="587.82" r="0.38"/><circle cx="386.93" cy="583.04" r="0.38"/><circle cx="386.64" cy="587.66" r="0.38"/><circle cx="385.33" cy="585.74" r="0.38"/><circle cx="384.92" cy="591.66" r="0.38"/><circle cx="385.60" cy="587.89" r="0.38"/><circle cx="387.78" cy="581.61" r="0.38"/><circle cx="384.60" cy="585.96" r="0.38"/><circle cx="375.73" cy="587.87" r="0.38"/><circle cx="382.94" cy="586.80" r="0.38"/><circle cx="389.41" cy="585.75" r="0.38"/><circle cx="383.63" cy="586.70" r="0.38"/><circle cx="389.92" cy="582.95" r="0.38"/><circle cx="381.42" cy="586.21" r="0.38"/><circle cx="383.62" cy="590.28" r="0.38"/><circle cx="385.21" cy="586.95" r="0.38"/><circle cx="384.45" cy="581.30" r="0.38"/><circle cx="388.12" cy="587.33" r="0.38"/><circle cx="385.15" cy="583.86" r="0.38"/><circle cx="389.91" cy="591.20" r="0.38"/><circle cx="389.72" cy="586.65" r="0.38"/><circle cx="381.76" cy="584.59" r="0.38"/><circle cx="380.95" cy="585.37" r="0.38"/><circle cx="392.82" cy="583.42" r="0.38"/><circle cx="390.65" cy="583.53" r="0.38"/><circle cx="386.49" cy="581.14" r="0.38"/><circle cx="385.68" cy="581.69" r="0.38"/><circle cx="386.08" cy="585.79" r="0.38"/><circle cx="388.82" cy="591.44" r="0.38"/><circle cx="383.44" cy="588.17" r="0.38"/><circle cx="384.37" cy="585.13" r="0.38"/><circle cx="386.15" cy="583.94" r="0.38"/><circle cx="389.01" cy="585.47" r="0.38"/><circle cx="389.48" cy="586.31" r="0.38"/><circle cx="386.44" cy="585.14" r="0.38"/><circle cx="382.24" cy="586.93" r="0.38"/><circle cx="390.08" cy="582.78" r="0.38"/><circle cx="384.23" cy="586.26" r="0.38"/><circle cx="383.08" cy="586.63" r="0.38"/><circle cx="391.01" cy="590.25" r="0.38"/><circle cx="371.24" cy="583.17" r="0.38"/><circle cx="386.66" cy="586.13" r="0.38"/><circle cx="390.61" cy="585.50" r="0.38"/><circle cx="389.43" cy="586.84" r="0.38"/><circle cx="379.96" cy="588.07" r="0.38"/><circle cx="385.86" cy="590.57" r="0.38"/><circle cx="384.12" cy="589.73" r="0.38"/><circle cx="381.44" cy="585.96" r="0.38"/><circle cx="388.24" cy="585.24" r="0.38"/><circle cx="386.18" cy="589.89" r="0.38"/><circle cx="389.57" cy="587.09" r="0.38"/><circle cx="384.97" cy="588.27" r="0.38"/><circle cx="384.30" cy="586.83" r="0.38"/><circle cx="388.65" cy="578.97" r="0.38"/><circle cx="383.92" cy="585.52" r="0.38"/><circle cx="386.82" cy="588.02" r="0.38"/><circle cx="389.15" cy="593.22" r="0.38"/><circle cx="386.75" cy="580.08" r="0.38"/><circle cx="382.59" cy="590.32" r="0.38"/><circle cx="384.69" cy="581.99" r="0.38"/><circle cx="385.40" cy="586.31" r="0.38"/><circle cx="391.25" cy="586.88" r="0.38"/><circle cx="385.29" cy="590.05" r="0.38"/><circle cx="386.66" cy="579.05" r="0.38"/><circle cx="388.71" cy="587.57" r="0.38"/><circle cx="391.48" cy="588.56" r="0.38"/><circle cx="381.59" cy="584.03" r="0.38"/><circle cx="387.53" cy="590.38" r="0.38"/><circle cx="388.58" cy="584.87" r="0.38"/><circle cx="386.83" cy="589.30" r="0.38"/><circle cx="386.91" cy="584.55" r="0.38"/><circle cx="384.54" cy="582.35" r="0.38"/><circle cx="386.61" cy="585.87" r="0.38"/><circle cx="382.88" cy="595.36" r="0.38"/><circle cx="384.30" cy="587.02" r="0.38"/><circle cx="387.95" cy="588.45" r="0.38"/><circle cx="384.11" cy="584.40" r="0.38"/><circle cx="388.56" cy="588.57" r="0.38"/><circle cx="387.96" cy="581.68" r="0.38"/><circle cx="382.88" cy="587.35" r="0.38"/><circle cx="387.59" cy="587.97" r="0.38"/><circle cx="390.08" cy="583.76" r="0.38"/><circle cx="392.96" cy="587.42" r="0.38"/><circle cx="389.78" cy="585.80" r="0.38"/><circle cx="388.78" cy="585.04" r="0.38"/><circle cx="383.67" cy="589.96" r="0.38"/><circle cx="382.11" cy="586.74" r="0.38"/><circle cx="386.14" cy="588.45" r="0.38"/><circle cx="384.50" cy="591.34" r="0.38"/><circle cx="390.12" cy="582.92" r="0.38"/><circle cx="381.92" cy="586.77" r="0.38"/><circle cx="389.33" cy="591.53" r="0.38"/><circle cx="387.05" cy="583.87" r="0.38"/><circle cx="386.02" cy="580.28" r="0.38"/><circle cx="385.73" cy="587.31" r="0.38"/><circle cx="388.42" cy="583.38" r="0.38"/><circle cx="390.87" cy="589.17" r="0.38"/><circle cx="382.16" cy="583.46" r="0.38"/><circle cx="383.05" cy="583.44" r="0.38"/><circle cx="394.17" cy="588.94" r="0.38"/><circle cx="381.73" cy="581.13" r="0.38"/><circle cx="379.99" cy="586.45" r="0.38"/><circle cx="379.45" cy="587.97" r="0.38"/><circle cx="389.00" cy="588.67" r="0.38"/><circle cx="386.53" cy="583.76" r="0.38"/><circle cx="382.32" cy="586.47" r="0.38"/><circle cx="386.27" cy="585.26" r="0.38"/></g>
<g fill="#5448b0" opacity="0.5"><circle cx="387.15" cy="590.58" r="0.33"/><circle cx="379.76" cy="590.23" r="0.33"/><circle cx="373.50" cy="587.02" r="0.33"/><circle cx="382.34" cy="586.78" r="0.33"/><circle cx="376.54" cy="587.80" r="0.33"/><circle cx="375.92" cy="589.07" r="0.33"/><circle cx="380.21" cy="586.03" r="0.33"/><circle cx="373.86" cy="583.66" r="0.33"/><circle cx="379.40" cy="583.02" r="0.33"/><circle cx="381.69" cy="591.42" r="0.33"/><circle cx="387.10" cy="586.55" r="0.33"/><circle cx="387.57" cy="580.63" r="0.33"/><circle cx="378.55" cy="581.11" r="0.33"/><circle cx="384.35" cy="584.99" r="0.33"/><circle cx="376.10" cy="588.22" r="0.33"/><circle cx="370.25" cy="582.61" r="0.33"/><circle cx="373.61" cy="591.76" r="0.33"/><circle cx="379.07" cy="590.92" r="0.33"/><circle cx="381.78" cy="595.53" r="0.33"/><circle cx="377.66" cy="582.66" r="0.33"/><circle cx="382.71" cy="581.09" r="0.33"/><circle cx="378.32" cy="586.19" r="0.33"/><circle cx="381.55" cy="574.80" r="0.33"/><circle cx="381.79" cy="587.69" r="0.33"/><circle cx="375.07" cy="581.08" r="0.33"/><circle cx="383.12" cy="582.57" r="0.33"/><circle cx="370.60" cy="588.00" r="0.33"/><circle cx="372.68" cy="587.13" r="0.33"/><circle cx="379.02" cy="595.27" r="0.33"/><circle cx="375.85" cy="584.13" r="0.33"/><circle cx="372.98" cy="591.75" r="0.33"/><circle cx="382.12" cy="581.61" r="0.33"/><circle cx="376.59" cy="587.87" r="0.33"/><circle cx="380.40" cy="582.28" r="0.33"/><circle cx="389.68" cy="586.63" r="0.33"/><circle cx="381.50" cy="592.94" r="0.33"/><circle cx="370.34" cy="583.14" r="0.33"/><circle cx="380.99" cy="584.44" r="0.33"/><circle cx="378.49" cy="584.11" r="0.33"/><circle cx="371.75" cy="581.47" r="0.33"/><circle cx="378.70" cy="592.58" r="0.33"/><circle cx="373.27" cy="591.37" r="0.33"/><circle cx="380.38" cy="586.57" r="0.33"/><circle cx="377.72" cy="579.69" r="0.33"/><circle cx="381.66" cy="591.97" r="0.33"/><circle cx="385.26" cy="581.98" r="0.33"/><circle cx="380.93" cy="591.52" r="0.33"/><circle cx="384.42" cy="592.14" r="0.33"/><circle cx="368.27" cy="586.76" r="0.33"/><circle cx="370.71" cy="591.65" r="0.33"/><circle cx="389.23" cy="588.32" r="0.33"/><circle cx="382.89" cy="596.89" r="0.33"/><circle cx="374.07" cy="581.22" r="0.33"/><circle cx="376.52" cy="592.69" r="0.33"/><circle cx="376.94" cy="596.71" r="0.33"/><circle cx="383.62" cy="587.31" r="0.33"/><circle cx="374.30" cy="589.33" r="0.33"/><circle cx="380.91" cy="597.71" r="0.33"/><circle cx="384.76" cy="586.72" r="0.33"/><circle cx="380.71" cy="590.93" r="0.33"/><circle cx="377.18" cy="590.87" r="0.33"/><circle cx="373.71" cy="593.15" r="0.33"/><circle cx="376.20" cy="592.76" r="0.33"/><circle cx="382.62" cy="581.68" r="0.33"/><circle cx="380.52" cy="580.88" r="0.33"/><circle cx="386.85" cy="582.79" r="0.33"/><circle cx="375.30" cy="589.00" r="0.33"/><circle cx="377.45" cy="579.60" r="0.33"/><circle cx="375.26" cy="590.47" r="0.33"/><circle cx="372.31" cy="588.13" r="0.33"/><circle cx="373.40" cy="579.68" r="0.33"/><circle cx="379.37" cy="580.29" r="0.33"/><circle cx="375.13" cy="591.02" r="0.33"/><circle cx="371.15" cy="595.94" r="0.33"/><circle cx="384.22" cy="599.21" r="0.33"/><circle cx="383.83" cy="586.92" r="0.33"/><circle cx="380.10" cy="589.52" r="0.33"/><circle cx="378.39" cy="587.19" r="0.33"/><circle cx="384.15" cy="585.66" r="0.33"/><circle cx="373.60" cy="589.18" r="0.33"/><circle cx="375.93" cy="582.55" r="0.33"/><circle cx="384.48" cy="585.64" r="0.33"/><circle cx="377.58" cy="589.54" r="0.33"/><circle cx="374.78" cy="591.85" r="0.33"/><circle cx="376.22" cy="589.76" r="0.33"/><circle cx="375.71" cy="587.49" r="0.33"/><circle cx="380.05" cy="582.42" r="0.33"/><circle cx="375.95" cy="595.65" r="0.33"/><circle cx="378.82" cy="592.42" r="0.33"/><circle cx="376.44" cy="577.79" r="0.33"/><circle cx="386.35" cy="592.28" r="0.33"/><circle cx="380.81" cy="589.62" r="0.33"/><circle cx="379.01" cy="582.07" r="0.33"/><circle cx="376.44" cy="586.16" r="0.33"/><circle cx="377.15" cy="589.79" r="0.33"/><circle cx="376.74" cy="580.90" r="0.33"/><circle cx="373.18" cy="590.42" r="0.33"/><circle cx="386.57" cy="587.52" r="0.33"/><circle cx="376.52" cy="591.52" r="0.33"/><circle cx="373.29" cy="585.13" r="0.33"/><circle cx="382.87" cy="586.21" r="0.33"/><circle cx="376.43" cy="588.04" r="0.33"/><circle cx="381.25" cy="592.99" r="0.33"/><circle cx="371.56" cy="581.35" r="0.33"/><circle cx="378.38" cy="585.39" r="0.33"/><circle cx="387.34" cy="588.72" r="0.33"/><circle cx="372.61" cy="585.60" r="0.33"/><circle cx="380.81" cy="589.66" r="0.33"/><circle cx="381.53" cy="593.16" r="0.33"/><circle cx="379.32" cy="595.92" r="0.33"/><circle cx="375.48" cy="583.79" r="0.33"/><circle cx="380.11" cy="586.32" r="0.33"/><circle cx="385.56" cy="583.99" r="0.33"/><circle cx="383.63" cy="586.39" r="0.33"/><circle cx="373.29" cy="588.89" r="0.33"/><circle cx="379.10" cy="587.41" r="0.33"/><circle cx="381.51" cy="592.73" r="0.33"/><circle cx="379.62" cy="581.06" r="0.33"/><circle cx="380.53" cy="590.12" r="0.33"/><circle cx="377.73" cy="591.85" r="0.33"/></g>
<ellipse cx="384.00" cy="587.00" rx="7.00" ry="5.00" transform="rotate(0 384.00 587.00)" fill="#5a4cb0" opacity="0.3" filter="url(#bl70)"/>
<g filter="url(#bl45)"><rect x="372.8" y="577.6" width="13.6" height="16.6" rx="3.4" fill="#3b2d95" opacity="0.6"/><rect x="374.0" y="578.8" width="11.2" height="14.2" rx="3.0" fill="#2f42bc" opacity="0.45"/></g>
<g filter="url(#bl45)" opacity="1.0"><ellipse cx="379.50" cy="582.30" rx="5.60" ry="3.20" transform="rotate(0 379.50 582.30)" fill="#2a6ed4"/><ellipse cx="379.50" cy="582.30" rx="4.48" ry="2.56" transform="rotate(0 379.50 582.30)" fill="#28a8d8"/><ellipse cx="379.50" cy="582.30" rx="3.47" ry="1.98" transform="rotate(0 379.50 582.30)" fill="#3cc49c"/><ellipse cx="379.50" cy="582.30" rx="2.58" ry="1.47" transform="rotate(0 379.50 582.30)" fill="#88cc3a"/><ellipse cx="379.50" cy="582.30" rx="1.79" ry="1.02" transform="rotate(0 379.50 582.30)" fill="#e6d322"/><ellipse cx="379.50" cy="582.30" rx="1.12" ry="0.64" transform="rotate(0 379.50 582.30)" fill="#f08a1c"/></g>
<g filter="url(#bl45)" opacity="1.0"><ellipse cx="378.60" cy="590.60" rx="5.00" ry="2.50" transform="rotate(0 378.60 590.60)" fill="#2a6ed4"/><ellipse cx="378.60" cy="590.60" rx="3.75" ry="1.88" transform="rotate(0 378.60 590.60)" fill="#28a8d8"/><ellipse cx="378.60" cy="590.60" rx="2.50" ry="1.25" transform="rotate(0 378.60 590.60)" fill="#3cc49c"/><ellipse cx="378.60" cy="590.60" rx="1.50" ry="0.75" transform="rotate(0 378.60 590.60)" fill="#88cc3a"/></g>
<g fill="#3a2e96" opacity="0.5"><circle cx="429.47" cy="583.79" r="0.38"/><circle cx="437.36" cy="581.26" r="0.38"/><circle cx="439.40" cy="585.42" r="0.38"/><circle cx="435.69" cy="583.86" r="0.38"/><circle cx="438.66" cy="584.76" r="0.38"/><circle cx="436.40" cy="579.78" r="0.38"/><circle cx="434.50" cy="588.33" r="0.38"/><circle cx="435.78" cy="581.20" r="0.38"/><circle cx="432.00" cy="587.14" r="0.38"/><circle cx="442.79" cy="581.95" r="0.38"/><circle cx="438.10" cy="579.89" r="0.38"/><circle cx="433.86" cy="586.82" r="0.38"/><circle cx="427.23" cy="584.75" r="0.38"/><circle cx="429.95" cy="583.15" r="0.38"/><circle cx="433.97" cy="582.55" r="0.38"/><circle cx="430.81" cy="585.10" r="0.38"/><circle cx="435.20" cy="582.71" r="0.38"/><circle cx="423.49" cy="579.85" r="0.38"/><circle cx="425.12" cy="578.86" r="0.38"/><circle cx="429.20" cy="584.85" r="0.38"/><circle cx="430.04" cy="584.95" r="0.38"/><circle cx="431.98" cy="583.90" r="0.38"/><circle cx="440.29" cy="582.58" r="0.38"/><circle cx="430.59" cy="579.89" r="0.38"/><circle cx="433.98" cy="584.91" r="0.38"/><circle cx="441.21" cy="581.94" r="0.38"/><circle cx="425.86" cy="584.27" r="0.38"/><circle cx="434.28" cy="582.79" r="0.38"/><circle cx="429.96" cy="585.12" r="0.38"/><circle cx="429.97" cy="585.93" r="0.38"/><circle cx="432.37" cy="584.37" r="0.38"/><circle cx="436.22" cy="580.85" r="0.38"/><circle cx="433.76" cy="581.59" r="0.38"/><circle cx="431.15" cy="586.06" r="0.38"/><circle cx="437.53" cy="583.66" r="0.38"/><circle cx="434.95" cy="585.54" r="0.38"/><circle cx="430.91" cy="587.69" r="0.38"/><circle cx="429.58" cy="582.89" r="0.38"/><circle cx="428.66" cy="581.30" r="0.38"/><circle cx="434.35" cy="587.78" r="0.38"/><circle cx="432.37" cy="582.78" r="0.38"/><circle cx="428.62" cy="582.28" r="0.38"/><circle cx="443.25" cy="586.85" r="0.38"/><circle cx="422.68" cy="576.94" r="0.38"/><circle cx="428.23" cy="583.44" r="0.38"/><circle cx="436.67" cy="586.45" r="0.38"/><circle cx="430.18" cy="583.19" r="0.38"/><circle cx="436.21" cy="579.84" r="0.38"/><circle cx="443.78" cy="587.02" r="0.38"/><circle cx="424.09" cy="586.12" r="0.38"/><circle cx="431.75" cy="583.49" r="0.38"/><circle cx="428.61" cy="582.13" r="0.38"/><circle cx="434.02" cy="579.79" r="0.38"/><circle cx="429.82" cy="585.10" r="0.38"/><circle cx="425.76" cy="583.51" r="0.38"/><circle cx="434.45" cy="580.33" r="0.38"/><circle cx="433.48" cy="583.36" r="0.38"/><circle cx="430.34" cy="581.79" r="0.38"/><circle cx="435.80" cy="580.63" r="0.38"/><circle cx="434.74" cy="582.71" r="0.38"/><circle cx="434.15" cy="581.79" r="0.38"/><circle cx="433.17" cy="585.87" r="0.38"/><circle cx="432.05" cy="585.99" r="0.38"/><circle cx="426.76" cy="582.87" r="0.38"/><circle cx="439.06" cy="583.73" r="0.38"/><circle cx="428.41" cy="585.66" r="0.38"/><circle cx="430.41" cy="587.90" r="0.38"/><circle cx="433.41" cy="584.15" r="0.38"/><circle cx="431.95" cy="579.08" r="0.38"/><circle cx="434.65" cy="585.34" r="0.38"/><circle cx="430.41" cy="583.96" r="0.38"/><circle cx="428.57" cy="581.97" r="0.38"/><circle cx="426.24" cy="580.73" r="0.38"/><circle cx="434.41" cy="585.03" r="0.38"/><circle cx="429.94" cy="579.74" r="0.38"/><circle cx="432.30" cy="580.80" r="0.38"/><circle cx="433.29" cy="583.85" r="0.38"/><circle cx="431.78" cy="585.01" r="0.38"/><circle cx="432.77" cy="580.45" r="0.38"/><circle cx="433.45" cy="581.64" r="0.38"/><circle cx="431.87" cy="585.87" r="0.38"/><circle cx="433.56" cy="586.17" r="0.38"/><circle cx="437.89" cy="582.45" r="0.38"/><circle cx="434.82" cy="586.58" r="0.38"/><circle cx="424.67" cy="582.14" r="0.38"/><circle cx="439.41" cy="585.20" r="0.38"/><circle cx="429.94" cy="581.64" r="0.38"/><circle cx="431.65" cy="583.91" r="0.38"/><circle cx="436.38" cy="581.95" r="0.38"/><circle cx="427.28" cy="584.92" r="0.38"/><circle cx="432.72" cy="579.18" r="0.38"/><circle cx="427.58" cy="585.20" r="0.38"/><circle cx="429.13" cy="582.53" r="0.38"/><circle cx="434.23" cy="581.62" r="0.38"/><circle cx="435.50" cy="585.73" r="0.38"/><circle cx="430.82" cy="583.07" r="0.38"/><circle cx="432.53" cy="576.13" r="0.38"/><circle cx="427.60" cy="581.45" r="0.38"/><circle cx="432.50" cy="584.36" r="0.38"/><circle cx="429.17" cy="586.78" r="0.38"/><circle cx="435.76" cy="580.93" r="0.38"/><circle cx="430.79" cy="585.13" r="0.38"/><circle cx="429.56" cy="582.40" r="0.38"/><circle cx="424.60" cy="582.62" r="0.38"/><circle cx="436.45" cy="586.58" r="0.38"/><circle cx="432.36" cy="584.83" r="0.38"/><circle cx="427.41" cy="584.85" r="0.38"/><circle cx="429.08" cy="584.38" r="0.38"/><circle cx="429.30" cy="580.65" r="0.38"/><circle cx="438.67" cy="576.30" r="0.38"/><circle cx="438.75" cy="581.00" r="0.38"/><circle cx="435.66" cy="585.46" r="0.38"/><circle cx="431.54" cy="586.33" r="0.38"/><circle cx="441.39" cy="587.02" r="0.38"/><circle cx="432.92" cy="585.20" r="0.38"/><circle cx="436.51" cy="581.07" r="0.38"/><circle cx="435.13" cy="583.31" r="0.38"/><circle cx="432.63" cy="582.76" r="0.38"/><circle cx="432.53" cy="581.67" r="0.38"/><circle cx="437.70" cy="584.63" r="0.38"/></g>
<ellipse cx="431.00" cy="583.50" rx="8.50" ry="5.00" transform="rotate(0 431.00 583.50)" fill="#5a4cb0" opacity="0.3" filter="url(#bl70)"/>
<path d="M422.6,577.2 Q426.8,575.2 429.6,578.0 Q434.0,581.2 437.6,583.0 Q433.8,585.2 429.4,587.8 Q427.8,594.4 424.4,594.0 Q421.4,586.0 422.6,577.2 Z" fill="#3b2d95" stroke="#3b2d95" stroke-width="0.6" filter="url(#bl45)"/>
<g filter="url(#bl45)" opacity="1.0"><ellipse cx="426.60" cy="582.80" rx="4.00" ry="4.70" transform="rotate(0 426.60 582.80)" fill="#2f42bc"/><ellipse cx="426.60" cy="582.80" rx="3.44" ry="4.04" transform="rotate(0 426.60 582.80)" fill="#2a6ed4"/><ellipse cx="426.60" cy="582.80" rx="2.88" ry="3.38" transform="rotate(0 426.60 582.80)" fill="#28a8d8"/><ellipse cx="426.60" cy="582.80" rx="2.32" ry="2.73" transform="rotate(0 426.60 582.80)" fill="#3cc49c"/><ellipse cx="426.60" cy="582.80" rx="1.84" ry="2.16" transform="rotate(0 426.60 582.80)" fill="#88cc3a"/><ellipse cx="426.60" cy="582.80" rx="1.40" ry="1.65" transform="rotate(0 426.60 582.80)" fill="#e6d322"/><ellipse cx="426.60" cy="582.80" rx="0.96" ry="1.13" transform="rotate(0 426.60 582.80)" fill="#f08a1c"/><ellipse cx="426.60" cy="582.80" rx="0.56" ry="0.66" transform="rotate(0 426.60 582.80)" fill="#e0281c"/></g>
<g fill="#5448b0" opacity="0.45"><circle cx="479.03" cy="583.59" r="0.33"/><circle cx="476.75" cy="586.57" r="0.33"/><circle cx="500.73" cy="583.88" r="0.33"/><circle cx="483.43" cy="578.15" r="0.33"/><circle cx="487.10" cy="581.23" r="0.33"/><circle cx="489.07" cy="579.31" r="0.33"/><circle cx="491.97" cy="587.45" r="0.33"/><circle cx="478.57" cy="584.65" r="0.33"/><circle cx="492.52" cy="585.12" r="0.33"/><circle cx="487.81" cy="583.03" r="0.33"/><circle cx="487.21" cy="583.53" r="0.33"/><circle cx="483.02" cy="581.96" r="0.33"/><circle cx="489.02" cy="587.86" r="0.33"/><circle cx="486.62" cy="580.21" r="0.33"/><circle cx="487.86" cy="587.49" r="0.33"/><circle cx="481.51" cy="582.19" r="0.33"/><circle cx="484.33" cy="585.50" r="0.33"/><circle cx="482.87" cy="583.15" r="0.33"/><circle cx="491.60" cy="583.03" r="0.33"/><circle cx="486.39" cy="583.93" r="0.33"/><circle cx="484.56" cy="587.11" r="0.33"/><circle cx="486.59" cy="582.40" r="0.33"/><circle cx="487.47" cy="580.77" r="0.33"/><circle cx="492.51" cy="578.43" r="0.33"/><circle cx="483.84" cy="586.83" r="0.33"/><circle cx="482.66" cy="582.13" r="0.33"/><circle cx="493.10" cy="582.04" r="0.33"/><circle cx="488.69" cy="582.50" r="0.33"/><circle cx="485.44" cy="589.30" r="0.33"/><circle cx="484.49" cy="585.57" r="0.33"/><circle cx="484.60" cy="588.18" r="0.33"/><circle cx="485.22" cy="584.39" r="0.33"/><circle cx="494.60" cy="587.03" r="0.33"/><circle cx="488.86" cy="583.59" r="0.33"/><circle cx="482.80" cy="586.12" r="0.33"/><circle cx="492.63" cy="576.55" r="0.33"/><circle cx="478.63" cy="583.71" r="0.33"/><circle cx="483.52" cy="586.07" r="0.33"/><circle cx="494.06" cy="584.08" r="0.33"/><circle cx="478.72" cy="582.08" r="0.33"/><circle cx="491.11" cy="578.65" r="0.33"/><circle cx="494.02" cy="582.47" r="0.33"/><circle cx="489.45" cy="584.58" r="0.33"/><circle cx="484.13" cy="581.97" r="0.33"/><circle cx="482.17" cy="584.76" r="0.33"/><circle cx="489.40" cy="585.20" r="0.33"/><circle cx="481.03" cy="577.18" r="0.33"/><circle cx="482.28" cy="579.75" r="0.33"/><circle cx="492.77" cy="590.07" r="0.33"/><circle cx="486.80" cy="578.73" r="0.33"/><circle cx="479.63" cy="583.53" r="0.33"/><circle cx="489.64" cy="584.17" r="0.33"/><circle cx="500.77" cy="584.33" r="0.33"/><circle cx="481.32" cy="586.10" r="0.33"/><circle cx="486.13" cy="579.84" r="0.33"/><circle cx="499.96" cy="581.97" r="0.33"/><circle cx="484.48" cy="583.06" r="0.33"/><circle cx="487.25" cy="579.72" r="0.33"/><circle cx="493.97" cy="583.63" r="0.33"/><circle cx="475.14" cy="578.28" r="0.33"/><circle cx="481.82" cy="581.34" r="0.33"/><circle cx="488.23" cy="584.10" r="0.33"/><circle cx="485.20" cy="577.72" r="0.33"/><circle cx="482.20" cy="585.91" r="0.33"/><circle cx="486.07" cy="583.15" r="0.33"/><circle cx="486.44" cy="584.57" r="0.33"/><circle cx="486.92" cy="581.93" r="0.33"/><circle cx="487.44" cy="585.82" r="0.33"/><circle cx="489.51" cy="581.82" r="0.33"/><circle cx="482.81" cy="587.36" r="0.33"/><circle cx="475.13" cy="584.12" r="0.33"/><circle cx="481.99" cy="582.81" r="0.33"/><circle cx="491.46" cy="580.65" r="0.33"/><circle cx="476.95" cy="584.43" r="0.33"/><circle cx="484.37" cy="584.66" r="0.33"/><circle cx="487.02" cy="585.09" r="0.33"/><circle cx="488.58" cy="578.08" r="0.33"/><circle cx="486.62" cy="583.65" r="0.33"/><circle cx="486.26" cy="583.35" r="0.33"/><circle cx="482.24" cy="581.63" r="0.33"/><circle cx="484.04" cy="581.73" r="0.33"/><circle cx="481.32" cy="579.12" r="0.33"/><circle cx="482.67" cy="590.31" r="0.33"/><circle cx="482.95" cy="591.90" r="0.33"/><circle cx="496.79" cy="582.31" r="0.33"/><circle cx="477.98" cy="585.42" r="0.33"/><circle cx="490.26" cy="581.89" r="0.33"/><circle cx="486.46" cy="580.41" r="0.33"/><circle cx="485.98" cy="588.89" r="0.33"/><circle cx="484.15" cy="578.42" r="0.33"/><circle cx="490.66" cy="584.28" r="0.33"/><circle cx="491.81" cy="583.78" r="0.33"/><circle cx="481.34" cy="582.04" r="0.33"/><circle cx="480.70" cy="583.68" r="0.33"/><circle cx="490.90" cy="583.44" r="0.33"/><circle cx="485.52" cy="579.61" r="0.33"/><circle cx="489.39" cy="583.11" r="0.33"/><circle cx="486.29" cy="583.60" r="0.33"/><circle cx="483.21" cy="584.35" r="0.33"/><circle cx="478.35" cy="584.68" r="0.33"/><circle cx="492.22" cy="582.36" r="0.33"/><circle cx="492.58" cy="587.77" r="0.33"/><circle cx="493.72" cy="580.78" r="0.33"/><circle cx="486.66" cy="586.39" r="0.33"/><circle cx="486.19" cy="587.09" r="0.33"/><circle cx="492.48" cy="580.58" r="0.33"/><circle cx="478.24" cy="582.63" r="0.33"/><circle cx="488.68" cy="585.58" r="0.33"/><circle cx="487.68" cy="583.36" r="0.33"/><circle cx="490.96" cy="584.11" r="0.33"/></g>
<ellipse cx="485.00" cy="583.00" rx="9.00" ry="5.00" transform="rotate(0 485.00 583.00)" fill="#5a4cb0" opacity="0.3" filter="url(#bl70)"/>
<path d="M478.0,578.2 Q481.5,576.5 484.5,578.6 Q488.5,581.0 492.5,583.0 Q488.5,585.5 484.0,588.0 Q481.0,590.5 478.5,589.0 Q476.2,583.5 478.0,578.2 Z" fill="#3b2d95" filter="url(#bl45)"/>
<g filter="url(#bl45)" opacity="1.0"><ellipse cx="481.20" cy="583.40" rx="3.60" ry="4.20" transform="rotate(0 481.20 583.40)" fill="#2f42bc"/><ellipse cx="481.20" cy="583.40" rx="3.10" ry="3.61" transform="rotate(0 481.20 583.40)" fill="#2a6ed4"/><ellipse cx="481.20" cy="583.40" rx="2.59" ry="3.02" transform="rotate(0 481.20 583.40)" fill="#28a8d8"/><ellipse cx="481.20" cy="583.40" rx="2.09" ry="2.44" transform="rotate(0 481.20 583.40)" fill="#3cc49c"/><ellipse cx="481.20" cy="583.40" rx="1.66" ry="1.93" transform="rotate(0 481.20 583.40)" fill="#88cc3a"/><ellipse cx="481.20" cy="583.40" rx="1.26" ry="1.47" transform="rotate(0 481.20 583.40)" fill="#e6d322"/><ellipse cx="481.20" cy="583.40" rx="0.86" ry="1.01" transform="rotate(0 481.20 583.40)" fill="#f08a1c"/><ellipse cx="481.20" cy="583.40" rx="0.50" ry="0.59" transform="rotate(0 481.20 583.40)" fill="#e0281c"/></g>
<line x1="326.10" y1="560.50" x2="326.10" y2="603.80" stroke="#555" stroke-width="0.7" />
<line x1="309.20" y1="587.30" x2="351.90" y2="587.30" stroke="#555" stroke-width="0.7" />
<text stroke="#2a2a2a" stroke-width="0.14" x="309.60" y="565.60" font-size="5.4" fill="#2a2a2a" textLength="15.10" lengthAdjust="spacingAndGlyphs" >23.9%</text>
<text stroke="#2a2a2a" stroke-width="0.14" x="336.60" y="565.60" font-size="5.4" fill="#2a2a2a" textLength="15.00" lengthAdjust="spacingAndGlyphs" >49.3%</text>
<text stroke="#2a2a2a" stroke-width="0.14" x="309.60" y="603.20" font-size="5.4" fill="#2a2a2a" textLength="15.10" lengthAdjust="spacingAndGlyphs" >8.83%</text>
<text stroke="#2a2a2a" stroke-width="0.14" x="336.60" y="603.20" font-size="5.4" fill="#2a2a2a" textLength="15.00" lengthAdjust="spacingAndGlyphs" >17.9%</text>
<line x1="379.50" y1="560.50" x2="379.50" y2="603.80" stroke="#555" stroke-width="0.7" />
<line x1="363.40" y1="587.30" x2="405.30" y2="587.30" stroke="#555" stroke-width="0.7" />
<text stroke="#2a2a2a" stroke-width="0.14" x="363.80" y="565.60" font-size="5.4" fill="#2a2a2a" textLength="15.10" lengthAdjust="spacingAndGlyphs" >23.1%</text>
<text stroke="#2a2a2a" stroke-width="0.14" x="390.00" y="565.60" font-size="5.4" fill="#2a2a2a" textLength="15.00" lengthAdjust="spacingAndGlyphs" >39.9%</text>
<text stroke="#2a2a2a" stroke-width="0.14" x="363.80" y="603.20" font-size="5.4" fill="#2a2a2a" textLength="15.10" lengthAdjust="spacingAndGlyphs" >19.0%</text>
<text stroke="#2a2a2a" stroke-width="0.14" x="390.00" y="603.20" font-size="5.4" fill="#2a2a2a" textLength="15.00" lengthAdjust="spacingAndGlyphs" >18.0%</text>
<line x1="433.20" y1="560.50" x2="433.20" y2="603.80" stroke="#555" stroke-width="0.7" />
<line x1="417.10" y1="587.30" x2="458.40" y2="587.30" stroke="#555" stroke-width="0.7" />
<text stroke="#2a2a2a" stroke-width="0.14" x="417.50" y="565.60" font-size="5.4" fill="#2a2a2a" textLength="15.10" lengthAdjust="spacingAndGlyphs" >97.7%</text>
<text stroke="#2a2a2a" stroke-width="0.14" x="443.10" y="565.60" font-size="5.4" fill="#2a2a2a" textLength="15.00" lengthAdjust="spacingAndGlyphs" >0.34%</text>
<text stroke="#2a2a2a" stroke-width="0.14" x="417.50" y="603.20" font-size="5.4" fill="#2a2a2a" textLength="15.10" lengthAdjust="spacingAndGlyphs" >1.95%</text>
<text stroke="#2a2a2a" stroke-width="0.14" x="443.10" y="603.20" font-size="5.4" fill="#2a2a2a" textLength="15.00" lengthAdjust="spacingAndGlyphs" >0.01%</text>
<line x1="487.80" y1="560.50" x2="487.80" y2="603.80" stroke="#555" stroke-width="0.7" />
<line x1="470.90" y1="587.30" x2="512.90" y2="587.30" stroke="#555" stroke-width="0.7" />
<text stroke="#2a2a2a" stroke-width="0.14" x="471.30" y="565.60" font-size="5.4" fill="#2a2a2a" textLength="15.10" lengthAdjust="spacingAndGlyphs" >91.6%</text>
<text stroke="#2a2a2a" stroke-width="0.14" x="497.60" y="565.60" font-size="5.4" fill="#2a2a2a" textLength="15.00" lengthAdjust="spacingAndGlyphs" >3.18%</text>
<text stroke="#2a2a2a" stroke-width="0.14" x="471.30" y="603.20" font-size="5.4" fill="#2a2a2a" textLength="15.10" lengthAdjust="spacingAndGlyphs" >5.03%</text>
<text stroke="#2a2a2a" stroke-width="0.14" x="497.60" y="603.20" font-size="5.4" fill="#2a2a2a" textLength="15.00" lengthAdjust="spacingAndGlyphs" >0.16%</text>
<text stroke="#1e1e1e" stroke-width="0.14" x="266.00" y="580.20" font-size="6.6" textLength="12.30" lengthAdjust="spacingAndGlyphs" >GFP</text>
<text stroke="#1e1e1e" stroke-width="0.14" x="278.60" y="577.00" font-size="4.0" >+</text>
<text stroke="#1e1e1e" stroke-width="0.14" x="266.70" y="587.70" font-size="6.6" textLength="12.00" lengthAdjust="spacingAndGlyphs" >cells</text>
<line x1="284.80" y1="558.50" x2="284.80" y2="605.60" stroke="#222" stroke-width="1.0" />
<path d="M292.9,584.5 L292.9,617.3 L497.5,617.3" fill="none" stroke="#1a1a1a" stroke-width="1.1"/>
<polygon points="292.9,580.6 290.7,585.6 295.1,585.6" fill="#1a1a1a"/>
<polygon points="501.5,617.3 496.5,615.1 496.5,619.5" fill="#1a1a1a"/>
<text stroke="#1e1e1e" stroke-width="0.14" font-size="6.8" text-anchor="middle" transform="translate(294.8,568.9) rotate(-90)" textLength="15.5" lengthAdjust="spacingAndGlyphs">B220</text>
<text stroke="#1e1e1e" stroke-width="0.14" x="504.90" y="619.80" font-size="6.8" textLength="8.20" lengthAdjust="spacingAndGlyphs" >Kit</text>
</g>
<rect x="0.5" y="0.5" width="519" height="628" fill="none" stroke="#000" stroke-width="1.2"/>
</svg>
</body></html>
